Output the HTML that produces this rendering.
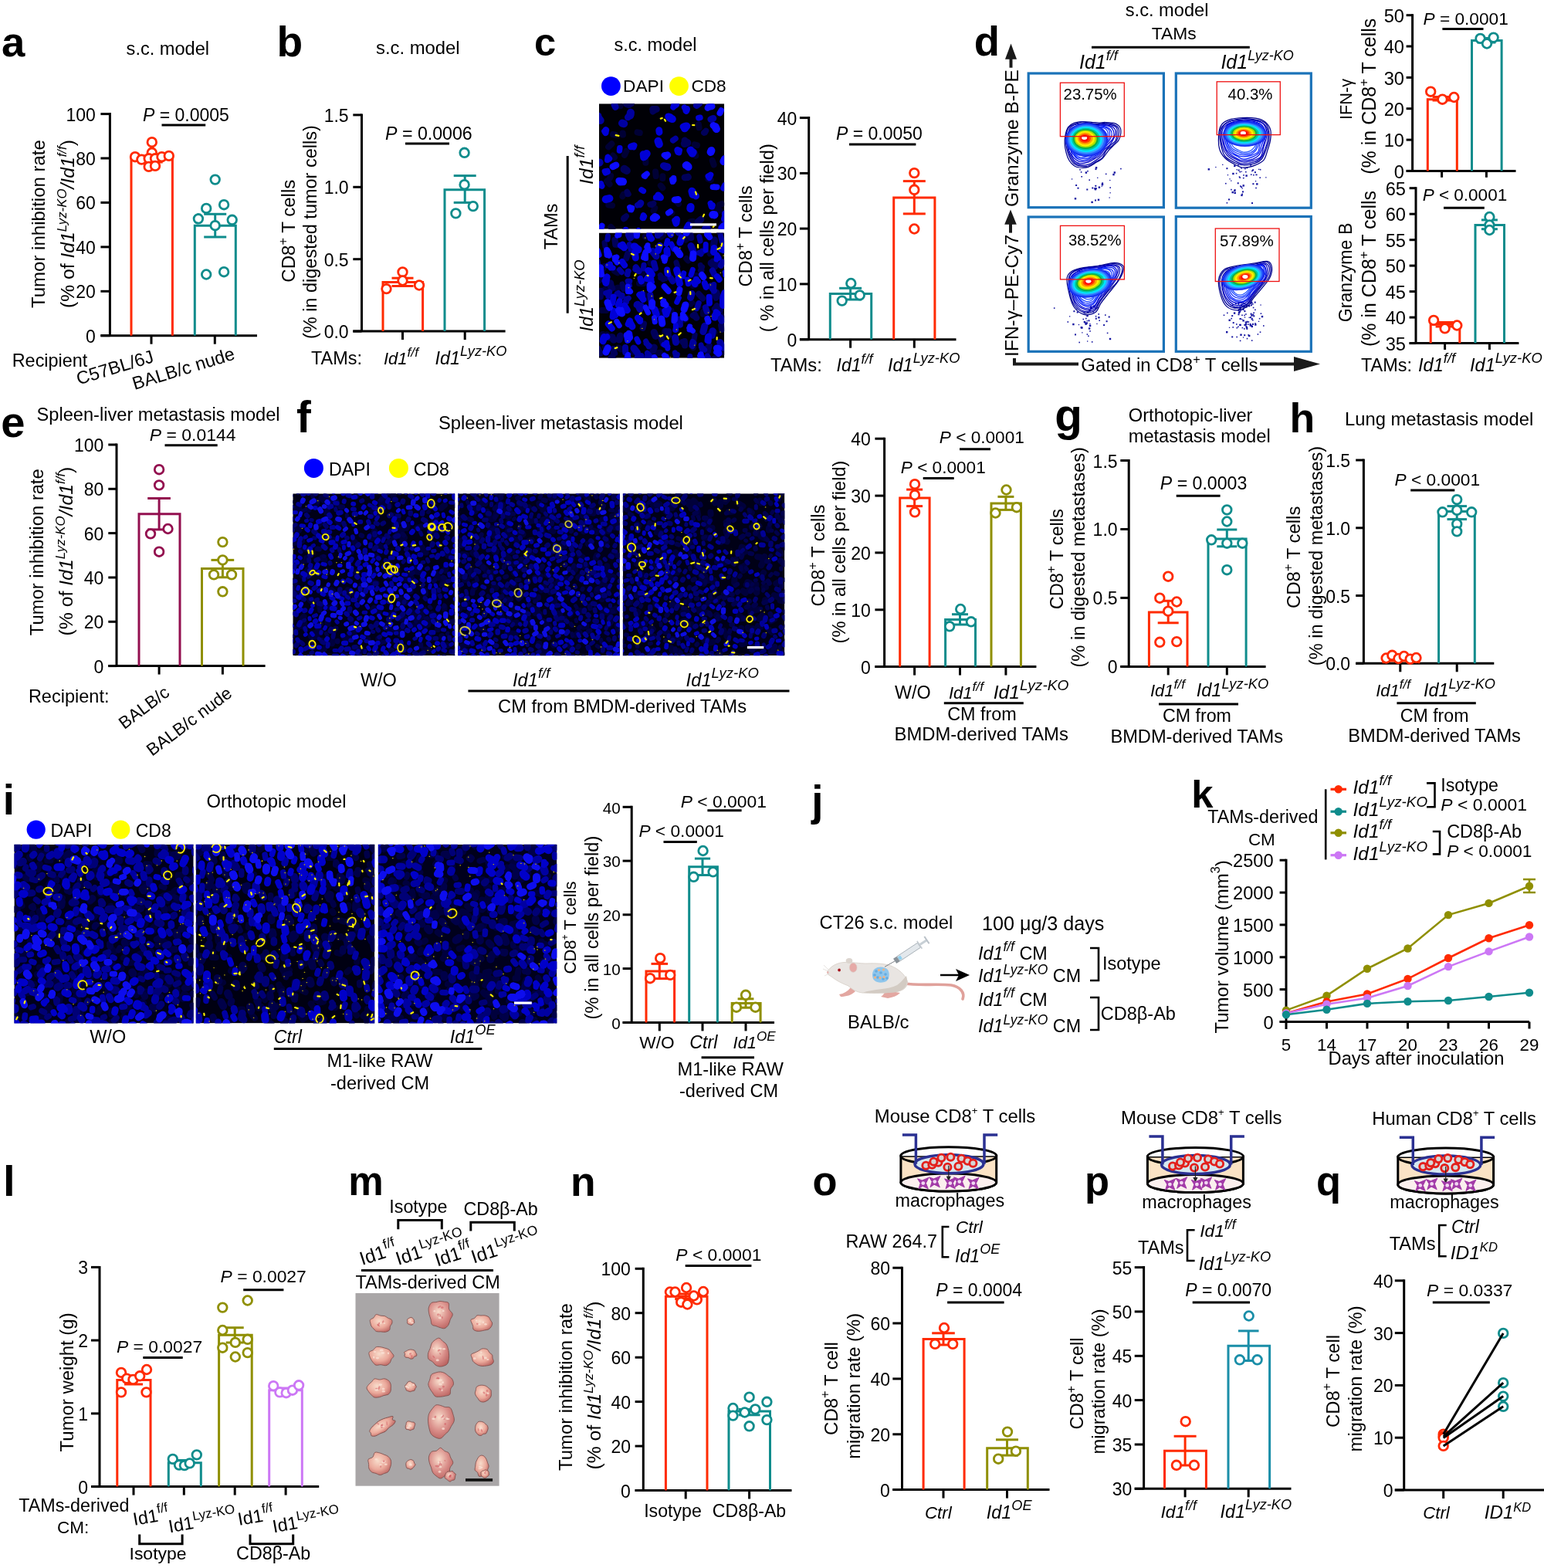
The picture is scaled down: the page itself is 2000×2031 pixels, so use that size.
<!DOCTYPE html>
<html><head><meta charset="utf-8"><title>Figure</title>
<style>
html,body{margin:0;padding:0;background:#fff;}
body{width:2000px;height:2031px;overflow:hidden;}
svg{display:block;font-family:"Liberation Sans",Arial,sans-serif;}
</style></head><body>
<svg width="2000" height="2031" viewBox="0 0 2000 2031">
<defs><filter id="mblur" x="0" y="0" width="1" height="1"><feGaussianBlur stdDeviation="0.55"/></filter></defs>
<rect width="2000" height="2031" fill="#fff"/>
<text x="2.0" y="72.5" font-size="54.55" font-weight="bold">a</text>
<text x="163.6" y="70.8" font-size="23.58">s.c. model</text>
<path d="M142.4 146.1 V434.7" stroke="#000" stroke-width="3" fill="none"/>
<line x1="130.4" y1="434.7" x2="333.0" y2="434.7" stroke="#000" stroke-width="3"/>
<line x1="130.4" y1="147.6" x2="142.4" y2="147.6" stroke="#000" stroke-width="3"/>
<text x="85.4" y="156.6" font-size="23.00">100</text>
<line x1="130.4" y1="205.0" x2="142.4" y2="205.0" stroke="#000" stroke-width="3"/>
<text x="98.3" y="214.0" font-size="23.00">80</text>
<line x1="130.4" y1="262.4" x2="142.4" y2="262.4" stroke="#000" stroke-width="3"/>
<text x="98.3" y="271.4" font-size="23.00">60</text>
<line x1="130.4" y1="319.9" x2="142.4" y2="319.9" stroke="#000" stroke-width="3"/>
<text x="98.3" y="328.8" font-size="23.00">40</text>
<line x1="130.4" y1="377.3" x2="142.4" y2="377.3" stroke="#000" stroke-width="3"/>
<text x="98.3" y="386.2" font-size="23.00">20</text>
<line x1="130.4" y1="434.7" x2="142.4" y2="434.7" stroke="#000" stroke-width="3"/>
<text x="111.0" y="443.7" font-size="23.00">0</text>
<line x1="196.0" y1="434.7" x2="196.0" y2="445.7" stroke="#000" stroke-width="3"/>
<line x1="278.3" y1="434.7" x2="278.3" y2="445.7" stroke="#000" stroke-width="3"/>
<path d="M170.0 434.7 V206.0 H223.4 V434.7" stroke="#ff2a00" stroke-width="3" fill="none"/>
<path d="M252.3 434.7 V292.2 H305.3 V434.7" stroke="#0f8c8c" stroke-width="3" fill="none"/>
<line x1="196.7" y1="206.0" x2="196.7" y2="202.0" stroke="#ff2a00" stroke-width="3"/>
<line x1="182.7" y1="202.0" x2="210.7" y2="202.0" stroke="#ff2a00" stroke-width="3"/>
<line x1="196.7" y1="206.0" x2="196.7" y2="210.0" stroke="#ff2a00" stroke-width="3"/>
<line x1="182.7" y1="210.0" x2="210.7" y2="210.0" stroke="#ff2a00" stroke-width="3"/>
<line x1="278.7" y1="292.2" x2="278.7" y2="277.3" stroke="#0f8c8c" stroke-width="3"/>
<line x1="264.2" y1="277.3" x2="293.2" y2="277.3" stroke="#0f8c8c" stroke-width="3"/>
<line x1="278.7" y1="292.2" x2="278.7" y2="307.0" stroke="#0f8c8c" stroke-width="3"/>
<line x1="264.2" y1="307.0" x2="293.2" y2="307.0" stroke="#0f8c8c" stroke-width="3"/>
<circle cx="196.8" cy="184.2" r="5.8" fill="#fff" stroke="#ff2a00" stroke-width="2.8"/>
<circle cx="196.8" cy="197.8" r="5.8" fill="#fff" stroke="#ff2a00" stroke-width="2.8"/>
<circle cx="175.0" cy="203.2" r="5.8" fill="#fff" stroke="#ff2a00" stroke-width="2.8"/>
<circle cx="183.4" cy="206.6" r="5.8" fill="#fff" stroke="#ff2a00" stroke-width="2.8"/>
<circle cx="192.7" cy="205.3" r="5.8" fill="#fff" stroke="#ff2a00" stroke-width="2.8"/>
<circle cx="201.0" cy="205.3" r="5.8" fill="#fff" stroke="#ff2a00" stroke-width="2.8"/>
<circle cx="209.5" cy="203.2" r="5.8" fill="#fff" stroke="#ff2a00" stroke-width="2.8"/>
<circle cx="218.8" cy="201.9" r="5.8" fill="#fff" stroke="#ff2a00" stroke-width="2.8"/>
<circle cx="192.7" cy="215.9" r="5.8" fill="#fff" stroke="#ff2a00" stroke-width="2.8"/>
<circle cx="201.0" cy="214.9" r="5.8" fill="#fff" stroke="#ff2a00" stroke-width="2.8"/>
<circle cx="278.7" cy="232.6" r="5.8" fill="#fff" stroke="#0f8c8c" stroke-width="2.8"/>
<circle cx="267.2" cy="269.9" r="5.8" fill="#fff" stroke="#0f8c8c" stroke-width="2.8"/>
<circle cx="290.1" cy="265.2" r="5.8" fill="#fff" stroke="#0f8c8c" stroke-width="2.8"/>
<circle cx="256.9" cy="283.3" r="5.8" fill="#fff" stroke="#0f8c8c" stroke-width="2.8"/>
<circle cx="300.7" cy="284.8" r="5.8" fill="#fff" stroke="#0f8c8c" stroke-width="2.8"/>
<circle cx="278.7" cy="292.2" r="5.8" fill="#fff" stroke="#0f8c8c" stroke-width="2.8"/>
<circle cx="267.2" cy="355.5" r="5.8" fill="#fff" stroke="#0f8c8c" stroke-width="2.8"/>
<circle cx="290.1" cy="352.2" r="5.8" fill="#fff" stroke="#0f8c8c" stroke-width="2.8"/>
<text x="185.0" y="157.2"><tspan font-size="23.01" font-style="italic">P</tspan><tspan font-size="23.01"> = 0.0005</tspan></text>
<line x1="209.5" y1="162.0" x2="266.2" y2="162.0" stroke="#000" stroke-width="3"/>
<text transform="translate(57.7,290.0) rotate(-90)" x="-109.0" y="0"><tspan font-size="24.01">Tumor inhibition rate</tspan></text>
<text transform="translate(95.5,290.0) rotate(-90)" x="-109.0" y="0"><tspan font-size="24.70">(% of </tspan><tspan font-size="24.70" font-style="italic">Id1</tspan><tspan font-size="16.79" font-style="italic" dy="-9.88">Lyz-KO</tspan><tspan font-size="24.70" font-style="italic" dy="9.88">/Id1</tspan><tspan font-size="16.79" font-style="italic" dy="-9.88">f/f</tspan><tspan font-size="24.70" dy="9.88">)</tspan></text>
<text x="15.7" y="474.5" font-size="23.43">Recipient</text>
<text x="-103.2" y="0.0" transform="translate(200.5,468.5) rotate(-17)"><tspan font-size="23.50">C57BL/6J</tspan></text>
<text x="-137.2" y="0.0" transform="translate(305.5,465) rotate(-17)"><tspan font-size="23.50">BALB/c nude</tspan></text>
<text x="358.5" y="72.9" font-size="55.10" font-weight="bold">b</text>
<text x="487.0" y="69.9" font-size="23.84">s.c. model</text>
<path d="M468.5 147.4 V429.1" stroke="#000" stroke-width="3" fill="none"/>
<line x1="457.3" y1="429.1" x2="654.6" y2="429.1" stroke="#000" stroke-width="3"/>
<line x1="457.3" y1="148.9" x2="468.5" y2="148.9" stroke="#000" stroke-width="3"/>
<text x="419.7" y="157.9" font-size="23.00">1.5</text>
<line x1="457.3" y1="242.3" x2="468.5" y2="242.3" stroke="#000" stroke-width="3"/>
<text x="419.7" y="251.3" font-size="23.00">1.0</text>
<line x1="457.3" y1="335.7" x2="468.5" y2="335.7" stroke="#000" stroke-width="3"/>
<text x="419.7" y="344.7" font-size="23.00">0.5</text>
<line x1="457.3" y1="429.1" x2="468.5" y2="429.1" stroke="#000" stroke-width="3"/>
<text x="419.7" y="438.1" font-size="23.00">0.0</text>
<line x1="521.5" y1="429.1" x2="521.5" y2="440.1" stroke="#000" stroke-width="3"/>
<line x1="602.2" y1="429.1" x2="602.2" y2="440.1" stroke="#000" stroke-width="3"/>
<path d="M496.0 429.1 V365.4 H547.6 V429.1" stroke="#ff2a00" stroke-width="3" fill="none"/>
<path d="M576.0 429.1 V245.7 H627.6 V429.1" stroke="#0f8c8c" stroke-width="3" fill="none"/>
<line x1="521.5" y1="365.4" x2="521.5" y2="360.2" stroke="#ff2a00" stroke-width="3"/>
<line x1="507.5" y1="360.2" x2="535.5" y2="360.2" stroke="#ff2a00" stroke-width="3"/>
<line x1="521.5" y1="365.4" x2="521.5" y2="370.5" stroke="#ff2a00" stroke-width="3"/>
<line x1="507.5" y1="370.5" x2="535.5" y2="370.5" stroke="#ff2a00" stroke-width="3"/>
<line x1="602.2" y1="245.7" x2="602.2" y2="227.6" stroke="#0f8c8c" stroke-width="3"/>
<line x1="587.7" y1="227.6" x2="616.7" y2="227.6" stroke="#0f8c8c" stroke-width="3"/>
<line x1="602.2" y1="245.7" x2="602.2" y2="262.4" stroke="#0f8c8c" stroke-width="3"/>
<line x1="587.7" y1="262.4" x2="616.7" y2="262.4" stroke="#0f8c8c" stroke-width="3"/>
<circle cx="521.5" cy="352.4" r="5.8" fill="#fff" stroke="#ff2a00" stroke-width="2.8"/>
<circle cx="500.5" cy="374.1" r="5.8" fill="#fff" stroke="#ff2a00" stroke-width="2.8"/>
<circle cx="543.0" cy="369.5" r="5.8" fill="#fff" stroke="#ff2a00" stroke-width="2.8"/>
<circle cx="521.5" cy="363.5" r="5.8" fill="#fff" stroke="#ff2a00" stroke-width="2.8"/>
<circle cx="601.6" cy="197.8" r="5.8" fill="#fff" stroke="#0f8c8c" stroke-width="2.8"/>
<circle cx="601.6" cy="239.2" r="5.8" fill="#fff" stroke="#0f8c8c" stroke-width="2.8"/>
<circle cx="590.4" cy="276.4" r="5.8" fill="#fff" stroke="#0f8c8c" stroke-width="2.8"/>
<circle cx="612.8" cy="267.1" r="5.8" fill="#fff" stroke="#0f8c8c" stroke-width="2.8"/>
<text x="499.0" y="180.5"><tspan font-size="23.18" font-style="italic">P</tspan><tspan font-size="23.18"> = 0.0006</tspan></text>
<line x1="525.0" y1="186.0" x2="582.0" y2="186.0" stroke="#000" stroke-width="3"/>
<text transform="translate(381.9,299.2) rotate(-90)" x="-66.5" y="0"><tspan font-size="24.06">CD8</tspan><tspan font-size="16.36" dy="-10.11">+</tspan><tspan font-size="24.06" dy="10.11"> T cells</tspan></text>
<text transform="translate(409.5,300.6) rotate(-90)" x="-138.5" y="0"><tspan font-size="23.50">(% in digested tumor cells)</tspan></text>
<text x="403.0" y="472.0" font-size="23.45">TAMs:</text>
<text x="497.0" y="472.0"><tspan font-size="22.00" font-style="italic">Id1</tspan><tspan font-size="17.16" font-style="italic" dy="-9.90">f/f</tspan></text>
<text x="563.4" y="472.0"><tspan font-size="23.42" font-style="italic">Id1</tspan><tspan font-size="18.26" font-style="italic" dy="-10.54">Lyz-KO</tspan></text>
<text x="692.0" y="72.4" font-size="50.73" font-weight="bold">c</text>
<text x="795.4" y="66.4" font-size="23.51">s.c. model</text>
<circle cx="791.4" cy="111.6" r="12.4" fill="#0000ff"/>
<text x="807.0" y="118.8" font-size="22.70">DAPI</text>
<circle cx="879.5" cy="111.6" r="12.4" fill="#ffff00"/>
<text x="895.4" y="118.8" font-size="22.65">CD8</text>
<clipPath id="c1"><rect x="776.0" y="134.3" width="162.2" height="162.4"/></clipPath>
<g clip-path="url(#c1)">
<rect x="776.0" y="134.3" width="162.2" height="162.4" fill="#000006"/>
<g filter="url(#mblur)">
<path fill="none" stroke="#000036" stroke-width="8" stroke-linecap="round" d="M849.1 222.4l.6 5.7M858.4 228.3l-.1 2.7M877.5 262.1l1.4 1.9M788.3 265.5l4.7 .6M936.1 288.8l-1.6 4.3M799.5 136.4l4 .8M806.7 172.5l.2 2.1M848.3 269.3l-1.7 3.7M855.8 240.4l2.5 2.9M939.4 293.9l-3.3 4.3M825.6 171.3l3.1 .7M899.4 196.8l1.9 5M930.6 271.3l1.6 1.2M922.7 207.8l1.9 5.6M786.2 234.6l3.4 3.8M792.3 186.3l-4.2 4M794 174.1l2.4 .4M904.9 161.1l.7 4.2M807.5 252l-1.1 2.3M794 201.6l1.9 2.1M935 264.2l-3 1.1M811.3 195.9l-2.3 4.9M791.3 293.9l2 2.1M899.8 187.4l3.1 .7M791.1 227.5l-.9 2.8M836.1 205l.3 5.8M868 274.4l2.4 1.3M922.1 266.3l2.5 1.7M897.3 286.8l-2.8 .4M917.3 231.7l3.5 1.2"/>
<path fill="none" stroke="rgb(0,0,90)" stroke-width="7.5" stroke-linecap="round" d="M812.2 248.5l1.8 2.9M812.7 249.4l.3 2M848 143.1l-2.4 1.7M891.3 228.4l-3 1.8M906.9 285.5l-3.3 1.7M844.4 264.1l-2.4 .7M846.6 263.5l-2.5 1.8M913.3 170.6l-1.5 1.4M914.5 169.3l-1.2 2.3M809.8 282.3l-1.9 1.2M811.2 280l-2.8 2"/>
<path fill="none" stroke="rgb(0,0,90)" stroke-width="8.8" stroke-linecap="round" d="M850.3 141.4l-4.7 .1M891.5 229.5l-4.5 .4M907.9 284.2l-3 2.4M811.6 134.7l3.1 1.1M808.1 219.8l2.8 .9M890.1 184.7l-3.1-2.7"/>
<path fill="none" stroke="rgb(0,0,90)" stroke-width="10.0" stroke-linecap="round" d="M814.8 133l2.4 .4M808.7 218.8l3.1 2.3M890.3 185l-3.5 1.1"/>
<path fill="none" stroke="rgb(0,0,160)" stroke-width="7.5" stroke-linecap="round" d="M875 179.5l-3.3 2.4M829.2 263.8l-3.5 2"/>
<path fill="none" stroke="rgb(0,0,160)" stroke-width="8.8" stroke-linecap="round" d="M796 135.9l1.2 2.6M774.9 149.9l.3 3.9M829.9 263l-1.1 1.9M859.4 214.6l2.8 .6M905.8 133.8l-3.5 2.8M923.9 153.3l-3.1 1.2M817 148.4l-3.6 3.5M916.5 296.2l-.5 3.2"/>
<path fill="none" stroke="rgb(0,0,160)" stroke-width="10.0" stroke-linecap="round" d="M806 159.6l2.2 .6M774.7 152.2l3 3.9M776.6 210.5l-3.6 .7M861.9 215.7l2.5 .7M816.9 145.8l-.5 3.6M913.8 296.9l1 2.3"/>
<path fill="none" stroke="rgb(0,0,215)" stroke-width="7.5" stroke-linecap="round" d="M782.9 170l1.6 2.4M802.8 191.8l-.3 3.2M834.4 280.4l-.9 1.8M833.4 278.9l-1 3.5M938.8 239.9l-1.9 4M939.4 242.8l-2.1 .5M893 292l-1.2 3.7M778.6 237.8l-4 1.3M779.7 241l-1.9-1.1M849.6 255.8l4.7 .2M787.1 222.6l-2.8 1.3M786.6 221.3l-3.2 .7M831 245.9l2.3 1.5M919.2 227.2l-1.9 1.1M920.6 226.4l-1.9 3.9M880.2 194.8l-.6 2.8M873.9 285.5l1.5 4.4M821.7 188.2l-.9 2.5M920.3 263.4l1.1 4.2M923 265.7l-.6 2.3M787.2 203.8l-.5 3.5M787.4 203.6l2 2.1M873.4 135l-1.4 3.9M886.5 139.1l1.8 2.7M906.9 152.3l-2 .4"/>
<path fill="none" stroke="rgb(0,0,215)" stroke-width="8.8" stroke-linecap="round" d="M784.8 168.5l-.6 2.5M865.6 150.8l2.6 .7M891.9 291.6l-2.1 3.7M852.6 252.8l3 3M898.5 251.1l3 2.9M877.7 194.5l.8 2.3M939.5 280.1l-1.1 3.6M894.6 194.2l3.7 2.9M853.7 168.7l.3 2.6M876.6 284.1l-.6 4.5M887.4 163.1l-2.4 .9M820.3 189.1l-2.9 .8M875.8 135.4l-1.9 1.2M889.6 141.3l-.7 2.2M833.1 199.7l.5 4.3M810.6 298.2l-1.7 2.4"/>
<path fill="none" stroke="rgb(0,0,215)" stroke-width="10.0" stroke-linecap="round" d="M867.8 152.9l3 1.2M896.4 247.7l1.1 4.2M939.8 277.2l.5 4.4M894.3 194.7l2.4 4M789.4 257l-4.7 1.2M889.3 163.4l-2.4 2.9M894.6 267.9l-.3 2.4M852.5 182.8l1.3 3.9M837.7 199l-2.9 3.8"/>
<path fill="none" stroke="rgb(10,10,255)" stroke-width="7.5" stroke-linecap="round" d="M779.8 292.3l-.6 2.3M815.8 268.5l.9 3M818.5 269.4l-.7 2.2M868.4 274l-2.7 1.8M827 298.5l-.8 2.2M870.7 232.3l.7 3M872.6 230.8l.2 2.2M923.4 242.3l3.9 .3M924.7 242l4.1 .2M851.2 281.3l-2.7 2.1M919.7 137.8l-3.3 2.3M837 225.9l-1.3 2.4M838 225.2l-3.5 2.6M933.1 144.9l-.9 1.8M934.3 142.9l-1.4 3.4M863.1 203l-2.7-2.1"/>
<path fill="none" stroke="rgb(10,10,255)" stroke-width="8.8" stroke-linecap="round" d="M923.9 162.3l3.2 3M922.9 278.5l2.3 .5M888.1 214.2l3.1 .4M848.5 280.4l-2.4 2.1M797.9 213.9l-4 2M922.1 137.7l-4.6 1.1M878.5 258.5l-4.4 .3M937.4 292.5l-2.7 3M864.8 200.7l-2.4 .6M805 234.3l-3.3-.2"/>
<path fill="none" stroke="rgb(10,10,255)" stroke-width="10.0" stroke-linecap="round" d="M926.6 164.1l1.3 3M923.4 277.9l2.2 .3M889.4 214l2.2 2.2M921.4 195l-.8 2M938.9 205.9l-1.5 3.2M938.2 294.1l-.5 3.5M807 235.3l-3.6 .2"/>
<path fill="none" stroke="#fff200" stroke-width="2.2" stroke-linecap="round" d="M924.8 293l-1 1M912 277.8l-1.2 2.6M897.1 162l2.2 .2M860.9 154.8l1.1 1.9M797.7 175.2l3.7 .6M901 248.6l1 3.2M857.7 153l-1.9 .6"/>
</g></g>
<clipPath id="c2"><rect x="776.0" y="301.5" width="162.2" height="162.3"/></clipPath>
<g clip-path="url(#c2)">
<rect x="776.0" y="301.5" width="162.2" height="162.3" fill="#000006"/>
<g filter="url(#mblur)">
<path fill="none" stroke="#00003a" stroke-width="8" stroke-linecap="round" d="M850.9 407.2l4.2 2M779 361.5l-2.6 1.7M889 397.3l-2.1 3.7M800.8 372.5l-2.5 .8M786.2 433.4l-1.3 1.9M828 367l5.4 .3M783.9 449.4l3.9 1.1M935.8 454l.6 2.4M796 351.1l3.9 2.2M890.2 309.1l-2.2 1.5M840.8 367.3l.3 4.4M840.8 306.2l-4.9 .5M933.6 407.6l1.4 3.1M887 410l1.8 1.7M834.9 381.9l-0 5.2M780.7 433.1l-.2 3.7M813.4 369.7l-2.7 2.3M793.4 389.7l-1.6 2.2M782.7 344.8l-1.4 3.1M783.5 374.9l1.8 2.2M855.2 456.8l-3.9 .5M801.7 450.5l2.9 1.9M896.7 448.8l1.3 1.5M899.5 356.9l3 .1M785.5 402l-5.9 0M859 304.4l-2.6 2M911.1 403.8l-.2 2.9M854.9 403l-3 .5M922.5 327.2l-2.9 1.2M822.3 453l-2.3 3.3M889.2 335.1l2.2 2.3M888 413.7l-2.4 .9M846 340.5l-3.7 .2M869.6 402.6l-5.6 .7M901.4 368.6l-4.1 1.3M903.3 394.1l1.4 3.1M896 392.1l-1.3 1.6M925.3 430.2l-5.4 1.6M861.1 429l3.4 1.1M834.9 349.8l-3.2 4.8"/>
<path fill="none" stroke="rgb(0,0,90)" stroke-width="7.0" stroke-linecap="round" d="M796.8 313.1l2.9 4.3M897 408.7l5.8 3.1M930 296.1l3.8 6M806 367.9l1.7 6.8M855.3 356.4l3.6 5.6M855.7 360l6.4 .7M907.3 343.3l1.7 6.6M909.6 345.7l-2.2 4.6M876 339.9l1.9 5.7M876.4 341.5l1.3 4.2M783.1 314.3l.8 4.9M914.3 451.2l3 3.7M862.6 428.7l4 5.8M883.5 442.6l3.8 4.8M900.1 433.7l-1.3 6.9M895.1 304.4l.6 4.1M892.8 304.1l1.6 4.3M794.6 451.5l2.1 6.3M793.8 451.6l.7 7.7M774.9 451.1l3.3 7.1M773.9 450.8l1.8 5.6M857.4 437.5l.8 8"/>
<path fill="none" stroke="rgb(0,0,90)" stroke-width="8.0" stroke-linecap="round" d="M796.5 310.7l.7 6M899.8 407.3l2 4.3M778.3 376.7l-.5 7.7M931 297.9l1.5 3.8M925.8 400l4.4 3.1M834 419.4l-1.3 5.5M905.2 380.8l5 5.6M925 380.1l2.5 5.7M934.1 421.5l1 5.4M813.2 328.4l-2 6.3M788.2 437.2l5.3-.6M918.7 447.9l-2 7.4M866.2 429.3l-.9 4.8M886.8 441.9l.3 5.7M927.9 463.9l1.4 6.3M789.8 369.4l3.4 3.9M923.3 338.8l5.3 3.7M856.1 438l1.5 3.8"/>
<path fill="none" stroke="rgb(0,0,90)" stroke-width="9.0" stroke-linecap="round" d="M928.7 396.6l3.6 5.3M927.9 379l1.3 4.5M792 436.7l3 3.6M803.5 435.1l-1.5 5M847.3 449.9l-1.5 4M926.1 464.5l1.2 4.1M790.6 366.8l1.2 6.1M847.2 430.4l2.1 5M921.1 340.7l4.6 4.7M925.5 310.9l-1.1 7.5M792.1 463l4 4.9"/>
<path fill="none" stroke="rgb(0,0,160)" stroke-width="7.0" stroke-linecap="round" d="M813.1 364.1l2.4 5.7M815.8 364l-1.7 4.9M813.2 351.4l-.2 4.3M814.2 351.1l-1.9 4M834 343.3l-.7 4.6M811.2 387l.2 4M814.3 386.1l-4.1 3.9M836.6 442l3.6 6.9M837.1 444.9l4.1 3M909.5 325.1l-1.4 4M911.3 325.5l-6.4 2M802.5 349.3l2.9 3.4M787.4 305.8l-.5 4.3M774 338.2l.8 4.6M877.3 459.1l-1.4 3.8M874.3 456.8l1.5 5M838.8 458l-.4 6.6M838.4 457.3l4.6 4.6M789.7 378.1l-1.8 5.8M789.7 378.2l-5 1.4M933.5 305.9l1.9 7.4M898.9 444.2l-2 4.3M897.1 442.3l-1.2 5.3M822.7 349l5.3 2.4M893.8 461.4l0 5.2M801.1 379.5l3.7 5.4M798.9 380.5l7.2 1.8M905.3 392.5l-2.9 7.3M881.2 415.5l-2.4 4M924.8 368.4l-.3 5.7M815.3 316.5l1.8 6.5M876.2 298.4l2.7 3.7M908.1 446.9l1.4 6.2M908.4 449.5l4.3 3.6M905.8 306.5l1.3 5.6"/>
<path fill="none" stroke="rgb(0,0,160)" stroke-width="8.0" stroke-linecap="round" d="M810 449.9l.2 6.5M815.3 302.6l4.3 3M922.8 350.5l2.1 4.1M913.8 398.2l1.9 5.4M842.3 381.7l.9 7.5M916.3 461.6l3.6 6.8M868.7 360.1l2.7 4.1M830.6 461l.5 5.4M824.6 394.8l5.9 1.2M852.3 298.3l-.3 6.7M823.7 346.2l3.7 4.9M880.2 413.6l.7 7.1M920.5 370.6l4.4 6M935.9 339.3l-2.1 4.6M847.1 340.7l1.7 6.9"/>
<path fill="none" stroke="rgb(0,0,160)" stroke-width="9.0" stroke-linecap="round" d="M845.3 325.5l4.7 6.4M874.5 437.4l1 5.9M814.4 304.2l1.8 4M932.9 411.4l2 3.9M821 451.1l4.4 5.7M912.8 422.3l-1.9 7.3M896 380.4l-1.5 5M923.1 428.7l-.8 5.6M932.7 443.5l3.2 6.6M826.2 462.5l4 4.5M826.1 394.2l2.9 6.2M895 318.6l3 7.2M851.4 296.2l3.7 6"/>
<path fill="none" stroke="rgb(0,0,215)" stroke-width="7.0" stroke-linecap="round" d="M890.4 362l1 5.7M825.9 411.6l3.7 2.4M885.7 353.9l-.8 4.1M918.5 435.1l-.3 6.9M904.6 364.3l-6.3 1.9M897.3 349.3l-2.3 6.9M794.8 403.1l2.8 5.5M837.2 361.5l6.7 .1M875.7 423.2l-.9 4.3M875.3 421.5l.3 5.6M914.2 316.5l-.1 7.4M864 351.5l2 3.8M879.3 385.9l-2.6 5.5M841 302.5l1 6.1M937.4 319.7l-.5 5M938.8 318.6l-5.1 4.8M930.2 406l-4.9 2.6M790.4 342l.8 5.1M787.2 344l6.9 2.9M928.7 330.9l-.6 5.1M928.8 330.3l2.4 4M864.6 311.5l-1.4 4.9M824.9 438.9l2 4.2M869.6 315.9l3 6.5M832 380.3l.8 7.9M863.6 443.8l1.2 7.4M859.9 446.3l4.9 2.6"/>
<path fill="none" stroke="rgb(0,0,215)" stroke-width="8.0" stroke-linecap="round" d="M861.3 402.5l1.9 4.9M794.7 384.6l-1.4 7.6M826 411.7l2.9 4.4M928.9 358.2l2.7 3.7M917.1 436.2l-.6 4.6M901.8 362l-1.5 6.1M937.4 387.6l2.6 5.1M820.9 318.7l6.5 3.7M794.8 402.4l-1.2 7.8M839 359.4l4.9 6M805.8 339.1l3.3 4.5M786.3 436.3l-5 2.6M864.2 349.4l.3 4.6M829.4 360.8l1.4 3.8M787.8 419.6l4.9 5.9M912.8 366.8l1.8 5.1M841.1 305.1l2.9 4.2M839.3 350.2l4.3 6.1M803.9 318l3.8 2.4M927.6 404.3l-1.8 7.2M938.4 379.2l-1.9 5.3M815.8 415.3l-2.1 4.6M802.5 390.2l-1.6 5.1M918.6 384.8l.4 7.9M828.3 381.8l5 6.1M865.3 297l3.6 6.9M786.4 358.5l-2.8 5.1"/>
<path fill="none" stroke="rgb(0,0,215)" stroke-width="9.0" stroke-linecap="round" d="M865.3 400.2l-2.4 6M936.4 388l.3 7.5M822.5 319l4.4 4.8M782.6 436.5l-1.5 5.3M822.4 327l.9 6.9M878.9 360.3l1.5 7.1M883 307.7l-2.1 6.4M925 321.6l-.5 4.8M841.2 351l3.2 4.5M806.4 317.1l2.1 3.7M863.9 324l.4 5.1M815.6 416.9l3.3 6M854.6 318.5l-2.3 6.2M808.8 396.1l3.6 5.7M848 400.9l2.2 6.2M876.5 349.8l1.4 4.7M785.9 359.2l-1.1 7.2"/>
<path fill="none" stroke="rgb(10,10,255)" stroke-width="7.0" stroke-linecap="round" d="M813.5 373.9l3.1 3.9M813.4 371l-0 6.8M884.5 407.6l3.5 5.1M884.4 406.9l.1 5M774.2 324.2l1.9 6.2M798.7 416.2l3.5 5.6M873.2 410.8l-.3 5.1M836.1 398l3.4 7.1M939.3 352.5l2.2 4.3M893.6 422.9l-.6 4.1M892.8 424.8l4.6 3.8M826.1 300.7l-1.1 3.9M796 333.6l3.2 6.6M798.9 333l-2.3 3.7M835.9 326.7l-2.4 7.1M836.3 327.3l.3 7.5M859.7 389.6l-.8 4.6M801.7 301.5l-2 3.6M860.5 460.3l4.6 5.3M847.5 411.6l.8 5.3M917.7 301.3l.5 4.5M906.7 460.6l3.1 2.9M862.1 333.8l-1.1 4.5M859.2 332.8l1.3 4.2M847.6 462.5l.9 6.2M848.5 463.9l-.9 6.6M813.6 459.3l-2.9 7M812.9 460.3l2.4 6.8M839 317.8l-.6 4"/>
<path fill="none" stroke="rgb(10,10,255)" stroke-width="8.0" stroke-linecap="round" d="M777.9 347.9l1.1 7.5M860.6 371.1l5.2 5.8M880.4 375.1l-1 4.1M916.3 412.7l1.2 3.9M874 408.1l-.1 6M875.5 323.3l4.4 6M941.3 352.1l-.9 4M811.9 434l1.1 6.8M824.4 299.9l.4 5.4M859.3 391.2l3.1 3.7M801.6 299.9l-.1 4.1M862.5 462l-.7 5.3M804.5 401.4l1.4 5M786.1 324l.4 5.9M916.1 303.7l3 3.3M845.8 371.8l-3.5 2.6M907.8 459.3l-.4 7.3M931.4 451.1l-3.2 5.1M838.3 320.1l1.7 3.9M909 355.7l2.3 3.4"/>
<path fill="none" stroke="rgb(10,10,255)" stroke-width="9.0" stroke-linecap="round" d="M856.8 412.9l1 6.1M777.6 346.7l-1 7.3M877.7 325.2l3.1 4.7M814.7 432.3l.8 5M787.3 450.6l-2.4 5.5M887.9 394.9l-1.8 5.8M801.4 401.7l2.3 3.7M786.9 325.9l1.7 4.3M842.1 369.6l.2 4.9M890.9 297.1l-1.9 4.6M898 328.8l-.5 5.8M786.9 391.7l2.6 6.7M844.7 391.8l-.3 5.1M928.4 450.9l2.5 6.8"/>
<path fill="none" stroke="#fff200" stroke-width="2.2" stroke-linecap="round" d="M817.9 328.7l2.9 1.3M879.2 357l2.7 2.5M928.7 437.2l-.1 2.5M935.3 315.4l-.9 3.4M830.5 405.5l-1.8 1.3M881.8 431.3l-2.6 2.3M886.8 307l-1.8 2M857.4 385.7l-2.2 .9M858.3 434.2l-2.8 1.7M875.5 378.3l-1.9 .6M791.8 417.2l-3.1 1.7M838.5 356.8l1 .3M863.9 435.7l1.8 2.8M899.9 399.9l-3 1.3M854.5 434.9l1.6 .1M904 317.2l.2 3.5M894.5 362.6l-2.6 1.1M853.2 317.1l3.3 .8M823.6 354.9l-1.4 2.2M932.9 321.3l-3.5 1.5M920 360.2l2.7 .2M799.4 450.1l-2.7 1M894.2 378l.2 3.1M864.9 350.8l.1 1.9"/>
<path fill="none" stroke="#c8b400" stroke-width="1.3" stroke-linecap="round" d="M814.2 372.7l.4 0M812.7 441.8l.4 0M920.8 409.7l.4 0M920.2 369l.4 0M932.9 430.1l.4 0M868.1 462.8l.4 0M821.2 360.3l.4 0M880.5 355.1l.4 0M933.1 353.3l.4 0M844 383.5l.4 0M786 343.1l.4 0M833.3 376.7l.4 0M917.3 404.9l.4 0M835.5 308.2l.4 0M849.2 318.7l.4 0M801.7 340.6l.4 0M876.2 427l.4 0M880.6 321.1l.4 0M849 328.9l.4 0M937 331.1l.4 0M870.4 304.5l.4 0M831.6 425.4l.4 0M847.3 413.8l.4 0M898.1 400.5l.4 0M899.5 447.2l.4 0"/>
</g></g>
<rect x="894.0" y="289.3" width="34.0" height="3.2" fill="#fff"/>
<line x1="735.2" y1="202.0" x2="735.2" y2="405.7" stroke="#000" stroke-width="3"/>
<text transform="translate(721.7,293.5) rotate(-90)" x="-29.8" y="0"><tspan font-size="23.50">TAMs</tspan></text>
<text transform="translate(768.0,212.9) rotate(-90)" x="-26.0" y="0"><tspan font-size="24.67" font-style="italic">Id1</tspan><tspan font-size="19.24" font-style="italic" dy="-11.10">f/f</tspan></text>
<text transform="translate(768.0,383.0) rotate(-90)" x="-46.5" y="0"><tspan font-size="23.39" font-style="italic">Id1</tspan><tspan font-size="18.25" font-style="italic" dy="-10.53">Lyz-KO</tspan></text>
<path d="M1047.7 151.1 V439.7" stroke="#000" stroke-width="3" fill="none"/>
<line x1="1035.9" y1="439.7" x2="1238.5" y2="439.7" stroke="#000" stroke-width="3"/>
<line x1="1035.9" y1="152.6" x2="1047.7" y2="152.6" stroke="#000" stroke-width="3"/>
<text x="1006.8" y="161.6" font-size="23.00">40</text>
<line x1="1035.9" y1="224.4" x2="1047.7" y2="224.4" stroke="#000" stroke-width="3"/>
<text x="1006.8" y="233.3" font-size="23.00">30</text>
<line x1="1035.9" y1="296.1" x2="1047.7" y2="296.1" stroke="#000" stroke-width="3"/>
<text x="1006.8" y="305.1" font-size="23.00">20</text>
<line x1="1035.9" y1="367.9" x2="1047.7" y2="367.9" stroke="#000" stroke-width="3"/>
<text x="1006.8" y="376.9" font-size="23.00">10</text>
<line x1="1035.9" y1="439.7" x2="1047.7" y2="439.7" stroke="#000" stroke-width="3"/>
<text x="1019.5" y="448.7" font-size="23.00">0</text>
<line x1="1101.6" y1="439.7" x2="1101.6" y2="450.7" stroke="#000" stroke-width="3"/>
<line x1="1184.3" y1="439.7" x2="1184.3" y2="450.7" stroke="#000" stroke-width="3"/>
<path d="M1075.3 439.7 V380.6 H1128.7 V439.7" stroke="#0f8c8c" stroke-width="3" fill="none"/>
<path d="M1157.7 439.7 V256.1 H1210.9 V439.7" stroke="#ff2a00" stroke-width="3" fill="none"/>
<line x1="1101.6" y1="380.6" x2="1101.6" y2="373.3" stroke="#0f8c8c" stroke-width="3"/>
<line x1="1087.1" y1="373.3" x2="1116.1" y2="373.3" stroke="#0f8c8c" stroke-width="3"/>
<line x1="1101.6" y1="380.6" x2="1101.6" y2="388.0" stroke="#0f8c8c" stroke-width="3"/>
<line x1="1087.1" y1="388.0" x2="1116.1" y2="388.0" stroke="#0f8c8c" stroke-width="3"/>
<line x1="1184.3" y1="256.1" x2="1184.3" y2="234.6" stroke="#ff2a00" stroke-width="3"/>
<line x1="1169.8" y1="234.6" x2="1198.8" y2="234.6" stroke="#ff2a00" stroke-width="3"/>
<line x1="1184.3" y1="256.1" x2="1184.3" y2="276.9" stroke="#ff2a00" stroke-width="3"/>
<line x1="1169.8" y1="276.9" x2="1198.8" y2="276.9" stroke="#ff2a00" stroke-width="3"/>
<circle cx="1102.3" cy="367.0" r="5.8" fill="#fff" stroke="#0f8c8c" stroke-width="2.8"/>
<circle cx="1090.7" cy="389.6" r="5.8" fill="#fff" stroke="#0f8c8c" stroke-width="2.8"/>
<circle cx="1113.7" cy="382.4" r="5.8" fill="#fff" stroke="#0f8c8c" stroke-width="2.8"/>
<circle cx="1184.3" cy="224.1" r="5.8" fill="#fff" stroke="#ff2a00" stroke-width="2.8"/>
<circle cx="1184.3" cy="245.8" r="5.8" fill="#fff" stroke="#ff2a00" stroke-width="2.8"/>
<circle cx="1184.3" cy="296.5" r="5.8" fill="#fff" stroke="#ff2a00" stroke-width="2.8"/>
<text x="1083.0" y="181.2"><tspan font-size="23.01" font-style="italic">P</tspan><tspan font-size="23.01"> = 0.0050</tspan></text>
<line x1="1100.0" y1="187.0" x2="1186.4" y2="187.0" stroke="#000" stroke-width="3"/>
<text transform="translate(974.4,306.0) rotate(-90)" x="-65.5" y="0"><tspan font-size="23.70">CD8</tspan><tspan font-size="16.12" dy="-9.95">+</tspan><tspan font-size="23.70" dy="9.95"> T cells</tspan></text>
<text transform="translate(1002.4,308.2) rotate(-90)" x="-122.0" y="0"><tspan font-size="23.74">( % in all cells per field)</tspan></text>
<text x="997.9" y="481.0" font-size="23.77">TAMs:</text>
<text x="1083.5" y="481.0"><tspan font-size="23.00" font-style="italic">Id1</tspan><tspan font-size="17.94" font-style="italic" dy="-10.35">f/f</tspan></text>
<text x="1150.0" y="481.0"><tspan font-size="23.49" font-style="italic">Id1</tspan><tspan font-size="18.32" font-style="italic" dy="-10.57">Lyz-KO</tspan></text>
<text x="1261.8" y="71.5" font-size="54.42" font-weight="bold">d</text>
<text x="1457.8" y="20.6" font-size="23.64">s.c. model</text>
<text x="1491.8" y="50.9" font-size="22.80">TAMs</text>
<line x1="1414.0" y1="61.3" x2="1618.8" y2="61.3" stroke="#000" stroke-width="3"/>
<text x="1398.0" y="88.8"><tspan font-size="25.00" font-style="italic">Id1</tspan><tspan font-size="18.00" font-style="italic" dy="-11.25">f/f</tspan></text>
<text x="1581.4" y="89.3"><tspan font-size="25.00" font-style="italic">Id1</tspan><tspan font-size="18.00" font-style="italic" dy="-11.25">Lyz-KO</tspan></text>
<rect x="1332.2" y="95.0" width="175.2" height="173.7" fill="#fff" stroke="#1a72b8" stroke-width="3.2"/>
<rect x="1437.5" y="249.1" width="1.3" height="1.3" fill="#1414a0"/><rect x="1414.3" y="242.5" width="2.0" height="2.0" fill="#1414a0"/><rect x="1398.2" y="219.0" width="1.6" height="1.6" fill="#1414a0"/><rect x="1418.5" y="218.1" width="2.0" height="2.0" fill="#1414a0"/><rect x="1387.9" y="231.3" width="1.3" height="1.3" fill="#1414a0"/><rect x="1410.4" y="232.4" width="1.6" height="1.6" fill="#1414a0"/><rect x="1408.2" y="220.9" width="1.6" height="1.6" fill="#1414a0"/><rect x="1418.9" y="216.0" width="2.4" height="2.4" fill="#1414a0"/><rect x="1451.1" y="217.8" width="1.6" height="1.6" fill="#1414a0"/><rect x="1442.6" y="222.3" width="2.4" height="2.4" fill="#1414a0"/><rect x="1418.3" y="239.8" width="2.0" height="2.0" fill="#1414a0"/><rect x="1399.8" y="222.1" width="1.6" height="1.6" fill="#1414a0"/><rect x="1418.0" y="258.5" width="2.0" height="2.0" fill="#1414a0"/><rect x="1426.7" y="240.5" width="1.3" height="1.3" fill="#1414a0"/><rect x="1436.5" y="255.4" width="1.3" height="1.3" fill="#1414a0"/><rect x="1413.4" y="260.7" width="2.4" height="2.4" fill="#1414a0"/><rect x="1431.9" y="224.6" width="1.6" height="1.6" fill="#1414a0"/><rect x="1407.3" y="244.5" width="2.0" height="2.0" fill="#1414a0"/><rect x="1426.8" y="237.9" width="2.4" height="2.4" fill="#1414a0"/><rect x="1427.1" y="236.4" width="2.0" height="2.0" fill="#1414a0"/><rect x="1405.7" y="222.4" width="2.4" height="2.4" fill="#1414a0"/><rect x="1437.4" y="242.3" width="1.6" height="1.6" fill="#1414a0"/><rect x="1437.1" y="232.9" width="1.3" height="1.3" fill="#1414a0"/><rect x="1418.8" y="243.1" width="2.0" height="2.0" fill="#1414a0"/><rect x="1395.5" y="242.7" width="2.0" height="2.0" fill="#1414a0"/><rect x="1441.3" y="224.9" width="2.4" height="2.4" fill="#1414a0"/><rect x="1400.4" y="228.0" width="1.6" height="1.6" fill="#1414a0"/><rect x="1421.1" y="229.7" width="1.3" height="1.3" fill="#1414a0"/><rect x="1417.8" y="244.0" width="2.4" height="2.4" fill="#1414a0"/><rect x="1417.3" y="243.0" width="2.4" height="2.4" fill="#1414a0"/><rect x="1391.8" y="256.1" width="2.4" height="2.4" fill="#1414a0"/><rect x="1393.1" y="239.0" width="2.0" height="2.0" fill="#1414a0"/><rect x="1421.8" y="257.6" width="2.4" height="2.4" fill="#1414a0"/><rect x="1422.7" y="241.5" width="2.4" height="2.4" fill="#1414a0"/><rect x="1426.8" y="237.6" width="1.6" height="1.6" fill="#1414a0"/><path d="M1379.9 175.5C1380.6 171.9 1381.7 167.5 1383.5 164.8C1385.3 162.2 1387.6 160.8 1390.7 159.6C1393.7 158.4 1397.9 157.9 1401.9 157.6C1405.9 157.4 1411.3 158.1 1414.9 158.4C1418.4 158.6 1420.5 159.0 1423.3 159.0C1426.2 159.0 1428.4 158.4 1431.8 158.5C1435.2 158.6 1440.5 158.6 1443.6 159.7C1446.8 160.8 1449.6 162.9 1450.9 165.2C1452.3 167.5 1452.0 170.8 1451.7 173.5C1451.3 176.3 1450.6 179.2 1448.9 181.8C1447.3 184.4 1444.0 186.8 1441.7 189.1C1439.4 191.4 1437.5 193.1 1435.2 195.8C1433.0 198.5 1430.6 203.0 1428.0 205.4C1425.5 207.9 1423.1 208.5 1420.0 210.3C1417.0 212.1 1413.4 215.2 1409.7 216.4C1406.0 217.5 1400.9 217.3 1397.8 217.0C1394.7 216.6 1393.2 215.9 1391.1 214.4C1389.0 212.9 1386.8 210.8 1385.1 208.0C1383.4 205.2 1382.0 201.4 1381.1 197.8C1380.1 194.2 1379.4 190.3 1379.2 186.5C1379.0 182.8 1379.2 179.1 1379.9 175.5Z" fill="none" stroke="#00008a" stroke-width="1.25"/><path d="M1380.6 176.5C1381.2 173.0 1382.7 167.8 1384.5 165.2C1386.4 162.6 1388.8 162.3 1391.6 161.1C1394.5 159.9 1397.7 158.2 1401.4 158.0C1405.1 157.7 1410.3 159.3 1413.8 159.7C1417.3 160.1 1419.7 160.6 1422.5 160.5C1425.4 160.5 1428.0 159.4 1431.0 159.5C1434.1 159.5 1438.0 159.9 1440.9 160.9C1443.9 161.9 1447.2 163.4 1448.6 165.6C1450.0 167.7 1449.6 170.8 1449.2 173.6C1448.9 176.4 1447.9 179.6 1446.4 182.2C1444.9 184.8 1442.4 187.1 1440.2 189.3C1437.9 191.4 1434.9 192.5 1432.9 195.0C1430.8 197.5 1430.2 202.0 1427.9 204.4C1425.6 206.9 1422.3 207.9 1419.2 209.6C1416.2 211.4 1413.0 214.0 1409.6 215.0C1406.2 215.9 1401.9 215.7 1398.8 215.2C1395.7 214.7 1393.2 213.6 1391.2 212.1C1389.2 210.6 1388.1 208.5 1386.7 206.0C1385.4 203.6 1384.2 200.8 1383.2 197.5C1382.2 194.2 1381.1 189.6 1380.7 186.1C1380.2 182.6 1379.9 180.0 1380.6 176.5Z" fill="none" stroke="#00009c" stroke-width="1.25"/><path d="M1382.7 176.7C1383.3 173.4 1384.3 168.8 1385.8 166.2C1387.4 163.7 1389.4 162.6 1392.1 161.5C1394.7 160.4 1398.2 160.1 1401.8 159.8C1405.4 159.6 1410.3 159.8 1413.6 160.1C1416.9 160.3 1418.9 161.4 1421.5 161.5C1424.1 161.5 1426.2 160.4 1429.2 160.4C1432.1 160.5 1436.3 160.8 1439.1 161.7C1442.0 162.6 1445.2 163.7 1446.4 165.6C1447.7 167.6 1447.1 170.7 1446.9 173.5C1446.6 176.2 1446.3 179.8 1444.9 182.3C1443.5 184.7 1440.5 186.1 1438.3 188.2C1436.2 190.3 1434.1 192.4 1432.1 194.8C1430.2 197.1 1428.8 200.3 1426.6 202.4C1424.5 204.6 1422.0 206.0 1419.1 207.8C1416.3 209.6 1413.0 212.2 1409.6 213.1C1406.1 214.1 1401.5 214.1 1398.5 213.6C1395.5 213.2 1393.5 212.0 1391.7 210.5C1389.9 209.0 1389.0 207.2 1387.7 204.8C1386.5 202.4 1385.2 199.3 1384.2 196.1C1383.3 193.0 1382.5 189.2 1382.3 185.9C1382.0 182.7 1382.1 180.0 1382.7 176.7Z" fill="none" stroke="#0000b0" stroke-width="1.25"/><path d="M1383.3 176.0C1384.0 172.9 1385.4 169.2 1387.1 167.0C1388.8 164.9 1391.0 164.1 1393.4 163.1C1395.9 162.0 1398.6 161.1 1401.8 160.7C1405.0 160.4 1409.6 160.6 1412.7 160.9C1415.8 161.2 1417.9 162.5 1420.5 162.7C1423.1 162.8 1425.6 161.9 1428.4 161.8C1431.2 161.8 1434.6 161.5 1437.2 162.4C1439.8 163.2 1442.7 164.9 1444.0 166.8C1445.3 168.6 1445.3 171.2 1444.9 173.6C1444.5 176.1 1442.9 179.1 1441.6 181.5C1440.3 183.9 1438.9 186.1 1437.1 188.1C1435.3 190.1 1433.0 191.2 1430.9 193.4C1428.8 195.7 1426.8 199.6 1424.7 201.6C1422.6 203.6 1420.8 204.0 1418.3 205.4C1415.8 206.8 1412.8 209.1 1409.5 210.2C1406.2 211.3 1401.5 212.1 1398.7 211.9C1395.8 211.7 1394.0 210.2 1392.3 208.8C1390.7 207.4 1390.1 205.9 1388.8 203.5C1387.5 201.2 1385.6 197.6 1384.6 194.6C1383.6 191.7 1383.0 189.1 1382.8 186.0C1382.6 182.9 1382.6 179.2 1383.3 176.0Z" fill="none" stroke="#0000c4" stroke-width="1.25"/><path d="M1384.3 176.9C1384.8 174.1 1385.9 170.4 1387.6 168.2C1389.2 165.9 1391.6 164.4 1394.1 163.3C1396.5 162.2 1399.1 161.8 1402.1 161.7C1405.1 161.6 1409.3 162.5 1412.2 162.6C1415.1 162.8 1417.0 162.7 1419.5 162.6C1422.0 162.5 1424.6 162.1 1427.2 162.2C1429.9 162.3 1433.3 162.3 1435.6 163.1C1437.9 163.9 1439.9 165.1 1441.1 167.1C1442.4 169.0 1443.1 172.4 1443.0 174.8C1442.9 177.1 1441.9 179.0 1440.5 181.1C1439.0 183.2 1436.2 185.7 1434.4 187.6C1432.6 189.5 1431.2 190.6 1429.4 192.7C1427.7 194.7 1426.1 198.2 1424.0 200.1C1421.8 202.1 1419.3 203.0 1416.8 204.4C1414.3 205.8 1411.8 207.7 1408.8 208.5C1405.8 209.3 1401.4 209.5 1399.0 209.3C1396.5 209.0 1395.8 208.4 1394.2 207.2C1392.6 206.1 1390.6 204.6 1389.3 202.3C1388.1 200.1 1387.6 196.8 1386.8 193.9C1385.9 191.1 1384.6 187.9 1384.2 185.0C1383.7 182.2 1383.7 179.7 1384.3 176.9Z" fill="none" stroke="#0008d8" stroke-width="1.25"/><path d="M1385.8 177.0C1386.3 174.1 1387.8 170.1 1389.2 168.1C1390.6 166.0 1391.8 165.4 1394.1 164.6C1396.3 163.7 1399.7 163.2 1402.6 162.9C1405.6 162.6 1409.2 162.8 1411.9 162.9C1414.6 163.0 1416.5 163.6 1418.8 163.6C1421.0 163.7 1423.0 162.8 1425.3 162.9C1427.7 163.1 1430.8 163.4 1433.1 164.3C1435.3 165.3 1437.6 166.9 1438.8 168.6C1440.0 170.4 1440.4 172.8 1440.1 174.9C1439.8 177.1 1438.4 179.5 1437.3 181.4C1436.1 183.3 1434.8 184.7 1433.2 186.4C1431.7 188.1 1429.6 189.2 1427.9 191.3C1426.2 193.5 1424.7 197.3 1422.9 199.2C1421.0 201.1 1419.1 201.3 1416.7 202.5C1414.3 203.8 1411.0 206.1 1408.3 206.9C1405.5 207.7 1402.5 207.6 1400.3 207.3C1398.0 207.0 1396.4 206.3 1394.7 205.1C1393.1 203.9 1391.9 202.0 1390.6 200.1C1389.4 198.2 1387.9 196.1 1387.2 193.6C1386.4 191.1 1386.2 188.1 1386.0 185.3C1385.8 182.6 1385.2 179.9 1385.8 177.0Z" fill="none" stroke="#0018f4" stroke-width="1.25"/><path d="M1387.6 177.0C1388.2 174.4 1388.8 170.6 1390.0 168.6C1391.2 166.6 1392.7 165.8 1394.9 165.0C1397.0 164.3 1400.2 164.2 1402.9 164.0C1405.7 163.9 1408.8 163.7 1411.4 164.0C1414.0 164.2 1416.6 165.4 1418.7 165.5C1420.8 165.6 1421.7 164.6 1424.0 164.5C1426.2 164.5 1429.9 164.4 1432.1 165.1C1434.2 165.8 1435.8 167.3 1436.7 168.8C1437.6 170.3 1437.6 172.1 1437.5 174.2C1437.3 176.2 1436.7 179.2 1435.7 181.1C1434.6 183.0 1432.7 184.3 1431.1 185.8C1429.4 187.4 1427.4 188.6 1425.7 190.4C1424.0 192.3 1422.5 195.2 1420.9 197.0C1419.3 198.8 1418.0 199.7 1415.9 201.0C1413.9 202.4 1411.0 204.5 1408.3 205.1C1405.7 205.8 1402.0 205.3 1399.8 205.1C1397.6 204.8 1396.4 204.7 1395.0 203.7C1393.6 202.7 1392.3 201.0 1391.3 199.1C1390.2 197.3 1389.5 194.9 1388.7 192.4C1388.0 190.0 1386.8 187.0 1386.6 184.4C1386.4 181.8 1387.1 179.6 1387.6 177.0Z" fill="none" stroke="#1028ff" stroke-width="1.25"/><path d="M1388.5 176.5C1388.8 174.1 1389.5 171.3 1390.8 169.7C1392.0 168.1 1394.2 167.7 1396.1 166.9C1398.1 166.1 1400.1 165.4 1402.5 165.1C1405.0 164.7 1408.2 164.7 1410.6 165.0C1413.1 165.2 1415.3 166.4 1417.2 166.5C1419.1 166.7 1420.0 165.9 1422.1 165.8C1424.3 165.7 1428.1 165.1 1430.2 165.9C1432.3 166.6 1433.9 168.5 1434.7 170.1C1435.6 171.7 1435.4 173.4 1435.2 175.3C1435.0 177.1 1434.5 179.3 1433.6 181.1C1432.6 183.0 1431.0 184.8 1429.5 186.3C1428.1 187.8 1426.5 188.5 1424.9 190.1C1423.2 191.6 1421.5 194.1 1419.8 195.7C1418.0 197.2 1416.3 198.5 1414.4 199.6C1412.5 200.8 1410.8 201.9 1408.5 202.6C1406.2 203.3 1402.8 204.1 1400.6 204.0C1398.5 203.9 1397.0 202.9 1395.5 201.9C1394.0 201.0 1392.7 199.7 1391.7 198.0C1390.6 196.3 1389.6 194.1 1389.1 191.7C1388.6 189.4 1388.7 186.7 1388.5 184.2C1388.4 181.6 1388.1 178.9 1388.5 176.5Z" fill="none" stroke="#1838ff" stroke-width="1.25"/><path d="M1389.4 177.5C1389.9 175.1 1391.3 171.5 1392.5 169.9C1393.7 168.3 1394.9 168.4 1396.7 167.7C1398.4 167.1 1400.8 166.3 1403.1 166.2C1405.5 166.1 1408.3 166.9 1410.6 167.0C1412.9 167.1 1414.9 167.0 1416.8 166.9C1418.6 166.8 1419.7 166.4 1421.5 166.4C1423.3 166.4 1425.7 166.1 1427.4 166.8C1429.1 167.6 1430.7 169.5 1431.7 170.8C1432.8 172.2 1433.6 173.2 1433.6 174.9C1433.5 176.5 1432.3 179.0 1431.2 180.7C1430.1 182.4 1428.2 183.5 1426.8 185.0C1425.3 186.4 1423.9 187.9 1422.5 189.4C1421.1 190.9 1419.8 192.9 1418.3 194.2C1416.9 195.6 1415.6 196.2 1413.9 197.4C1412.2 198.5 1410.2 200.7 1408.1 201.4C1405.9 202.0 1403.1 201.6 1401.1 201.4C1399.1 201.2 1397.5 201.0 1396.1 200.2C1394.7 199.3 1393.7 198.0 1392.8 196.4C1391.8 194.7 1391.0 192.5 1390.5 190.4C1390.0 188.4 1390.0 186.1 1389.8 184.0C1389.6 181.8 1389.0 179.8 1389.4 177.5Z" fill="none" stroke="#2048ff" stroke-width="1.25"/><path d="M1391.5 177.2C1391.8 175.2 1392.0 172.9 1393.0 171.5C1393.9 170.0 1395.7 169.1 1397.3 168.3C1399.0 167.6 1400.9 166.8 1402.9 166.7C1405.0 166.7 1407.7 167.6 1409.7 167.9C1411.7 168.1 1413.1 168.3 1414.8 168.3C1416.5 168.3 1417.9 168.0 1419.8 168.1C1421.7 168.1 1424.5 168.1 1426.2 168.6C1427.8 169.1 1428.7 169.9 1429.4 171.0C1430.2 172.2 1430.8 173.8 1430.7 175.4C1430.6 176.9 1429.8 179.0 1428.9 180.5C1428.0 181.9 1426.6 182.8 1425.4 184.1C1424.1 185.4 1422.5 186.7 1421.2 188.2C1419.9 189.7 1418.8 191.8 1417.5 193.2C1416.2 194.6 1415.2 195.5 1413.5 196.5C1411.9 197.6 1409.7 199.0 1407.6 199.5C1405.5 200.0 1402.8 199.7 1400.9 199.5C1399.1 199.3 1397.6 198.8 1396.4 198.1C1395.3 197.4 1394.8 196.7 1394.1 195.3C1393.4 193.8 1392.8 191.3 1392.4 189.3C1391.9 187.2 1391.4 185.1 1391.3 183.1C1391.1 181.1 1391.2 179.1 1391.5 177.2Z" fill="none" stroke="#2858ff" stroke-width="1.25"/><ellipse cx="1407.6" cy="181.1" rx="27.7" ry="21.8" fill="#1830f0" transform="rotate(0 1407.6 181.1)"/><ellipse cx="1407.4" cy="180.9" rx="25.2" ry="19.8" fill="#2860ff" transform="rotate(0 1407.4 180.9)"/><ellipse cx="1407.1" cy="180.7" rx="23.1" ry="18.2" fill="#3a9cff" transform="rotate(0 1407.1 180.7)"/><ellipse cx="1406.9" cy="180.5" rx="21.0" ry="16.5" fill="#00e4ff" transform="rotate(0 1406.9 180.5)"/><ellipse cx="1406.6" cy="180.3" rx="18.5" ry="14.5" fill="#00c8a0" transform="rotate(0 1406.6 180.3)"/><ellipse cx="1406.4" cy="180.1" rx="16.4" ry="12.9" fill="#10b040" transform="rotate(0 1406.4 180.1)"/><ellipse cx="1406.2" cy="179.9" rx="14.3" ry="11.2" fill="#b0e000" transform="rotate(0 1406.2 179.9)"/><ellipse cx="1405.9" cy="179.7" rx="12.2" ry="9.6" fill="#ffee00" transform="rotate(0 1405.9 179.7)"/><ellipse cx="1405.7" cy="179.5" rx="9.9" ry="7.8" fill="#ffa000" transform="rotate(0 1405.7 179.5)"/><ellipse cx="1405.4" cy="179.3" rx="7.6" ry="5.9" fill="#ff4000" transform="rotate(0 1405.4 179.3)"/><ellipse cx="1405.2" cy="179.1" rx="5.2" ry="4.1" fill="#ff0000" transform="rotate(0 1405.2 179.1)"/><ellipse cx="1404.6" cy="178.6" rx="3.6" ry="2.4" fill="#ffffff"/>
<rect x="1523.3" y="95.0" width="175.0" height="174.2" fill="#fff" stroke="#1a72b8" stroke-width="3.2"/>
<rect x="1639.2" y="229.2" width="1.3" height="1.3" fill="#1414a0"/><rect x="1619.9" y="225.4" width="1.6" height="1.6" fill="#1414a0"/><rect x="1608.4" y="250.6" width="1.6" height="1.6" fill="#1414a0"/><rect x="1609.9" y="230.0" width="1.3" height="1.3" fill="#1414a0"/><rect x="1603.6" y="219.5" width="2.0" height="2.0" fill="#1414a0"/><rect x="1595.5" y="247.9" width="2.4" height="2.4" fill="#1414a0"/><rect x="1624.9" y="222.2" width="2.0" height="2.0" fill="#1414a0"/><rect x="1583.1" y="212.7" width="1.3" height="1.3" fill="#1414a0"/><rect x="1591.0" y="257.4" width="2.0" height="2.0" fill="#1414a0"/><rect x="1587.0" y="236.9" width="1.6" height="1.6" fill="#1414a0"/><rect x="1601.5" y="219.1" width="1.3" height="1.3" fill="#1414a0"/><rect x="1613.4" y="226.4" width="2.4" height="2.4" fill="#1414a0"/><rect x="1564.6" y="218.1" width="2.4" height="2.4" fill="#1414a0"/><rect x="1621.0" y="262.1" width="2.0" height="2.0" fill="#1414a0"/><rect x="1607.3" y="251.7" width="2.4" height="2.4" fill="#1414a0"/><rect x="1588.6" y="262.0" width="1.6" height="1.6" fill="#1414a0"/><rect x="1622.1" y="219.3" width="2.0" height="2.0" fill="#1414a0"/><rect x="1604.7" y="228.3" width="1.6" height="1.6" fill="#1414a0"/><rect x="1623.1" y="225.9" width="1.6" height="1.6" fill="#1414a0"/><rect x="1602.7" y="236.3" width="2.0" height="2.0" fill="#1414a0"/><rect x="1598.1" y="245.7" width="2.4" height="2.4" fill="#1414a0"/><rect x="1607.6" y="241.6" width="1.6" height="1.6" fill="#1414a0"/><rect x="1631.4" y="229.4" width="1.6" height="1.6" fill="#1414a0"/><rect x="1622.4" y="237.2" width="2.0" height="2.0" fill="#1414a0"/><rect x="1598.5" y="248.7" width="2.4" height="2.4" fill="#1414a0"/><rect x="1596.2" y="223.8" width="2.4" height="2.4" fill="#1414a0"/><rect x="1600.8" y="223.8" width="1.6" height="1.6" fill="#1414a0"/><rect x="1598.1" y="213.7" width="2.4" height="2.4" fill="#1414a0"/><rect x="1626.2" y="242.7" width="1.6" height="1.6" fill="#1414a0"/><rect x="1605.9" y="222.0" width="1.3" height="1.3" fill="#1414a0"/><rect x="1627.0" y="225.6" width="1.6" height="1.6" fill="#1414a0"/><rect x="1594.1" y="233.5" width="1.3" height="1.3" fill="#1414a0"/><rect x="1610.2" y="226.1" width="1.6" height="1.6" fill="#1414a0"/><rect x="1610.3" y="229.9" width="1.3" height="1.3" fill="#1414a0"/><rect x="1592.4" y="231.2" width="1.3" height="1.3" fill="#1414a0"/><rect x="1621.1" y="220.6" width="1.6" height="1.6" fill="#1414a0"/><rect x="1607.6" y="221.6" width="1.3" height="1.3" fill="#1414a0"/><rect x="1630.0" y="218.7" width="1.3" height="1.3" fill="#1414a0"/><rect x="1605.4" y="221.7" width="1.6" height="1.6" fill="#1414a0"/><rect x="1608.5" y="243.5" width="1.3" height="1.3" fill="#1414a0"/><rect x="1607.2" y="217.1" width="1.6" height="1.6" fill="#1414a0"/><rect x="1612.0" y="217.8" width="1.6" height="1.6" fill="#1414a0"/><rect x="1626.3" y="225.8" width="1.3" height="1.3" fill="#1414a0"/><rect x="1606.8" y="241.3" width="1.6" height="1.6" fill="#1414a0"/><rect x="1589.8" y="226.0" width="1.3" height="1.3" fill="#1414a0"/><rect x="1627.1" y="237.2" width="2.4" height="2.4" fill="#1414a0"/><rect x="1606.1" y="240.3" width="1.6" height="1.6" fill="#1414a0"/><rect x="1625.9" y="234.0" width="1.3" height="1.3" fill="#1414a0"/><rect x="1631.8" y="218.9" width="1.6" height="1.6" fill="#1414a0"/><rect x="1588.4" y="217.2" width="2.0" height="2.0" fill="#1414a0"/><rect x="1603.1" y="213.3" width="1.6" height="1.6" fill="#1414a0"/><rect x="1609.0" y="247.4" width="2.0" height="2.0" fill="#1414a0"/><rect x="1598.9" y="245.1" width="1.6" height="1.6" fill="#1414a0"/><rect x="1605.4" y="229.4" width="1.6" height="1.6" fill="#1414a0"/><rect x="1613.0" y="221.9" width="1.6" height="1.6" fill="#1414a0"/><rect x="1574.2" y="215.9" width="1.3" height="1.3" fill="#1414a0"/><rect x="1619.1" y="212.7" width="2.0" height="2.0" fill="#1414a0"/><rect x="1614.6" y="216.7" width="1.6" height="1.6" fill="#1414a0"/><rect x="1594.1" y="244.8" width="1.6" height="1.6" fill="#1414a0"/><rect x="1609.5" y="239.2" width="2.4" height="2.4" fill="#1414a0"/><path d="M1579.1 170.3C1579.8 164.9 1581.3 162.4 1583.9 159.8C1586.5 157.1 1590.2 155.7 1594.6 154.4C1598.9 153.2 1604.5 152.7 1609.8 152.5C1615.1 152.3 1621.6 152.3 1626.4 153.2C1631.2 154.0 1635.4 155.3 1638.6 157.8C1641.8 160.3 1644.5 164.2 1645.7 168.1C1646.9 172.1 1646.2 177.1 1645.6 181.4C1645.0 185.7 1643.6 189.7 1642.1 194.0C1640.7 198.3 1639.7 204.0 1636.9 207.4C1634.1 210.7 1629.8 212.5 1625.5 214.1C1621.1 215.8 1615.0 217.3 1610.8 217.2C1606.5 217.0 1603.9 215.3 1599.9 213.2C1595.9 211.2 1590.3 208.3 1586.9 204.8C1583.5 201.3 1580.8 198.0 1579.5 192.3C1578.2 186.5 1578.4 175.7 1579.1 170.3Z" fill="none" stroke="#00008a" stroke-width="1.25"/><path d="M1579.9 170.6C1580.5 165.8 1583.0 163.7 1585.6 161.3C1588.1 158.9 1591.0 157.6 1595.1 156.3C1599.2 155.0 1605.2 153.8 1610.2 153.6C1615.2 153.4 1620.2 154.0 1624.9 154.9C1629.6 155.7 1635.0 156.4 1638.1 158.7C1641.2 160.9 1642.5 164.7 1643.4 168.5C1644.4 172.2 1644.4 177.2 1643.9 181.2C1643.4 185.3 1641.9 188.6 1640.4 192.6C1638.8 196.7 1637.1 202.3 1634.7 205.5C1632.2 208.6 1629.6 210.2 1625.5 211.6C1621.5 213.0 1614.5 214.1 1610.3 214.0C1606.1 213.9 1604.0 212.8 1600.2 211.0C1596.4 209.1 1590.4 206.4 1587.4 203.0C1584.4 199.6 1583.3 195.8 1582.1 190.4C1580.8 185.0 1579.3 175.5 1579.9 170.6Z" fill="none" stroke="#00009c" stroke-width="1.25"/><path d="M1581.5 171.0C1582.0 166.2 1584.1 163.8 1586.5 161.3C1588.8 158.8 1591.8 157.3 1595.8 156.2C1599.8 155.2 1605.7 155.1 1610.4 155.0C1615.1 154.9 1619.7 155.0 1623.9 155.8C1628.2 156.5 1633.1 157.5 1636.0 159.6C1639.0 161.7 1640.7 164.8 1641.8 168.4C1642.8 171.9 1642.7 176.8 1642.2 180.8C1641.7 184.8 1640.3 188.6 1638.9 192.4C1637.5 196.3 1636.2 201.1 1633.8 204.0C1631.5 206.8 1628.7 208.3 1624.7 209.7C1620.7 211.1 1613.8 212.5 1609.9 212.4C1605.9 212.2 1604.3 210.8 1600.9 208.9C1597.5 207.0 1592.2 204.3 1589.3 201.1C1586.3 197.9 1584.7 194.9 1583.4 189.9C1582.1 184.9 1581.0 175.8 1581.5 171.0Z" fill="none" stroke="#0000b0" stroke-width="1.25"/><path d="M1583.0 170.6C1583.5 166.2 1585.6 164.5 1588.0 162.4C1590.4 160.3 1593.6 159.0 1597.4 157.9C1601.2 156.9 1606.3 156.6 1610.8 156.2C1615.2 155.9 1620.0 155.3 1624.1 155.9C1628.2 156.5 1632.6 157.5 1635.4 159.7C1638.2 161.9 1639.9 165.9 1640.7 169.2C1641.5 172.5 1640.9 175.9 1640.2 179.5C1639.6 183.1 1638.0 186.8 1636.8 190.6C1635.7 194.5 1635.4 200.0 1633.2 202.8C1631.0 205.6 1627.5 206.4 1623.6 207.6C1619.7 208.8 1613.8 210.3 1610.0 210.0C1606.2 209.8 1604.2 208.0 1601.0 206.3C1597.8 204.5 1593.4 202.6 1590.7 199.7C1588.1 196.7 1586.4 193.5 1585.1 188.7C1583.8 183.8 1582.5 175.0 1583.0 170.6Z" fill="none" stroke="#0000c4" stroke-width="1.25"/><path d="M1585.4 171.3C1585.9 167.1 1587.1 165.1 1589.2 162.9C1591.4 160.7 1594.5 159.3 1598.1 158.3C1601.6 157.3 1606.5 157.0 1610.6 156.9C1614.6 156.7 1618.6 156.5 1622.4 157.1C1626.1 157.8 1630.4 158.8 1633.1 160.8C1635.8 162.8 1637.7 166.0 1638.6 169.1C1639.4 172.2 1639.0 176.0 1638.5 179.5C1638.0 183.1 1637.0 186.9 1635.8 190.5C1634.5 194.0 1632.9 198.3 1630.8 200.9C1628.7 203.4 1626.7 204.5 1623.2 205.8C1619.7 207.0 1613.5 208.3 1609.9 208.2C1606.4 208.1 1604.8 206.8 1601.8 205.1C1598.7 203.4 1594.5 200.9 1591.9 198.1C1589.3 195.3 1587.2 192.8 1586.2 188.3C1585.1 183.9 1584.9 175.6 1585.4 171.3Z" fill="none" stroke="#0008d8" stroke-width="1.25"/><path d="M1586.6 170.8C1587.0 166.9 1588.2 165.0 1590.1 163.2C1592.0 161.3 1594.8 160.3 1598.1 159.4C1601.5 158.5 1606.1 157.8 1610.2 157.6C1614.2 157.4 1619.0 157.5 1622.7 158.2C1626.3 158.9 1629.7 159.7 1632.0 161.7C1634.4 163.6 1635.8 166.8 1636.6 169.7C1637.4 172.6 1637.4 175.9 1637.0 179.0C1636.6 182.1 1635.2 185.0 1634.1 188.3C1632.9 191.6 1632.2 196.2 1630.2 198.7C1628.2 201.2 1625.4 202.0 1622.1 203.3C1618.9 204.5 1613.8 206.3 1610.6 206.2C1607.3 206.0 1605.6 204.0 1602.7 202.5C1599.8 200.9 1595.5 199.5 1593.1 196.8C1590.6 194.1 1588.9 190.7 1587.8 186.4C1586.8 182.0 1586.2 174.6 1586.6 170.8Z" fill="none" stroke="#0018f4" stroke-width="1.25"/><path d="M1588.3 171.7C1588.9 168.1 1590.5 165.8 1592.4 163.8C1594.3 161.9 1596.6 161.0 1599.7 160.2C1602.8 159.4 1607.3 159.1 1610.9 159.1C1614.5 159.0 1617.8 159.0 1621.1 159.6C1624.5 160.2 1628.8 161.0 1631.0 162.6C1633.3 164.3 1634.1 166.8 1634.8 169.5C1635.6 172.2 1636.0 175.8 1635.5 178.9C1635.0 181.9 1632.9 184.7 1631.8 187.8C1630.8 190.8 1631.1 194.9 1629.3 197.2C1627.5 199.4 1624.1 200.4 1620.9 201.3C1617.7 202.2 1613.3 202.8 1610.3 202.8C1607.2 202.8 1605.1 202.4 1602.4 201.1C1599.6 199.7 1596.0 197.3 1593.8 194.8C1591.7 192.3 1590.3 189.8 1589.4 185.9C1588.5 182.1 1587.8 175.4 1588.3 171.7Z" fill="none" stroke="#1028ff" stroke-width="1.25"/><path d="M1589.4 171.6C1589.9 168.1 1591.7 166.0 1593.5 164.3C1595.2 162.5 1597.0 161.5 1599.8 160.9C1602.5 160.2 1606.7 160.5 1610.1 160.4C1613.5 160.4 1617.1 159.9 1620.3 160.4C1623.5 160.9 1626.9 161.8 1629.1 163.3C1631.3 164.8 1632.6 166.7 1633.3 169.3C1634.1 171.8 1634.0 175.7 1633.5 178.6C1633.0 181.5 1631.5 184.0 1630.4 186.7C1629.3 189.4 1628.4 192.5 1626.9 194.7C1625.3 196.8 1623.8 198.6 1621.1 199.6C1618.3 200.6 1613.3 200.8 1610.3 200.7C1607.3 200.6 1605.5 200.0 1603.0 198.8C1600.5 197.7 1597.4 196.3 1595.3 193.9C1593.2 191.6 1591.3 188.5 1590.3 184.8C1589.3 181.1 1588.8 175.0 1589.4 171.6Z" fill="none" stroke="#1838ff" stroke-width="1.25"/><path d="M1591.2 171.3C1591.6 168.2 1592.9 167.2 1594.5 165.6C1596.1 163.9 1598.1 162.2 1600.8 161.5C1603.5 160.8 1607.5 161.6 1610.6 161.4C1613.7 161.3 1616.6 160.5 1619.4 160.9C1622.2 161.3 1625.2 162.5 1627.2 164.0C1629.2 165.5 1630.7 167.9 1631.5 170.1C1632.3 172.4 1632.4 174.8 1632.0 177.3C1631.5 179.8 1629.8 182.5 1628.8 185.2C1627.7 187.9 1627.3 191.4 1625.8 193.5C1624.2 195.6 1622.1 196.9 1619.6 197.8C1617.1 198.6 1613.2 198.9 1610.6 198.7C1608.0 198.6 1606.7 197.8 1604.3 196.7C1601.9 195.6 1598.3 194.3 1596.2 192.2C1594.2 190.0 1592.8 187.4 1592.0 183.9C1591.1 180.4 1590.8 174.3 1591.2 171.3Z" fill="none" stroke="#2048ff" stroke-width="1.25"/><path d="M1593.2 171.8C1593.6 169.0 1594.6 167.8 1596.0 166.3C1597.5 164.8 1599.5 163.7 1601.9 162.9C1604.3 162.0 1607.7 161.4 1610.5 161.3C1613.3 161.2 1616.2 161.5 1618.7 162.1C1621.3 162.7 1624.1 163.5 1625.9 164.8C1627.7 166.0 1629.0 167.5 1629.7 169.6C1630.5 171.6 1630.7 174.5 1630.3 177.1C1629.9 179.6 1628.5 182.7 1627.5 185.1C1626.5 187.4 1625.8 189.5 1624.3 191.3C1622.8 193.1 1620.7 194.9 1618.5 195.8C1616.2 196.7 1613.0 197.2 1610.6 197.0C1608.2 196.7 1606.1 195.5 1603.9 194.4C1601.8 193.3 1599.4 192.3 1597.7 190.4C1596.0 188.5 1594.5 186.1 1593.7 183.0C1593.0 179.9 1592.8 174.5 1593.2 171.8Z" fill="none" stroke="#2858ff" stroke-width="1.25"/><ellipse cx="1612.5" cy="173.6" rx="28.4" ry="16.5" fill="#1830f0" transform="rotate(0 1612.5 173.6)"/><ellipse cx="1612.3" cy="173.5" rx="25.8" ry="15.0" fill="#2860ff" transform="rotate(0 1612.3 173.5)"/><ellipse cx="1612.2" cy="173.4" rx="23.7" ry="13.8" fill="#3a9cff" transform="rotate(0 1612.2 173.4)"/><ellipse cx="1612.0" cy="173.3" rx="21.5" ry="12.5" fill="#00e4ff" transform="rotate(0 1612.0 173.3)"/><ellipse cx="1611.8" cy="173.2" rx="18.9" ry="11.0" fill="#00c8a0" transform="rotate(0 1611.8 173.2)"/><ellipse cx="1611.6" cy="173.1" rx="16.8" ry="9.8" fill="#10b040" transform="rotate(0 1611.6 173.1)"/><ellipse cx="1611.5" cy="173.0" rx="14.6" ry="8.5" fill="#b0e000" transform="rotate(0 1611.5 173.0)"/><ellipse cx="1611.3" cy="173.0" rx="12.5" ry="7.2" fill="#ffee00" transform="rotate(0 1611.3 173.0)"/><ellipse cx="1611.1" cy="172.9" rx="10.1" ry="5.9" fill="#ffa000" transform="rotate(0 1611.1 172.9)"/><ellipse cx="1610.9" cy="172.8" rx="7.7" ry="4.5" fill="#ff4000" transform="rotate(0 1610.9 172.8)"/><ellipse cx="1610.7" cy="172.7" rx="5.4" ry="3.1" fill="#ff0000" transform="rotate(0 1610.7 172.7)"/><ellipse cx="1610.3" cy="172.5" rx="3.6" ry="2.4" fill="#ffffff"/>
<rect x="1332.2" y="281.0" width="175.2" height="174.3" fill="#fff" stroke="#1a72b8" stroke-width="3.2"/>
<rect x="1411.2" y="428.1" width="1.6" height="1.6" fill="#1414a0"/><rect x="1422.2" y="410.1" width="2.4" height="2.4" fill="#1414a0"/><rect x="1411.9" y="396.7" width="2.0" height="2.0" fill="#1414a0"/><rect x="1409.5" y="414.3" width="2.0" height="2.0" fill="#1414a0"/><rect x="1394.7" y="403.5" width="2.0" height="2.0" fill="#1414a0"/><rect x="1405.4" y="406.6" width="1.6" height="1.6" fill="#1414a0"/><rect x="1420.3" y="418.8" width="1.3" height="1.3" fill="#1414a0"/><rect x="1407.8" y="403.5" width="2.4" height="2.4" fill="#1414a0"/><rect x="1431.0" y="407.3" width="1.6" height="1.6" fill="#1414a0"/><rect x="1390.4" y="402.2" width="2.0" height="2.0" fill="#1414a0"/><rect x="1403.7" y="415.9" width="2.4" height="2.4" fill="#1414a0"/><rect x="1382.5" y="416.2" width="1.6" height="1.6" fill="#1414a0"/><rect x="1415.5" y="403.2" width="1.6" height="1.6" fill="#1414a0"/><rect x="1409.1" y="434.5" width="1.6" height="1.6" fill="#1414a0"/><rect x="1389.2" y="418.9" width="2.4" height="2.4" fill="#1414a0"/><rect x="1400.2" y="423.3" width="2.4" height="2.4" fill="#1414a0"/><rect x="1411.3" y="418.9" width="1.3" height="1.3" fill="#1414a0"/><rect x="1433.8" y="430.6" width="1.6" height="1.6" fill="#1414a0"/><rect x="1406.5" y="417.3" width="2.4" height="2.4" fill="#1414a0"/><rect x="1423.4" y="414.4" width="1.6" height="1.6" fill="#1414a0"/><rect x="1385.0" y="409.2" width="1.3" height="1.3" fill="#1414a0"/><rect x="1432.6" y="415.2" width="2.0" height="2.0" fill="#1414a0"/><rect x="1429.1" y="420.1" width="2.0" height="2.0" fill="#1414a0"/><rect x="1412.0" y="398.2" width="2.0" height="2.0" fill="#1414a0"/><rect x="1413.0" y="397.3" width="2.4" height="2.4" fill="#1414a0"/><rect x="1410.9" y="420.7" width="2.4" height="2.4" fill="#1414a0"/><rect x="1397.4" y="442.7" width="1.6" height="1.6" fill="#1414a0"/><rect x="1364.9" y="398.3" width="1.6" height="1.6" fill="#1414a0"/><rect x="1416.0" y="395.6" width="2.4" height="2.4" fill="#1414a0"/><rect x="1418.1" y="398.4" width="2.0" height="2.0" fill="#1414a0"/><rect x="1407.5" y="415.0" width="1.3" height="1.3" fill="#1414a0"/><rect x="1421.3" y="398.0" width="1.6" height="1.6" fill="#1414a0"/><rect x="1435.7" y="409.5" width="2.0" height="2.0" fill="#1414a0"/><rect x="1392.0" y="432.4" width="2.0" height="2.0" fill="#1414a0"/><rect x="1399.6" y="423.0" width="2.4" height="2.4" fill="#1414a0"/><rect x="1436.8" y="437.8" width="2.4" height="2.4" fill="#1414a0"/><rect x="1407.6" y="432.3" width="1.6" height="1.6" fill="#1414a0"/><rect x="1422.4" y="406.1" width="1.6" height="1.6" fill="#1414a0"/><rect x="1394.4" y="399.4" width="1.3" height="1.3" fill="#1414a0"/><rect x="1418.8" y="411.7" width="2.0" height="2.0" fill="#1414a0"/><rect x="1396.8" y="419.9" width="1.3" height="1.3" fill="#1414a0"/><rect x="1402.5" y="412.7" width="1.6" height="1.6" fill="#1414a0"/><rect x="1405.0" y="417.3" width="1.6" height="1.6" fill="#1414a0"/><rect x="1409.8" y="400.6" width="1.3" height="1.3" fill="#1414a0"/><rect x="1412.5" y="396.5" width="1.6" height="1.6" fill="#1414a0"/><rect x="1409.9" y="424.3" width="2.4" height="2.4" fill="#1414a0"/><rect x="1403.7" y="404.9" width="1.6" height="1.6" fill="#1414a0"/><rect x="1405.4" y="418.5" width="2.4" height="2.4" fill="#1414a0"/><rect x="1408.0" y="441.4" width="1.3" height="1.3" fill="#1414a0"/><rect x="1410.4" y="401.1" width="2.4" height="2.4" fill="#1414a0"/><rect x="1407.3" y="407.9" width="2.4" height="2.4" fill="#1414a0"/><rect x="1413.9" y="442.1" width="1.6" height="1.6" fill="#1414a0"/><rect x="1401.2" y="430.2" width="1.3" height="1.3" fill="#1414a0"/><rect x="1418.8" y="408.9" width="1.6" height="1.6" fill="#1414a0"/><rect x="1406.0" y="411.8" width="1.6" height="1.6" fill="#1414a0"/><path d="M1382.1 360.2C1382.8 355.4 1385.0 353.6 1388.5 351.3C1392.1 349.0 1397.7 347.7 1403.5 346.6C1409.2 345.4 1416.4 345.3 1423.0 344.3C1429.7 343.3 1438.0 340.5 1443.2 340.4C1448.5 340.4 1452.8 342.1 1454.7 344.2C1456.6 346.3 1455.6 349.4 1454.4 352.8C1453.3 356.3 1451.0 360.5 1447.9 365.0C1444.9 369.5 1439.8 375.1 1436.1 379.7C1432.5 384.2 1429.0 388.4 1426.1 392.6C1423.2 396.8 1422.4 402.3 1418.6 404.7C1414.8 407.2 1408.1 408.4 1403.5 407.1C1398.9 405.8 1393.9 401.6 1390.8 397.0C1387.7 392.4 1386.2 385.9 1384.8 379.7C1383.3 373.6 1381.5 364.9 1382.1 360.2Z" fill="none" stroke="#00008a" stroke-width="1.25"/><path d="M1384.4 360.3C1385.1 355.8 1386.5 354.1 1389.9 351.9C1393.3 349.8 1399.2 348.6 1404.6 347.4C1410.0 346.2 1416.1 345.7 1422.4 344.7C1428.6 343.8 1437.0 341.5 1442.1 341.5C1447.2 341.6 1451.1 342.8 1452.9 344.8C1454.7 346.8 1453.9 350.0 1452.9 353.5C1451.8 356.9 1450.0 361.2 1446.9 365.4C1443.8 369.6 1437.9 374.4 1434.2 378.7C1430.5 383.0 1427.4 387.2 1424.7 391.1C1422.0 395.0 1421.6 399.9 1418.2 402.2C1414.8 404.5 1408.9 405.9 1404.5 404.8C1400.1 403.7 1394.8 399.8 1391.7 395.5C1388.6 391.1 1387.1 384.8 1385.9 379.0C1384.7 373.1 1383.7 364.8 1384.4 360.3Z" fill="none" stroke="#00009c" stroke-width="1.25"/><path d="M1385.1 359.8C1385.6 355.5 1387.7 354.0 1391.0 352.0C1394.3 349.9 1399.7 348.5 1404.9 347.6C1410.0 346.6 1415.9 347.2 1421.8 346.4C1427.7 345.6 1435.5 343.0 1440.1 342.8C1444.8 342.7 1448.0 343.6 1449.6 345.5C1451.2 347.4 1450.6 350.9 1449.7 354.1C1448.8 357.3 1446.9 360.4 1444.1 364.5C1441.3 368.6 1436.5 374.4 1433.1 378.7C1429.8 382.9 1426.6 386.2 1424.0 389.9C1421.5 393.5 1421.0 398.4 1417.7 400.6C1414.4 402.8 1408.4 404.2 1404.2 403.1C1400.1 402.0 1395.7 398.2 1392.9 394.0C1390.1 389.7 1388.9 383.4 1387.6 377.7C1386.3 372.0 1384.5 364.0 1385.1 359.8Z" fill="none" stroke="#0000b0" stroke-width="1.25"/><path d="M1386.5 360.9C1387.1 356.9 1389.5 355.6 1392.4 353.5C1395.4 351.4 1399.3 349.6 1404.1 348.4C1409.0 347.2 1415.8 347.1 1421.5 346.3C1427.3 345.5 1434.3 343.7 1438.7 343.7C1443.1 343.7 1446.4 344.7 1447.9 346.4C1449.4 348.2 1448.3 351.1 1447.4 354.1C1446.5 357.1 1445.1 360.5 1442.5 364.5C1439.9 368.5 1435.0 374.2 1431.8 378.0C1428.7 381.8 1426.1 384.1 1423.6 387.5C1421.1 391.0 1419.8 396.6 1416.7 398.8C1413.6 401.0 1408.9 401.8 1405.0 400.7C1401.2 399.6 1396.2 396.0 1393.6 392.2C1390.9 388.3 1390.2 382.7 1389.0 377.5C1387.8 372.3 1386.0 364.9 1386.5 360.9Z" fill="none" stroke="#0000c4" stroke-width="1.25"/><path d="M1388.3 360.2C1388.8 356.4 1390.7 355.0 1393.5 353.3C1396.3 351.6 1400.6 351.0 1405.1 350.2C1409.6 349.4 1415.4 349.4 1420.6 348.4C1425.9 347.4 1432.5 344.4 1436.6 344.3C1440.8 344.2 1443.8 345.8 1445.3 347.6C1446.9 349.4 1446.6 352.4 1445.8 355.2C1445.0 358.0 1443.0 360.8 1440.4 364.3C1437.8 367.8 1433.0 372.7 1430.2 376.4C1427.4 380.2 1425.6 383.4 1423.4 386.7C1421.3 389.9 1420.4 394.0 1417.3 396.1C1414.3 398.1 1408.9 399.9 1405.2 399.0C1401.5 398.2 1397.8 394.7 1395.3 391.0C1392.8 387.2 1391.3 381.6 1390.1 376.5C1388.9 371.4 1387.7 364.1 1388.3 360.2Z" fill="none" stroke="#0008d8" stroke-width="1.25"/><path d="M1389.0 360.8C1389.4 357.3 1391.4 356.5 1394.1 354.9C1396.9 353.2 1401.3 351.7 1405.5 350.7C1409.8 349.7 1414.9 349.5 1419.9 348.8C1424.8 348.0 1431.1 346.2 1435.1 346.2C1439.1 346.2 1442.2 347.2 1443.6 348.7C1445.1 350.3 1444.6 352.7 1443.8 355.2C1443.1 357.8 1441.7 360.7 1439.2 364.1C1436.7 367.6 1431.8 372.4 1429.0 375.9C1426.2 379.3 1424.4 381.9 1422.3 384.9C1420.1 388.0 1418.9 392.1 1416.2 394.0C1413.5 395.9 1409.2 397.3 1405.9 396.4C1402.5 395.5 1398.4 392.1 1396.0 388.6C1393.6 385.1 1392.6 380.0 1391.4 375.4C1390.2 370.8 1388.5 364.2 1389.0 360.8Z" fill="none" stroke="#0018f4" stroke-width="1.25"/><path d="M1390.9 361.3C1391.4 357.8 1393.2 356.3 1395.6 354.7C1398.0 353.2 1401.1 353.1 1405.1 352.3C1409.1 351.4 1414.9 350.6 1419.7 349.9C1424.4 349.1 1430.1 347.8 1433.6 347.8C1437.2 347.9 1439.6 348.7 1440.9 350.0C1442.3 351.4 1442.3 353.7 1441.7 356.1C1441.2 358.5 1439.7 361.3 1437.4 364.5C1435.1 367.8 1430.5 372.3 1427.9 375.6C1425.2 378.9 1423.6 381.5 1421.6 384.4C1419.6 387.2 1418.6 390.8 1415.9 392.6C1413.3 394.3 1408.8 395.7 1405.7 394.7C1402.6 393.8 1399.3 390.1 1397.1 386.9C1394.9 383.7 1393.5 379.8 1392.4 375.6C1391.4 371.3 1390.4 364.7 1390.9 361.3Z" fill="none" stroke="#1028ff" stroke-width="1.25"/><path d="M1391.8 361.4C1392.2 358.4 1393.8 357.5 1396.2 356.0C1398.6 354.6 1402.6 353.6 1406.4 352.7C1410.3 351.7 1415.0 351.3 1419.2 350.5C1423.5 349.8 1428.7 347.9 1432.0 348.1C1435.3 348.3 1437.8 350.0 1439.0 351.5C1440.2 352.9 1440.0 354.4 1439.4 356.6C1438.8 358.9 1437.3 361.9 1435.3 364.9C1433.3 367.8 1429.8 371.4 1427.3 374.5C1424.8 377.5 1422.4 380.4 1420.5 383.0C1418.6 385.6 1418.5 388.7 1416.0 390.2C1413.6 391.8 1408.7 393.2 1405.6 392.5C1402.5 391.7 1399.5 388.7 1397.5 385.7C1395.4 382.7 1394.4 378.4 1393.5 374.3C1392.5 370.3 1391.3 364.5 1391.8 361.4Z" fill="none" stroke="#1838ff" stroke-width="1.25"/><path d="M1394.0 361.6C1394.4 358.8 1395.5 358.0 1397.5 356.7C1399.5 355.4 1402.3 354.3 1405.9 353.6C1409.4 352.8 1414.7 352.7 1418.6 352.2C1422.5 351.6 1426.5 350.3 1429.5 350.3C1432.4 350.4 1435.0 351.3 1436.2 352.5C1437.5 353.7 1437.7 355.5 1437.1 357.6C1436.4 359.7 1434.3 362.4 1432.5 365.1C1430.6 367.8 1428.1 371.2 1426.0 373.7C1423.9 376.3 1421.8 378.1 1419.9 380.5C1418.1 382.9 1417.0 386.5 1414.8 388.2C1412.6 389.8 1409.4 391.0 1406.7 390.3C1403.9 389.6 1400.2 387.0 1398.3 384.1C1396.4 381.3 1396.0 376.8 1395.2 373.0C1394.5 369.2 1393.6 364.3 1394.0 361.6Z" fill="none" stroke="#2048ff" stroke-width="1.25"/><path d="M1395.4 361.5C1395.7 358.8 1396.0 357.8 1397.8 356.7C1399.5 355.6 1402.8 355.4 1406.0 354.7C1409.2 354.1 1413.2 353.4 1417.0 352.7C1420.8 352.0 1425.9 350.3 1428.9 350.4C1431.8 350.5 1433.5 352.1 1434.4 353.3C1435.3 354.4 1434.9 355.4 1434.3 357.2C1433.7 359.1 1432.6 361.8 1430.9 364.5C1429.1 367.1 1425.7 370.4 1423.8 373.0C1421.8 375.5 1420.7 377.4 1419.1 379.6C1417.5 381.8 1416.3 384.9 1414.3 386.2C1412.2 387.5 1409.4 388.0 1407.0 387.3C1404.5 386.6 1401.4 384.7 1399.6 382.3C1397.8 379.8 1397.0 376.0 1396.3 372.5C1395.6 369.0 1395.2 364.1 1395.4 361.5Z" fill="none" stroke="#2858ff" stroke-width="1.25"/><ellipse cx="1411.9" cy="366.7" rx="29.0" ry="18.5" fill="#1830f0" transform="rotate(-12 1411.9 366.7)"/><ellipse cx="1411.7" cy="366.5" rx="26.4" ry="16.8" fill="#2860ff" transform="rotate(-12 1411.7 366.5)"/><ellipse cx="1411.6" cy="366.3" rx="24.2" ry="15.4" fill="#3a9cff" transform="rotate(-12 1411.6 366.3)"/><ellipse cx="1411.4" cy="366.1" rx="22.0" ry="14.0" fill="#00e4ff" transform="rotate(-12 1411.4 366.1)"/><ellipse cx="1411.2" cy="365.9" rx="19.4" ry="12.3" fill="#00c8a0" transform="rotate(-12 1411.2 365.9)"/><ellipse cx="1411.1" cy="365.7" rx="17.2" ry="10.9" fill="#10b040" transform="rotate(-12 1411.1 365.7)"/><ellipse cx="1410.9" cy="365.5" rx="15.0" ry="9.5" fill="#b0e000" transform="rotate(-12 1410.9 365.5)"/><ellipse cx="1410.8" cy="365.3" rx="12.8" ry="8.1" fill="#ffee00" transform="rotate(-12 1410.8 365.3)"/><ellipse cx="1410.6" cy="365.1" rx="10.3" ry="6.6" fill="#ffa000" transform="rotate(-12 1410.6 365.1)"/><ellipse cx="1410.4" cy="364.9" rx="7.9" ry="5.0" fill="#ff4000" transform="rotate(-12 1410.4 364.9)"/><ellipse cx="1410.3" cy="364.8" rx="5.5" ry="3.5" fill="#ff0000" transform="rotate(-12 1410.3 364.8)"/><ellipse cx="1409.9" cy="364.3" rx="3.6" ry="2.4" fill="#ffffff"/>
<rect x="1523.3" y="280.5" width="175.0" height="174.8" fill="#fff" stroke="#1a72b8" stroke-width="3.2"/>
<rect x="1611.4" y="402.1" width="2.0" height="2.0" fill="#1414a0"/><rect x="1606.5" y="391.5" width="1.3" height="1.3" fill="#1414a0"/><rect x="1591.9" y="423.7" width="1.3" height="1.3" fill="#1414a0"/><rect x="1613.3" y="421.8" width="1.6" height="1.6" fill="#1414a0"/><rect x="1614.7" y="437.8" width="1.6" height="1.6" fill="#1414a0"/><rect x="1616.3" y="433.1" width="1.6" height="1.6" fill="#1414a0"/><rect x="1613.1" y="406.2" width="1.6" height="1.6" fill="#1414a0"/><rect x="1605.8" y="440.6" width="1.6" height="1.6" fill="#1414a0"/><rect x="1623.3" y="408.4" width="2.0" height="2.0" fill="#1414a0"/><rect x="1604.4" y="390.6" width="2.0" height="2.0" fill="#1414a0"/><rect x="1606.3" y="432.5" width="2.4" height="2.4" fill="#1414a0"/><rect x="1611.7" y="392.6" width="1.6" height="1.6" fill="#1414a0"/><rect x="1591.5" y="413.6" width="2.4" height="2.4" fill="#1414a0"/><rect x="1614.7" y="415.7" width="1.6" height="1.6" fill="#1414a0"/><rect x="1605.3" y="396.5" width="1.6" height="1.6" fill="#1414a0"/><rect x="1609.9" y="436.4" width="1.3" height="1.3" fill="#1414a0"/><rect x="1625.1" y="400.5" width="1.6" height="1.6" fill="#1414a0"/><rect x="1595.9" y="394.4" width="1.6" height="1.6" fill="#1414a0"/><rect x="1620.6" y="420.8" width="1.3" height="1.3" fill="#1414a0"/><rect x="1605.0" y="399.1" width="2.0" height="2.0" fill="#1414a0"/><rect x="1609.4" y="414.1" width="2.4" height="2.4" fill="#1414a0"/><rect x="1605.2" y="420.0" width="1.6" height="1.6" fill="#1414a0"/><rect x="1614.0" y="395.5" width="1.6" height="1.6" fill="#1414a0"/><rect x="1608.6" y="423.8" width="1.6" height="1.6" fill="#1414a0"/><rect x="1628.6" y="432.2" width="1.6" height="1.6" fill="#1414a0"/><rect x="1608.0" y="392.0" width="1.3" height="1.3" fill="#1414a0"/><rect x="1631.7" y="429.4" width="1.6" height="1.6" fill="#1414a0"/><rect x="1619.6" y="392.4" width="1.6" height="1.6" fill="#1414a0"/><rect x="1612.7" y="416.4" width="2.4" height="2.4" fill="#1414a0"/><rect x="1609.2" y="399.5" width="2.4" height="2.4" fill="#1414a0"/><rect x="1615.1" y="416.3" width="1.6" height="1.6" fill="#1414a0"/><rect x="1611.0" y="425.1" width="1.6" height="1.6" fill="#1414a0"/><rect x="1610.3" y="393.1" width="1.3" height="1.3" fill="#1414a0"/><rect x="1601.4" y="396.9" width="1.6" height="1.6" fill="#1414a0"/><rect x="1624.7" y="390.6" width="2.0" height="2.0" fill="#1414a0"/><rect x="1622.0" y="393.1" width="1.6" height="1.6" fill="#1414a0"/><rect x="1613.8" y="396.1" width="1.6" height="1.6" fill="#1414a0"/><rect x="1588.0" y="429.0" width="2.4" height="2.4" fill="#1414a0"/><rect x="1622.8" y="397.7" width="1.6" height="1.6" fill="#1414a0"/><rect x="1609.8" y="396.3" width="2.4" height="2.4" fill="#1414a0"/><rect x="1601.5" y="423.9" width="1.6" height="1.6" fill="#1414a0"/><rect x="1603.3" y="392.7" width="2.0" height="2.0" fill="#1414a0"/><rect x="1603.6" y="390.9" width="2.0" height="2.0" fill="#1414a0"/><rect x="1611.2" y="433.2" width="2.0" height="2.0" fill="#1414a0"/><rect x="1612.1" y="396.6" width="1.6" height="1.6" fill="#1414a0"/><rect x="1611.3" y="407.7" width="1.6" height="1.6" fill="#1414a0"/><rect x="1603.9" y="400.1" width="1.6" height="1.6" fill="#1414a0"/><rect x="1633.8" y="408.9" width="2.4" height="2.4" fill="#1414a0"/><rect x="1621.1" y="412.6" width="1.3" height="1.3" fill="#1414a0"/><rect x="1606.4" y="390.4" width="1.6" height="1.6" fill="#1414a0"/><rect x="1623.4" y="404.4" width="1.6" height="1.6" fill="#1414a0"/><rect x="1603.1" y="422.5" width="1.6" height="1.6" fill="#1414a0"/><rect x="1616.1" y="419.3" width="1.6" height="1.6" fill="#1414a0"/><rect x="1605.5" y="412.0" width="2.0" height="2.0" fill="#1414a0"/><rect x="1636.0" y="421.2" width="1.6" height="1.6" fill="#1414a0"/><rect x="1632.6" y="405.4" width="1.6" height="1.6" fill="#1414a0"/><rect x="1611.9" y="410.5" width="1.3" height="1.3" fill="#1414a0"/><rect x="1622.0" y="418.9" width="2.0" height="2.0" fill="#1414a0"/><rect x="1595.2" y="408.1" width="2.0" height="2.0" fill="#1414a0"/><rect x="1611.2" y="392.1" width="1.6" height="1.6" fill="#1414a0"/><rect x="1632.4" y="394.4" width="1.3" height="1.3" fill="#1414a0"/><rect x="1596.7" y="417.1" width="2.0" height="2.0" fill="#1414a0"/><rect x="1620.6" y="412.8" width="1.6" height="1.6" fill="#1414a0"/><rect x="1618.6" y="420.3" width="2.4" height="2.4" fill="#1414a0"/><rect x="1612.8" y="419.0" width="2.4" height="2.4" fill="#1414a0"/><rect x="1607.0" y="393.9" width="2.4" height="2.4" fill="#1414a0"/><rect x="1621.2" y="411.7" width="1.6" height="1.6" fill="#1414a0"/><rect x="1606.5" y="398.9" width="1.6" height="1.6" fill="#1414a0"/><rect x="1629.9" y="415.7" width="1.3" height="1.3" fill="#1414a0"/><rect x="1608.2" y="413.0" width="1.3" height="1.3" fill="#1414a0"/><rect x="1622.3" y="406.6" width="2.0" height="2.0" fill="#1414a0"/><rect x="1619.0" y="410.2" width="2.0" height="2.0" fill="#1414a0"/><rect x="1617.5" y="410.7" width="1.3" height="1.3" fill="#1414a0"/><rect x="1622.0" y="413.9" width="1.6" height="1.6" fill="#1414a0"/><rect x="1599.8" y="392.2" width="2.0" height="2.0" fill="#1414a0"/><rect x="1630.8" y="411.9" width="1.6" height="1.6" fill="#1414a0"/><rect x="1595.2" y="435.4" width="2.0" height="2.0" fill="#1414a0"/><rect x="1594.4" y="411.8" width="1.6" height="1.6" fill="#1414a0"/><rect x="1606.7" y="401.2" width="1.6" height="1.6" fill="#1414a0"/><rect x="1601.4" y="435.7" width="1.6" height="1.6" fill="#1414a0"/><rect x="1589.0" y="404.6" width="1.6" height="1.6" fill="#1414a0"/><rect x="1620.1" y="390.8" width="2.4" height="2.4" fill="#1414a0"/><rect x="1625.1" y="419.3" width="2.4" height="2.4" fill="#1414a0"/><rect x="1606.9" y="391.0" width="1.6" height="1.6" fill="#1414a0"/><rect x="1603.6" y="401.5" width="1.6" height="1.6" fill="#1414a0"/><rect x="1614.2" y="422.6" width="1.3" height="1.3" fill="#1414a0"/><rect x="1604.0" y="404.3" width="2.0" height="2.0" fill="#1414a0"/><rect x="1613.8" y="423.0" width="2.4" height="2.4" fill="#1414a0"/><rect x="1614.3" y="424.9" width="2.0" height="2.0" fill="#1414a0"/><rect x="1604.8" y="402.4" width="2.4" height="2.4" fill="#1414a0"/><rect x="1601.0" y="419.2" width="1.6" height="1.6" fill="#1414a0"/><rect x="1597.9" y="404.4" width="2.4" height="2.4" fill="#1414a0"/><rect x="1620.9" y="440.3" width="1.6" height="1.6" fill="#1414a0"/><rect x="1617.0" y="433.7" width="2.4" height="2.4" fill="#1414a0"/><rect x="1614.1" y="397.0" width="1.6" height="1.6" fill="#1414a0"/><rect x="1606.1" y="412.0" width="1.6" height="1.6" fill="#1414a0"/><rect x="1610.3" y="395.3" width="1.3" height="1.3" fill="#1414a0"/><rect x="1593.6" y="396.5" width="1.3" height="1.3" fill="#1414a0"/><rect x="1617.0" y="434.8" width="1.3" height="1.3" fill="#1414a0"/><rect x="1618.6" y="418.9" width="2.0" height="2.0" fill="#1414a0"/><rect x="1593.6" y="394.0" width="1.3" height="1.3" fill="#1414a0"/><rect x="1616.6" y="416.2" width="1.6" height="1.6" fill="#1414a0"/><rect x="1596.4" y="423.1" width="1.6" height="1.6" fill="#1414a0"/><rect x="1620.6" y="421.7" width="2.4" height="2.4" fill="#1414a0"/><rect x="1612.0" y="420.1" width="1.6" height="1.6" fill="#1414a0"/><rect x="1608.2" y="407.5" width="1.6" height="1.6" fill="#1414a0"/><rect x="1598.5" y="397.4" width="2.0" height="2.0" fill="#1414a0"/><rect x="1619.6" y="405.6" width="2.0" height="2.0" fill="#1414a0"/><rect x="1619.9" y="394.3" width="2.0" height="2.0" fill="#1414a0"/><rect x="1609.5" y="392.2" width="1.6" height="1.6" fill="#1414a0"/><rect x="1620.3" y="407.3" width="2.4" height="2.4" fill="#1414a0"/><rect x="1603.5" y="406.3" width="2.0" height="2.0" fill="#1414a0"/><rect x="1606.6" y="400.6" width="1.3" height="1.3" fill="#1414a0"/><rect x="1584.7" y="407.5" width="1.6" height="1.6" fill="#1414a0"/><rect x="1603.8" y="403.7" width="1.3" height="1.3" fill="#1414a0"/><rect x="1611.4" y="419.9" width="2.0" height="2.0" fill="#1414a0"/><rect x="1625.2" y="418.2" width="1.6" height="1.6" fill="#1414a0"/><rect x="1614.5" y="394.5" width="1.6" height="1.6" fill="#1414a0"/><rect x="1616.9" y="395.0" width="2.4" height="2.4" fill="#1414a0"/><rect x="1605.4" y="419.7" width="2.4" height="2.4" fill="#1414a0"/><path d="M1578.5 362.4C1579.3 356.7 1581.9 351.9 1586.2 348.8C1590.6 345.7 1597.9 345.1 1604.5 343.8C1611.0 342.5 1619.3 341.7 1625.6 340.9C1631.9 340.0 1638.7 337.5 1642.4 338.5C1646.1 339.5 1647.1 343.3 1647.5 346.9C1647.9 350.5 1646.9 355.5 1644.7 360.0C1642.5 364.4 1638.0 369.0 1634.5 373.4C1631.0 377.7 1626.8 382.2 1623.7 386.1C1620.6 390.0 1619.3 394.2 1615.8 396.8C1612.2 399.4 1607.0 401.8 1602.5 401.8C1598.0 401.8 1592.4 400.1 1588.9 396.9C1585.4 393.8 1583.1 388.6 1581.4 382.9C1579.7 377.1 1577.7 368.1 1578.5 362.4Z" fill="none" stroke="#00008a" stroke-width="1.25"/><path d="M1580.1 362.6C1580.8 357.1 1583.4 352.5 1587.7 349.6C1591.9 346.7 1599.4 346.4 1605.7 345.2C1611.9 343.9 1619.4 343.1 1625.2 342.1C1631.0 341.1 1636.8 338.4 1640.3 339.2C1643.7 339.9 1645.3 343.3 1645.8 346.7C1646.3 350.0 1645.6 355.0 1643.4 359.3C1641.2 363.6 1635.8 368.4 1632.5 372.6C1629.1 376.8 1626.1 380.7 1623.3 384.3C1620.5 388.0 1618.8 392.1 1615.5 394.6C1612.1 397.1 1607.3 399.1 1603.2 399.2C1599.1 399.3 1594.2 398.0 1590.9 395.2C1587.5 392.5 1585.0 388.1 1583.2 382.7C1581.4 377.2 1579.3 368.2 1580.1 362.6Z" fill="none" stroke="#00009c" stroke-width="1.25"/><path d="M1582.7 361.9C1583.5 356.8 1585.8 353.4 1589.7 350.6C1593.6 347.8 1600.1 346.2 1605.9 345.0C1611.8 343.8 1619.4 344.3 1624.9 343.6C1630.3 342.9 1635.5 340.2 1638.7 340.9C1641.9 341.6 1643.8 344.8 1644.1 347.9C1644.5 351.1 1642.8 355.8 1640.7 359.8C1638.6 363.8 1634.6 368.0 1631.5 371.9C1628.5 375.8 1625.2 379.5 1622.6 383.0C1619.9 386.5 1619.0 390.4 1615.8 392.9C1612.5 395.3 1607.2 397.8 1603.3 397.9C1599.3 397.9 1595.2 396.0 1592.1 393.2C1589.1 390.4 1586.6 386.3 1585.0 381.1C1583.5 375.9 1581.9 366.9 1582.7 361.9Z" fill="none" stroke="#0000b0" stroke-width="1.25"/><path d="M1584.1 361.9C1585.0 357.2 1587.0 353.9 1590.6 351.2C1594.3 348.5 1600.4 346.9 1606.0 345.7C1611.7 344.5 1619.1 344.6 1624.3 344.0C1629.6 343.3 1634.6 341.2 1637.5 341.8C1640.4 342.5 1641.4 345.0 1641.6 348.1C1641.9 351.1 1640.9 356.1 1639.2 359.9C1637.5 363.7 1634.2 367.2 1631.3 371.0C1628.3 374.7 1624.0 379.2 1621.4 382.5C1618.8 385.8 1618.5 388.6 1615.5 390.8C1612.5 393.0 1607.2 395.7 1603.4 395.7C1599.6 395.7 1595.9 393.6 1593.0 391.0C1590.0 388.3 1587.0 384.8 1585.6 379.9C1584.1 375.1 1583.3 366.7 1584.1 361.9Z" fill="none" stroke="#0000c4" stroke-width="1.25"/><path d="M1585.0 361.6C1585.7 357.0 1587.8 353.3 1591.5 350.9C1595.2 348.5 1601.7 348.3 1607.1 347.2C1612.5 346.1 1619.0 345.3 1623.8 344.6C1628.6 343.8 1633.2 342.1 1635.9 342.8C1638.5 343.6 1639.2 346.1 1639.7 348.9C1640.1 351.7 1640.3 356.3 1638.7 359.8C1637.1 363.3 1633.0 366.3 1630.2 369.8C1627.3 373.3 1624.0 377.7 1621.5 380.9C1619.1 384.0 1618.2 386.9 1615.3 388.9C1612.4 390.8 1607.6 392.5 1604.1 392.6C1600.7 392.6 1597.3 391.7 1594.5 389.4C1591.7 387.1 1589.0 383.4 1587.4 378.7C1585.9 374.1 1584.4 366.2 1585.0 361.6Z" fill="none" stroke="#0008d8" stroke-width="1.25"/><path d="M1587.2 361.6C1587.9 357.2 1590.3 353.7 1593.6 351.4C1597.0 349.0 1602.3 348.4 1607.2 347.3C1612.0 346.3 1618.3 345.8 1622.8 345.1C1627.3 344.5 1631.6 342.8 1634.3 343.4C1637.0 344.1 1638.6 346.6 1639.0 349.2C1639.4 351.7 1638.5 355.7 1636.9 359.0C1635.2 362.2 1632.0 365.6 1629.3 368.9C1626.5 372.2 1622.6 375.7 1620.3 378.8C1618.0 381.9 1617.9 385.2 1615.4 387.2C1612.9 389.3 1609.0 391.0 1605.5 391.0C1602.1 390.9 1597.4 389.0 1594.7 386.8C1592.0 384.6 1590.5 382.0 1589.2 377.8C1588.0 373.6 1586.5 366.0 1587.2 361.6Z" fill="none" stroke="#0018f4" stroke-width="1.25"/><path d="M1588.6 360.9C1589.4 356.9 1591.7 353.7 1594.9 351.6C1598.2 349.4 1603.4 348.9 1608.0 348.1C1612.5 347.3 1617.9 347.4 1622.2 346.7C1626.5 346.1 1631.1 343.7 1633.6 344.2C1636.1 344.7 1637.0 347.4 1637.2 349.8C1637.5 352.3 1636.8 355.8 1635.2 358.8C1633.7 361.9 1630.5 365.1 1627.9 368.2C1625.4 371.3 1622.1 374.4 1619.9 377.2C1617.7 380.0 1616.8 383.0 1614.5 384.9C1612.2 386.9 1609.2 388.8 1606.1 388.9C1603.1 389.1 1598.8 387.9 1596.2 385.7C1593.6 383.5 1591.7 379.7 1590.5 375.6C1589.2 371.5 1587.9 364.9 1588.6 360.9Z" fill="none" stroke="#1028ff" stroke-width="1.25"/><path d="M1591.3 361.6C1591.9 357.9 1593.4 355.1 1596.1 353.1C1598.7 351.1 1603.0 350.5 1607.3 349.6C1611.5 348.7 1617.6 348.3 1621.7 347.6C1625.8 346.8 1629.9 344.7 1632.1 345.2C1634.3 345.7 1634.5 348.0 1634.7 350.4C1635.0 352.7 1634.7 356.5 1633.4 359.4C1632.0 362.3 1628.8 364.8 1626.6 367.7C1624.4 370.6 1622.0 374.3 1620.0 376.8C1618.1 379.3 1617.3 381.1 1614.9 382.7C1612.5 384.3 1608.6 386.2 1605.7 386.3C1602.7 386.4 1599.5 385.2 1597.2 383.3C1595.0 381.4 1593.1 378.5 1592.1 374.8C1591.1 371.2 1590.6 365.2 1591.3 361.6Z" fill="none" stroke="#1838ff" stroke-width="1.25"/><path d="M1592.2 360.7C1592.9 357.3 1594.8 355.3 1597.4 353.5C1600.0 351.7 1603.8 350.6 1607.8 349.6C1611.8 348.7 1617.7 348.4 1621.4 347.9C1625.0 347.3 1627.6 345.7 1629.7 346.3C1631.7 346.9 1633.3 349.5 1633.8 351.7C1634.2 353.8 1633.8 356.7 1632.3 359.3C1630.9 361.8 1627.1 364.3 1625.0 366.9C1622.8 369.5 1621.3 372.5 1619.5 374.9C1617.7 377.3 1616.2 379.6 1614.1 381.2C1611.9 382.7 1609.1 384.3 1606.6 384.3C1604.0 384.3 1600.9 382.6 1598.7 380.9C1596.5 379.1 1594.5 377.2 1593.4 373.8C1592.4 370.4 1591.6 364.1 1592.2 360.7Z" fill="none" stroke="#2048ff" stroke-width="1.25"/><path d="M1594.4 360.5C1594.9 357.4 1595.6 354.8 1598.0 353.2C1600.4 351.6 1605.0 351.6 1608.6 351.0C1612.3 350.4 1616.7 350.3 1620.1 349.7C1623.5 349.0 1626.9 346.9 1628.8 347.3C1630.8 347.7 1631.6 350.1 1631.8 352.1C1632.1 354.1 1631.7 357.1 1630.4 359.5C1629.0 361.8 1625.8 364.1 1623.9 366.3C1622.0 368.6 1620.7 371.1 1619.0 373.2C1617.4 375.3 1615.8 377.5 1613.8 379.0C1611.8 380.5 1609.2 382.1 1606.9 382.2C1604.5 382.3 1601.6 381.3 1599.7 379.6C1597.7 377.9 1596.1 375.2 1595.2 372.0C1594.3 368.8 1593.9 363.7 1594.4 360.5Z" fill="none" stroke="#2858ff" stroke-width="1.25"/><ellipse cx="1610.4" cy="359.2" rx="28.4" ry="15.8" fill="#1830f0" transform="rotate(-15 1610.4 359.2)"/><ellipse cx="1610.6" cy="359.1" rx="25.8" ry="14.4" fill="#2860ff" transform="rotate(-15 1610.6 359.1)"/><ellipse cx="1610.8" cy="359.1" rx="23.7" ry="13.2" fill="#3a9cff" transform="rotate(-15 1610.8 359.1)"/><ellipse cx="1611.0" cy="359.0" rx="21.5" ry="12.0" fill="#00e4ff" transform="rotate(-15 1611.0 359.0)"/><ellipse cx="1611.2" cy="358.9" rx="18.9" ry="10.6" fill="#00c8a0" transform="rotate(-15 1611.2 358.9)"/><ellipse cx="1611.4" cy="358.9" rx="16.8" ry="9.4" fill="#10b040" transform="rotate(-15 1611.4 358.9)"/><ellipse cx="1611.6" cy="358.8" rx="14.6" ry="8.2" fill="#b0e000" transform="rotate(-15 1611.6 358.8)"/><ellipse cx="1611.8" cy="358.8" rx="12.5" ry="7.0" fill="#ffee00" transform="rotate(-15 1611.8 358.8)"/><ellipse cx="1612.0" cy="358.7" rx="10.1" ry="5.6" fill="#ffa000" transform="rotate(-15 1612.0 358.7)"/><ellipse cx="1612.2" cy="358.7" rx="7.7" ry="4.3" fill="#ff4000" transform="rotate(-15 1612.2 358.7)"/><ellipse cx="1612.4" cy="358.6" rx="5.4" ry="3.0" fill="#ff0000" transform="rotate(-15 1612.4 358.6)"/><ellipse cx="1612.9" cy="358.5" rx="3.6" ry="2.4" fill="#ffffff"/>
<rect x="1373.4" y="107.2" width="82.9" height="69.5" fill="none" stroke="#ee1111" stroke-width="1.3"/>
<rect x="1576.2" y="105.8" width="82.1" height="68.8" fill="none" stroke="#ee1111" stroke-width="1.3"/>
<rect x="1373.5" y="292.4" width="82.9" height="69.5" fill="none" stroke="#ee1111" stroke-width="1.3"/>
<rect x="1574.3" y="296.0" width="82.7" height="68.5" fill="none" stroke="#ee1111" stroke-width="1.3"/>
<text x="1377.6" y="129.0" font-size="20.35">23.75%</text>
<text x="1590.6" y="128.7" font-size="20.39">40.3%</text>
<text x="1383.9" y="317.7" font-size="20.27">38.52%</text>
<text x="1580.0" y="318.5" font-size="20.56">57.89%</text>
<path d="M1314 464 V471.4 H1397" stroke="#1a1a1a" stroke-width="4" fill="none"/>
<path d="M1632 471.4 H1680" stroke="#1a1a1a" stroke-width="4" fill="none"/>
<path d="M1676 462 L1710 471.4 L1676 481 Z" fill="#1a1a1a"/>
<text x="1400.3" y="481.4"><tspan font-size="23.91">Gated in </tspan><tspan font-size="23.91">CD8</tspan><tspan font-size="16.26" dy="-10.04">+</tspan><tspan font-size="23.91" dy="10.04"> T cells</tspan></text>
<text transform="translate(1318.6,382.9) rotate(-90)" x="-79.0" y="0"><tspan font-size="24.52">IFN-γ–PE-Cy7</tspan></text>
<text transform="translate(1318.6,179.0) rotate(-90)" x="-89.0" y="0"><tspan font-size="24.64">Granzyme B-PE</tspan></text>
<path d="M1309 301.6 V288" stroke="#1a1a1a" stroke-width="4"/>
<path d="M1301.2 290.7 L1309 271.4 L1316.8 290.7 Z" fill="#1a1a1a"/>
<path d="M1309.5 87.7 V74" stroke="#1a1a1a" stroke-width="4"/>
<path d="M1302 76.7 L1309.5 56.4 L1317 76.7 Z" fill="#1a1a1a"/>
<path d="M1829.6 18.2 V221.4" stroke="#000" stroke-width="3" fill="none"/>
<line x1="1821.6" y1="221.4" x2="1963.5" y2="221.4" stroke="#000" stroke-width="3"/>
<line x1="1821.6" y1="19.7" x2="1829.6" y2="19.7" stroke="#000" stroke-width="3"/>
<text x="1792.7" y="28.9" font-size="23.64">50</text>
<line x1="1821.6" y1="60.0" x2="1829.6" y2="60.0" stroke="#000" stroke-width="3"/>
<text x="1792.7" y="69.2" font-size="23.64">40</text>
<line x1="1821.6" y1="100.4" x2="1829.6" y2="100.4" stroke="#000" stroke-width="3"/>
<text x="1792.7" y="109.6" font-size="23.64">30</text>
<line x1="1821.6" y1="140.7" x2="1829.6" y2="140.7" stroke="#000" stroke-width="3"/>
<text x="1792.7" y="149.9" font-size="23.64">20</text>
<line x1="1821.6" y1="181.1" x2="1829.6" y2="181.1" stroke="#000" stroke-width="3"/>
<text x="1792.7" y="190.2" font-size="23.64">10</text>
<line x1="1821.6" y1="221.4" x2="1829.6" y2="221.4" stroke="#000" stroke-width="3"/>
<text x="1805.8" y="230.6" font-size="23.64">0</text>
<line x1="1867.6" y1="221.4" x2="1867.6" y2="229.8" stroke="#000" stroke-width="3"/>
<line x1="1925.4" y1="221.4" x2="1925.4" y2="229.8" stroke="#000" stroke-width="3"/>
<path d="M1849.3 221.4 V128.7 H1887.3 V221.4" stroke="#ff2a00" stroke-width="3" fill="none"/>
<path d="M1906.5 221.4 V52.5 H1945.1 V221.4" stroke="#0f8c8c" stroke-width="3" fill="none"/>
<line x1="1867.6" y1="128.7" x2="1867.6" y2="125.5" stroke="#ff2a00" stroke-width="3"/>
<line x1="1855.6" y1="125.5" x2="1879.6" y2="125.5" stroke="#ff2a00" stroke-width="3"/>
<line x1="1867.6" y1="128.7" x2="1867.6" y2="130.0" stroke="#ff2a00" stroke-width="3"/>
<line x1="1855.6" y1="130.0" x2="1879.6" y2="130.0" stroke="#ff2a00" stroke-width="3"/>
<line x1="1925.4" y1="52.5" x2="1925.4" y2="49.5" stroke="#0f8c8c" stroke-width="3"/>
<line x1="1913.4" y1="49.5" x2="1937.4" y2="49.5" stroke="#0f8c8c" stroke-width="3"/>
<line x1="1925.4" y1="52.5" x2="1925.4" y2="55.0" stroke="#0f8c8c" stroke-width="3"/>
<line x1="1913.4" y1="55.0" x2="1937.4" y2="55.0" stroke="#0f8c8c" stroke-width="3"/>
<circle cx="1853.2" cy="118.7" r="5.8" fill="#fff" stroke="#ff2a00" stroke-width="2.8"/>
<circle cx="1868.4" cy="128.7" r="5.8" fill="#fff" stroke="#ff2a00" stroke-width="2.8"/>
<circle cx="1883.4" cy="126.0" r="5.8" fill="#fff" stroke="#ff2a00" stroke-width="2.8"/>
<circle cx="1917.5" cy="49.9" r="5.8" fill="#fff" stroke="#0f8c8c" stroke-width="2.8"/>
<circle cx="1926.0" cy="56.5" r="5.8" fill="#fff" stroke="#0f8c8c" stroke-width="2.8"/>
<circle cx="1934.6" cy="48.6" r="5.8" fill="#fff" stroke="#0f8c8c" stroke-width="2.8"/>
<text x="1843.5" y="31.5"><tspan font-size="22.66" font-style="italic">P</tspan><tspan font-size="22.66"> = 0.0001</tspan></text>
<line x1="1868.4" y1="37.6" x2="1921.5" y2="37.6" stroke="#000" stroke-width="3"/>
<text transform="translate(1750.8,128.5) rotate(-90)" x="-26.5" y="0"><tspan font-size="21.68">IFN-γ</tspan></text>
<text transform="translate(1782.3,124.7) rotate(-90)" x="-101.0" y="0"><tspan font-size="24.99">(% in </tspan><tspan font-size="24.99">CD8</tspan><tspan font-size="16.99" dy="-10.50">+</tspan><tspan font-size="24.99" dy="10.50"> T cells</tspan></text>
<path d="M1834.0 242.2 V444.6" stroke="#000" stroke-width="3" fill="none"/>
<line x1="1825.6" y1="444.6" x2="1967.4" y2="444.6" stroke="#000" stroke-width="3"/>
<line x1="1825.6" y1="243.7" x2="1834.0" y2="243.7" stroke="#000" stroke-width="3"/>
<text x="1794.7" y="252.9" font-size="23.64">65</text>
<line x1="1825.6" y1="277.2" x2="1834.0" y2="277.2" stroke="#000" stroke-width="3"/>
<text x="1794.7" y="286.4" font-size="23.64">60</text>
<line x1="1825.6" y1="310.7" x2="1834.0" y2="310.7" stroke="#000" stroke-width="3"/>
<text x="1794.7" y="319.8" font-size="23.64">55</text>
<line x1="1825.6" y1="344.1" x2="1834.0" y2="344.1" stroke="#000" stroke-width="3"/>
<text x="1794.7" y="353.3" font-size="23.64">50</text>
<line x1="1825.6" y1="377.6" x2="1834.0" y2="377.6" stroke="#000" stroke-width="3"/>
<text x="1794.7" y="386.8" font-size="23.64">45</text>
<line x1="1825.6" y1="411.1" x2="1834.0" y2="411.1" stroke="#000" stroke-width="3"/>
<text x="1794.7" y="420.3" font-size="23.64">40</text>
<line x1="1825.6" y1="444.6" x2="1834.0" y2="444.6" stroke="#000" stroke-width="3"/>
<text x="1794.7" y="453.8" font-size="23.64">35</text>
<line x1="1871.6" y1="444.6" x2="1871.6" y2="453.0" stroke="#000" stroke-width="3"/>
<line x1="1929.4" y1="444.6" x2="1929.4" y2="453.0" stroke="#000" stroke-width="3"/>
<path d="M1853.2 444.6 V420.2 H1890.8 V444.6" stroke="#ff2a00" stroke-width="3" fill="none"/>
<path d="M1911.0 444.6 V291.5 H1948.5 V444.6" stroke="#0f8c8c" stroke-width="3" fill="none"/>
<line x1="1871.6" y1="420.2" x2="1871.6" y2="417.5" stroke="#ff2a00" stroke-width="3"/>
<line x1="1859.6" y1="417.5" x2="1883.6" y2="417.5" stroke="#ff2a00" stroke-width="3"/>
<line x1="1871.6" y1="420.2" x2="1871.6" y2="423.0" stroke="#ff2a00" stroke-width="3"/>
<line x1="1859.6" y1="423.0" x2="1883.6" y2="423.0" stroke="#ff2a00" stroke-width="3"/>
<line x1="1929.4" y1="291.5" x2="1929.4" y2="284.9" stroke="#0f8c8c" stroke-width="3"/>
<line x1="1918.9" y1="284.9" x2="1939.9" y2="284.9" stroke="#0f8c8c" stroke-width="3"/>
<line x1="1929.4" y1="291.5" x2="1929.4" y2="296.7" stroke="#0f8c8c" stroke-width="3"/>
<line x1="1918.9" y1="296.7" x2="1939.9" y2="296.7" stroke="#0f8c8c" stroke-width="3"/>
<circle cx="1857.1" cy="414.9" r="5.8" fill="#fff" stroke="#ff2a00" stroke-width="2.8"/>
<circle cx="1871.6" cy="425.4" r="5.8" fill="#fff" stroke="#ff2a00" stroke-width="2.8"/>
<circle cx="1887.3" cy="421.5" r="5.8" fill="#fff" stroke="#ff2a00" stroke-width="2.8"/>
<circle cx="1929.4" cy="281.0" r="5.8" fill="#fff" stroke="#0f8c8c" stroke-width="2.8"/>
<circle cx="1929.4" cy="291.5" r="5.8" fill="#fff" stroke="#0f8c8c" stroke-width="2.8"/>
<circle cx="1929.4" cy="298.0" r="5.8" fill="#fff" stroke="#0f8c8c" stroke-width="2.8"/>
<text x="1842.7" y="260.0"><tspan font-size="22.50" font-style="italic">P</tspan><tspan font-size="22.50"> &lt; 0.0001</tspan></text>
<line x1="1870.0" y1="269.2" x2="1922.8" y2="269.2" stroke="#000" stroke-width="3"/>
<text transform="translate(1751.0,353.0) rotate(-90)" x="-64.2" y="0"><tspan font-size="23.13">Granzyme B</tspan></text>
<text transform="translate(1782.3,348.0) rotate(-90)" x="-101.0" y="0"><tspan font-size="24.99">(% in </tspan><tspan font-size="24.99">CD8</tspan><tspan font-size="16.99" dy="-10.50">+</tspan><tspan font-size="24.99" dy="10.50"> T cells</tspan></text>
<text x="1763.0" y="480.8" font-size="23.45">TAMs:</text>
<text x="1837.0" y="480.8"><tspan font-size="23.58" font-style="italic">Id1</tspan><tspan font-size="18.39" font-style="italic" dy="-10.61">f/f</tspan></text>
<text x="1904.0" y="480.8"><tspan font-size="23.59" font-style="italic">Id1</tspan><tspan font-size="18.40" font-style="italic" dy="-10.62">Lyz-KO</tspan></text>
<text x="1.2" y="566.0" font-size="56.18" font-weight="bold">e</text>
<text x="47.6" y="545.2" font-size="23.61">Spleen-liver metastasis model</text>
<path d="M151.0 574.5 V862.6" stroke="#000" stroke-width="3" fill="none"/>
<line x1="140.3" y1="862.6" x2="343.6" y2="862.6" stroke="#000" stroke-width="3"/>
<line x1="140.3" y1="576.0" x2="151.0" y2="576.0" stroke="#000" stroke-width="3"/>
<text x="95.9" y="585.0" font-size="23.00">100</text>
<line x1="140.3" y1="633.3" x2="151.0" y2="633.3" stroke="#000" stroke-width="3"/>
<text x="108.8" y="642.3" font-size="23.00">80</text>
<line x1="140.3" y1="690.6" x2="151.0" y2="690.6" stroke="#000" stroke-width="3"/>
<text x="108.8" y="699.6" font-size="23.00">60</text>
<line x1="140.3" y1="748.0" x2="151.0" y2="748.0" stroke="#000" stroke-width="3"/>
<text x="108.8" y="756.9" font-size="23.00">40</text>
<line x1="140.3" y1="805.3" x2="151.0" y2="805.3" stroke="#000" stroke-width="3"/>
<text x="108.8" y="814.2" font-size="23.00">20</text>
<line x1="140.3" y1="862.6" x2="151.0" y2="862.6" stroke="#000" stroke-width="3"/>
<text x="121.5" y="871.6" font-size="23.00">0</text>
<line x1="206.1" y1="862.6" x2="206.1" y2="873.6" stroke="#000" stroke-width="3"/>
<line x1="288.4" y1="862.6" x2="288.4" y2="873.6" stroke="#000" stroke-width="3"/>
<path d="M180.0 862.6 V665.7 H233.0 V862.6" stroke="#930f4f" stroke-width="3" fill="none"/>
<path d="M261.5 862.6 V736.6 H315.0 V862.6" stroke="#8f8f00" stroke-width="3" fill="none"/>
<line x1="206.1" y1="665.7" x2="206.1" y2="645.5" stroke="#930f4f" stroke-width="3"/>
<line x1="191.2" y1="645.5" x2="220.9" y2="645.5" stroke="#930f4f" stroke-width="3"/>
<line x1="206.1" y1="665.7" x2="206.1" y2="685.9" stroke="#930f4f" stroke-width="3"/>
<line x1="191.2" y1="685.9" x2="220.9" y2="685.9" stroke="#930f4f" stroke-width="3"/>
<line x1="288.4" y1="736.6" x2="288.4" y2="725.4" stroke="#8f8f00" stroke-width="3"/>
<line x1="273.5" y1="725.4" x2="303.2" y2="725.4" stroke="#8f8f00" stroke-width="3"/>
<line x1="288.4" y1="736.6" x2="288.4" y2="747.8" stroke="#8f8f00" stroke-width="3"/>
<line x1="273.5" y1="747.8" x2="303.2" y2="747.8" stroke="#8f8f00" stroke-width="3"/>
<circle cx="206.1" cy="608.2" r="5.8" fill="#fff" stroke="#930f4f" stroke-width="2.8"/>
<circle cx="206.1" cy="628.4" r="5.8" fill="#fff" stroke="#930f4f" stroke-width="2.8"/>
<circle cx="195.0" cy="691.4" r="5.8" fill="#fff" stroke="#930f4f" stroke-width="2.8"/>
<circle cx="217.5" cy="685.0" r="5.8" fill="#fff" stroke="#930f4f" stroke-width="2.8"/>
<circle cx="206.1" cy="714.7" r="5.8" fill="#fff" stroke="#930f4f" stroke-width="2.8"/>
<circle cx="288.4" cy="702.1" r="5.8" fill="#fff" stroke="#8f8f00" stroke-width="2.8"/>
<circle cx="288.4" cy="725.4" r="5.8" fill="#fff" stroke="#8f8f00" stroke-width="2.8"/>
<circle cx="277.0" cy="744.4" r="5.8" fill="#fff" stroke="#8f8f00" stroke-width="2.8"/>
<circle cx="300.0" cy="744.4" r="5.8" fill="#fff" stroke="#8f8f00" stroke-width="2.8"/>
<circle cx="288.4" cy="766.3" r="5.8" fill="#fff" stroke="#8f8f00" stroke-width="2.8"/>
<text x="193.8" y="571.3"><tspan font-size="22.95" font-style="italic">P</tspan><tspan font-size="22.95"> = 0.0144</tspan></text>
<line x1="213.5" y1="576.8" x2="281.7" y2="576.8" stroke="#000" stroke-width="3"/>
<text transform="translate(55.6,715.2) rotate(-90)" x="-108.0" y="0"><tspan font-size="23.79">Tumor inhibition rate</tspan></text>
<text transform="translate(93.5,714.0) rotate(-90)" x="-109.4" y="0"><tspan font-size="24.79">(% of </tspan><tspan font-size="24.79" font-style="italic">Id1</tspan><tspan font-size="16.86" font-style="italic" dy="-9.92">Lyz-KO</tspan><tspan font-size="24.79" font-style="italic" dy="9.92">/Id1</tspan><tspan font-size="16.86" font-style="italic" dy="-9.92">f/f</tspan><tspan font-size="24.79" dy="9.92">)</tspan></text>
<text x="36.9" y="910.0" font-size="23.53">Recipient:</text>
<text x="-75.0" y="0.0" transform="translate(221,900) rotate(-37)"><tspan font-size="22.50">BALB/c</tspan></text>
<text x="-131.4" y="0.0" transform="translate(302,901) rotate(-37)"><tspan font-size="22.50">BALB/c nude</tspan></text>
<text x="384.0" y="560.0" font-size="56.55" font-weight="bold">f</text>
<text x="567.9" y="556.4" font-size="23.77">Spleen-liver metastasis model</text>
<circle cx="406.4" cy="606.4" r="12.5" fill="#0000ff"/>
<text x="426.0" y="616.4" font-size="23.13">DAPI</text>
<circle cx="516.4" cy="606.4" r="12.5" fill="#ffff00"/>
<text x="535.7" y="616.4" font-size="23.15">CD8</text>
<clipPath id="c3"><rect x="379.3" y="639.3" width="210.0" height="210.0"/></clipPath>
<g clip-path="url(#c3)">
<rect x="379.3" y="639.3" width="210.0" height="210.0" fill="#000018"/>
<g filter="url(#mblur)">
<path fill="none" stroke="#00003c" stroke-width="8" stroke-linecap="round" d="M413.8 781.9l.3 4.5M424.8 803.1l-.2 5.2M485 687.9l.8 1.8M500.3 652.1l3.9 3.4M430.2 646l-4.1 4.4M562.5 767.7l1.1 1.8M482.6 661l2.3 5.3M413 810.7l-2.4 .6M474.4 753.5l.2 3.4M416.5 645.3l4 3.7M545.9 682.1l-5.6 1.9M539.2 797.9l-2.9 3.2M402.9 737.8l4.3 3.1M572.4 824l1.5 3.3M473 717.5l2.1 5.6M387.4 658.8l-4.9 .1M484.9 741l-3 3M426.7 765.2l-1.6 3.9M418.9 674.6l-3.3 .8M450.6 764.2l3.1 1M392.1 807.8l2 4.7M525.6 780.9l-5.5 .7M465.6 844.2l-1.6 5.6M563.5 741.2l2.5 2.5M564.2 672.7l-1.9 1.3M539.2 740.3l5.3 .9M431.9 699.2l3.2 1.9M396.7 710.2l-5.6 .3M537.4 739.7l-3 .4M488.9 791.7l1.7 1.3M556.2 803.7l-1.7 5.2M467.2 759.1l3.1 4.4M489 697.2l5.1 .2M523.5 838.6l-.6 2M513 816.6l3 3.1M461.9 839.5l5.1 2.3M399 658l.3 2.1M406.7 820.5l4.3 1.8M490.9 706.1l3.1 2.5M415.3 676.5l-2.2 2.8M497 648.1l-4.5 1.9M541.8 804.3l.2 2M393.5 798.7l-1.7 2.1M430.8 785.4l3.2 .4M459.3 702l3.4 4.5M482.2 753.8l5.5 1.8M508 745.8l-4.9 .5M444.8 784.2l-.8 4M391.4 807.7l2.6 5.3M444.9 847.6l2.4 .6M394.3 807.8l.8 5M509.4 641.2l.8 4.5M486.6 719.9l2.7 2.3M390.4 729.2l-1.8 2.4M549.5 790l2.8 2.6M462.5 741.3l-4.5 .5M398.5 738.5l-2.5 3.1M567.9 801.4l-3.3 3.1M520.9 817.7l-2.6 4M431.4 830.1l-1.2 3.3M549.5 841.6l6 .1M443.3 704l3.2 1.6M497.1 655.7l-3.2 .6M536.4 736.2l-2.4 .3M527.8 681l-1.4 3M520.9 691.6l3.1 4.9M433.4 815.7l-1.4 2.2M420.7 763.4l1.2 2.9M577.5 735.6l-1.3 3.5M437.1 674.6l2.3 2.7M419.8 840.5l-1.8 1.2M575.6 786.2l-0 2.1M385.8 765.3l3.5 3.3M380.2 752.6l1.3 2M473.1 826.4l3.2 1.4M543.5 811.7l4.1 .6M417.1 722.6l3.2 2.7M550.5 815.4l-5.3 2M384.1 761.2l-2.2 .7M534.8 798.5l2.7 .5M550.3 764.4l.4 4.5M546.6 708.9l1.4 2.8M439.2 770.4l5.4 1.2M391.6 745.4l3.9 2.6M436 650.6l0 2.1M521 776l2.5 .8M575.8 750.9l-2.1 3M533.1 748.9l-2 1.2M424.4 646.1l-.3 3.4M511.2 673.4l.1 4.8M415.8 817.2l-5 1.5M524.4 684.2l-4.9 1.5M490.3 827.3l2 5.5M574.5 835.9l5.2 .2M454.8 766.6l-3.2 3.1M515.5 670.4l-.6 5.7M565 679.8l-1 5.9M541 792.2l2.3 5M396.9 723.1l-.3 2.7M549.2 715.3l2.5 .2M468.6 760.3l-1 1.8M423.8 658.9l-.4 5.7M566.4 746.4l1.8 1.7M470.2 772.1l-3.6 3.6M515.3 690.7l1.4 3.5M481.8 693l.5 4.1M388.5 810.8l-3.5 2.5M532.8 790l2.3 5.5M462.5 637.8l-1.2 4.5M499.3 847.9l2.1 1.8M531.5 809.6l3.9 .7M456.8 810.9l.5 4M462.3 769.5l-2.5 3.6M559.8 795.8l2.5 2.5M541.2 804.1l4.6 3.3M556.7 825.4l1.3 1.9M510.6 668l3.6 3.9M521.5 700.5l2.3 1.7M484.6 787.8l-1.6 2.4M448.2 774.7l2.9 2M408.3 649.1l1.3 4.6M402.9 824.1l4.6 .3M531.5 762.3l-0 3.8M582.3 715.7l-1.9 4.1M457.1 709.8l-2.1 4.6M476.4 746.3l-2.3 1.8M382 773.1l2.9 2.4M502.5 760.6l.1 2.3M413.1 805.7l1.7 2.8M423.3 648.8l2.4 1.3M509 816.7l2.7 1M492.9 662.3l-2.6 2.5M420 785.7l4 1.1M429.3 764.5l1.9 1.4M501.4 809.3l-2 3.6M382.8 702.4l-3.2 .9M454.4 803l0 2.1M564.7 800.1l3.6 2.3M576 654.2l-4.5 3.8M529.8 749.6l1.3 2.3M520.2 776l-2.9 2.1M389.9 698.6l1.2 2M545.1 796.5l1.5 2.1M401.4 777l2.8 2.5M458.9 819.5l-2.1 3.1M510.2 736.8l1.8 3.8M420.1 741.7l1.6 2.8M417 830l3 2.2M384.6 681.9l2.7 4.8M519 685.4l.7 4.5M532.8 748.9l2.2 2.7M503.9 811.6l.3 4.8M445.9 825.3l4.8 2.4M524.3 801.2l-4.7 .5M562.3 688.4l3.1 5.1M458.6 843.1l.9 2.5M512 695.7l-2.4 1.8M510.3 794.5l-4.7 2M566.9 809.3l0 5.9M528 744.6l-2.8 5.2"/>
<path fill="none" stroke="rgb(0,0,75)" stroke-width="5.0" stroke-linecap="round" d="M553.6 800.5l-2.2 .7M575.5 783.7l-.2 2.2M580 820.1l-.5 1.1M404.1 829.1l.3 2.6M404.3 640.7l1 3.4M539 804.2l-.3 1.1M422.4 820.4l1.1 1.8M411.9 649.3l0 1.4M419.2 720.4l1 .3M555.4 662.7l-.8 .9M556.4 785.7l1.5 1.7M449.4 667.1l-0 2M376.5 648.3l1.4 1.7M395.5 660.3l-2.9 1.3"/>
<path fill="none" stroke="rgb(0,0,75)" stroke-width="5.8" stroke-linecap="round" d="M521.2 691.9l1.8 1.5M414.4 788.7l-.2 2.4M434.2 813.6l1.3 .1M563.2 751.4l-1.5 1.4M494.1 646.2l-.9 1.4M575.1 850l.8 1.8M498.2 831.3l-2.6 .8M534.8 742.2l-1.7 1.2"/>
<path fill="none" stroke="rgb(0,0,75)" stroke-width="6.5" stroke-linecap="round" d="M410.9 710.8l2.8 .5M591.8 653.4l-.7 2M587.3 804.5l-2.9 1.2M545 835.1l.1 1.6M467.8 693.4l1.1 .5M504.2 701.2l-2 1.8M437.3 829.9l-.1 1.1M574 747.7l2 1.5M574.4 756.1l-2.6 1.7M505.9 841.7l2.1 .9M440.7 656.6l3.2 .1"/>
<path fill="none" stroke="rgb(0,0,112)" stroke-width="5.0" stroke-linecap="round" d="M401.5 745.7l-2.3 1.6M420.7 641.3l3.2 1M585.6 679.1l-.4 2.1M388.5 714l1.4 1.2M524.1 842.7l-2.2 .5M549 728.3l-2 .2M473.1 843.1l-.7 1.8M377.7 823.4l.9 .9M504 654.3l-0 3.2M553.5 724.4l1.3 2.9M548.5 757.3l-1.5 1.9M383 679.7l-1.6 1M402.8 673.4l1.4 .2M572.3 739.2l-1.1 2.2M434.7 658.9l.5 1.9M515.9 788.7l-2.9 .7M482.4 818.2l1.4 .3M413.1 827.3l1.1 .7M411.6 776.3l-2 .8M394.7 803.1l-1.6 .9M406.5 696.8l1.7 .2M544.6 689.5l1.3 2.9M504.6 637.5l-2.1 1M408.7 850.9l-2.7 1M523.5 726.5l-1.3 1.7M439.2 711l.8 3"/>
<path fill="none" stroke="rgb(0,0,112)" stroke-width="5.8" stroke-linecap="round" d="M390 832.1l2.4 2.1M432.1 821.7l-.6 3.2M427.3 728.8l.4 .9M469.4 648.3l-1.4 .7M554.1 736.3l-1.1 .4M404.4 845.1l-1 .8M489.2 815.2l1 1.4M514.7 668.2l2.1 0M478 847.7l1 .9M563.4 826.8l2.1 .1M568.4 763.9l.3 1.2M582.1 752.2l-1.9 .5M400.1 724.5l.3 2.2M396.8 666.7l1.8 2M420.8 679.7l2.1 2.5M445.2 677.5l1.2 3.1M582.1 825.4l.5 2.4M550.5 774.8l1.2 1.2M497.2 677.2l-1.9 1.3M492.1 824.8l-.9 .6M516.5 637.6l1.3 .6M499.4 725.8l2.7 1.1M486.7 677.4l2.4 1.2M384.5 635.6l1.8 2.2M448.9 696.4l1.1 .5M569.9 771.2l.5 1.8M378.5 671.9l-.5 1.3M461 837.9l-2.7 .3M417.4 831.6l2.1 1M527.1 710.5l-1.1 1.5M523.7 779.2l-.2 1.1"/>
<path fill="none" stroke="rgb(0,0,112)" stroke-width="6.5" stroke-linecap="round" d="M548.3 673l3 1.6M411.8 724.6l-2.1 1M487.3 756l-1.4 .1M537.2 846.1l2.8 1.8M548.5 845.6l-3 1.4M584.6 844.1l1.9 .5M500.8 693.9l1.8 1.4M511.4 647.1l1.3 .1M531.7 664.1l0 1.3M565 692.9l1.2 2M410.8 636.9l-2 2.6M480.4 811.1l.9 1.4M487.9 846l-1.9 1.8M392.4 775.7l1.4 .7M504.6 802.1l-1.4 .1M406.4 688.1l2.3 2.3M547.3 663.4l-.3 2.2M412.8 781.6l3 .9M529.2 672.4l-.5 1M380.3 767.6l1.7 2.5M515.7 693.9l-3.3 1.1M377.9 761.5l-0 1.9M578.7 696.1l1.2 .8M560.6 704.2l-.9 2M485.4 691.1l.1 1.6M487.1 708.6l-2.2 2.5M522 809.4l-.5 2.1M522.1 648.9l-.5 1.4M440.4 763.4l-.5 3.5M401.1 719l1.6 .3M384.6 834.8l-1.1 1.3M377.7 684.4l1 2M453.4 801l1.4 1.1M464.5 705.5l-1.1 .9M506.5 666.7l-2.2 1.3M522.1 795l-2 2.5M453.2 788.4l-.4 2.8M488.3 807.1l-1.7 2.9M465.8 849.8l-1.6 2.4M429 814.9l-1.3 2.5"/>
<path fill="none" stroke="rgb(0,0,150)" stroke-width="5.0" stroke-linecap="round" d="M378.4 656.2l-2.4 .2M435.9 804.8l1.3 1.4M585.4 834.1l-1.5 1M478.4 654l2 1M396.4 695.2l-1.2 .7M383.1 752.5l-2.6 .7M560.7 720l-2.2 .4M514 820.1l-1.7 .1M416 818.5l-.2 1.8M533 710.5l.9 .4M495.9 850.5l-1.3 1.3M500.7 812.7l-2.1 .7M379.6 778.1l2.3 .3M397.6 674.4l-1.1 .2M559.5 650.8l2.5 1.9M573.9 841.9l2.8 1.2M556.1 710.5l-2.1 .1M473.8 793.2l-2.8 .1M563 713.4l-2.3 .4M489.4 669.8l-1.9 2.8M537.6 751.8l1.7 1.4M499.3 707.2l.8 1.8M583.5 650.9l3.4 .3M394.9 813.7l1.1 3.1M569.4 647.7l-.5 .9M573.4 815.7l2.4 .3M403.9 775.8l-1.2 .3M505.4 687.6l-.9 2.1M433 842.4l2.9 .2M523.9 636.8l1.8 1.5M538.6 826.5l-1.7 .9M406.4 706.3l-1.4 .8M502.9 779.7l3.3 .1M581.6 742.9l.6 2.9M543.5 798.4l-1.3 2.1M409.5 796.7l-3 1.3M467 800l-2.5 1.3M449.2 772.6l2.2 1.8M497.3 697.8l-1.3 3.1M557.7 695.3l1.6 .6M382.9 851.9l-.8 .8M473.9 830.5l1.7 .2M393.7 749l-0 2.3M592.2 792.7l-1.1 2.3"/>
<path fill="none" stroke="rgb(0,0,150)" stroke-width="5.8" stroke-linecap="round" d="M432.1 683l-2.5 .2M531.1 642.3l2.6 1.5M500.7 713.9l-.8 1.9M508.8 722.3l-3.1 .2M386.2 652.9l2.2 .9M513.4 836l-.9 1.4M414.7 764.2l-2.1 1.3M464.1 843.3l-1.3 1.9M457.1 777.2l3 .2M478.5 694.1l-.5 1.8M519.7 831.7l.2 1.2M426.9 695.4l-3.1 1M556 688.7l.8 .7M424.8 833.8l-.3 3.3M456.8 695.2l.2 1.6M480 705.1l-.2 2.5M376.9 642l-1.1 .5M429.7 712l.8 1.3M516.7 799.9l-1.8 1.6M477 675.3l.8 2M554.7 833.2l1.8 2M496.9 640.8l2.4 2.1M445.9 648.7l-.3 1.3M385.3 828.2l1 1.6M434 651.5l2.9 .4M466.1 675.8l1.2 .1M506.8 755.3l.8 2.5M381.8 732.6l-.5 2.8M455.5 829.3l-1.2 .1M583.8 722.2l2.2 .1M448.3 794.5l1.8 1.6M560.9 804.3l1.1 1.7M546.5 639.8l.9 1.2M466.5 761.8l.2 2M409.1 760.4l-2.6 1.9M383.2 817.8l.3 2.6M456.8 659.4l2.2 .3M488.8 761.9l-1.1 1.5M490 722.8l.9 .7M452.2 819.7l.6 .8M398 838.9l-3 1.7M575.3 763.2l2.7 .7M540.4 791.6l1 .7M425.8 688.8l1.6 .3M503.1 647l-1.3 2.9M590.3 850.6l.7 .8M481.8 682.2l1.3 .1M446.1 767.3l-0 1.5M538.2 779.1l2 2.8M389.7 697.2l-1.3 2.5M455.9 723.9l-1.4 2.4M478.7 668.9l2.2 .2M568.5 839.9l-1.2 1"/>
<path fill="none" stroke="rgb(0,0,150)" stroke-width="6.5" stroke-linecap="round" d="M441.5 663.8l-3.1 .9M460.6 665.8l-1.8 .1M527.2 816.4l1.3 .4M577.7 711l1.7 2.9M561.2 819.2l-2.8 0M562.3 797.1l-2.8 .7M395.2 790.5l-1.1 .4M444.8 692.1l-1.6 1.3M451 751.4l2.9 1.9M420.7 688.1l-1.6 .2M561.8 764.8l.2 2.7M388.7 806.3l-1.4 3M543.5 718.4l1.5 .1M451.6 840.5l-2.7 .3M534.5 758.4l1.3 1M432.8 849.7l3.3 .1M513.1 678.7l.7 2.3M393.6 639.8l-1.3 .3M515.3 710.4l.7 .9M402.3 732.2l-.4 1M482 641.8l.1 1.7M472.9 712.7l-.2 2.3M588.5 698.1l-.7 1.4M464.5 728.2l-1.6 2.5M419 707.7l2.4 2M573.7 833.9l1.7 3M378.2 844.1l1.6 .1M382.2 794.7l1.5 1.4M529.9 850.6l2.8 1.6M388 703.6l-.2 3.3M530.4 809.2l1.1 1.5M567.6 719.4l-1.6 2.4M462.4 783.2l.5 .9M426.4 666.9l1 1.8M450.8 641.4l1.8 .6M515.6 653.3l-1 .5M462.4 746.9l.9 .7M573 716.6l.5 1.2M530.8 791.2l-2 2.5M401.7 754.9l1.9 .8M538.4 772.3l2.1 1.5M591.6 726.8l.5 1.2M546.9 750.5l1.5 1M568.2 786.9l-.9 2.3M527.3 717.4l1.2 2.1M560.3 638.5l1.8 .8M442.5 839.7l-2 2.6M572.9 685.7l.3 1.1M484.4 657.6l1.9 .4M429.1 655.9l-2.7 .7M531.4 842.1l-.9 .8M512.6 829.7l1.4 .1M398.7 636.1l.9 2.6M401.3 739l1.2 1.8M474.6 763l-.9 3.2"/>
<path fill="none" stroke="rgb(5,5,188)" stroke-width="5.0" stroke-linecap="round" d="M377.8 709.5l-1.5 .7M475.1 784.7l1.6 2.5M415.2 700.3l2.8 1M540.8 684.1l.9 1.5M492.4 689.8l-1 .4M402.9 699l-3.2 1.2M457.8 677.9l-.1 1.8M577 771.7l1 1.2M418.9 746.9l3.2 .8M483.7 724.9l-1.8 2.5M529.8 832.3l-.2 1.1M574.2 666l.6 2.7M421.6 812.4l-1 1.9M401 800.4l.2 1.6M390.2 680.8l3.4 .4M405.6 784.4l-1 .1M544.9 702.6l.2 1.5M497.5 733.1l-1 1.7M440.7 774.5l3 1.1M530.1 750.5l.2 1.2M396.3 821.6l-1 .7M454.5 764.7l1.1 1.4M527.1 737.1l-1.4 .3M381 663.7l2.6 0M579.1 687.9l1.3 2.3M562.2 843.3l-1.2 1M569.7 779.3l-.3 1.9M394.9 707.9l-.3 1.6M522 661.3l1 2.7M417.9 730.5l3.4 .7M557.3 758l-.7 3.2M381.2 720.2l-.1 2M585.2 785l1.7 1.4M386.7 760.4l-.8 2.2M403.5 820.1l1.8 2.2M445.4 708l.1 2.3M437.2 695.7l-.5 3.2M485 744.3l-1.9 2.6M498 794.6l3 .6M377.2 795.4l-1.5 .6M567.1 703.9l1.3 2.5M534.2 735.7l-2.3 1.3M486 664.1l.2 1.4M564.1 757.8l.9 1.9M577.3 648.2l-1.1 .4M522.6 744.1l3.4 .5M421.9 786.6l-.6 1M558.3 681.6l-.3 1.9M503.4 820.2l3.1 .7M513.3 742.4l2.1 1M534 676.7l0 1.4M387.9 721.9l1.5 1M583.9 662.6l2.4 1.5M545.2 827.1l-.7 2.5M486.9 778.7l.2 1M490.7 713.2l2.9 1.4M588.3 828l.8 1.2M476.9 838.6l1.6 2.5"/>
<path fill="none" stroke="rgb(5,5,188)" stroke-width="5.8" stroke-linecap="round" d="M386.2 773.4l1.2 .9M446.9 701.7l-2.5 .6M468.9 824.8l2 .8M565.9 833.1l1.2 .3M456.8 709.2l.6 1.5M424.3 802.5l1.9 .6M451.4 781.5l-2.1 0M538 667.5l1.6 .2M395.9 761.8l.9 .6M496.8 763l-2.7 1.1M444.6 823l-1 .2M551.2 791.5l1.5 1.4M457.1 652.7l1.2 .2M462.6 769.1l-1 3.1M587.5 713.4l-.6 1.6M417.5 769.1l1.8 .9M402.2 679.4l-.4 1.9M497.1 821.2l2.4 1M408.9 657.8l-1 .1M496.7 839.2l-.9 2.2M436.9 682.9l2.4 1.5M551.1 816.7l-1.8 1.6M427.8 719.4l1.4 2.8M514.3 844.7l2.2 1M467.1 735.2l-1.5 .9M397.4 685.6l1.5 1.4M589.9 740.1l-1.5 .7M546 785.2l-3 1.5M403.7 789.5l-1.5 3M484.8 636.9l3.5 .1M455.6 735.8l-.6 3.4M485.7 791.1l-2.8 1.5M592.3 706.8l-3 .1M444 752.5l1.4 1.1M591.5 775.2l-1.9 .8M412.9 838.5l1.1 .1M399.2 850.8l1.2 2.7M480.6 800l2.2 .8M499.7 845.1l1.2 1.5M471.6 656.4l-.9 1.3M384.6 727.4l.6 1.3M537.1 815.3l-1.2 .8M578 636l-.9 2.1M543 811l1.2 2M429.4 774.3l2.2 1.3M484.8 650.7l1.5 .9M562.3 657.2l1.8 2.2M460.5 643.9l-3 .3M489.8 832.8l-1.1 .3M535.5 703.3l-.7 1.8M474.6 730.7l-2.1 .9"/>
<path fill="none" stroke="rgb(5,5,188)" stroke-width="6.5" stroke-linecap="round" d="M401.8 711l-1 1.3M511.1 671.6l-1.1 2.3M576.5 702.4l.8 1M534.5 688.3l-1.3 1.5M510.5 847.4l-2.4 1.8M389.6 840.5l.4 2.4M557.2 777.7l-.3 1.4M509.8 796.1l-1 2.5M587.3 749.7l0 1.4M538.2 726.9l.4 1.8M490.9 786.3l3.2 .8M380.9 698.8l-2.6 1M502.7 828.9l.6 .9M426.3 675.8l1.2 1.1M453.1 744l1 0M511.4 750.6l1.4 .4M384.5 692.5l-.7 1.5M392.5 767.7l-1.6 2.6M466 813.8l-2 2.1M434.9 707l-.7 1.7M588.3 642.4l.4 2.2M535.7 720.7l1.4 .5M392.4 742.8l2.7 1.7M489.7 699.7l-1.6 2M517.9 749.6l1.6 1M553.7 639.9l.3 2.5M494.7 657.5l1.2 .7M414.4 675.2l-2.1 .5M577.6 730.9l0 1.1M549 742.9l-1.6 3M444.5 637l.1 2.2M412.4 693.8l2.1 1.9M497.3 779.8l-1.9 .4M566.5 666.4l-1.2 .6M470.3 749.7l1.2 2.3M525.2 758.8l.9 .9M562.1 772.2l.1 2M588.8 819.6l.2 1.2M411.5 731.6l-1.6 3.1M549 806.3l2.1 1.3M377.2 830.1l-.8 2.6M482 761.3l-2.4 .1M430 788l3.3 .5M423.9 827.4l-.6 .8M413.1 810.8l-2.9 .2M431.3 702.5l-2.6 .2M472.8 744.2l-1.5 0M550 656l.5 1.9M448 832.9l-2.8 .1M510.2 716.4l3.2 1.3M584.8 791.8l-.1 2.4M412.9 741.5l-.7 .8M564.7 676.6l-1.1 1.4M581.3 671.5l1.5 .7M388.9 789.3l-2.1 1.9M378.8 727.2l-3.5 .1M408.9 804.3l-.8 .7M554.3 825.9l1.6 .9M486.6 838.3l-1.4 3.2"/>
<path fill="none" stroke="rgb(16,16,225)" stroke-width="5.0" stroke-linecap="round" d="M441.1 732.6l-1.8 0M499.3 754.6l1.6 2.8M461.2 806.7l1.4 1.1M514.6 772.2l-2 .3M490.8 797.4l1.7 2.9M514.9 732.1l.8 1.9M448.4 660.5l1.2 1.3M572.9 676.4l-2.4 1.7M448.5 684.7l-2.1 1.5M526.5 803.8l-.7 2.7M441.1 718.4l-.5 2.4M487.9 730l.9 .8M444.6 739.7l-1.9 .6M506.1 732.2l-.3 1M488.9 736.5l.3 1.9M512.8 686l-3.2 1.2M376.8 808.4l1.6 2.2M389.6 664.6l-.9 3M474.6 663.5l-1.5 1.5M498.5 771.1l2.3 .7M516.6 660.6l-1.2 1.3M568.3 850.5l-1.9 1.9M467.2 830.5l-1.3 2.4M492.3 743.3l-1.4 1.3M516 781.4l-.3 1.8M468.7 769.2l1.8 1.5M425.5 756.8l-.5 1.2M507 784.9l-.5 3M575 826.3l-.5 1.1M460.7 686.5l.9 3.2M540 637.8l-1.6 .4M582.3 810.4l.5 1.6M452.1 703.5l-.2 3.1M447.3 722.5l-.8 .9M541 645l-1.6 1.2M467.5 664.2l-1.3 .2M440.1 800.2l1.1 .4M506.8 807.8l-1.1 1.9M518.1 756.4l-1.9 .9M552.5 679.5l-2.1 1.4"/>
<path fill="none" stroke="rgb(16,16,225)" stroke-width="5.8" stroke-linecap="round" d="M470.1 778.8l-1.7 1.9M530.1 724.1l-0 3.1M510.7 702.3l1.3 3M513.9 813l-2 .3M412.4 753.4l-.1 2.9M584.3 731.4l1.1 .2M522.4 850.6l-2.4 .1M562 741.2l-1 2.6M449.2 808.1l-1.1 .4M532.9 781l-1.7 1.7M385.8 671.5l-.9 1.3M493.9 807.6l1.9 1.2M479.5 718.7l3 .5M452.1 716.5l-2.6 1.1M480.2 776.5l-1.5 2.2M445.1 788.1l-1.5 1.4M385.7 739.1l-.5 2.3M481.8 766.7l.8 2.5M558.9 669l.7 .7M420.3 793.5l-1.7 1.5M520.5 786.7l1.9 2.6M400.6 766.2l1.4 .6M503.9 835.3l-.6 1.4M569.5 798.6l-1 1.3M531.7 657.1l-3.1 .2M391 733.4l-1.1 1.8M461.9 825l-3 .8M474.6 819.9l2.4 .4M540.1 839.5l-1.3 .4M531.1 764l-1.5 .3M555.7 749.7l-0 2.4M460.1 757.5l-.3 1.1M382.1 785.5l-1.9 1.5M589.1 672.5l-1 1.6M420.7 779l.9 2.4M419.6 656l1 .1M519.8 722.4l-3 .3M511.9 761.9l-.6 1.1M400.8 655.6l2.2 1.7M464.4 713.8l.5 1.1M422 763.1l.1 1.9M476.3 682.6l-2 1.4M592.1 838.4l-.7 2.9M584.3 766.9l-.4 1.2M443.7 849.5l2.8 1.9M402.8 838.3l2.8 0M419.9 847.4l1.6 1.7M442.6 780.4l1.2 2.4M389.2 848.7l2.1 2.1M390.2 782.4l-.8 1.5M565.5 683.7l.9 .8M473.1 701.5l.2 2M431.6 636.2l.5 1.2M519.2 765.4l.7 2.5M410.8 846.7l3.4 .5M576.7 805.9l1.1 2.1M565.9 734.8l-2.2 .6M541.4 711.3l-2.2 .8"/>
<path fill="none" stroke="rgb(16,16,225)" stroke-width="6.5" stroke-linecap="round" d="M474.8 799.9l-.8 2.6M460.2 792.9l1.4 1.6M539.7 656.5l1.9 1.6M482.7 832.6l-2.7 .2M403 809.4l-1.4 1.2M524.1 703.9l.7 1.1M434 780.8l-1.3 1M414.4 659.5l1.4 2.6M566.2 809l2.2 .7M422.2 672.1l-2.8 1.1M504.8 764l1.7 2.8M430.7 740.4l-.4 1.5M433.6 644.6l-2.1 .8M491.9 773.6l-2.9 .1M542.9 821.5l-1.9 .8M548.1 765.2l.5 1.5M591.7 758.4l-2.1 .2M451.4 730.7l0 3M436.5 754.1l-1 2.1M423.7 650.1l.9 .9M585 636.4l-1.5 .3M452.5 672.9l1.6 1.9M392.6 647.7l-.7 1.6M589.7 812.3l3 1.7M406.6 648.6l-2.8 1.6M473.3 757.4l-2.6 .3M526.1 772l2.1 1.7M544.7 733.2l-1.2 2.1M506.7 743l-2.2 1.8M437.4 672.2l2.3 .5M522.7 678.1l1 2.8M577.3 795.2l-.1 3.1M472.6 808.4l-1.7 .6M438.5 793.3l2.6 .5M499.6 745.6l-.9 .6M533.6 800.2l-2 .6M464.5 636.2l2.5 2.3M478.2 734.8l.4 1.3M456.9 813l-3.3 1M455.2 845.7l1.8 .4M478.1 750.7l.5 1M550.3 647.2l.1 1.7M475 637.7l1.4 1.8M428.7 767.4l0 2.5M474.2 721.6l.1 2.3M416.6 798.9l-1 3.2M535.4 649.7l-.3 2.2M479 740.5l-.7 3M379.1 740.2l-.9 .6M466.6 719.9l.8 2.6M409.3 681.8l.2 1.7M422.1 740.5l-1.5 .4M430.9 797.1l2.2 .2M521.2 820.2l.1 2.7M435.9 769.8l1.4 2.4"/>
<path fill="none" stroke="#f2e400" stroke-width="1.9" stroke-dasharray="30 4" d="M518.8 844.3a4.9 3.6 90 1 0 -0.0 -9.9a4.9 3.6 90 1 0 0.0 9.9M510.8 741.7a5.4 4.9 40 1 0 -8.2 -6.9a5.4 4.9 40 1 0 8.2 6.9M577.2 683.9a4.5 4.2 8 1 0 -8.9 -1.3a4.5 4.2 8 1 0 8.9 1.3M558.3 657.6a5.3 4.4 90 1 0 0.1 -10.6a5.3 4.4 90 1 0 -0.1 10.6M497.5 734.3a4.3 3.7 159 1 0 8.0 -3.0a4.3 3.7 159 1 0 -8.0 3.0M405.8 838.6a4.5 3.8 74 1 0 -2.6 -8.6a4.5 3.8 74 1 0 2.6 8.6M391.5 768.5a4.8 4.0 145 1 0 7.8 -5.4a4.8 4.0 145 1 0 -7.8 5.4M506.3 780.2a5.3 4.1 101 1 0 2.1 -10.4a5.3 4.1 101 1 0 -2.1 10.4M494.3 665.4a4.1 3.1 74 1 0 -2.2 -7.9a4.1 3.1 74 1 0 2.2 7.9M557.7 685.2a3.5 3.3 119 1 0 3.4 -6.2a3.5 3.3 119 1 0 -3.4 6.2M513.4 741.4a4.5 3.6 56 1 0 -5.0 -7.4a4.5 3.6 56 1 0 5.0 7.4M584.9 685.5a5.4 5.0 35 1 0 -9.0 -6.2a5.4 5.0 35 1 0 9.0 6.2M425.4 697.1a4.0 3.6 23 1 0 -7.4 -3.1a4.0 3.6 23 1 0 7.4 3.1M401.7 743.8a3.5 2.5 142 1 0 5.6 -4.3a3.5 2.5 142 1 0 -5.6 4.3M555.5 685.1a4.5 4.5 145 1 0 7.4 -5.1a4.5 4.5 145 1 0 -7.4 5.1M557.5 699.5a3.7 3.0 72 1 0 -2.3 -7.1a3.7 3.0 72 1 0 2.3 7.1"/>
<path fill="none" stroke="#fff200" stroke-width="2.2" stroke-linecap="round" d="M408.9 742.1l3.6 1.3M434.3 815.6l-1.9 .7M532.5 725.7l-.7 .8M579 802.4l2 2.4M576.6 757.2l3.1 1.3M438.7 743.2l-1 1.8M467.9 836.7l.8 3M509.8 797.6l2.5 .8M444.7 753.3l-1 .1M561.7 836.8l1.1 1M405.9 780.4l.5 1M534 753l2.8 2.4M456 766.8l-2.5 .9M521.4 705.4l-2.1 1M399.3 712.8l.7 3.5M538.1 706.2l-3.3 .4M404.5 713.7l.5 3.8M507.6 714.3l-.7 3M416.6 763.1l-.7 2M462.3 741.4l1.9 .1M508.5 683.7l3 .2M569.8 706.4l1.9 .1M504.2 807.3l1.4 .4M459.4 677.3l2.3 1.5M459 811.9l2.1 .7"/>
<path fill="none" stroke="#c8b400" stroke-width="1.3" stroke-linecap="round" d="M426.4 643.3l.4 0M422.8 737.3l.4 0M504.1 666.9l.4 0M430.2 769.4l.4 0M435.7 728.7l.4 0M504.6 800.7l.4 0M584.9 726.5l.4 0M380.2 711.2l.4 0M442.1 728.6l.4 0M554 842.4l.4 0M544.3 758.5l.4 0M393 731.1l.4 0M466.3 811.5l.4 0M571.6 641.6l.4 0M423.1 744.2l.4 0M438.2 721.3l.4 0M485.9 843.8l.4 0M529.5 740.5l.4 0M391.2 684.3l.4 0M500.3 813.8l.4 0M415.2 807.1l.4 0M580.9 758.2l.4 0M396.3 655.8l.4 0M411.5 648.7l.4 0M539.8 786l.4 0M566.6 805.6l.4 0M459.3 668.8l.4 0M506.7 649.6l.4 0M558.6 838.4l.4 0M572.7 678.5l.4 0"/>
</g></g>
<clipPath id="c4"><rect x="593.2" y="639.3" width="209.7" height="210.0"/></clipPath>
<g clip-path="url(#c4)">
<rect x="593.2" y="639.3" width="209.7" height="210.0" fill="#00001a"/>
<g filter="url(#mblur)">
<path fill="none" stroke="#00003e" stroke-width="8" stroke-linecap="round" d="M795.2 668.8l-2.1 0M630.8 662.6l2.1 4.1M778.2 685.5l3.1 4.9M721.6 834.5l-4.6 1.1M742.5 646.8l-1.5 5.3M659 676.6l-1.4 5.2M790.5 799l-1.2 5.7M741.2 767.7l-3 .4M660.1 800.7l-2.7 5.2M621.1 811.3l3.9 2.6M604.5 750.7l-2.1 .5M700.2 746.3l-1.8 3.2M785.8 702.1l-.9 3.4M655.1 762.3l.9 4.1M735.6 750.2l-2.4 0M669.6 729.6l-3.5 .8M791.1 746.3l3.4 1.1M780 673.4l1.9 3.7M660.7 714.2l2.7 .3M703.6 805.1l3.7 2.7M740.2 649.3l-3.1 1.9M786.3 733.3l0 5.4M705.1 759.9l-4.1 4.3M691.4 790l2 4.1M759.8 811.1l-4.4 .8M595.9 742.3l2.2 4M627.9 783.2l2.5 2.8M600.4 841.8l3.2 1.2M636.3 691.4l4.6 2.9M649.6 658.6l3.1 2.4M667.8 792.2l-4.9 2.8M598.5 718.3l5.4 .6M637.1 741l-2.5 2.5M742.7 735.8l2.2 2M647 651.9l4.1 2.2M779.7 773.8l0 2.2M717.8 648l3.9 .4M756.1 640.1l-4.5 .2M768.8 687.4l3.7 1.8M662.3 820.6l5.3 .2M674 773l-2.2 1.6M782 754.3l-3.1 1.6M699.4 678.1l2.7 1.5M771.1 745.1l-4 2.6M799.1 678.6l-3.3 1.4M751 719.2l3.8 2.7M625.8 648.7l2.6 2.4M702 841.6l-.5 2.6M776.1 763.6l-3.1 2.7M599.7 837.1l-3.9 2.7M765.3 659.4l1.9 1.2M698.3 833.6l1.5 5.4M725.4 794.5l-3.3 .3M793 790.3l-4.5 3.3M728.8 705.7l2.3 2.1M603.6 833.6l3.2 .2M658.5 659.3l1.9 3.3M629.2 737.8l1.6 3.3M765.7 702.9l-3.9 1.6M795.4 717.8l-2.1 .3M700.1 684.1l1.8 1.7M659.4 668.4l-2.2 0M766.8 662l-3.2 2.3M698.4 652.3l1.2 3.1M785.7 759.9l-1.5 3.5M604.7 781.2l-2.7 4.5M667.9 699.1l2 .5M623.6 732.9l4 3.2M690 772.7l4.5 .3M785.1 761.1l2.3 2.2M737.1 833.6l1.1 3.2M711.8 675.6l-3.5 .9M711.3 811.5l-2.8 1.2M758.4 684.9l-2.2 3.5M713.6 764.2l-.5 2.9M669.3 806.8l-3.5 .2M713.2 686.4l3.4 1.4M746.4 647.1l2.5 3.6M757.6 664.1l-2.9 3.7M642.9 665.1l-1.6 3.1M649.5 640.1l-3.1 2.1M624.5 835.9l3.5 1.9M612.5 716.1l3.3 2M610.6 743.1l.5 3M686.1 784.3l3.2 2.8M629.9 819.2l2 .8M609.9 812.3l-4 1M725.8 708.3l-2.5 2.8M639.9 807.7l3.6 .5M666.5 756.6l-2.5 .8M789 744.4l-3.2 4.6M708.8 671.8l-5.6 1.5M688.4 719.1l-.8 2.1M773 719.5l-1.1 3M760.2 673.5l-1.4 2.8M603.3 810l-2.8 1.6M687.6 673.7l1.9 .7M648.8 796l-2.1 4.7M656.6 776.5l2 4.5M609.1 737l2.4 1.6M673.3 652.8l3.6 4.3M782.6 793.8l-1.9 .6M762.7 746.9l.4 5.5M599.9 670.1l-2.9 1.4M765.5 663.5l3.2 1.2M639.5 712.4l3.3 1.7M730.9 687.4l.3 5.6M682.1 798.9l2.3 2.4M619.9 700.1l-2 2.2M666.1 787.4l3 .7M654.8 720.1l4.6 3.3M639.1 671.9l-3 .4M788.6 686l.1 2.2M717.2 661.5l-2.7 2.4M595.3 788.7l-3.7 2.9M693.4 735.9l3.7 1.7M699.3 689.4l3.3 .5M624.9 649.5l3.1 2.8M708.4 744.5l2.7 1.1M718.2 779l-.1 4.8M716.1 643.5l-2.6 1.9M673.9 660.2l-3.2 1.8M615.6 662l-3.7 1.6M672.6 690.6l4.9 1.5M657.6 763.8l-4.9 2.3M659.9 694.6l3.2 1.3M648.4 798.1l3.9 4.4M610.7 792.8l-4.7 3.5M681.5 793.7l-3.5 3.6M694.6 847.4l3.8 3.4M685 657.1l-2.9 1.9M692.7 748.7l4.9 1.4M668.5 739.2l-2.2 3.3M790.8 805.9l-2.3 3.5M706.8 844.3l-1.3 4.2M675.2 725l2 4.7M784.5 789.8l-3.5 4.6M713.2 715.4l-1 1.8M748.3 790.9l5 .6M738.3 697.3l-3.3 1.4M677.2 736.8l1.9 1.2M635.3 684.2l4 .6M614.3 657.2l-4.9 .5M751.5 746.6l-2 1.6M622.2 654.6l-3.7 1.7M660 820.4l-3.3 .4M750.6 819.3l-5 3.2M635.7 746.1l-2.7 3.2M640 759.6l2.6 1.7M686.6 806.2l1.9 3.8M639.4 713.3l2.4 2.7M659.2 685.7l-1.6 2.7M725.7 768.4l-2.8 4.9M621.9 722.6l-2.9 2.9M705.3 657.1l-1.8 3.4M756.4 732.8l2.8 .3M698.8 795.6l-.2 2.4M717 756.5l2.8 .8M597 700.7l1.4 5.4M799.7 810.3l.8 4.3M709.6 814.9l2.9 1.6M781.1 770.1l1.1 3.3M614.4 755.8l0 5.1M740.1 792.9l-1.4 3M797.7 788.4l-1.3 2.4M730.7 801.5l-4.6 1.3M796 683l3.9 .6M800.7 660l-1.3 3.5M681.7 674l3.1 2.6M695.7 787.9l.5 3.2M728.2 750.1l-4.9 1.7M794.1 673.3l3.7 1.4M739.5 719.8l.3 5.4M760 643.6l1.2 4.3M768.5 660l-1.3 2M663.4 730.5l-3.6 .2M726.4 813l-4.8 2.3M688.9 699.6l-3.8 1.3M780.5 737.8l-4.1 3.8M599.1 772l5.1 .7"/>
<path fill="none" stroke="rgb(0,0,75)" stroke-width="5.0" stroke-linecap="round" d="M773.2 836.7l2.1 1.3M743.6 731.9l-1.4 2.9M746.1 802.9l.4 1.9M632.1 771.7l1.5 2.1M790.4 660.8l3.4 .5M715.6 676.6l-.4 2.8M605.6 650.1l1.4 2.8M778.6 828.5l.4 2.9M639.4 684.9l-3 1.5M700.7 642l-1.5 2.8M594.1 712l-1.3 1.8M765.8 682l-1.2 1.4M745.6 784.7l1.4 2.1M608.2 739.8l-.4 2M755.5 850.1l2.6 2.2M675.7 723.3l-.8 1.2M602.3 637.6l-.2 1.1M740.8 820.7l.9 3.3M666.6 671.6l-1.2 1"/>
<path fill="none" stroke="rgb(0,0,75)" stroke-width="5.8" stroke-linecap="round" d="M671 775.1l1.3 1.2M593.8 706l2.5 .5M617.1 748.5l.9 2.9M793.2 791.5l.9 .8M697.8 772.7l.1 2.1M672.4 644.4l-2.3 1M739.5 808.3l1.6 2M653.3 733.3l-.5 1.8M771.7 642.9l.7 1.2M663.9 665.7l1.3 0M672.6 751.1l-3.3 .1M642.1 668.5l-.9 1.8M750.8 812.4l-1 1.3M656.2 746.6l-2 .9M754.7 762.5l-.4 .9M788.2 827.7l1 .9M782.1 655.1l-1.3 3.2M694.5 779l-1.6 .1M623.8 692.3l-.8 2M778.6 648.6l-.9 2.4M740 672.1l0 3.1"/>
<path fill="none" stroke="rgb(0,0,75)" stroke-width="6.5" stroke-linecap="round" d="M763.8 785l.6 2.9M661.8 776.1l-1.9 .9M648.8 642.9l.4 2M764.1 816.9l-1.9 .9M626.2 734.7l-.4 1.4M704 647.7l2.6 .7M795 643.1l.1 1.9M642.5 656.8l-1.6 2.2M749.4 837.1l-.8 1.2M702.7 733.3l-1.6 2.6M612.3 765.5l-.3 3M739.3 686.8l.5 1.2M774.5 762.4l-1.4 .9M608 672.3l2.8 1.2M800.2 718.6l-.2 1.6M650.2 772.6l-2.1 .7"/>
<path fill="none" stroke="rgb(0,0,112)" stroke-width="5.0" stroke-linecap="round" d="M762.8 803.1l-2.4 .9M698.2 667.4l-.4 1.9M617.4 820.1l1.9 1.3M607.1 755.5l.6 2M628.6 745.6l-1.5 .2M654.4 777.2l-1 1.2M801 743.6l1.5 1.1M650.8 698.8l-.2 1.2M715.4 714.3l1.7 .7M768.4 831.9l-2.8 2.1M706.3 664.9l1.3 1.7M682.2 832.4l1.1 3.2M705.8 791.3l.1 2.8M790.5 783.7l-0 1.2M647 703.3l.7 3.4M662.2 686.1l-3.2 .9M786.6 706.7l.9 .7M746.4 691.5l-1 .3M783 723.8l1.4 1.4M638.6 755.4l1.7 .2M794.6 713.5l3.1 .8M732.5 671.5l1.8 .9M710.9 641.6l1.6 .4M785.7 812.6l-.7 1.6M685.9 783l-1.7 1M729.1 702.4l2 1.8M713.9 818.1l-.2 1.6M619.3 685.9l.4 1M664.8 808.1l-1.7 2M775.2 719.2l-.9 .7M699.2 843.9l-2.3 .8M758.5 729.7l.2 2.3M740.4 747.6l-2.2 2.7M633 740.3l-.1 1M741.2 740.3l1.8 2.4M706.1 754.3l2.9 1.6M747.1 844.8l1.4 .3M766.4 769.6l.5 1.5M744.3 758.3l1.2 2.2M603.7 765.5l.9 3.1M673 682.1l-.6 1.4M617 645.3l2.6 2.2M634.7 712.6l-3 .3M641.4 828.1l1.7 1M597.8 653.7l.3 2M752.4 705.8l-1.2 3.2M784.9 819.6l2.4 1.2M636.7 652.2l-.2 2.3M694.2 673.5l.2 2.7M803.8 815.8l1.2 1.3M591.3 665.1l1 .9M714.6 757.8l-1.8 2.6M725.3 697.6l-1.8 .3M688.6 666l-.9 3.2M678.9 841.9l.7 1.7M655.4 702l1.7 2.4"/>
<path fill="none" stroke="rgb(0,0,112)" stroke-width="5.8" stroke-linecap="round" d="M673.6 696.1l.6 1.3M791.3 798.7l-2.1 2.5M737.2 736.3l-.5 2.1M654.3 636.2l-2.3 .5M799 650.2l.1 1.2M591 750.2l2.3 2.1M651.3 667.2l.1 2.1M598.1 756.9l-2.5 1.1M733.2 804l1.4 1.4M710.4 825.4l.4 1.3M682.1 794.9l2.8 .3M674.6 757.6l.7 2M805.5 672.3l-1.2 1.2M692.7 713.4l1.3 .6M781.3 839.5l-.6 3.4M627.1 673.3l2.8 .2M732.6 731.3l-1.1 .7M774.9 661.7l.1 2.5M769 654l-2.6 1.4M658.5 657.6l1.3 2.1M796 826l-.2 2M637.3 764.3l0 1.1M726.9 680.2l1.5 .2M719.3 640.5l-.8 2.2M728.8 800.4l-2.1 .2M770.4 789.3l.5 2.3M723.5 784.2l-2.7 .3M686.9 840.9l1.8 .7M796.9 706.1l-.7 1.4M666.4 636.5l.9 1.9M783.4 697.3l2 1.4M736.7 679.9l.5 1M680.5 738.3l-2 .2M788.6 768l.6 1.2M601.6 726.8l-1.5 .7M674.2 688.4l2.6 1M649 673.8l.5 2.1M761.8 745.1l1 2.7M657.8 756.3l-1.4 2.2M650 710.1l1.1 1.2M669 720.9l-2.3 .4M625.4 698.8l-1.6 2.8M720.3 673.8l2 1.5M646.6 749.5l-1.2 .4"/>
<path fill="none" stroke="rgb(0,0,112)" stroke-width="6.5" stroke-linecap="round" d="M777.9 711.2l-.7 1M783.7 750.2l-.2 1.5M779.7 797.4l.3 2.3M600.2 669.2l2.2 2.2M761.7 838.1l.7 2.2M714.4 751.1l-1.4 1.3M764.5 635.1l2.4 2.4M749.2 715.4l1.2 1.8M791 683.5l-1.6 2.9M780.5 641.5l-1.5 2.6M684.3 712.6l1.7 .6M616.6 717.1l1.3 2.8M696.6 836.6l.9 .5M683 725.8l-2.3 1.8M612.1 639.1l2.3 1.6M776.7 728.5l.7 1.7M723 719l-.8 1.8M739.8 709.5l1.3 3M632.2 665l1.6 .4M718.2 765.7l-2.3 .8M721.3 847.8l2.6 1.7M620.3 656.7l-.3 1.9M621.2 728.6l-2.6 2.3M632.1 679.6l-.3 1.1M752.5 676.7l2.2 2.6M625.4 767.9l-1.8 1.7M679.6 653.4l1 1.7M770.5 804.2l2.3 .5M708.4 764.8l-1.6 .1M691.6 659l1.1 1M592.4 677.1l1.7 .4M765.3 700.4l1.1 1M803.9 752.4l-1.1 .4M688.3 733.4l-.3 1.1M761.6 796.3l.9 1.1M802 683.8l-1.5 .1M617.7 708.6l-1.4 1.8M769.2 740.5l-1.8 1.2M602.7 745.1l-.8 2.6M741.7 645.2l-1.2 2.2M592.3 744.3l-1.3 .1M642 836.2l1.1 .3M641.4 635.5l.6 2.5M763.1 662l1.6 .6M754.1 741.5l.9 .5M616.9 739.1l3.2 1.4M709.8 705.9l-1.4 1.1M783.6 771.3l-1.4 .1M790.6 720.2l2 1M720.1 799.2l1.5 2.8M644 686.7l.9 3.1M806.4 771.7l-2.4 1.4M742.1 851.1l-2.6 .3M628.2 794.7l-.9 2M767.7 781.7l2.8 .7M672.3 651l2.6 1.6M757 790.2l-.4 1.8M641.6 701.9l-1 2M732.2 722.1l-2.8 1.2"/>
<path fill="none" stroke="rgb(0,0,150)" stroke-width="5.0" stroke-linecap="round" d="M694.2 763.7l-1.3 .2M650.4 724.7l1.5 2.2M624.7 759.6l3.1 1.4M670.1 714.7l1.2 .1M718.5 806.6l.4 1.8M598.4 770.9l-1.5 .6M701.3 684.5l.6 2.8M649.4 842.7l-2.3 .3M718.5 660.5l.3 1.4M668 825.4l2.1 1.9M748.9 821.3l1.6 3.1M643 740.9l-1.5 .4M732.9 836.1l-2.1 1.5M607.3 724.2l1.3 0M790.7 758.1l-1.4 2.4M746.9 636.5l1.1 2M736 642.7l-2.1 1.7M789 777.1l-2.2 .3M667 840.4l.4 3.3M653.8 766l2.4 2.2M800.4 726.2l2.6 .8M734.3 761.1l2.8 1.5M611.8 794.6l-.5 1M725.7 725.8l-2.8 1M657.8 803.9l1.5 .9M688.3 700.8l.3 1.5M635.7 746.6l.7 2.9M793.8 750.6l-1.2 2.4M592.5 767.5l-2.6 1.3M656.8 728.9l3 0M673.4 808.1l.7 .9M642.4 679.1l1.5 0M707.6 782.8l1.7 1.1M717 723.3l-2.6 1.3M628.7 638.6l1.2 2.6M724.2 823l-2.6 1.2M738.9 658.2l-2.2 1.6M679.4 744.9l-.4 1M690.4 847.5l-1.1 2.4M656.5 664.9l2.3 .5M762.7 775.8l-1.3 .2M719.8 683.4l2.8 .1M614.6 743.4l-2.2 2M669.7 728.5l-2 .4"/>
<path fill="none" stroke="rgb(0,0,150)" stroke-width="5.8" stroke-linecap="round" d="M699.9 749.7l-.7 2.1M772.5 674.3l-1.1 .4M698.2 797.4l1.2 2.7M611.4 831.9l.7 2.2M724.5 689l2.5 .3M610.9 803.1l1.4 .1M629.3 831.9l-1.2 2.2M759 669.5l1.2 1.1M797 731l.8 1.9M747.3 670.1l-3.1 .8M719.3 706.2l-0 2.2M724.1 667.9l-1 .6M755.3 700.2l-.8 .8M608.3 709.9l-3.3 .2M658.2 648.2l-.5 2.3M776.1 810.9l1.5 .7M756.9 780.5l1.2 1.7M779.1 688.3l1.9 1.8M683.7 824.3l-2.2 .5M691 645.7l-2.2 .8M594.3 718.8l-.5 1.9M647.5 756.3l2.6 2.2M645.9 695.1l-2.2 .8M751.7 725.6l1.7 .9M681.2 806l-.9 3.2M633.5 705.1l2.4 .3M787.8 846.3l2.3 .5M652.1 692.1l2.4 2.5M601.5 719.9l.7 .7M742.4 717.9l-1.1 .4M710.5 802.8l1.9 0M775.9 636.2l-2 .9M662.7 753.6l2.7 2.2M681.5 718.7l-.4 1.3M804.1 843.4l1.6 1.3M649.4 681l1.8 1.1M773.4 752.9l1.1 1.4M692.7 749.6l.6 3.3M607.2 732.3l-2.3 2.5M717.8 834.1l1.7 .8M764.5 762l-1.3 2.1M806 822l-2.3 2.4M642.3 646.2l.4 1.1M660.8 735.8l.6 1.1M718.8 814.2l1.3 1.5M749.4 732.8l2.2 .4M774.7 824.5l-1.2 1.9M662.4 653l1.8 1M752.4 799.4l-.5 2.2M743.5 704.7l2.7 2.2M793 693.7l1 .9M616.2 694.1l1.7 2.2M625 720.4l-2.5 2.4M714.2 669.1l3 1.7M649.5 740.2l.9 1.2M757.6 820.9l2 2.4M806.5 660.7l-2.8 1.2M775 744.8l-3 1.2M767.2 822.3l1.1 3.1M682.3 769.2l-1.6 1.4M760.2 738.4l.9 .9M780.7 678.6l3.1 .2"/>
<path fill="none" stroke="rgb(0,0,150)" stroke-width="6.5" stroke-linecap="round" d="M698.5 823.7l1.5 .6M605.5 774.7l-1.1 .1M654.3 824.1l-2.4 .2M798.9 800.4l-1.6 2.3M692.9 689l.1 1M595.2 805.2l-3 .6M735.2 818.3l-1.7 2.1M627.1 706.7l-.1 1.6M744.6 776l-2.4 1.8M681.6 816.5l-1.9 .8M596.1 827.1l-0 2.3M632.1 696.9l-.1 3.1M649.1 812l2.6 .7M741.8 840.6l-.9 1.3M733.7 636.1l.7 1.6M682.9 849.4l-.1 1.5M608 656.6l1.1 2.1M708 693.2l3.2 1.1M734.3 845.7l2.2 1.7M802.8 779.4l-.1 1.1M652 716.7l.3 2.3M644.7 817.6l-0 1.8M635.9 821.3l-1.5 1.9M752.1 653.1l1 1.3M601.8 842.8l.9 .6M610.6 682.8l-.9 1.7M755.3 772.6l-1.1 3.2M638.6 808.6l-3 .3M692.1 637.3l1.2 .7M661.9 825.6l-.4 1.8M717 791.4l1.4 2.9M640.4 710.1l-.7 2.1M791.2 839l-2.6 .1M622.3 636.2l-1.4 1.6M674.5 847.2l-.2 1.3M648.5 653.5l-.3 3.4M591.4 687.8l1.7 .8M601.6 696.7l.6 .9M592.7 657.1l-1.3 2.8M668.6 705.7l1.6 .9M600.6 782.8l1.8 0M626.2 839.5l.5 1.5M682.1 753.5l2 .3M806 798.1l-1.4 1.6M698.2 691.5l2 2.1"/>
<path fill="none" stroke="rgb(5,5,188)" stroke-width="5.0" stroke-linecap="round" d="M733.5 828.9l1.4 .8M696.8 680.5l1.5 .3M771.3 797.5l1.4 .2M658.6 848.6l-2.2 .4M631.9 720.8l-1.5 1.9M600.5 679.3l3 .9M760.6 640.7l-1.3 .4M711.3 682.7l-1 1.2M742.1 652.2l1.7 2.3M721.1 760.9l1.1 1M627 647.1l2.3 1.9M790 739.6l1.8 .6M710.9 729.5l1 1.6M751.9 829.7l-1.1 .2M799.8 697.5l-.9 2.4M636.6 643.1l-.4 2.5M615.4 677.3l-1.6 .3M804.9 735.8l-1 1.3M700.8 653.8l1.6 .8M636.6 794.5l2.1 1.3M733.6 767l-3 .9M639.3 842.6l.6 3M801.6 666.6l-1.6 .7M647.1 782.6l3.1 1.3M671.1 816.7l1.1 .5M683.5 660.3l-.3 2M776 682l1.2 .6M773.9 696.8l1.2 .2M780.7 804.9l.6 2M637 814.8l-3.4 1M750.6 645.5l-3.2 .6M666.7 741.8l1.9 2.7M749.2 851.7l-1.7 .6M678.7 646.8l2.1 .7M788.5 806.7l.3 2.4M703.4 724.1l2.1 2M699.9 759.5l2.3 2.3M800.3 809.4l1.9 .8M747.8 793.7l.9 1.2M788.3 637.5l1.3 2M686 682.7l-3.4 .2M709.6 743.9l1.4 1.8M760.3 650l2.5 1.5M801.2 759.5l.5 1.4M742.1 697.3l-.1 2.5M592.8 638l-.9 2.5M761.4 723.6l-1.9 .4M793.8 777.6l1.3 1.1M797.6 847.2l-2.2 2.5M677.9 783.7l.9 1.4"/>
<path fill="none" stroke="rgb(5,5,188)" stroke-width="5.8" stroke-linecap="round" d="M608.3 692.3l2.7 1M806 692.5l-2 1.4M689.7 789.2l.3 1.8M696.1 706.2l-2.2 .5M784.3 671.1l.3 1.7M617.1 757.2l-2.4 1M735.5 787.8l2 1.1M695.8 741l1.4 1.5M780.2 735.3l.1 2M670.1 832.6l-2.6 .8M730.5 685.6l2.8 1.7M759.9 686.2l-.3 1.7M591.4 736.3l1.9 1.2M688.6 721.9l2.8 1.6M659.3 677.7l2.8 1.1M776 785.1l1.8 2.6M737.3 650.8l-2.5 .3M684 775.8l.5 1.7M799.4 769.5l-1.4 1M729.4 782.6l2.6 2.3M739.2 831.1l1.8 2.4M661 834.7l1.6 .2M621.9 667.8l1 1.1M599.4 813.9l3 .4M615.8 810.6l-1.9 2.1M724.1 840l1.5 1.8M715.9 698.5l1.1 1M662.9 698.5l-.9 .4M601.8 686.9l-1.9 1M660.6 712.7l-1.1 1M719.3 745.4l2 1.4M625.9 659.9l.2 1.4M743.5 680.4l2 2M732 715.7l-1.9 .4M730.9 655.4l-2.3 .6M702.6 711.6l2.8 .2M765.9 689.4l1.3 .1M739.1 794.3l-1.4 .9M785.1 790.2l1.4 1.1M732.8 663.1l1.6 2.2M621.4 837.2l-2.2 .7M613.8 784l1.3 1.1M710.3 736.8l-1.3 1.5M764.9 844.5l.1 3.2M794 817.4l.5 1.5M709 675l-1.9 2.8M724.2 640.4l2.8 2M725 756.5l2.2 .1M666.5 689.6l.9 .7M677.9 668.4l3.1 1.3M706.8 635.8l-.3 1.5M782.6 834.1l1.7 1.8M733.6 754.3l1.7 1.3M672.5 638l3 1.4M748.8 768.7l-0 1.6M601.9 702.1l-.8 3.3M631 847.8l-0 1.1"/>
<path fill="none" stroke="rgb(5,5,188)" stroke-width="6.5" stroke-linecap="round" d="M615.5 790.7l3.1 .7M669.4 660.5l2 2.4M642.3 721.7l.7 2.9M774.7 817.4l1.1 1.7M617.7 827.1l2.5 .7M642 731.8l1.2 2.4M773.8 848.5l2.1 2M657.7 814.7l-.2 1.4M726.3 748.2l.9 1.1M678.5 702.4l3.2 0M768.9 728.6l-2.4 1.1M727 831.9l-1.3 .3M802.9 643l-1.3 .7M592 646.7l-.7 .9M660.2 641.1l-1 .6M710.6 717.2l-1.3 .2M652.5 803.8l-2.3 0M780.8 743.2l.7 1.9M643.3 770.1l-2.7 1.4M711.6 658.9l.4 2.9M681.6 760l0 1M673.5 671.2l-.9 1.8M677.6 708.3l-1.3 1.2M611.2 663.9l-.3 1M754.1 749.3l-.7 2M715.3 785l-.4 2.4M713.6 775.8l-2.6 1.5M760.7 675.9l2.5 .3M756.3 660l-.5 3.3M609.1 701.8l-2.5 .5M739.2 724.8l-.4 1.8M601.4 644.3l-.6 1.1M666.4 848.1l-2.3 .3M795.6 674.8l-2.1 .9M610.7 842.9l2.6 .7M653.4 787.9l2.2 1.6M732.1 694.7l-1.5 1M751.1 683.2l.2 2M721.6 737l-1.8 2.1M599.4 796.6l3.1 1.3M729.1 809.7l-2.8 .2M673.7 768l-.8 .8M689 770.1l2.7 .4M634 690l-.3 1.5M612.9 850.1l2.3 1.2M662 768.5l.6 .9M592.2 726l1 .5M690.2 827.3l-.9 3.3M724.5 712.6l.7 1.6M768.4 811.1l3.3 .7M641.3 803.5l2.3 1.3M694.4 732.4l.8 3M642.7 776.5l-.7 2.3M679.5 798.9l-1.1 2.5M771.5 735.5l3.4 .4M792.7 651.9l.4 3.3M715.1 653.1l.8 2.2"/>
<path fill="none" stroke="rgb(16,16,225)" stroke-width="5.0" stroke-linecap="round" d="M593.3 782.1l-2.4 1.7M785.8 646.4l-1.2 1.9M599.1 803l2.4 2M632.5 728.4l1.5 1.3M645.5 794.1l2.8 .8M625.7 808.6l-2.7 1M674.9 732.3l-2.4 2.2M612.2 778l1.2 .4M607.2 788.3l1.4 .6M728.9 790.3l.3 1.1M623 846.4l2.6 2.1M702.4 805.9l-.9 .8M682.8 637.1l-1.8 1.7M680.6 675l1.5 3.1M592.9 789.4l-2.8 1.2M723 769.2l1.5 .9M755.7 807.4l1.9 1.4M733.1 741.6l-2.2 .4M800.9 833.4l-.9 2.5M603.2 824l1.1 .4M641.2 787l.4 1.1M722.3 649.9l-1.2 .1M676.1 790.8l2.6 1.2M603.7 831.7l2.9 1.1M595.6 821.1l-2.2 .8M757.9 754.7l2.2 0M659.6 841.8l1.3 .7M592.3 796.4l-2.9 .8"/>
<path fill="none" stroke="rgb(16,16,225)" stroke-width="5.8" stroke-linecap="round" d="M709.6 813.9l-2.5 1.6M693.9 811.9l-0 2.2M620.7 799.2l1.1 .8M803.9 636.9l1 .5M782.3 763.5l-2.3 1M631.3 789.5l2.1 1.9M671.1 796.2l-2.5 1.2M669.5 787.5l2.1 .3M696.2 724.9l2.1 1.8M624 775.8l-2.8 2.1M698.5 699.9l1.2 1.3M635 830.6l2.6 1.9M635.1 839.7l-1.5 .4M782.7 663.5l-2.6 .6M775.5 772.8l-2.4 1.2M803.8 701.4l2.4 1.2M591.8 839.2l1.5 0M765.1 706.8l1.9 2.5M694.8 819.6l-2.7 2.1M654.2 831.8l1.7 2.3M626.8 821.8l1.7 .1M607 808.6l-0 3.2M630.1 753.3l1 .1M747.1 660.8l.7 1.3M696.8 849.5l1.7 3M640.8 851.8l-1.9 .7M662 782.6l-.4 1.6M705 819.3l1.3 3.2M595.6 844.9l0 1M739.3 664.2l1.3 2.9"/>
<path fill="none" stroke="rgb(16,16,225)" stroke-width="6.5" stroke-linecap="round" d="M725.5 775.1l1.9 1.2M801.8 849.7l1.9 1.5M765.8 751.5l1.2 .6M686.2 740.3l-1 .6M712.7 846.1l-2.3 2M699.5 783.1l-1.4 .1M591 695.7l-1.4 .1M741.6 766.9l-1.4 1.1M802.5 788.4l2.4 2.2M726.9 818.3l1.6 .1M632.1 779.2l-1.9 2.9M797.1 840.8l2.2 1M736.4 703l.5 1.7M676.1 832.4l.2 1.3M778.6 703.5l.2 1.7M632.2 804.5l-2.6 1.6M593.8 850.1l-1.4 3.1M658.6 794.7l1.8 .4M689.7 805.2l.7 1.9M707 834.5l-.5 3.2M757.3 830.4l1.4 1.1M610 820.3l.8 .7M614.1 651.7l-1.7 .1M646.5 662l1.3 .7M597.5 739.3l1.5 1.4M622.2 679.6l2.6 2.2M601.1 850.4l-0 1.4"/>
<path fill="none" stroke="#c8c040" stroke-width="1.9" stroke-dasharray="30 4" d="M608.7 819.2a6.4 5.2 16 1 0 -12.3 -3.5a6.4 5.2 16 1 0 12.3 3.5M649.1 782.1a5.6 4.4 6 1 0 -11.2 -1.1a5.6 4.4 6 1 0 11.2 1.1M719.7 714.5a4.4 4.0 115 1 0 3.6 -7.9a4.4 4.0 115 1 0 -3.6 7.9M740.0 681.9a4.5 3.9 40 1 0 -6.9 -5.8a4.5 3.9 40 1 0 6.9 5.8M672.7 773.0a5.3 4.5 73 1 0 -3.1 -10.2a5.3 4.5 73 1 0 3.1 10.2"/>
<path fill="none" stroke="#fff200" stroke-width="2.2" stroke-linecap="round" d="M682.6 714.2l-2.2 2.5M679.5 717.3l2.2 2.3M603.4 776.4l-1.4 .2M777.4 658l-.8 1.7M610.9 695l-.6 1.8M749.6 652.8l1.6 2.3"/>
<path fill="none" stroke="#c8b400" stroke-width="1.3" stroke-linecap="round" d="M796.6 668.6l.4 0M621.4 640.9l.4 0M778.3 838l.4 0M684.7 750.7l.4 0M681.8 732.9l.4 0M743.3 759.7l.4 0M750.1 770.1l.4 0M749.7 683.2l.4 0M680.8 833.3l.4 0M762.5 741l.4 0M671.8 681.8l.4 0M800.3 667.1l.4 0M633 805l.4 0M684.8 752.4l.4 0M647.4 846.1l.4 0M614.9 705l.4 0M730.6 730.8l.4 0M660.3 838.5l.4 0M739.4 663.9l.4 0M716.2 738.2l.4 0M760.3 685.6l.4 0M779.2 654l.4 0M623.9 842.2l.4 0M644.8 679.5l.4 0M648.5 792.1l.4 0M605.1 645.1l.4 0M780.7 648.4l.4 0M765.4 738.6l.4 0M610 734.2l.4 0M639.5 734.2l.4 0M756.3 681.1l.4 0M624.8 788.9l.4 0M726.5 719.7l.4 0M767.2 828.6l.4 0M627 794.7l.4 0M761.6 745.1l.4 0M766.8 641.9l.4 0M753.4 779.7l.4 0M758.8 673l.4 0M744.3 811.4l.4 0M684.7 847l.4 0M619.2 679.2l.4 0M726.5 733.6l.4 0M657.7 730.7l.4 0M626 815.2l.4 0M620.7 785.4l.4 0M724.8 719.2l.4 0M642.8 845.6l.4 0M673.6 823.3l.4 0M653 726.4l.4 0M675 831.2l.4 0M728.9 647.1l.4 0M622.8 780.4l.4 0M716.6 832.9l.4 0M685.7 700l.4 0M598.2 843.6l.4 0M711.3 676.6l.4 0M636.3 640.8l.4 0M732.2 846.8l.4 0M780.3 648.3l.4 0"/>
</g></g>
<clipPath id="c5"><rect x="806.8" y="639.3" width="209.6" height="210.0"/></clipPath>
<g clip-path="url(#c5)">
<rect x="806.8" y="639.3" width="209.6" height="210.0" fill="#000016"/>
<g filter="url(#mblur)">
<path fill="none" stroke="#00003a" stroke-width="8" stroke-linecap="round" d="M998 837.8l5.4 1.4M929 727.5l3.8 1.6M846.8 731.2l.4 2.9M811.4 655l1.2 4.7M912.6 793.2l3.4 .6M971.8 760.9l-1.7 4.3M1009.3 713.2l2 4.6M925.1 777.6l3.1 .9M905.8 787.9l.7 4.3M940.7 676.4l1.4 2.3M976.6 680l2.3 .7M816.8 696l-3.6 2.3M875.2 715.6l1.8 2.6M968.3 754.1l2.9 1M969.1 786l3.9 3.6M923.3 831.9l-4.3 .7M841.6 843l.6 2.1M814.1 809.1l-4.7 .4M977.6 838.5l-4.2 .2M962.7 709.3l2.2 5.5M845.7 654.1l3.1 2.2M1001.1 838.4l2.7 .9M919.4 673.8l-3.5 2.3M859.4 725.1l1 5.5M881.1 825.8l-5 1.7M953 724.7l-4.1 2.4M940.4 687.8l.9 3.1M970.3 755.2l-3.6 2.2M829.8 770.2l-.6 3.3M979.1 690.7l5.6 1.4M924.9 751.6l-.6 2.9M903 733.7l4.9 .1M887 803.8l-2.3 1M849.3 781l.4 2.7M895.2 654.1l.3 4.8M951.4 750.4l-.3 4.2M870.3 827.6l-2.2 .9M989.1 741.7l-2.6 4.4M932.9 699.1l1.5 2.9M869.6 839.3l1.2 3.2M895.1 808.8l-.7 3.9M859.4 697l1.8 1.5M860.2 817.6l3.8 1.4M903.4 662.6l.8 4.2M984.8 691.9l3.8 3.8M1013.6 771.9l-1.8 1.2M865.7 714.7l-2.3 1.3M826.7 792.8l-1.9 3M869.5 653.2l-2.6 5M840 842.8l4.7 3.1M811.7 766.7l-1.7 1.9M906.7 786.8l-3.2 2.8M977.9 764l2.3 3.7M832.7 657.1l4.3 3.3M896.4 703.6l-.5 4.5M987.6 729.3l-1.6 3.1M964.4 833.1l-3 1.1M1012 844.4l.9 2.3M968.7 812.8l.7 2M956.9 797.3l3.3 2.5M891.7 650l.7 3.2M978 761.8l2.6 2.6M871.3 779.2l3.2 2M979.4 757.3l-.7 5.8M939.5 728.5l-4.3 1.1M1010.7 777.7l3.6 .7M981.2 721.2l3.5 .6M816 719.2l-4 4.3M954 778.9l2.7 1.6M933.2 650.5l-.2 4.3M920.4 663.6l.2 2.3M837.9 772.5l-1.2 3M962.4 765.5l3.4 2.4M878.6 843.5l1.9 2.4M908.6 751.9l3.1 4.1M1009.2 641.4l-1.1 5M998 671.1l-4.7 .8M949.4 662.6l-5.7 .5M828.9 812.7l2.2 .6M974.7 787.8l-2.3 5.3M916.2 696.4l-4.3 .1M943.3 822.1l-1.9 2.1M957.9 652.8l4.5 2.8M850.3 651.1l4.2 2M1013.2 637.5l-3.8 3.6M927.2 757.1l-2.2 4.7M836.5 805l-.9 3.3M915.8 828.3l-3.3 1.6M824.8 705.6l-1.6 4.4M983.3 681.4l-4.2 3.1M838.9 668.5l-4.3 .3M937.1 728l-3.3 2.3M918.4 751.6l-4.3 .9M975 814.1l-.9 2.9M982.1 789.3l-5.6 1.5M832.2 745l2.7 2.1M909.4 845.1l4.8 1.6M858.4 714.2l.7 5.5M838.8 754.7l3 .4M932.7 845.5l-3.4 3.8M840.4 755.7l-3.3 3.1M898.5 648.4l3.8 4.2M960.3 734.6l2.5 4.5M827.7 728l-3.1 2.4M892.6 777.9l-2.3 2.6M840.4 823.9l5.8 .4M984.5 801.9l4.5 1.6M962.6 801.1l-4.5 .5M1002.7 771.1l5.1 2.5M871.3 750.3l-4 .6M942.3 769.4l-4.4 .8M890.1 792.5l1.3 4.2M877.4 670.7l1 1.8M868.8 654.6l1.8 3.5M1003 802.1l-4.1 2.2M862.7 662.3l3.4 2.9M1011.3 726.6l4 3.9M824.8 769.3l3.3 3.4M1003.4 843.5l-4.7 .3M1014.6 668.6l-3.4 3.5M960.8 708.6l-1.1 4M984 648.6l1.9 2.9M971.7 663.4l2.1 .8M829.9 728.2l2.4 4.9M828.4 778.4l-.7 3.2M964.4 732.7l-1.8 4.6M987.3 797.4l-3.9 4M867.9 743.7l-4 3.2M960.2 813.7l-.7 5.3M942.3 647l-2.6 3M996.9 816.2l2.8 2.5M991 777.2l2.7 .3M992.1 760.4l-2.4 .1M928.1 796.7l3.6 3.8M915.8 673.3l.9 4.4M971.9 662.3l1 2.6M809.8 723.5l-5.3 2.4M843.5 813l2.1 2M939.1 700.7l2.7 .7M841.1 679.3l5.6 .7M917.6 683.8l4.9 0M884.4 793.2l.6 2M872.9 740.4l4.4 1.1M986 695l4.7 2.1M825.6 679.2l1.7 1.6M836.3 654.8l-.5 5.4M908.3 745.7l5.2 .8M816.3 778.2l-0 2M937.5 816.7l.6 1.9M873.2 760.4l-1.5 1.5M1009.4 753.4l-4.1 2.3M981.8 810.8l3.8 1.1M972 814.5l2.6 4M1012.4 769.1l-2.5 2M851 689.4l5.5 1M990.3 720.9l-2.4 3.5M996 684.3l-.1 2.4M852.6 728l2.3 .7M925.2 648.7l1.1 2.9M823.9 808.2l5.6 .6"/>
<path fill="none" stroke="rgb(0,0,75)" stroke-width="5.0" stroke-linecap="round" d="M830.8 784.4l-.8 1.7M884.4 787.4l3.4 .4M944.1 747.2l-.8 1.2M949.2 730.3l2 1.2M853 847.8l.7 1.9M842.1 649.6l-2.2 1.8M960 734.8l.2 2.7M809 836l-2.1 .8M1015.8 791.8l1 1.1M999.6 743.3l-2 2.2M979.4 751.6l-1.2 .2M1000.9 662.6l-1.1 1.7M998.6 719.3l-.8 1M1010.2 837.6l.2 1.2M893.7 715.7l.3 2.5M979.9 638.4l-1.3 1.3M974.8 756.4l-1.1 1.1M979.9 762l1.8 .4M824.9 771.4l-1.6 .7M999 687.1l.9 .3M969.9 660.2l2 2.6M913.7 695.1l-2.8 1.5M958.6 850.2l.8 2.6M989.7 754.3l-1.3 .9M1011.6 735.8l.2 1.6M985.7 788.4l-.7 1M904.5 669.6l1.2 2.7M972.5 682.1l.6 1.7M1001.2 843.8l-3 1.1M840 820.9l-2.3 1.8M893.6 735.1l.5 2M843.5 833.4l-2.1 .6M897.5 669.2l1 3.3M978.6 647.5l1.8 2.6M948.6 724l.9 .8M965.7 700l.9 .5M1005.3 689.2l2.2 2.2M966.1 735.5l1.5 1.9M933.2 773.4l-2.7 1.4M856 807.3l.2 2.7M887.5 778.9l-.5 1.9M804.2 803l.7 1.4M989 763.7l-.5 1.6M1019.8 826.4l-1.3 2.6M1018.4 765.1l-.8 .9M962.4 800.1l.7 2.3M862.2 829.3l-.8 1M953.4 646.4l-3.3 .1"/>
<path fill="none" stroke="rgb(0,0,75)" stroke-width="5.8" stroke-linecap="round" d="M903.3 834.1l-.9 1M971.2 716.7l2.9 .6M876.5 704.7l2.8 1.1M969.2 785.3l-2.8 1.3M964.6 686.8l1.1 .1M881.3 844.9l.8 .7M945.5 816.8l-.6 2M990.7 664.8l2.1 2.1M913.8 753.2l-.5 1.7M942.8 692.1l-1.6 2.7M878.2 697.3l3.1 .9M939.8 774l-1.9 1M893.3 760.6l-.9 1.6M955.2 756.6l-2.7 1.8M907 652.6l.7 1.8M967.9 692.2l2.4 .3M891.4 702.1l1.4 1.6M951.4 673.2l-1.6 1.3M1012.5 757.5l-.4 2.5M978.3 690.3l.7 .9M810.8 822.2l1.4 .4M919.7 770.5l.6 3.4M997.9 677.5l-1 2.1M992 697.5l2 1.9M941.9 664.4l-1.2 .3M993.8 786.3l.4 1.1M960.2 659.1l-.8 1M1004.7 742.5l2.5 1M841.4 676.6l-.2 2.5M902.5 664l-3.1 1.2M874.6 840.1l.6 3.2M1020 749.5l-2.5 1.5M804.9 829.8l1.2 1M1011.4 725.6l-1.5 .6M803.7 795l2 1.4M825 834.2l.6 3.1M815.6 665.4l3 1.8M952.3 781.4l-2.2 1.3M958.9 745.6l-1 1.2M884.8 650.3l1.6 1.7"/>
<path fill="none" stroke="rgb(0,0,75)" stroke-width="6.5" stroke-linecap="round" d="M997.7 795.1l1 1.7M903.4 775.2l-1.4 .3M1006.6 667.7l.5 2M973.8 764.1l-1.8 1.9M893.3 849l-3.1 1M961.2 719.1l-.9 2.6M978.5 710l.2 1.1M992.3 779.7l-2.8 1M1018.5 708.9l.9 2.6M914.5 671l-2.3 .1M997.7 651.2l.5 .9M899.6 750.3l-1.8 .9M871.5 783l-1.5 1.4M806.8 849.4l2.3 2M970.7 778.6l-.9 .8M902.9 726.6l-2 2.8M1011.9 674.1l-.9 .8M1016.6 664.6l-2.6 .3M962.6 694.3l-2.9 1.9M814.4 780.2l-1.1 1.7M864.6 795.8l-.9 1.1M806.3 658.2l-1.1 2.7M889.4 805.1l-2.8 1.8M918.9 794.2l1.4 2.3M993.2 727.1l2.3 .4M1017.1 728.7l-2.3 1.9M973.5 841.8l1.4 .6M994.7 752.6l1.9 2.9M918.1 779.7l-1.4 2.5M930.8 828.2l-1.4 1.6M932.1 849.2l1.5 1.7M943.6 673.4l.3 3M929.8 798.9l-1.1 2.9M947.6 809l1.2 .3M879.2 639.6l-1.2 .7M956.1 766.5l-1.1 .9M940.3 679.8l1.9 2.2M849.9 653.9l2.5 .8M943.3 637.3l2.4 1.3M978.6 783l-1.9 1.4M1003.9 837.1l-2.1 2.7M947 769.1l1.5 .8"/>
<path fill="none" stroke="rgb(0,0,112)" stroke-width="5.0" stroke-linecap="round" d="M976.2 800.3l1.6 1.5M991.4 639.1l1.4 1.5M993.1 769.4l2 2.2M846.6 671.9l1 .2M812.1 798.6l-1 .4M972.4 821.9l-.2 2.6M813.7 745.2l2.2 0M906.4 766.1l3.1 1.5M979.3 655.6l0 2.7M879.2 831.9l-.2 2.1M866.2 636.3l1.8 .7M909.5 808.8l-1.2 .9M908 745.5l2.4 1.9M804.5 719.5l.2 1.2M922.6 845.4l-1.7 .5M911.1 702.8l.3 1.9M875.1 665.9l.4 1.7M866.5 822.9l-.6 1.9M911.2 801.2l2.4 0M948.4 661.9l3 .8M880.5 728.1l-2 2.6M900.1 692.3l.1 1M974.2 793.6l-.8 1.5M909.4 688.1l0 2.7M832.5 732.4l-.6 3.2M806.4 645.6l-1.2 2.4M933.5 809.8l-1.2 2.7M887.7 635.7l1.8 1.9M964.3 665.8l1.4 2.1M824.5 718.4l1.8 1.8M1003.7 824.1l1 1.1M1013.8 637.1l1.2 .1M888 739.1l-1.3 2.3M1006.9 717l3 1.8M890.2 839.8l-1.3 3.2M888.9 678.9l-.2 1M836.2 800.5l1.8 1.9M944.9 825.4l-.8 2.8M989.3 834.9l.4 1.1M896 708.4l1.8 0M879.8 737.8l.6 1.3M1020.1 808.7l-2.3 2.3M875.4 848.6l-.6 1.1M824.6 850.7l-.6 2.5M975 697l-1.7 .9M850.4 737.1l-.9 1.8M962.5 712.2l-2.1 2.1"/>
<path fill="none" stroke="rgb(0,0,112)" stroke-width="5.8" stroke-linecap="round" d="M807.9 677.2l2.4 1M918.8 686.3l1.4 .7M849.6 712.8l2.6 1.5M989.7 843.2l-2.7 1.4M869.3 694.8l1.1 .7M823.3 794.1l.6 2.2M807.8 787.6l.1 1.8M855.4 819.2l-1.8 1.7M897.7 789.3l1.6 1.5M830.4 707.6l-3 1.3M979 775.6l-1.1 2.2M941.4 726.6l2.5 1.4M856.2 690.5l-1.1 3M826.3 647.4l-2.2 2.7M1011.5 812l.9 1.1M913.1 816.6l-1.6 .3M904 733.5l2.6 2.2M837.5 744.8l-.7 1.3M827.5 755.3l1.7 2.4M851.6 660.8l-1.1 .1M835.5 644.2l-.4 2.7M875.4 749.2l-.9 1.1M1006.4 680.2l.8 1.1M910.8 679l1.1 .4M844.5 817.2l-.9 1.3M1015.5 654.4l1 1M1015.5 799l1.5 2.4M862.7 774l-.2 1M825.5 680l-1.5 .3M896.6 841.4l-.7 1.8M852.2 825.4l1.1 2.3M863.5 701.7l-1.5 2.4M900.2 656.8l2.5 1.9M919.7 674.7l-.9 2M1017.2 776.9l2.2 1.3M846.2 742.3l-2.4 1.8M920.5 695.4l-1.3 3.1M936.6 781.4l.7 1.2M967.4 727.8l1.3 1.3M817.9 750.6l1 2.9M967.8 756.9l-0 1.2M1007.7 707.7l-1.1 .2M886.6 795.4l-2.2 .3M915.7 807.6l.4 1.1M839.9 667.8l-2.7 1.5M987.3 746.6l.7 3"/>
<path fill="none" stroke="rgb(0,0,112)" stroke-width="6.5" stroke-linecap="round" d="M843.1 638.5l-1.4 1.5M955.8 640.3l-.5 1.5M816.4 638.5l1 1.4M806.5 736.5l2.4 0M997.3 732.8l-1.5 2.4M999.7 776.4l-1.8 1.4M911.5 738.4l2.1 .8M1014.6 705.1l-1.9 .8M912.3 785.9l-.5 .9M951.2 814.3l1.5 .4M866.2 677.7l2.2 .5M989.9 822.3l-.6 1.7M908.1 640.2l-1.9 .2M877.6 784.9l-1.6 3M861.1 803.2l.7 .8M934.8 816.7l-1.1 2.8M815.6 761.1l-1.1 .9M945.3 776.6l3.2 .1M887.3 642.7l-2 2.7M829.3 817.2l.9 1.7M946.1 801.2l-.7 2.5M872.4 653l2.2 1.8M875.8 645.6l.1 1.3M842.3 786l-0 2.3M842.8 848.1l-2.3 2.3M882.6 770.6l-2 1.7M825.3 844.7l2.1 1.8M884.8 750.3l-.7 1.1M901.5 810.9l-1 .6M868.4 667.2l-2.4 2.4M910.3 728.5l1.7 .9M820.7 713.4l.5 2.4M1006 762.9l2.7 1.3M889.4 826.1l1.1 1.7M1011.2 750.7l-.1 2.9M921.1 719.8l-1 .8M825.3 780.9l-2 2.1M1002.8 697.4l1.1 .5M998.5 703.4l-.2 2.4M871.5 829.1l-.8 1.6M899.6 685.1l-2.5 2.2M945.7 739.3l-.6 1.9M1016.1 694.6l-1.8 1.4M818.4 789.2l3.1 .4M901.2 761.5l-2.7 1.5M814.3 701.8l1.4 2.4M1017.5 676.6l1.4 .8M868.7 702.4l2 .4M955.5 714.9l.1 3M994 646.1l-1.1 .5M936.2 697.6l.2 3.2M902.4 768.7l-1.4 .1"/>
<path fill="none" stroke="rgb(0,0,150)" stroke-width="5.0" stroke-linecap="round" d="M978.9 674.1l-2.3 .3M858.8 671.6l1.7 .8M877.1 798.7l-.3 1.9M846.9 749.7l-1.9 .8M863 687l-.6 .8M890 727.2l.8 2.7M818.8 683.3l-0 1.3M938.9 714l2.2 2.2M844.5 804.9l-2 1.5M866.6 645.5l2.5 .7M1010.2 821.2l1.1 1.4M852.9 677.8l3.4 0M869.7 849l-2.3 1.9M929.3 702.1l1.9 1M891.7 746.6l.4 1.2M877.9 805.3l-.5 2.7M812.9 751.3l-3.1 .9M998.6 711.9l1.8 .4M926.5 767.2l-1.6 .8M860.8 727l.8 1.9M1001.4 802.6l-2.2 1M912.1 713.5l-1.6 2.5M1000.5 783.7l-0 3.3M927.6 778.1l-1.5 .8M846.3 826.4l-3.3 1.1M959.2 829.2l3.1 .5M940.2 841.3l-2.4 1M920 737.9l.7 3.2M916.2 828.8l-.6 2.9M921.5 747.3l0 2.6M823.3 739.7l-1.5 1.2M824.9 661.6l2.4 1.5M830.3 696.9l-1 .2M945.9 850l-.9 2.9M859.2 643.2l3 1.6M955.7 774.7l-.4 1.6M981.2 680.2l.8 3"/>
<path fill="none" stroke="rgb(0,0,150)" stroke-width="5.8" stroke-linecap="round" d="M929.1 755.4l.1 2M880.2 814.5l-.4 1M974.1 816.2l-0 1.4M919.2 707.3l2.5 1.7M815.6 836.9l-.1 1M971.2 706.9l-2.7 1.9M855 639.7l-2 1.9M973.4 740.2l-1.5 .8M1016.8 817.4l1.3 2.8M864 733.1l.4 2M805.9 809.9l1.8 2.9M936.3 798.1l2.8 2M836.2 770.3l2.6 .3M861.6 708.5l-2.6 1.5M836.3 814.6l-1.1 .1M905.5 782.5l-1.3 .4M894.5 771.2l.5 1.6M966.7 849.7l1.8 .2M997.2 836.3l-2.6 1.8M923.4 760.2l-1.3 1.1M870.2 790.2l-.2 1.4M934.3 745.5l1.4 2.5M804.5 748.1l-1 2.4M810.8 669.8l-3.1 1.2M1006.4 661.7l1.3 0M987.7 650.9l1.9 1.3M843.9 716.8l-3.1 .1M862.2 679l-2.2 2.3M847.9 796.6l1.1 .7M838.1 776.8l2.2 .7M828.8 742.2l.6 3M952.6 743l-1 2M1011.9 770.7l1.7 0M958.6 782.1l-1.2 1.6M805.9 638.1l1.6 1.4M925 640l1.8 .3M817.3 812.4l-.2 3M832 848.6l1.7 2.7M809.9 652.9l1.5 2M864.9 652.4l-2.9 1.8M884.1 703l1.9 1.8M888.1 769.4l-.3 1.6M992.3 849.6l-1 .5M900 700.6l1.2 2.5M884.2 835.6l1.1 2M952.3 828.5l2.9 1.9"/>
<path fill="none" stroke="rgb(0,0,150)" stroke-width="6.5" stroke-linecap="round" d="M971.2 669.5l1.7 1.4M925 735l2.4 .4M952.6 688.8l.4 2.4M809.4 773.2l-1.8 2M864.3 659.6l.1 3.2M814.8 646.7l1 .5M982.2 817.3l-1 1.9M834.9 700.5l.8 1.3M986.1 705.8l2.5 .2M868.8 728.8l.1 1.1M853.9 800.5l-.1 1.1M815.2 827.3l2.5 .4M964.5 674.9l3 .1M831.2 776.1l.8 1.8M909.3 721.4l2.8 .4M987.2 807l.4 1.7M825.4 686.9l1.1 .2M831.6 667.3l.6 .9M988.2 690.1l.6 2.4M890.8 687.3l-1.6 1.3M875.5 767.4l-1.5 .7M895.1 783.6l1.7 .4M1000.4 829.1l-1.5 2.7M980.9 833.8l.2 2M893.8 693.7l-1 .6M899.9 740.7l2.3 .8M1016.6 833.5l-.9 1.6M895.7 676.8l.2 1M1004.3 816.8l-1.7 .2M923.8 850.9l2.1 1.4M833.8 657.2l.2 2.9M997.5 670.5l-1.2 1.4M898.1 720.5l.7 2.5M864.8 740.7l-1.3 .7M959.5 789.5l.8 1.1M839.2 683.6l-.5 1.4M991.7 800l-.7 3.4M847.2 842.4l-2.2 2.3M831.8 768.1l-2.9 .2M895.5 828.9l1.3 .4"/>
<path fill="none" stroke="rgb(5,5,188)" stroke-width="5.0" stroke-linecap="round" d="M838.7 793l-1.6 .8M1009.9 829.8l-2.7 .2M872.2 741.1l-.9 1.2M872.4 685.1l-.1 2.3M931.8 714.4l-1.1 .2M820.5 725.3l1.1 .5M1012.7 687.1l1.2 .7M980.9 827.1l-1.4 .2M939.3 737.6l-1 .5M921.2 784.6l2.7 2.1M903.4 819.9l-2.1 .9M949.6 845l-.8 1.1M868.1 714l-2 .6M1002.7 673.2l.1 2.8M944.5 687.8l2.8 .9M867.4 753.8l.6 .9M891.4 832.7l-.1 2.1M1004.1 639.1l1 .5M843.1 734.8l1 .8M853 832.6l-.7 1M882.3 659.6l.5 1.1M832.9 675.6l1.5 1.1M803.2 757.8l2.6 .1M973.2 832.2l-1.7 .6M816 718.3l-1 1.8M834.3 689.4l-.2 2M851.3 840.8l1.9 0M916 763.5l-2 2.2M1005.1 645.4l.9 2.3M1005.4 652.4l1.2 1.9M851.9 724.9l-1.2 3.1M806.3 712.2l2.1 1.5M842.8 727l.8 1.2M870.9 772.3l-1.6 1.8M802.9 782.3l3.3 .2M981.5 743.7l-2 .9M925.6 691.3l1.8 2.5M855 768.7l-.5 1.9M896.5 636.8l-1.2 .9M934.5 732l-3.1 .7M832.9 806.8l.4 1.5M873.3 733.4l.4 1.4M850.3 784l2.6 2.1"/>
<path fill="none" stroke="rgb(5,5,188)" stroke-width="5.8" stroke-linecap="round" d="M910.2 794.9l-1.5 1.1M861.6 782.5l-.8 1.5M892.9 814.9l-.8 1.3M905.1 709.6l-.2 3.2M830.5 651.2l2.7 2M863.4 835.3l-.4 3.1M828.4 636.7l.5 1M951.7 837.1l1.1 .4M932 785.4l-1.8 2.9M1004.3 723.5l-2 .9M992.7 810.9l.5 1.8M816.9 708.6l-.8 2.5M817.1 847.6l-.5 1.6M964.8 776.8l-2.7 .9M848.1 775.5l2.8 1.9M963.8 822.7l1 .9M927.1 837.9l-.5 3.3M843.2 755.5l1.2 2M862.9 747.4l-.8 1.1M984.4 668.8l-1 .3M829 828.7l-2.2 1M869.3 805.5l1.3 1.6M903.6 755l3.2 1.3M817.6 806.9l-1.1 .3M855.2 701.5l1.9 1.3M825.1 801.4l-2 1.4M857.8 762.5l1.2 2.1M862.9 788.6l1.1 2.2"/>
<path fill="none" stroke="rgb(5,5,188)" stroke-width="6.5" stroke-linecap="round" d="M1008.7 846.3l3 .2M851.4 756.4l1.3 .6M914.5 836l-.2 2.2M900.8 679.4l2.9 .6M944.5 762l2.8 1.3M857.8 751l-.9 3.2M862.2 695.3l-2.3 .9M888 709.9l1.6 1.6M836.6 753.4l1.4 .4M806.9 687.8l2.6 1.8M920.9 812.3l1.1 2.2M902.4 801.1l-.2 1.2M841.9 660.4l1.1 2M845.7 683.4l1 .2M824.7 809.5l-1.4 .7M953.1 791.7l-1.1 .1M861 847.8l.7 1.3M871.4 721.4l-1.4 2.7M843.9 766.8l-.9 .7M981.5 847.3l-2.3 .7M808.1 702l.1 1.4M891.5 797.2l.8 1M879 684.4l2.1 .9M908.2 849.6l1.8 .9M1007.9 790.1l1.5 1M831.7 760.8l3 1.1M817.9 694.3l-.4 2.9M1006.6 797.4l-1.5 .4M908.3 840.2l.5 1M860.4 719l-0 2.5M885.8 665.9l-2.7 1.4M914.6 843.3l.4 .9M821.1 671.3l-.6 1.2M861.6 813.1l-.6 1.2"/>
<path fill="none" stroke="rgb(16,16,225)" stroke-width="5.0" stroke-linecap="round" d="M876.8 820.8l.7 2.5M937.1 722.2l-.9 2M836.5 726.8l-.6 .9M916.1 731.8l1.8 1.4M881.7 717.2l-.8 1.4M887.1 820.8l-3.1 1.2M841.6 690.7l1.6 3.1M848.1 701.8l3.1 1.7M941.8 833.5l-1.8 1.1M1016.2 852l-1.5 .5M872.5 814.9l-.9 1.2M923.4 821.4l2.4 2.3M899.9 851.3l1.2 .8M816.4 771.7l1.7 2.9M928.8 723.1l1.3 1.3M807.5 694.8l-1.4 3.2M825 749.2l0 1.9M912.8 775.4l-2.9 1.1M857.2 658.2l.1 1.1"/>
<path fill="none" stroke="rgb(16,16,225)" stroke-width="5.8" stroke-linecap="round" d="M822.7 700l.2 1.1M884 763l.7 1M848.9 762.1l-.9 .5M876.7 776.8l1.3 1.5M876.7 675l1.2 1.2M822.6 761.6l-.6 2.5M841.8 705.1l-1 3.1M819.6 657.5l-.5 1.5M838 839.9l1.1 1.6M924.6 804.4l-2.1 1.5M848.5 646l-2.1 1.6M867.2 764.2l-2.9 .7"/>
<path fill="none" stroke="rgb(16,16,225)" stroke-width="6.5" stroke-linecap="round" d="M875.9 757.3l-1.3 1.7M833.9 711.8l.8 1.9M853.7 732.2l.7 1.4M835.3 827.7l-1.2 1.2M937.1 789.7l-.2 2.8M888.4 672l1.2 .1M856 788.9l-.1 2M954.8 802.9l-.6 2M805.1 843.1l-1.4 1.7M813.7 731.3l.1 3.4M940.1 766.7l1.2 1M907.6 824.4l.9 1M806.9 764.8l-.6 3.3M957.4 817.8l2.3 .6M856.9 742.2l-1.4 .9M885 850.8l-2.4 1.2M806.1 725.7l2.3 1M888.4 720.8l-2.8 .6"/>
<path fill="none" stroke="#f2e400" stroke-width="1.9" stroke-dasharray="30 4" d="M949.4 686.6a3.9 3.3 28 1 0 -6.9 -3.7a3.9 3.3 28 1 0 6.9 3.7M890.8 809.2a4.6 4.1 11 1 0 -9.1 -1.8a4.6 4.1 11 1 0 9.1 1.8M981.7 684.9a3.6 3.2 61 1 0 -3.4 -6.3a3.6 3.2 61 1 0 3.4 6.3M836.0 731.3a4.1 3.4 4 1 0 -8.2 -0.6a4.1 3.4 4 1 0 8.2 0.6M974.0 804.1a3.7 3.6 38 1 0 -5.8 -4.5a3.7 3.6 38 1 0 5.8 4.5M820.2 714.0a5.4 4.9 66 1 0 -4.3 -9.9a5.4 4.9 66 1 0 4.3 9.9M827.9 832.8a5.2 3.8 49 1 0 -6.8 -7.8a5.2 3.8 49 1 0 6.8 7.8M887.4 703.6a4.5 3.8 113 1 0 3.5 -8.3a4.5 3.8 113 1 0 -3.5 8.3M831.8 661.5a4.9 4.1 64 1 0 -4.4 -8.8a4.9 4.1 64 1 0 4.4 8.8M880.6 648.7a5.2 3.7 7 1 0 -10.4 -1.2a5.2 3.7 7 1 0 10.4 1.2"/>
<path fill="none" stroke="#fff200" stroke-width="2.2" stroke-linecap="round" d="M927 767.6l-2.3 1.6M939 748.1l-3.3 .1M947.3 714l-.2 2.7M917.2 734l-1.9 2.6M920.1 817.8l-1.6 1M839.8 818.2l.6 3.6M955.4 728.4l-3.8 .5M881.7 781.8l3.2 .8M835.8 826.7l.9 1.6M840.7 710.1l-1.8 1.1M937.7 645.6l3.2 .3M948.2 845.1l3.1 .3M840.3 793.7l1.1 .1M825.5 682.7l.3 2.9M838.3 768.6l-2.3 1.3M849.6 745.5l3.3 .4M903.3 729.7l2.7 .8M1010.3 642.4l-.9 2.3M942.6 830.5l-1.9 2.4M927.3 691.6l-1.8 1.1M828.1 718l.7 2.2M944.7 836.6l-1.2 0M912.8 804.2l-2.3 2.1M989.2 669.4l2.7 2.2M980.6 703.2l-1.1 1M910 716l1 3.7M954.7 649.5l.5 3M866.1 830.2l2.9 1.4M923.1 647.2l-1.8 2.1M930 658.9l2.8 2.7M848.8 678.4l-.3 2.6M899.1 728.7l-3.8 1.2M883.4 658l1.2 1M858 722.5l-2.5 1.7M830.2 735.7l2.2 1.7"/>
<path fill="none" stroke="#c8b400" stroke-width="1.3" stroke-linecap="round" d="M932.2 846.1l.4 0M891.7 786.1l.4 0M824.3 720.8l.4 0M929.2 842.4l.4 0M866.5 804.7l.4 0M944.6 660.4l.4 0M825.5 738.4l.4 0M867.8 779.4l.4 0M962.2 819.4l.4 0M902 824.7l.4 0M985.1 790.8l.4 0M859.7 825l.4 0M841.8 751.8l.4 0M1007.6 842.2l.4 0M989.9 793l.4 0M992.2 819.7l.4 0M863.6 741.5l.4 0M995.6 723.5l.4 0M910.8 774.4l.4 0M885.5 711l.4 0M912.4 807.4l.4 0M882.7 689.6l.4 0M910.5 796.8l.4 0M844.7 809.6l.4 0M968.1 779l.4 0M866.6 730.3l.4 0M911.5 741l.4 0M889.3 705.6l.4 0M861.9 671.6l.4 0M991.4 656.9l.4 0"/>
</g></g>
<rect x="967.9" y="837.0" width="21.4" height="3.2" fill="#fff"/>
<text x="466.9" y="889.3" font-size="23.50">W/O</text>
<text x="664.0" y="889.0"><tspan font-size="23.72" font-style="italic">Id1</tspan><tspan font-size="18.50" font-style="italic" dy="-10.67">f/f</tspan></text>
<text x="888.6" y="889.0"><tspan font-size="23.74" font-style="italic">Id1</tspan><tspan font-size="18.52" font-style="italic" dy="-10.68">Lyz-KO</tspan></text>
<line x1="606.4" y1="895.0" x2="1022.5" y2="895.0" stroke="#000" stroke-width="3"/>
<text x="645.0" y="922.5" font-size="23.72">CM from BMDM-derived TAMs</text>
<path d="M1145.6 566.7 V863.6" stroke="#000" stroke-width="3" fill="none"/>
<line x1="1133.4" y1="863.6" x2="1342.4" y2="863.6" stroke="#000" stroke-width="3"/>
<line x1="1133.4" y1="568.2" x2="1145.6" y2="568.2" stroke="#000" stroke-width="3"/>
<text x="1102.3" y="577.2" font-size="23.00">40</text>
<line x1="1133.4" y1="642.1" x2="1145.6" y2="642.1" stroke="#000" stroke-width="3"/>
<text x="1102.3" y="651.0" font-size="23.00">30</text>
<line x1="1133.4" y1="715.9" x2="1145.6" y2="715.9" stroke="#000" stroke-width="3"/>
<text x="1102.3" y="724.9" font-size="23.00">20</text>
<line x1="1133.4" y1="789.8" x2="1145.6" y2="789.8" stroke="#000" stroke-width="3"/>
<text x="1102.3" y="798.7" font-size="23.00">10</text>
<line x1="1133.4" y1="863.6" x2="1145.6" y2="863.6" stroke="#000" stroke-width="3"/>
<text x="1115.0" y="872.6" font-size="23.00">0</text>
<line x1="1184.6" y1="863.6" x2="1184.6" y2="874.6" stroke="#000" stroke-width="3"/>
<line x1="1243.5" y1="863.6" x2="1243.5" y2="874.6" stroke="#000" stroke-width="3"/>
<line x1="1302.9" y1="863.6" x2="1302.9" y2="874.6" stroke="#000" stroke-width="3"/>
<path d="M1165.7 863.6 V645.0 H1204.1 V863.6" stroke="#ff2a00" stroke-width="3" fill="none"/>
<path d="M1224.6 863.6 V802.4 H1263.5 V863.6" stroke="#0f8c8c" stroke-width="3" fill="none"/>
<path d="M1284.0 863.6 V651.9 H1322.4 V863.6" stroke="#8f8f00" stroke-width="3" fill="none"/>
<line x1="1184.6" y1="645.0" x2="1184.6" y2="634.1" stroke="#ff2a00" stroke-width="3"/>
<line x1="1174.1" y1="634.1" x2="1195.1" y2="634.1" stroke="#ff2a00" stroke-width="3"/>
<line x1="1184.6" y1="645.0" x2="1184.6" y2="655.6" stroke="#ff2a00" stroke-width="3"/>
<line x1="1174.1" y1="655.6" x2="1195.1" y2="655.6" stroke="#ff2a00" stroke-width="3"/>
<line x1="1243.5" y1="802.4" x2="1243.5" y2="795.7" stroke="#0f8c8c" stroke-width="3"/>
<line x1="1233.0" y1="795.7" x2="1254.0" y2="795.7" stroke="#0f8c8c" stroke-width="3"/>
<line x1="1243.5" y1="802.4" x2="1243.5" y2="809.0" stroke="#0f8c8c" stroke-width="3"/>
<line x1="1233.0" y1="809.0" x2="1254.0" y2="809.0" stroke="#0f8c8c" stroke-width="3"/>
<line x1="1302.9" y1="651.9" x2="1302.9" y2="643.4" stroke="#8f8f00" stroke-width="3"/>
<line x1="1292.4" y1="643.4" x2="1313.4" y2="643.4" stroke="#8f8f00" stroke-width="3"/>
<line x1="1302.9" y1="651.9" x2="1302.9" y2="660.4" stroke="#8f8f00" stroke-width="3"/>
<line x1="1292.4" y1="660.4" x2="1313.4" y2="660.4" stroke="#8f8f00" stroke-width="3"/>
<circle cx="1185.0" cy="627.2" r="5.8" fill="#fff" stroke="#ff2a00" stroke-width="2.8"/>
<circle cx="1185.0" cy="641.2" r="5.8" fill="#fff" stroke="#ff2a00" stroke-width="2.8"/>
<circle cx="1185.0" cy="663.4" r="5.8" fill="#fff" stroke="#ff2a00" stroke-width="2.8"/>
<circle cx="1244.2" cy="789.0" r="5.8" fill="#fff" stroke="#0f8c8c" stroke-width="2.8"/>
<circle cx="1230.1" cy="811.3" r="5.8" fill="#fff" stroke="#0f8c8c" stroke-width="2.8"/>
<circle cx="1257.9" cy="805.3" r="5.8" fill="#fff" stroke="#0f8c8c" stroke-width="2.8"/>
<circle cx="1303.5" cy="634.5" r="5.8" fill="#fff" stroke="#8f8f00" stroke-width="2.8"/>
<circle cx="1289.5" cy="664.5" r="5.8" fill="#fff" stroke="#8f8f00" stroke-width="2.8"/>
<circle cx="1316.9" cy="657.2" r="5.8" fill="#fff" stroke="#8f8f00" stroke-width="2.8"/>
<text x="1166.8" y="613.4"><tspan font-size="22.60" font-style="italic">P</tspan><tspan font-size="22.60"> &lt; 0.0001</tspan></text>
<line x1="1195.7" y1="619.4" x2="1235.7" y2="619.4" stroke="#000" stroke-width="3"/>
<text x="1216.8" y="573.8"><tspan font-size="22.62" font-style="italic">P</tspan><tspan font-size="22.62"> &lt; 0.0001</tspan></text>
<line x1="1243.0" y1="581.8" x2="1283.0" y2="581.8" stroke="#000" stroke-width="3"/>
<text x="1159.0" y="904.7" font-size="23.35">W/O</text>
<text x="1229.0" y="904.7"><tspan font-size="22.00" font-style="italic">Id1</tspan><tspan font-size="17.16" font-style="italic" dy="-9.90">f/f</tspan></text>
<text x="1286.8" y="904.7"><tspan font-size="24.57" font-style="italic">Id1</tspan><tspan font-size="19.17" font-style="italic" dy="-11.06">Lyz-KO</tspan></text>
<line x1="1222.8" y1="910.7" x2="1325.8" y2="910.7" stroke="#000" stroke-width="3"/>
<text x="1227.2" y="932.5" font-size="23.39">CM from</text>
<text x="1158.6" y="958.5" font-size="23.81">BMDM-derived TAMs</text>
<text transform="translate(1067.8,719.5) rotate(-90)" x="-66.0" y="0"><tspan font-size="23.88">CD8</tspan><tspan font-size="16.24" dy="-10.03">+</tspan><tspan font-size="23.88" dy="10.03"> T cells</tspan></text>
<text transform="translate(1094.5,715.0) rotate(-90)" x="-118.5" y="0"><tspan font-size="23.69">(% in all cells per field)</tspan></text>
<text x="1366.2" y="558.2" font-size="58.40" font-weight="bold">g</text>
<text x="1461.7" y="546.2" font-size="23.73">Orthotopic-liver</text>
<text x="1461.7" y="572.9" font-size="23.65">metastasis model</text>
<path d="M1462.2 595.0 V863.4" stroke="#000" stroke-width="3" fill="none"/>
<line x1="1451.3" y1="863.4" x2="1639.6" y2="863.4" stroke="#000" stroke-width="3"/>
<line x1="1451.3" y1="596.5" x2="1462.2" y2="596.5" stroke="#000" stroke-width="3"/>
<text x="1415.6" y="605.5" font-size="23.00">1.5</text>
<line x1="1451.3" y1="685.5" x2="1462.2" y2="685.5" stroke="#000" stroke-width="3"/>
<text x="1415.6" y="694.4" font-size="23.00">1.0</text>
<line x1="1451.3" y1="774.4" x2="1462.2" y2="774.4" stroke="#000" stroke-width="3"/>
<text x="1415.6" y="783.4" font-size="23.00">0.5</text>
<line x1="1451.3" y1="863.4" x2="1462.2" y2="863.4" stroke="#000" stroke-width="3"/>
<text x="1434.8" y="872.4" font-size="23.00">0</text>
<line x1="1513.2" y1="863.4" x2="1513.2" y2="874.4" stroke="#000" stroke-width="3"/>
<line x1="1589.3" y1="863.4" x2="1589.3" y2="874.4" stroke="#000" stroke-width="3"/>
<path d="M1488.4 863.4 V792.9 H1538.0 V863.4" stroke="#ff2a00" stroke-width="3" fill="none"/>
<path d="M1565.0 863.4 V698.1 H1614.1 V863.4" stroke="#0f8c8c" stroke-width="3" fill="none"/>
<line x1="1513.2" y1="792.9" x2="1513.2" y2="778.3" stroke="#ff2a00" stroke-width="3"/>
<line x1="1499.7" y1="778.3" x2="1526.7" y2="778.3" stroke="#ff2a00" stroke-width="3"/>
<line x1="1513.2" y1="792.9" x2="1513.2" y2="806.8" stroke="#ff2a00" stroke-width="3"/>
<line x1="1499.7" y1="806.8" x2="1526.7" y2="806.8" stroke="#ff2a00" stroke-width="3"/>
<line x1="1589.3" y1="698.1" x2="1589.3" y2="686.0" stroke="#0f8c8c" stroke-width="3"/>
<line x1="1576.3" y1="686.0" x2="1602.3" y2="686.0" stroke="#0f8c8c" stroke-width="3"/>
<line x1="1589.3" y1="698.1" x2="1589.3" y2="707.8" stroke="#0f8c8c" stroke-width="3"/>
<line x1="1576.3" y1="707.8" x2="1602.3" y2="707.8" stroke="#0f8c8c" stroke-width="3"/>
<circle cx="1513.2" cy="746.7" r="5.8" fill="#fff" stroke="#ff2a00" stroke-width="2.8"/>
<circle cx="1502.3" cy="774.7" r="5.8" fill="#fff" stroke="#ff2a00" stroke-width="2.8"/>
<circle cx="1524.2" cy="779.5" r="5.8" fill="#fff" stroke="#ff2a00" stroke-width="2.8"/>
<circle cx="1513.2" cy="791.7" r="5.8" fill="#fff" stroke="#ff2a00" stroke-width="2.8"/>
<circle cx="1502.3" cy="831.8" r="5.8" fill="#fff" stroke="#ff2a00" stroke-width="2.8"/>
<circle cx="1524.2" cy="831.1" r="5.8" fill="#fff" stroke="#ff2a00" stroke-width="2.8"/>
<circle cx="1589.3" cy="660.4" r="5.8" fill="#fff" stroke="#0f8c8c" stroke-width="2.8"/>
<circle cx="1589.3" cy="675.5" r="5.8" fill="#fff" stroke="#0f8c8c" stroke-width="2.8"/>
<circle cx="1569.2" cy="699.3" r="5.8" fill="#fff" stroke="#0f8c8c" stroke-width="2.8"/>
<circle cx="1609.3" cy="703.7" r="5.8" fill="#fff" stroke="#0f8c8c" stroke-width="2.8"/>
<circle cx="1589.3" cy="703.7" r="5.8" fill="#fff" stroke="#0f8c8c" stroke-width="2.8"/>
<circle cx="1589.3" cy="738.2" r="5.8" fill="#fff" stroke="#0f8c8c" stroke-width="2.8"/>
<text x="1502.8" y="634.4"><tspan font-size="23.11" font-style="italic">P</tspan><tspan font-size="23.11"> = 0.0003</tspan></text>
<line x1="1523.7" y1="642.2" x2="1580.6" y2="642.2" stroke="#000" stroke-width="3"/>
<text x="1490.0" y="902.3"><tspan font-size="22.00" font-style="italic">Id1</tspan><tspan font-size="17.16" font-style="italic" dy="-9.90">f/f</tspan></text>
<text x="1549.7" y="902.3"><tspan font-size="23.54" font-style="italic">Id1</tspan><tspan font-size="18.36" font-style="italic" dy="-10.59">Lyz-KO</tspan></text>
<line x1="1501.0" y1="912.0" x2="1604.0" y2="912.0" stroke="#000" stroke-width="3"/>
<text x="1506.0" y="935.0" font-size="23.21">CM from</text>
<text x="1438.4" y="961.8" font-size="23.65">BMDM-derived TAMs</text>
<text transform="translate(1377.1,724.3) rotate(-90)" x="-65.0" y="0"><tspan font-size="23.52">CD8</tspan><tspan font-size="15.99" dy="-9.88">+</tspan><tspan font-size="23.52" dy="9.88"> T cells</tspan></text>
<text transform="translate(1405.0,721.8) rotate(-90)" x="-142.8" y="0"><tspan font-size="23.68">(% in digested metastases)</tspan></text>
<text x="1670.4" y="559.5" font-size="53.52" font-weight="bold">h</text>
<text x="1742.0" y="551.0" font-size="23.76">Lung metastasis model</text>
<path d="M1766.4 594.5 V859.3" stroke="#000" stroke-width="3" fill="none"/>
<line x1="1756.2" y1="859.3" x2="1935.3" y2="859.3" stroke="#000" stroke-width="3"/>
<line x1="1756.2" y1="596.0" x2="1766.4" y2="596.0" stroke="#000" stroke-width="3"/>
<text x="1717.2" y="605.0" font-size="23.00">1.5</text>
<line x1="1756.2" y1="683.8" x2="1766.4" y2="683.8" stroke="#000" stroke-width="3"/>
<text x="1717.2" y="692.7" font-size="23.00">1.0</text>
<line x1="1756.2" y1="771.5" x2="1766.4" y2="771.5" stroke="#000" stroke-width="3"/>
<text x="1717.2" y="780.5" font-size="23.00">0.5</text>
<line x1="1756.2" y1="859.3" x2="1766.4" y2="859.3" stroke="#000" stroke-width="3"/>
<text x="1717.2" y="868.3" font-size="23.00">0.0</text>
<line x1="1813.8" y1="859.3" x2="1813.8" y2="870.3" stroke="#000" stroke-width="3"/>
<line x1="1887.2" y1="859.3" x2="1887.2" y2="870.3" stroke="#000" stroke-width="3"/>
<path d="M1792.0 859.3 V856.0 H1838.0 V859.3" stroke="#ff2a00" stroke-width="3" fill="none"/>
<path d="M1863.6 859.3 V662.4 H1910.3 V859.3" stroke="#0f8c8c" stroke-width="3" fill="none"/>
<line x1="1887.2" y1="662.4" x2="1887.2" y2="655.6" stroke="#0f8c8c" stroke-width="3"/>
<line x1="1874.5" y1="655.6" x2="1900.0" y2="655.6" stroke="#0f8c8c" stroke-width="3"/>
<line x1="1887.2" y1="662.4" x2="1887.2" y2="672.6" stroke="#0f8c8c" stroke-width="3"/>
<line x1="1874.5" y1="672.6" x2="1900.0" y2="672.6" stroke="#0f8c8c" stroke-width="3"/>
<circle cx="1795.6" cy="852.5" r="5.8" fill="#fff" stroke="#ff2a00" stroke-width="2.8"/>
<circle cx="1803.3" cy="848.8" r="5.8" fill="#fff" stroke="#ff2a00" stroke-width="2.8"/>
<circle cx="1811.4" cy="853.0" r="5.8" fill="#fff" stroke="#ff2a00" stroke-width="2.8"/>
<circle cx="1818.7" cy="850.0" r="5.8" fill="#fff" stroke="#ff2a00" stroke-width="2.8"/>
<circle cx="1826.7" cy="853.7" r="5.8" fill="#fff" stroke="#ff2a00" stroke-width="2.8"/>
<circle cx="1834.5" cy="852.0" r="5.8" fill="#fff" stroke="#ff2a00" stroke-width="2.8"/>
<circle cx="1887.2" cy="647.1" r="5.8" fill="#fff" stroke="#0f8c8c" stroke-width="2.8"/>
<circle cx="1868.5" cy="663.3" r="5.8" fill="#fff" stroke="#0f8c8c" stroke-width="2.8"/>
<circle cx="1887.2" cy="660.9" r="5.8" fill="#fff" stroke="#0f8c8c" stroke-width="2.8"/>
<circle cx="1906.2" cy="663.3" r="5.8" fill="#fff" stroke="#0f8c8c" stroke-width="2.8"/>
<circle cx="1887.2" cy="678.7" r="5.8" fill="#fff" stroke="#0f8c8c" stroke-width="2.8"/>
<circle cx="1887.2" cy="688.4" r="5.8" fill="#fff" stroke="#0f8c8c" stroke-width="2.8"/>
<text x="1806.5" y="628.8"><tspan font-size="22.72" font-style="italic">P</tspan><tspan font-size="22.72"> &lt; 0.0001</tspan></text>
<line x1="1827.2" y1="634.9" x2="1884.3" y2="634.9" stroke="#000" stroke-width="3"/>
<text x="1782.2" y="902.3"><tspan font-size="22.00" font-style="italic">Id1</tspan><tspan font-size="17.16" font-style="italic" dy="-9.90">f/f</tspan></text>
<text x="1844.0" y="902.3"><tspan font-size="23.39" font-style="italic">Id1</tspan><tspan font-size="18.25" font-style="italic" dy="-10.53">Lyz-KO</tspan></text>
<line x1="1809.4" y1="910.8" x2="1911.8" y2="910.8" stroke="#000" stroke-width="3"/>
<text x="1813.8" y="935.0" font-size="23.13">CM from</text>
<text x="1746.2" y="960.6" font-size="23.65">BMDM-derived TAMs</text>
<text transform="translate(1683.8,721.8) rotate(-90)" x="-66.2" y="0"><tspan font-size="23.95">CD8</tspan><tspan font-size="16.29" dy="-10.06">+</tspan><tspan font-size="23.95" dy="10.06"> T cells</tspan></text>
<text transform="translate(1712.9,720.0) rotate(-90)" x="-142.2" y="0"><tspan font-size="23.58">(% in digested metastases)</tspan></text>
<text x="3.7" y="1055.0" font-size="54.62" font-weight="bold">i</text>
<text x="267.6" y="1046.0" font-size="23.76">Orthotopic model</text>
<circle cx="46.7" cy="1074.6" r="12.1" fill="#0000ff"/>
<text x="65.4" y="1083.8" font-size="23.17">DAPI</text>
<circle cx="156.3" cy="1074.6" r="12.1" fill="#ffff00"/>
<text x="175.7" y="1083.8" font-size="23.00">CD8</text>
<clipPath id="c6"><rect x="18.4" y="1093.8" width="232.3" height="231.6"/></clipPath>
<g clip-path="url(#c6)">
<rect x="18.4" y="1093.8" width="232.3" height="231.6" fill="#00001a"/>
<g filter="url(#mblur)">
<path fill="none" stroke="#00003a" stroke-width="8" stroke-linecap="round" d="M22.2 1118.3l-2 3M51.7 1118.8l-2.1 2M50.5 1264.4l4.2 1.9M144.7 1197.5l-3.7 0M39.2 1095.8l1.7 5.5M66.2 1170.1l-3.4 .5M67.6 1141.9l-.6 4.3M238.6 1287l2.7 2M213.4 1322.1l-1.4 1.6M221.3 1243.7l-2.3 1.7M186.2 1137.2l3.5 2.9M27.5 1170l1.1 3.2M171.6 1287.2l-5.8 .4M247.8 1275.9l2.7 1.7M161 1219.5l4.5 1.4M64.5 1305.3l-2.5 3.6M41.9 1183.7l-2.6 5M250.3 1138.3l-3.1 2.2M119.7 1275.7l4 1.5M40.4 1320.8l2 1.4M96.1 1256.3l.4 5.4M133.5 1275l1.2 2.9M159.7 1240.8l2 .7M52.8 1261.5l-4.8 .4M199.2 1152.7l-5.1 .2M98.3 1095l2.2 2.7M60.5 1103.7l-2.3 1M28.9 1235.2l2.3 1.6M208.9 1161.6l.4 2.7M179 1212.7l1.7 5.2M141.3 1258.4l-2.4 3M127.8 1124l-1.9 1.6M192 1309.8l-1.2 4.6M56.7 1290.2l.6 2.4M50.7 1180.4l.7 3.1M184.7 1218.3l-2.3 1.9M189.5 1284.4l-.8 2M227.6 1153l-2.3 1.6M102 1184.3l1.9 4.9M65.5 1142.1l-2 2.7M103.1 1271.6l1.6 1.6M165.5 1204.5l-3.9 .8M82.8 1134.8l.1 2.1M86.4 1203.5l2 0M108.1 1268.8l-3.1 .9M151.1 1185.5l3.8 3.4M157.9 1288.1l2.2 3.5M40.2 1225.5l1.1 2.5M144.6 1309.4l-.3 4.7M218.7 1163.8l-1.9 3M148.7 1144.2l-3.1 1.9M75.8 1257.1l-2.2 .3M179.7 1167l-4.8 3.5M34.7 1151.3l-4 0M49.5 1104.6l3.2 .5M111.7 1217.7l3.4 1.6M23.7 1277.9l.2 3.8M131.8 1251.1l-4.8 2.9M186 1171.9l2.6 .7M220 1106.4l-4.1 1.2M95.1 1183.6l-3.6 .6M178 1287.3l-1.4 1.6M124.9 1184.8l-3.5 3.9M229.3 1262.1l1.3 5.5M145.9 1274.8l3.5 1.6M151.9 1294.5l5.1 2.1M108.6 1146.5l-3.3 .4M115.9 1164.8l.6 3M172.9 1172.2l2.1 1.8M79.7 1302.7l-1.9 1.9M44.7 1274.8l-2.4 2M119.7 1111.2l-1.9 1.4M145.3 1205l-1.9 2.8M129.2 1106.3l2.4 3.7M212.7 1220l4.7 1.9M185.2 1234.2l-5 1.9M144.8 1229.1l3.4 3.7M145.3 1273.9l-.6 4.3M215.7 1319.3l3 .7M160.7 1125.3l.5 5.9M140 1281.9l4.9 2.4M122 1134.8l3.5 1.6M223.8 1175.6l-3.4 1.1M210.7 1169.9l-2 3.5M59.7 1124l4.7 2.6M181.8 1262.8l2 3.9M218.7 1275.6l-2.2 .7M165 1160.4l2.5 .8M205.4 1289.3l2.9 1.8M33.8 1189.4l3.1 .5M87.2 1282.9l.7 2.2M136.8 1131l2.1 .5M53.4 1317.3l-3.3 4.4M228.7 1168.6l-2.8 1.2M158.8 1306l.9 3.3M184.3 1297.2l1.8 2M22.2 1220.6l-1.2 5.6M50.8 1253.1l4.4 1.5M229.8 1244.9l1.9 3.5M54.4 1201l2.6 2.3M171.5 1246.8l-5.8 .6M126.3 1258l.7 3.4M150 1320l.3 2.2M96.3 1277.3l.5 5.8M38.1 1229.6l-2.3 3.7M200.4 1199.7l-3.1 2.8M27.1 1149.2l-4.7 .3M235.6 1156.8l3.8 4.5M122.8 1128.5l1.5 4.2M178.1 1314.4l-1.2 2.2M159.2 1157.1l-2.1 .4M181 1238.2l-2.3 .7M110.7 1199.5l.7 4.2M241.7 1200.5l-3.6 3.1M236.8 1133l-3.3 .5M156.6 1179.1l5.1 2M77.1 1107.5l.2 4.7M90 1194.4l-1.8 2.4M192.2 1181.8l5.4 .8M150 1128.1l-.4 2.4M38.1 1109.8l1 2.3M212.2 1159.9l-1.9 1.7M207.3 1324l1.9 1.1M121.1 1322.7l-3.9 1.5M68.7 1201.3l3.6 3.1M141.3 1282.7l-3 4.3M209.4 1322.9l3.1 3.1M70.6 1104.1l-1.3 5.5M157.6 1293.7l1.6 4.5M153.7 1111.5l1.4 2.7M202.3 1244.9l1.4 4.2M99.6 1181.9l.9 2M229.6 1281.1l0 3M191.8 1138.5l-.9 3.3M63 1304.1l-1.9 .8M175.3 1185.2l-2.9 1.3M182.1 1142.1l3.1 .9M165.4 1190.6l-2 2.6M79.9 1125.7l-4.9 1.8M208.1 1222.2l-4.4 2M28.6 1161.9l-2.3 2.5M98 1270.5l-3 .5M121.4 1229.4l-3.8 2.4M149.7 1141l-.7 3.7M36.8 1285.4l-3.1 .8M104 1311.8l1.6 4.6M181.6 1092.7l-.6 2.3M89.7 1185.6l.4 4.8M158.1 1264.8l5 1.7M209.5 1265.5l2.8 .8M65.4 1114.5l-4.3 .1M132.6 1157.6l-2.7 .2M144.6 1146.3l1.4 5.5M245.9 1211.3l2.5 1.7M23.3 1281.1l-2.2 2.5M215.2 1185.4l-2.6 3.1M166.8 1176.8l1.7 2.2M25 1239.5l-3.5 3M122.4 1262.3l-3.8 1.9M144.5 1248.3l3.5 2.6M36.4 1281.3l-.2 4.8M230.7 1133.5l-.1 4.9M42 1123.1l1.7 1.2M198.9 1203.5l0 2.2M244.4 1274.5l.2 3.2M101.3 1147.2l4.6 .3M129.5 1306.4l-2.4 4.4M213.1 1314l-3 .5M226.1 1207l-.3 2.5M134.7 1323.4l-1.9 2.3M196.2 1232.6l-3 .9M77.9 1289.8l-.5 5.5M29.6 1156.3l1.9 1.2M98.5 1226.3l5.2 .8M188.9 1119.2l4.8 .2M98.5 1308.1l5.4 .9M108.4 1304.2l.4 2.7M77.3 1161.5l3.6 1.7M55 1317.2l-1.5 4.8M50.8 1122.4l-1.6 4.2M19.6 1315.7l2.3 2.6M166.1 1303.8l-.1 3.4M32.5 1201.4l-5.5 1M98 1290.7l3.5 4.9M219.9 1157.9l-5.6 1.8M245.4 1186.4l-2.8 3.8M155.6 1104.4l-3.8 2.7M168.9 1300.3l-2.5 5.3M100.2 1210.4l2.1 1.8M247.6 1195.4l-3.6 1.3M203.8 1102.3l-.4 3.6M75.5 1269.9l-4 2M49.8 1135.6l-.2 3.2M75.9 1212.5l3.3 .7M210.5 1216.5l-.3 5.6M220.1 1234.6l-3.9 .8M104.4 1319.8l-4.3 .7M41.5 1217.9l-2.7 1.8M228.3 1292.5l3.5 .8M245.5 1139.1l-1.5 5.1M187.8 1256.1l1 2.8M110.1 1256.6l-4.7 .1M143.1 1173.6l.4 2.4M155.9 1252.5l1.7 1.2M163.6 1274.5l5.2 2.4M188.7 1195.9l-2.4 3.7M110 1234.1l5.9 .4M144.4 1323.4l3.9 3.9M200.5 1303.6l-.6 3.6M87.7 1323.7l-1.6 2.2M247.8 1317l1.1 5.3M235.7 1290.7l1.4 3.4M94.2 1166.8l1.1 4.1M240.6 1091.9l1 4.3M251.8 1322.6l-3.2 3.6M107.8 1254.7l-2.5 1.6M151.4 1146l1 2.7M96.8 1247.5l3.8 .4M97 1198.1l-5.8 1.4M160.4 1316.4l2.1 1.6"/>
<path fill="none" stroke="rgb(0,0,72)" stroke-width="7.5" stroke-linecap="round" d="M42.7 1096.1l1.6 3.4M238.4 1280.1l2.5-1.9M247.8 1217.4l3.2 3.6M248.7 1216.3l-.3 2.4M209.2 1148.2l3.7 1.2M247.5 1243.7l-.4 3.9M187.9 1148.9l-1.5 2.7M42.6 1173.2l-2 1.4M43.4 1176.4l-2.2-1M55 1187l-.4 3.3M100.6 1208.1l2.6 1.6M87.4 1153.1l2.8 2.1M183.2 1176.3l-1.8 1.9M183 1177.1l-5-.1M124.8 1198l-2.2 1.6M123.5 1198l-1 2.8M252.3 1175.7l-.2 3.5M249.1 1302.4l1 1.8M250.4 1303.2l-.5 3.5M73.2 1137.7l.5 3M206 1214.4l-3.5 2.3M155.1 1227.9l-1.6 2.8M225.5 1161.5l3.9 2.1"/>
<path fill="none" stroke="rgb(0,0,72)" stroke-width="8.8" stroke-linecap="round" d="M186.2 1288.5l1.5 2.3M19.2 1177.8l3.3 .3M239.9 1279.2l3.2 .1M142.3 1222.3l.2 3.2M184.2 1151.1l1.9 3.1M74.9 1149l-2.6 4.1M212.7 1176.7l.6 2.3M249.8 1287.3l2.8 .1M226.6 1229.6l-4.2 .3M230.5 1108.7l-2.3 .8M87.2 1153.4l3.2 .8M32.4 1136l3.1 2.2M182.5 1097l1.5 3.7M238.2 1200.7l-3.6 2.8M252.9 1135.7l-.1 3M87.7 1106.7l-2.1 3M197.4 1304l2.2 1.9M150.9 1151.6l-2.1 4M161.1 1220.8l1.3 2.7M103.9 1141l2.4 1.5"/>
<path fill="none" stroke="rgb(0,0,72)" stroke-width="10.0" stroke-linecap="round" d="M229.3 1208.7l.4 3.8M119.5 1164l-2.4 1.7M80 1168.1l-.7 4.5M229 1107.3l-4.3 .5M89.7 1105.6l-3.2 2.8M171.1 1259.2l1.3 2.1M149.7 1151l-4 .4M154.3 1114.9l-4.3 .9"/>
<path fill="none" stroke="rgb(0,0,118)" stroke-width="7.5" stroke-linecap="round" d="M41.6 1139.2l4.4 1.1M40 1273.5l1.3 2.6M38.2 1272.7l1.1 1.9M181.3 1280.3l2.2 1.6M181.4 1280.3l.3 4.4M113.8 1296.2l-1.3 2.2M98.9 1169l-2.6-3.3M28.1 1254.8l-3.7 3M75 1245.6l-4.6 .7M87.2 1275.1l2.9 1M85.6 1276.7l2.9 .3M63.3 1316.1l-2.4 1.5M22.3 1246.2l-3.5 .8M54 1309.3l3.6 1.8M192.2 1125.7l.3 3.1M214.7 1325.2l.5 2.3M216.5 1327.3l.3 2.3M89.7 1240.7l2.1 4M81.5 1130l-2.6 3.5M225.9 1260.1l4.6 1.7M181.9 1267.3l2.7 1.4M190.6 1170.8l1 1.9M190.4 1170l2.8 .4M73.6 1227.8l2.1 4.3M73 1228.1l2.5 4.1M96.1 1318.6l-4.6 1.4M156.4 1210.7l-2.2 1.7M158.7 1211.2l-3.8-.2M43.2 1303.8l-3 1M122.7 1149.7l-2.2 2M231.5 1273.1l-4.2 2M46.5 1165.2l2.8 2.3M240.8 1138.7l1.9 1.5M231.6 1140.5l2.3 3.7M211.9 1097l2.5 3.3M209.7 1096.5l4 1.2M206.3 1252.3l4.3 1.3M72.3 1294.1l.9 4.9M74.3 1295.5l-.6 4M140.4 1233.1l-3.9 1.6M140.5 1233.3l-2.3 4.4M45.5 1190.9l-3.8 3.2M217.3 1224.7l-2.3-.1M92.8 1261.6l2.3 3.6M151.1 1318.3l-3.5 3.4M53.6 1108.1l-1.9 3.7M31.4 1242.9l-4.4 0M131 1171.1l2.1 .1M135.4 1317.1l-1.9 .8M218.9 1256.7l-3.6 .4M60.6 1097.9l.1 2.1M33.8 1123l-1.2 2M205 1322.6l-2.3 1.5M81.9 1204.6l2.1 .2M81.9 1207l1.5-1.8M239.6 1237.2l1.5 2.6M249.5 1312.6l-2.9-.4M184.1 1226.1l2.2 3.6M202.9 1262.9l.1 2.1M93.9 1125.6l-3 1"/>
<path fill="none" stroke="rgb(0,0,118)" stroke-width="8.8" stroke-linecap="round" d="M52.3 1151.3l-1.9 .7M81.7 1217l1.1 4.3M54.6 1133.8l-2.9 2.5M97.8 1169.2l-4.8 .1M112.4 1145.2l2.3 1.9M20.5 1248.2l-2.9 .3M192.6 1123.9l1.8 2.6M18.4 1098.6l3.2-.1M59.9 1275.2l1.8-1M226.5 1295.9l1.8 1.6M211.8 1280.5l2.3 1.3M240.2 1126l-.1 3.2M209 1300.7l-2.4 3M120.9 1119.4l-3.2 1.3M232 1317.3l3.3 3.2M165.5 1143.2l3.1 1.5M100.4 1147.2l-2.3 3.4M42.1 1156.7l-4.6 .3M109.1 1193.7l1.2 2.5M46.1 1189.1l-1.6 1.8M218.3 1223.3l-3.9 1.5M201.9 1115l3 1.5M40.9 1132.9l-3.9-3M68.2 1210l-2.9 3.4M113.5 1089.5l-3 3.7M212.8 1127.4l-.2 2.4M131.1 1167.6l1.8 2.6M156.2 1190.5l-.6 5M225.9 1185.2l-2 1.6M239.1 1182.5l.5 2M247.1 1227.4l-1.4 2.6M65.3 1132.1l3.2 1.1M193.2 1139.8l.2 4.8M102.9 1192.1l-4.6 1.7M81.3 1236.4l.9 3.6M238.6 1238.3l1.9 3M248.5 1312.1l-2.4 2.5M202.7 1284.5l-.4 3.4M93 1126.9l-3.6 .2M66.8 1264.2l-2.7 2"/>
<path fill="none" stroke="rgb(0,0,118)" stroke-width="10.0" stroke-linecap="round" d="M20.2 1157l-2.3 1.7M204.5 1194.6l3.8 1.8M19.8 1096l2.9 .9M145.2 1177.6l-4.9 .4M225.8 1321.5l-4.2 1.7M62.7 1273.8l1.9 .8M218.2 1267.3l2 3.2M98.9 1307.9l-.3 4.2M122.5 1116.1l-.8 3.3M234.1 1317.4l2.1 4.5M90 1093.9l-2.8 .6M42.1 1130.3l-2.1 .6M75 1181.4l-1.1 2.6M77.4 1277.2l-3 1.6M29.9 1115.8l-3.9 1.4M158 1202.9l4.6 .3M148 1282.2l2.5 .6M241.3 1178.8l-.6 4M180.1 1167l3.3 .8M99.6 1238.9l3.8 2.9M205.4 1283l-2.5 2.4"/>
<path fill="none" stroke="rgb(0,0,162)" stroke-width="7.5" stroke-linecap="round" d="M227.7 1174.1l3.1 .4M248.6 1162.5l1.6 2.9M145.8 1239.9l2.3 1M132.7 1206.2l.9 3.7M247.5 1091.8l-1.5 4.7M16.6 1296.2l-.9 2.4M180.3 1210.7l-2.1-.5M58.3 1123.6l4.7 1.2M40.5 1236.1l-2.3 .6M96 1135.7l-1.8 3.5M41.6 1120.2l1.6 2.9M42.5 1119.9l1.8 3.4M189.5 1235.2l4.3 2.5M129 1131.3l-.9 3.3M34.3 1252.6l-2.4-.5M255.5 1274.2l-2.5-.6M176.8 1185.5l.5 4.9M195.1 1280.5l-.4 4.2M252.2 1260.9l2.3 3.3M254.3 1262.3l2.2-0M40.8 1245.4l3.1 1.2M118 1132l-2.8 2.3M62.5 1242.7l-2.7 3.5M60.6 1244.9l-2.1-.2M130.4 1221.4l.3 3.9M127.8 1219.6l2.6 3.9M75 1161l2.1 0M92.6 1295l3 1.1M106.3 1118.7l-2.7 4.2M23.1 1230.1l4.1 1.1M175 1222.5l-2.9 .3M177 1222l-3.6 2.8M184.5 1301.4l.5 3.9M161.5 1303.7l-3.5 .6M193.1 1222.5l2.8 1.7M178.6 1110.3l-2.7 3.5M135.8 1262.9l-.2 2.5M164.3 1243.5l-1.2 3.8M162.4 1176.1l1.9 1.1M163.6 1176.7l3.6 .5M18.3 1261.5l-2.6 .3M19.5 1260.9l-2 4.1M24.1 1193.8l2.4 3.5M124.6 1321.1l-3.7-.7M32.4 1315l-.5 3.6M18.1 1116.6l-.5 3.5M18.4 1118.5l-1.7 3.2M18.2 1319.7l-4.9 .4M19.9 1322.8l-4-1.7M215.6 1142.5l-2.1-.1M230.6 1219.3l-3 .7M231.7 1220l-3.7 .9M132.7 1291.5l1 4.4M201.7 1091.7l1.3 3.4M218.3 1206.2l1.8 3.1M251.5 1102.5l.4 2.7M172.8 1131.6l2.2 4.2M172 1131l1.7 1.8M174 1092.5l-4.4 2.2M169.4 1155.2l1.4 2.8M94.3 1327.3l-3 2.1M94.5 1330.1l-2.7 .8M27.1 1288.2l2.4 3M184.1 1216.2l.5 2.8M185.2 1216.2l-1.2 2.1M102.1 1127.8l1.9 4.2M161.9 1092.1l1.1 4.8M162.6 1091.9l1.8 3.8M133.4 1125.4l-2.3 1M21.6 1237.8l-3.3 2M67 1189.2l-2.7 2.3M66 1189.1l-3.5 2.8"/>
<path fill="none" stroke="rgb(0,0,162)" stroke-width="8.8" stroke-linecap="round" d="M225.4 1173.5l2.8 2.3M183.2 1207.6l-3.2 2.1M192.6 1312.1l-3.8 3M169.7 1191.8l-4 2.2M74.2 1102.6l-.1 5M95.8 1134.3l-3 3.6M229.3 1240.8l1 3.1M192.3 1235.3l1.4 4.4M177.9 1249.3l2.9 3.3M131.1 1133.5l-.8 4.2M182.2 1124.6l-2.2 .8M36.6 1252.6l-3 .9M254 1274.7l-2 .5M44.7 1284.3l1.8 2.5M215.9 1160.4l2.9 2.4M178.4 1186l1.6 1.6M44.1 1106.4l-1.8 1.7M243.3 1188.6l4.8 1.2M118.3 1134.3l-2.3 2.1M164 1230.1l-1 2.4M72.6 1161.9l3.2 1.1M109.8 1208.9l3.5 .2M195.9 1263.3l-4.7 1.5M221.7 1196.5l.3 2.6M185.7 1132.3l1.1 4.4M252.2 1148.4l-3 1.8M205 1183.2l-.2 4.2M227.5 1285.5l.4 2.4M237.1 1160.7l-.7 4.3M184.2 1303.8l4.2 2.4M179.6 1112l-2.1 2.3M100.4 1250.2l-3.5 2.2M141.3 1290.7l2.2 4.2M83.1 1227.7l4.2 .5M30.2 1326.2l3.5 1.5M126.2 1321.6l-2.4 1.1M129.8 1180.8l2.1 1M207.3 1272.1l-1.3 3.2M213.8 1139.8l-2 .2M103.8 1318.1l2.2 3.4M76.2 1193.4l2.7 .5M22.4 1133.5l2.9 .3M205 1093.6l-1.5 2.1M209.4 1167.9l.1 2.1M139.3 1255l-3.9 .5M98.9 1178.3l-1.2 4.2M115.1 1185.8l3 2.2M61.5 1166.7l-3.7 2M119.3 1210l3.7 2.1M15.1 1221.8l3.3 1M67.4 1106.5l-3.7 2.5M155.3 1177.6l-2.9 3.3M113.6 1258l.8 4.7M129.8 1151.3l1 3.9M132.8 1124.5l-2 2.8M147.8 1215.8l-2.1 2.3M201.3 1174.4l-2 3.5M212.2 1104.3l2.4 2.1M25.8 1184.5l-.3 4M36 1281.2l-4.1 2.7M18 1286.3l-3.2 .3"/>
<path fill="none" stroke="rgb(0,0,162)" stroke-width="10.0" stroke-linecap="round" d="M77.6 1103.9l-3 3.9M147.5 1270.1l4 .5M179.9 1252l3.6 .8M180.5 1120.9l-2.7 3.3M42 1284.7l2.7 .6M85.6 1266.8l-4.5 1.4M24.8 1106.8l-3.6 3.1M245.8 1185.5l4.5 2M103.3 1286.8l4 .1M19.5 1305.4l-.1 2.2M105 1302.8l3.3 2.6M175.4 1239.6l3.5 2.3M166.9 1114.5l4.4 .9M201.2 1293.1l-.5 2.7M46.9 1201l-4.5 1.8M131.5 1325.8l4.7 1.4M88.7 1116l-.2 2.3M252.7 1321l1.6 1.4M125.9 1178.8l4.3 1.1M135 1187.2l-1.9 3M127.1 1260.4l-1.7 2.4M206.1 1272l-3.9 2.8M33.2 1095.9l-.5 3.5M207.1 1165.9l2 4.5M55.6 1258.3l-3 3.9M114 1184.4l1.4 2M137.3 1143.1l-3.4 1M74.5 1261l2.3 2.8M154.6 1180.2l-2.2 1.2M112.5 1113.6l1.7 2.8M111.9 1255.8l-.2 3.7M32.5 1199.4l3.8 .7M148.8 1215.6l-3.3 .6M30.3 1146.1l3.9 3M209.3 1107.9l4.3 .5M88.9 1304.9l.3 4.5"/>
<path fill="none" stroke="rgb(5,5,202)" stroke-width="7.5" stroke-linecap="round" d="M90.2 1202l4.3 1.8M239.9 1210.4l3.1 1.5M219.1 1246.3l-3.2 .5M95.1 1100l1.7 1.2M232.9 1251.2l-2 .3M119.7 1306.6l-.2 2.5M117 1272l-2.4 .1M241.4 1172.6l-3.6 2.1M33.3 1188.6l2.9 1.8M33 1190.4l3.5-.7M153.8 1124.3l-2.3 .5M153 1124l-1.8-.8M152.8 1251.6l-2.6 1.7M239.5 1292.8l4 .2M71.7 1089.9l3.1 1.9M57.2 1178.6l.5 2.2M55.7 1176.6l1.7 3.2M58.7 1297.2l-1.5 2.8M60.3 1296.3l-3.8 2.4M147.4 1161.4l2.1-.3M79.4 1326.3l2.4 .1M78.8 1326.8l2.1 1.6M223.9 1306.2l-2.4 4.2M84.1 1248.4l.1 4.2M46.6 1319l-4.8 .5M43.1 1320.5l-1.5 2M214.5 1232.9l3.7 3.3M164.3 1295.1l4.3 2.2M164.8 1295.2l2.1 3M66.2 1143.8l-.9 3M67.7 1144.9l-2.7 3.3M16.2 1271.6l-1.6 2M184.8 1327.1l2.4 1.3M184.9 1326l2.3 1.2M192.4 1251l3.2 2.6M195.2 1249.1l.4 3.1M190.8 1189l3.3 2M105.5 1264.1l-2.4 2.8M148.8 1128.3l-4.7-1.2M53 1092l-2.1 2.7M121.3 1242.5l2.1 .7M69.2 1310.8l.9 1.8M14.9 1188.8l3.5 3.2M56.6 1200.9l-2.9-2.2M225 1094.9l1.6 1.8M202.3 1135.8l2.5 .6"/>
<path fill="none" stroke="rgb(5,5,202)" stroke-width="8.8" stroke-linecap="round" d="M24 1280l-.2 2M95.8 1098.6l2.4 1M53.1 1270.2l2.1 1.1M243.7 1171.2l-3.7 .1M135.5 1105.5l.5 3.3M194 1159.3l2.9 1.8M110.7 1158.5l1.1 3.7M192.2 1206l3.3 .1M171.5 1311.4l-1.6 4.4M78.6 1314.4l2 1.6M99.6 1271.1l-.5 4.6M25 1166.1l.5 4.2M198.5 1148l1 3.1M140.1 1275.9l2.3 3.1M64.4 1157.6l-1.6 2M133.4 1240.2l-3.1 1.2M146.6 1160.8l2.9 2.2M163 1319.4l-1 3.9M149.9 1090.7l2 1.1M222.4 1304.6l.9 3.5M179.7 1300.7l-1 2.9M85.2 1250.7l.6 4.4M169.4 1166.9l1.2 2.5M216.6 1187.2l-4.3 .4M17.3 1271l-1.7 1.5M83.6 1307.6l-3.9-.3M56.4 1234.4l-4.1 1.6M84.5 1145.4l1.8 2.5M149.3 1307.7l-.8 3.7M146.3 1127.8l-3.4 2.5M239.2 1114.8l-2.4 4.2M38.4 1225l-3.7 3.3M242.7 1195.1l2.4 1.4M55.4 1198.7l-3.6 .3M246.2 1268.6l-2.4 3.9M80.2 1095.2l-.5 3.3M99.6 1155.1l.7 2.2M253.6 1125.5l-.1 3.6M199.2 1243.5l2.7 1.6"/>
<path fill="none" stroke="rgb(5,5,202)" stroke-width="10.0" stroke-linecap="round" d="M97.8 1226.8l.4 4.7M208.9 1206l1.8 4.5M130 1091.9l3.5 2.3M240.1 1259.9l3.9 3M91.2 1184.4l-2.4 1.6M115 1231.8l-1.8 2.5M131.8 1106.8l2.7 2.5M110.2 1156.9l-1.6 3.8M66.4 1200.5l3.3 .9M206.1 1234.3l1.8 4M149.7 1099.9l-3 2.3M225.9 1122l-2.1 .9M84.3 1285.5l3.6 1.6M99.6 1273.1l-.3 3.1M155.7 1104.1l2.9 1M79.2 1123.1l-4.9 .1M28.9 1157.8l2.7 .1M182.8 1193.9l-.9 3.2M177.9 1300.2l-.9 2.2M174.7 1270.5l-1.9 1.4M169 1165.2l3.8 1M218.4 1113.5l2.2 .8M53.7 1325.5l-4.3 .2M26.9 1272.3l4.4 .4M169 1105.3l-2.3 1.2M140.9 1154.7l-2.9 .8M219.7 1292.6l-1.7 1.9M81 1304.8l-2.7 .5M85.5 1142.2l.3 4M240 1112l-1.9 4.3M20.9 1325.5l-0 4.6M22.9 1146.4l-2.3 2.2M98.6 1156.3l.6 4M237.6 1152.1l-3.4 1M124 1229.1l-1.7 1.7"/>
<path fill="none" stroke="rgb(14,14,238)" stroke-width="7.5" stroke-linecap="round" d="M229.8 1310l1.5 4.5M16.2 1198.2l2.6 4M53.8 1210.4l1.9-.9M110.5 1246.3l-3.4 2.5M109 1246.8l-3.4-.6M235.5 1189.9l-.5 2.5M182.7 1316.6l-3.6 1.5M157.3 1170.4l-4 1.1M68.2 1287.4l-2.2 2.4M148.4 1261.5l-3 0M236.2 1094.5l1.3 2.3M160 1283.4l-2.6 2.5M164.2 1209.4l1.7 2.9M110 1100l2.6 1.8M114.9 1316.8l2.8 .1M114.2 1315.8l2.6 1.1M145.3 1114.8l-2.2 2.3M108.1 1176.5l1.2 3.3M115.6 1327.1l-.7 4.4M149.6 1141.4l3.5 .7M190 1089.8l.1 4.2M44.9 1226.3l4.4 2M48 1224.4l1.1 2M66.1 1171.9l3.3 .4M68.4 1172.3l1.7 2.4M241.8 1323.4l-2.8 .6M160.6 1135.5l-2.8 .8"/>
<path fill="none" stroke="rgb(14,14,238)" stroke-width="8.8" stroke-linecap="round" d="M246 1204.3l4 1M115.9 1283.4l3.4 .5M232.2 1309.5l-.1 2.3M17.3 1201.4l2 .8M53.1 1208.4l3.1 1.7M52.9 1288.9l-3.2 3.6M182.7 1315.2l-3.2 2.9M178.7 1142.4l-1 1.8M63 1221.4l3.5 1M95.4 1113.4l2-1.1M67.7 1286.3l-.6 2.9M165.3 1127.1l-2.1 1.6M157.1 1289.6l-1.8 3.5M143 1198.1l2.3 .3M233.1 1092.5l3.7 1.5M160.3 1283.7l-.7 1.9M162.4 1155.3l-4.2 .1M163.8 1210.7l3.5 1.9M48.1 1218.1l2.2 1.9M109.3 1102l.2 2.2M170.6 1284.7l-2.2 3.4M115.3 1221.9l2.1 3.5M53.5 1279l-1.2 2.3M142.4 1117.2l-.6 2.6M29.9 1297.3l1.8 4.5M134.8 1301.9l1.5 3.4M122.5 1294.6l3.3 1.7M26 1214.2l-.4 2.5M108.9 1174.1l-1.6 4.2M115.2 1325.6l0 3.4M62.3 1252.6l-.7 3.2M162.9 1275.3l2.6 2.3M173 1327.6l-2.9 .2M87.9 1211.4l-1.1 2.6M170 1202.4l3.1 2.3M208.1 1317.1l-1.7 2.9M244.3 1324.8l-4.6 1.6M141.2 1246.3l-2.5 .1"/>
<path fill="none" stroke="rgb(14,14,238)" stroke-width="10.0" stroke-linecap="round" d="M249.6 1205.2l2.4 1.2M236.1 1227.9l.4 2.2M33.8 1208.3l-.8 3.5M61.3 1219.6l2.4 1.3M95.6 1113.2l4.5 1.7M16.4 1137.4l-.5 3M127.5 1277l-3 3.1M123.2 1099.9l-1.2 4M156.5 1292.7l-3.8 1.3M144.1 1198.2l1.7 3.5M46.3 1215.6l1 4.5M146.7 1188.4l-1.9 1.6M158.4 1263.4l-.5 2.4M121.9 1249.9l2.7 4.1M34.7 1261l2.1 2.8M169 1182.2l3.7 .3M90.4 1212.4l-.8 2.6M210.7 1314.7l-2.9 2.1M70.9 1325.9l-.9 3.4M104.8 1215.5l3.6 3.5"/>
<path fill="none" stroke="#f2e400" stroke-width="1.9" stroke-dasharray="30 4" d="M221.0 1137.0a5.1 4.5 42 1 0 -7.6 -6.7a5.1 4.5 42 1 0 7.6 6.7M68.2 1155.1a5.9 4.4 6 1 0 -11.7 -1.3a5.9 4.4 6 1 0 11.7 1.3M111.7 1130.6a4.5 3.4 66 1 0 -3.7 -8.3a4.5 3.4 66 1 0 3.7 8.3M232.7 1104.5a6.2 4.7 100 1 0 2.1 -12.1a6.2 4.7 100 1 0 -2.1 12.1M112.3 1277.4a5.6 5.6 16 1 0 -10.8 -3.1a5.6 5.6 16 1 0 10.8 3.1"/>
<path fill="none" stroke="#fff200" stroke-width="2.2" stroke-linecap="round" d="M111.5 1104.8l1.2 1M32.4 1296.8l-.8 2.6M144.3 1200.7l-1.1 1.5M151.6 1214l-1.9 .2M234.6 1315.9l0 1.5M76.9 1210l-.1 3.8M204.3 1234.2l3.6 1.5M104.8 1137.6l-0 2.4M22.6 1317.4l-1.4 2.9M113.5 1191.1l1.8 1.9M127.6 1275.9l2.2 .1M235.9 1147.6l-3.1 1.9M36.4 1189.9l.9 .7M111.2 1202.5l2.6 .3M130.3 1196l1.8 .4M192.7 1223l-1.3 .1M95.1 1110.3l-1.6 3.1M191.9 1160.7l2.8 .1M205.5 1257.6l-2.4 .7M215.3 1246l1 .7M194.4 1185.8l.7 2.3M194.8 1176.5l-2.1 1.7"/>
<path fill="none" stroke="#c8b400" stroke-width="1.3" stroke-linecap="round" d="M134.6 1204.4l.4 0M59.2 1224.4l.4 0M108.5 1208.5l.4 0M217.9 1297.9l.4 0M43.4 1283.3l.4 0M60.7 1131.6l.4 0M229.1 1115.2l.4 0M121.6 1256.8l.4 0M40.7 1211.7l.4 0M190.9 1151.2l.4 0M34.5 1232.6l.4 0M30.4 1150.3l.4 0M77.1 1115l.4 0M229.3 1207.8l.4 0M120 1271.7l.4 0M160.9 1187.8l.4 0M76.4 1161.8l.4 0M189.9 1121.4l.4 0M86.6 1188.3l.4 0M186.1 1206.5l.4 0M153.3 1157.8l.4 0M86.6 1281.8l.4 0M66 1217.7l.4 0M94.8 1300.7l.4 0M219.3 1285.4l.4 0M48.7 1288.6l.4 0M230 1243.2l.4 0M119.9 1295.8l.4 0M162.3 1209.1l.4 0M187.4 1109.5l.4 0M202.2 1309.2l.4 0M217.5 1290l.4 0M182.8 1168.6l.4 0M236.8 1196.4l.4 0M177.8 1133.4l.4 0M130.9 1268.1l.4 0M109.1 1149.5l.4 0M167.2 1100.2l.4 0M71.5 1260l.4 0M104.1 1250l.4 0M206.6 1222.6l.4 0M171 1204.3l.4 0M113.4 1298.2l.4 0M50.2 1138.8l.4 0M158.6 1230.4l.4 0M97.2 1162.7l.4 0M105.5 1200.9l.4 0M232.5 1179.9l.4 0M203.2 1120.8l.4 0M22.5 1272.9l.4 0M209.1 1115l.4 0M233.6 1197.1l.4 0M134 1285.2l.4 0M185.2 1207.9l.4 0M243.3 1239.9l.4 0M230.2 1301.7l.4 0M125.6 1100.9l.4 0M81.6 1243.9l.4 0M104.4 1315.4l.4 0M155.9 1209.7l.4 0"/>
</g></g>
<clipPath id="c7"><rect x="253.7" y="1093.8" width="231.6" height="231.6"/></clipPath>
<g clip-path="url(#c7)">
<rect x="253.7" y="1093.8" width="231.6" height="231.6" fill="#000012"/>
<g filter="url(#mblur)">
<path fill="none" stroke="#000036" stroke-width="8" stroke-linecap="round" d="M273.2 1142.8l-3.1 1M368.7 1259.4l-.1 2.4M451.6 1213.8l-5.4 2.1M337.3 1093l4.6 1.9M258.2 1261.7l-4.7 2.6M473.4 1140.1l2.2 .9M478.8 1119.6l2.6 .2M263.6 1101.8l3 1.7M326.5 1308.2l-2.2 1.5M426.3 1224l-3.2 2.8M388.5 1145.8l2.4 2.3M344.7 1322l3.6 .8M365.2 1280.5l-2.2 3M272.5 1107.9l4.6 .7M322.3 1182.7l2.8 .3M257.6 1313.8l-4.7 .7M368.6 1312.3l-2 5.1M374.8 1210.3l1.1 2.7M421.2 1136.3l-.2 5.4M391.5 1283.2l4.2 1.9M312.1 1093.9l-2.1 .3M389.6 1316l2.8 4.3M475.8 1307l3.7 1M325.8 1131.9l3.3 .9M420 1319.8l-2.2 1.8M388 1203l2.1 5.2M441.4 1100.3l4.9 3.2M255.8 1295.8l-2.6 4.2M430.4 1180.2l1.3 2.1M474.3 1319.7l.5 2.9M358.9 1302.7l-1.7 1M311.2 1220.7l2.4 .7M460.9 1209.1l-5.4 2.4M430.1 1111l-4.4 .1M371.6 1109l-2.7 .1M481 1149.7l-2 2.6M372.4 1134l-2.2 5.5M339.7 1097.5l-2.9 2.8M297.3 1113.4l-4.7 1.2M341.1 1201.1l-.3 4.5M282.3 1156.7l2.3 1.6M275.4 1183.7l-2.6 1.3M326.5 1314.9l3.5 3.9M289.6 1224.4l-.4 3.9M281.8 1214.3l.9 5M314.4 1307.4l-3.2 0M411.5 1093.5l3.4 1.7M437 1191.1l-2.3 .4M436.7 1234.1l4.2 1M481.2 1161.6l.1 4.1M363 1095.2l.1 5.6M346.5 1291l-3.5 4.2M463.3 1173.7l1.1 2.1M394 1273.8l-2 4.5M390.7 1248l4.3 .2M380.7 1156.5l-.8 2.1M449.4 1157.1l-1.8 4.3M409.2 1295.2l4.6 1.2M397.6 1172.9l-1.9 3.1M291.1 1238.3l5.6 1.4M452.2 1256.6l-2.7 2.4M273.2 1128.3l-2.2 5.6M292.8 1121.9l-.5 3.7M482.5 1134.7l.8 4.5M383.8 1311.3l-2.1 1.2M424 1154.9l-1.7 1.8M451.5 1172.6l-.4 2.5M407.3 1176.3l3.5 1.2M284.1 1144.4l4.7 1.9M298.5 1200.4l2.1 1.9M422.3 1147.4l4.1 1.1M372 1254.4l3.1 2.1M259 1156.9l3.5 1.1M353 1210.6l-1.1 2M476.7 1255.6l-3.3 1.9M474.7 1311.8l-4.3 3.9M470.6 1269.5l3 1.4M365.8 1255.2l1.3 2.8M274.1 1102.6l-2.7 1.4M269.5 1128.3l-3.6 .4M303.6 1102.9l1 1.9M254.1 1248.5l1.9 1.3M270.4 1155.8l2 1.2M297.7 1145.8l1.8 4.2M304.2 1095.4l-4.9 2.4M472.3 1256.5l1.9 3.2M300.6 1195.4l-3.6 .7M301.3 1253.5l-2.3 4.3M395.8 1102.3l-.1 2.6M391.5 1315.1l4 3.2M289 1272.7l-2 .6M271.2 1231.8l5.2 1.4M274.9 1240l4.9 .2M361.4 1275.3l1.7 4.8M255.1 1234.9l1 4M392.1 1227.2l-.6 3.9M381.2 1272.3l5.2 .4M433.9 1148.9l2.9 2.3M323.3 1185.4l3.6 1.2M322 1197.8l-.3 3.5M271.6 1221.1l-3.8 4.1M381.3 1279.5l3 1.9M396.7 1149.4l-2.3 2.1M372.6 1133.2l-1.9 2.1M402.7 1300l3.1 3.9M419.1 1297.3l-5.3 1.5M288.4 1150.9l-2.3 1.5M413.9 1221.7l.8 2.7M415.3 1099l-3.3 4.5M459.6 1311.9l2.4 3.3M340.2 1205.1l2.9 3.4M318.1 1212.4l5 .2M462.8 1242.3l-.7 3.9M442.6 1192.7l3.2 .9M331.8 1106.5l-1.3 2.7M338.3 1303.8l-3.4 1.9M304.4 1319.5l-5.2 1.6M441.4 1213.3l-2.3 1.2M476.2 1197.3l-1.9 4.7M430 1303.2l4.1 2"/>
<path fill="none" stroke="rgb(0,0,72)" stroke-width="7.5" stroke-linecap="round" d="M344 1236.5l-5.1 2.7M378.9 1230.8l.5 4.2M435 1116.7l-.3 3.2M435.5 1117l2.5 5M330.9 1273.1l1.5 4.8M487 1311.3l.6 3.3M485 1312.6l1.4 5.2M465.7 1272.7l.1 3.2M309.4 1201.7l1.7 3.7M462 1198.6l.5 3.6M294.4 1141.8l2.8 2.8M476.9 1127.3l2.3 3M285.6 1279.9l-1 4.7M430.9 1169.2l1.2 3M351.4 1278.6l1.1 3.9M275.6 1287.2l2.6 5M414.9 1246l1.5 2.7M256.1 1296l-.9 5.4M271.3 1221.1l.8 3.4M271.9 1134.3l2.4 5M350.6 1159.8l0 4.2M335.1 1296.3l-.4 4.1M332.1 1296.3l2.7 5.2M482.9 1223.9l1.2 5.5M371.8 1262.1l-1.3 3.7M375.4 1261.2l-5.7 1.6M463.4 1126.8l-.3 5.9M465 1127.7l-3.7 3.3M354.8 1312l-.2 4.3M463.3 1151.8l.7 2.9M253.4 1226.1l.5 4.6M270.8 1211.7l.5 3.4M382.8 1290l-.6 5M380.2 1291.4l.7 3M288.7 1106.5l-1.2 4.8M257.5 1102.2l1.6 2.9M256.1 1102.8l3 1.2M475.1 1105.1l.5 3.3"/>
<path fill="none" stroke="rgb(0,0,72)" stroke-width="8.8" stroke-linecap="round" d="M344.3 1233.8l-1.4 5.7M440.2 1134.3l-.4 4.4M285.2 1223.8l-1.5 4.6M459.2 1107.6l1.7 3.2M316 1254.1l-3.1 1.6M320.5 1146.8l-.6 3.8M475.8 1145.6l-.4 3.1M262.8 1241.9l-2 3.5M351.8 1301.7l4.6 3.3M299.9 1296.4l-1 3.2M444.3 1228.8l-.3 3.7M374.7 1190.9l2.1 2.6M403.7 1100.5l2.4 4.8M296.3 1140.3l-1.2 4.9M480 1127.7l-.4 3.3M406.5 1200.7l.5 5M270.6 1222.4l1.1 3.2M483.9 1243.5l.9 3.6M382.7 1212.1l-3.9 4.4M349.9 1287.7l.7 4.5M424.3 1160.4l2.1 2.9M351.1 1326.2l-1 3.3M275.6 1109.9l1.8 5.6M365.5 1284.3l-.4 4.1M275.9 1317.2l1.3 3M431.8 1269.6l1 3.6"/>
<path fill="none" stroke="rgb(0,0,72)" stroke-width="10.0" stroke-linecap="round" d="M259.6 1190.5l-.3 3.5M479.8 1215l2.1 4.2M305.6 1274l.6 4.5M442.9 1137.6l-1 3.2M368.8 1323.1l-.7 3.1M314.5 1250.7l-1.1 5.6M317.2 1148.5l2 4.7M259.4 1239.2l-.5 3.7M281.7 1267l1.6 3.9M352.4 1300.7l-0 5.3M323.9 1303.9l1.2 5.6M374 1189.6l-1 5.1M480.5 1252.4l-.7 4.9M279.4 1149.4l.9 3.8M338.2 1251l1.6 3.6M461.3 1170.9l-.4 5.7M293.7 1128.4l-1.1 3.5M286.5 1298l2.7 5.1M351.5 1188.6l0 3.7M421 1213.5l1.4 4.1M380.5 1210.3l-1.4 5M482.7 1096.5l2.3 4M295 1286.4l1.6 3.5M407.6 1225.5l2.3 5.3M427.7 1158.8l-1 5.4M401.5 1269.9l1.1 4.6M352.9 1207.2l.7 3.4M449.8 1218.8l1 5.8M487.7 1274.5l-1 2.9M271.1 1144.7l-.8 3.3M368.6 1237l-.5 3.4M403.2 1246l1.7 5.6"/>
<path fill="none" stroke="rgb(0,0,118)" stroke-width="7.5" stroke-linecap="round" d="M354.2 1235.5l.7 3.7M354.9 1234.8l2.8 3.8M389.2 1307.5l-.8 4.5M338.9 1286.4l1.9 3.4M312.2 1215.5l2.1 5M311.8 1217.3l0 3.2M374.3 1303.7l.9 5M371.5 1140.9l-1 3.6M389.4 1247.3l.6 4.5M338.2 1156.3l1.5 4.4M381.2 1146l1.2 5.8M382.5 1146.8l-1.3 3.8M252.1 1107.1l3.6 4.3M377.3 1155l.6 5.3M486.4 1107.4l-0 3.5M485.3 1108.8l.3 3.3M358.6 1245.6l-1.4 5.5M454.1 1210.3l-2.1 3.9M430 1298.4l1.9 4.9M431.3 1300.5l-2.2 4.9M455.8 1325.5l-.7 3M292 1150.3l-2.6 3.2M304.8 1161.3l-.8 3.2M305.3 1161.7l1.6 2.6M312.7 1128.2l0 5M400.7 1175.5l-3.1 2M409.8 1235.4l-1.4 4.6M409.5 1325.4l-.7 5.3M454 1227.9l-.4 5.2M453.4 1227l3.6 3.8M303.2 1179.4l1 3.8M330.1 1286.1l.7 4.7M329.2 1284.7l2.6 4.3"/>
<path fill="none" stroke="rgb(0,0,118)" stroke-width="8.8" stroke-linecap="round" d="M354.8 1218l0 3.2M333.6 1266.1l4.3 3M390.7 1308.6l.9 5.4M446.1 1271.5l.6 5M427.9 1248.8l.9 3.5M415.5 1268.9l-1.3 4.2M379.9 1318.5l-1.6 5.2M475.3 1293.6l.8 3.1M339.6 1157.9l2.1 4.4M304.5 1201l-1.8 2.9M251.1 1108.3l1.5 4.2M305.6 1172.2l-1 3.3M460.9 1301.3l2.3 3.6M410.9 1288.2l-1.1 3.5M339.5 1213.1l.7 3.4M313.2 1316l2.8 5M257.5 1157l-3.7 4.6M456.3 1210.8l-1.7 4.7M251.6 1176.5l-.2 5.9M290.6 1150.4l-.7 3.1M398.4 1175.3l-1 3.5M483.8 1153.3l3.1 4.4M302.6 1120.8l4.1 2.9M409.1 1157.5l-1.5 5.6M268.8 1094.8l-3.8 4.4M422.6 1258.7l-1.3 4.4M304.9 1181.4l.1 3.6M431 1212.3l-2 3.4M249.5 1197.3l1.8 3.3M314.5 1088.7l-1 5"/>
<path fill="none" stroke="rgb(0,0,118)" stroke-width="10.0" stroke-linecap="round" d="M336.1 1263.2l-.3 4.4M443.4 1270.3l.3 5.1M288.4 1174.1l1.5 5.1M300.4 1201.8l.8 3M398.9 1209.2l-.3 5.8M454.1 1192.5l-.8 3.2M358.9 1165.3l0 4.1M460.3 1302.7l-.1 3.7M423.7 1233.2l-1.2 4.2M313.7 1312.7l-.6 5.9M420.3 1288l1 3.6M250.7 1119.1l1.2 3.2M255.5 1158.2l1.5 4.6M487.6 1152.8l.8 3.9M259.1 1252.7l-.4 5.8M484.3 1201.9l-1.2 5.7M303.2 1118.5l2.3 4.5M267.8 1093.5l.5 5.3M276.8 1200.2l1 4M326.8 1097.2l-.1 3.3M417.9 1323.9l.8 3.1M466 1180.9l1.6 3.1M381.1 1135.8l1 3.6M344.1 1269.1l-.3 4.4M430.7 1209.9l-.7 3M251.3 1198.9l-.7 5.4M486.9 1139.7l-.6 3.1"/>
<path fill="none" stroke="rgb(0,0,162)" stroke-width="7.5" stroke-linecap="round" d="M374.8 1174.1l.1 3.4M412 1257.4l-1.1 4.1M475 1278.2l.7 3.5M461.7 1162l1.4 3.6M447 1300.8l-1.2 3.6M291 1312.2l1.4 4.7M461.1 1235.1l-1.5 4.7M323.4 1237.9l-.9 3.2M267.2 1291.8l-.3 4.6M367.9 1113.1l1.3 4.9M372.9 1245.6l.4 3.1M472.9 1093.3l1.5 3.5M262.9 1129l-1.3 5.4M334.4 1090l1.4 3.1M352 1263.1l2.1 3.6M480 1182.1l1.8 5.6M481.1 1183.7l3.7 1M433.4 1103.3l-1.2 5.1M265.6 1178.5l1.2 3M302.2 1219l-.3 4M300.6 1218.3l2 3.9M486 1283.3l-1.2 4.6M286.6 1093.1l1.9 4M325.5 1191.6l.5 4.3M326.3 1193.4l3.1 2.8M261.9 1147.2l-.3 5.9M343.1 1107.1l.8 4.3M408.4 1141l-1.1 5.4M406.9 1141l-2 4.2M258.9 1170.4l-3.7 3.8M288.9 1234.4l2.7 1.9M453.5 1128.6l.4 5.1M452.2 1130.8l-.6 3.5M332.3 1238.9l.5 4.9M278.2 1176.7l1.9 3.5M279.4 1176.5l2.4 2.9M289.8 1213l-.1 5.5M342.9 1306.9l.4 3.6M348.1 1172l.5 5M350.9 1171.9l-1.1 3.9M443.3 1091.7l.4 3.1M366.7 1129.9l.8 4.9"/>
<path fill="none" stroke="rgb(0,0,162)" stroke-width="8.8" stroke-linecap="round" d="M257.2 1315.5l.8 5.5M375.2 1282.9l.3 4.2M303.1 1306.2l.7 3.4M267.4 1274.1l1.9 4.2M324.8 1209.3l1.3 4.3M267.6 1233.8l-1.3 3.5M453.7 1092.5l1.9 5.1M366.1 1294.9l.3 4.8M332.3 1148.9l.1 5.3M398.3 1089.3l-.9 4.4M272.7 1120.1l-1.3 5.4M282.7 1323.8l.4 3.9M354.3 1177.8l2.4 5.4M369.7 1114.9l-1 3.2M314.4 1227.4l3.4 1.6M440.3 1261.1l-1.1 4.1M324.1 1180.7l0 3.6M474.6 1246.7l.4 5.4M482.3 1320.6l.9 5.6M252.9 1277.8l1.3 4.7M283.8 1140.8l-.4 5.2M460.1 1254.7l2.6 2.6M279.8 1092.3l1.8 3.6M259.3 1171.5l-.2 4.3M289.3 1235.5l1.2 4.2M458.3 1290.1l.8 3.6M409.9 1176l-.5 4.6M332.9 1239.6l.6 3.2M410.3 1091.4l3 1.8M419.6 1091.1l-.5 4.4M291.6 1213.1l.8 3.5M421.8 1222.6l2.1 4.3M463 1099.4l-2.2 4M443.7 1090l.6 3.9M283.6 1203.5l1.3 5.8"/>
<path fill="none" stroke="rgb(0,0,162)" stroke-width="10.0" stroke-linecap="round" d="M298 1186.4l-1 5.4M270.7 1272.1l.2 5.6M468.8 1206.7l-1.1 5.9M413.9 1133l-.4 3.3M331.5 1146.8l-.2 5.3M257.2 1090.5l-.6 5M397.2 1088.8l2.2 5M474.3 1260.2l-.6 5.1M314 1225.3l1.2 4.2M472.4 1245.8l1.5 2.8M404.2 1185.5l-.6 3.2M338.5 1174.9l.5 4.6M383.8 1272.7l-1.2 5.7M407.2 1214.8l.5 3.6M451.1 1312.3l.4 5.9M392.5 1146.5l1.1 3M279.1 1161.5l-.4 4.3M285.1 1141.6l1.9 3.5M486.2 1164.4l-.5 3.4M452.9 1281.5l.3 4.6M462 1255.5l.4 3.2M364.3 1175.2l.7 2.9M278.3 1090.2l-.5 3.4M408.9 1091.4l1.3 3.7M463.4 1097.4l-.6 3.4M382.9 1179.6l.9 3.3M285.1 1204.5l2.1 4.5"/>
<path fill="none" stroke="rgb(5,5,202)" stroke-width="7.5" stroke-linecap="round" d="M304.6 1256.8l-.6 3.5M363.5 1155.3l.9 4.3M418.4 1141.8l.4 3.5M353.6 1102.6l-1.2 4M297.5 1243.3l1.8 5.1M420.2 1173.7l1.1 5.9M419.7 1173.3l-1.7 5.5M349.4 1114.3l3.1 1.2M411.3 1121.3l1.8 4.5M377 1127.9l-.9 3.3M333.2 1196.8l2.1 3.9M256.2 1136.6l-.4 5.6M396.3 1237.1l.1 3.8M362.4 1194.6l-.5 4.5M420.5 1192.8l-.9 4.2M328.8 1230.4l-.1 3.5M328.9 1227.9l-.2 5.1M268.2 1321.7l-.5 4.1M381.7 1112.2l-1 3.6M390.8 1185.7l-1.7 5.4M327.9 1167.6l1.9 4M250 1260.6l1.4 5M264.8 1280.5l-0 3.8M266.6 1279.4l-3.8 3.6M367.3 1213.1l1.3 5.3M267.3 1106.1l1.3 4M267.2 1108.8l2.1 2.8M360 1142.7l2.2 5.2M285.1 1194.6l1.2 3.8M263.7 1203.2l1 5.8M389.5 1095.5l.9 5.3M402.9 1133.4l-.8 4M404.7 1136.1l-3.7 2.4M302 1316.6l1.8 3.4M268.1 1157.3l-.3 3M389 1228.6l-1.1 3.3"/>
<path fill="none" stroke="rgb(5,5,202)" stroke-width="8.8" stroke-linecap="round" d="M396.6 1194.4l1.9 3.7M431.5 1323.7l-.7 3M347 1140l-.6 3.8M296.2 1119.5l-1.7 5.1M351 1114.5l2 4.5M402.7 1312.8l2.5 4.6M398.1 1235l-1.1 3.3M344.3 1201.4l0 3.2M485.7 1116.6l1.6 4.3M395.2 1131.7l-3.3 4.2M251.8 1308.3l-1.3 3.8M418.5 1151.3l-1 3.2M392.9 1199.5l-4 3.7M303.1 1089.5l-1.1 5.7M324.8 1133.5l-.7 4M367.9 1227.8l.9 4.2M315.2 1113.5l1 3.1M261.2 1119l-.1 4M474.6 1193.2l1.5 4.3M393.4 1123.3l-4.8 3.2M262.9 1204.1l2.4 5.1M410.9 1306.5l-0 5M481.6 1299.1l-.3 4.5"/>
<path fill="none" stroke="rgb(5,5,202)" stroke-width="10.0" stroke-linecap="round" d="M415.8 1111.7l1.2 5.1M292 1118l2.5 4.9M269.6 1166.9l.7 4.9M404.3 1314.5l.7 3M403.8 1150l-1.5 4.3M296.8 1100.8l2.7 5.1M362.4 1093.1l.1 4.7M344.8 1199.7l-.3 4.7M392.7 1133.3l-.6 3.9M388 1200.6l.3 4.1M471.3 1159l1 3.4M365 1313.8l-1.6 4.3M268.1 1262.1l-.4 5.9M369.9 1226.5l1.6 3.3M343.1 1315.5l.5 5.3M293.3 1158.1l.5 5.8M444.4 1286.6l.6 5.8M445.5 1151.7l-.4 3.5M417.6 1100.7l2.7 5.1M369.1 1202.4l.6 5M392.4 1121.2l-.6 4.6M473.9 1167.7l1.3 4.8M250.8 1147.7l1.2 4.1M254.2 1325.4l.1 3.2M364.4 1106.5l-.5 3.7M484.3 1300.8l-1.2 4.2M252.1 1244.8l-0 4.7"/>
<path fill="none" stroke="rgb(14,14,238)" stroke-width="7.5" stroke-linecap="round" d="M392.1 1107l.2 4.5M307 1107.8l.2 4.8M282.8 1124.4l1.4 4.8M454.8 1138.7l-.4 5.3M368.4 1165.1l1.4 3M334.4 1186.2l-.1 5.5M336.4 1185.7l-4.3 3.3M334 1116.4l.9 5.1M431.1 1091.3l1.7 5.4M444.1 1172.5l1.1 5.8M295.5 1168l1.4 4.1M293.9 1166.4l1.7 5.4M311.7 1188.2l.7 3.8M442.7 1100.5l1.6 3.6M446.9 1097.8l-2.4 5.3M432.8 1141.2l-.6 3.3M429.6 1140.3l1.8 3.2M365.2 1185.3l-.5 3.1M325 1155.2l.9 4.5M327.8 1154.9l-3.4 3.6"/>
<path fill="none" stroke="rgb(14,14,238)" stroke-width="8.8" stroke-linecap="round" d="M377.6 1095l-3.3 1M391.6 1157.8l.4 3.5M385.7 1167.6l1.7 5.4M439.4 1160l1.3 3.6M369.4 1164.2l-.8 4.9M356.6 1125.8l-1.4 4.9M442 1123.2l.4 3.5M430.8 1093.3l2.4 4.4M444.5 1173l1.6 5.5M427 1131.9l.3 4.2M335.2 1138.3l-1 2.9"/>
<path fill="none" stroke="rgb(14,14,238)" stroke-width="10.0" stroke-linecap="round" d="M329 1110.1l-.9 3M452.3 1114.9l.8 3M301.9 1132.3l1.3 2.8M321.8 1122.5l1.5 3.9M374.6 1091.6l-1.1 4.2M347.6 1094.3l.3 4.1M398.9 1116.5l1.9 3.5M305.4 1146.4l1.7 3.3M279.8 1099.7l.3 4.3M320.5 1171.2l-1.3 5.6M313.3 1100.6l1.4 3M345 1123.6l-.2 4.2M275.8 1189.7l-.1 4.1M374.2 1104.9l1.9 3.3M293.1 1325.1l.3 5"/>
<path fill="none" stroke="#f2e400" stroke-width="1.9" stroke-dasharray="30 4" d="M413.3 1324.7a5.5 4.2 98 1 0 1.6 -10.8a5.5 4.2 98 1 0 -1.6 10.8M332.6 1224.4a5.8 4.2 143 1 0 9.4 -7.0a5.8 4.2 143 1 0 -9.4 7.0M276.2 1102.6a5.7 5.6 134 1 0 7.9 -8.3a5.7 5.6 134 1 0 -7.9 8.3M387.7 1181.0a5.9 4.2 53 1 0 -7.1 -9.4a5.9 4.2 53 1 0 7.1 9.4M356.5 1243.1a6.0 5.0 7 1 0 -12.0 -1.5a6.0 5.0 7 1 0 12.0 1.5M452.1 1199.5a6.2 5.0 123 1 0 6.7 -10.5a6.2 5.0 123 1 0 -6.7 10.5"/>
<path fill="none" stroke="#fff200" stroke-width="2.2" stroke-linecap="round" d="M317 1232.2l.4 2.6M296.7 1139.4l-2.7 2.4M264.3 1312.9l.3 2M411.9 1219.5l-1.2 2.8M428 1231.1l-3.2 .7M391 1249.3l-1.7 .5M470.8 1114.9l.7 1.2M269 1161.7l2.2 .6M443.5 1275.5l3.7 1.3M482.3 1314l-1.2 3.4M373.7 1096.8l3.6 .9M325.2 1156l.7 2.6M398.1 1199.6l-1 1.2M275.3 1159.2l-1.2 .5M401.8 1122.2l1.1 .2M473 1188.6l-1.2 3.5M310.5 1260.4l.3 2M390.4 1228.4l-2.5 .1M279.1 1272.2l.9 .8M272.8 1282.5l-1.7 .4M291.3 1096.6l.4 2.1M276 1233.7l-.1 1.1M420 1101.5l2.6 2.2M329.3 1273.6l-0 3.6M448.6 1209.7l.9 1.6M409.3 1214.1l2.4 2.8M259.1 1170.4l1.8 .5M345.1 1305.4l2.9 .8M434.9 1209.1l-1.4 .4M354.9 1280.6l-1.3 .6M316.4 1278.9l.9 1.1M441.6 1302.2l-.4 3.7M457 1197.3l.3 3.7M306.5 1260.8l-3 .3M433.3 1316l-2.6 2.2M326.4 1274.8l1.7 1.3M483.7 1319.4l-3 1.8M448.9 1156.3l.6 2.1M335.2 1304.5l-.3 1.3M362.7 1292.9l-1.3 .9M339.4 1216.5l.8 1.4M310.5 1259.3l-.9 2.2M303.6 1184.7l0 2M406.6 1204.7l-3.5 1.1M476.5 1313.9l-.7 1.1M368.1 1250.4l.6 1.9M381.2 1226.7l2.2 .3M400.6 1212.1l.2 2.5M481.9 1162.1l.4 2M411.4 1290.3l3.1 .3M452.4 1141.2l.1 3.7M341.6 1161.9l-1.9 1.1M469.2 1127.7l.4 1.3M269.6 1291.5l1.2 .9M258.1 1210.7l1.5 .8M260.7 1225.1l3 .4M446.5 1112.8l-1 .2M368.5 1197.6l-2.4 .5M382.2 1305l3.5 1.1M290.8 1219.9l-1 3.2M293.5 1172l-3 2.4M471.3 1271.3l1 3.3M282.7 1201.4l1 1.8M390.8 1222.7l-2.6 1.1M475.9 1160.8l-2.6 .5M394.9 1158.5l-3.3 2.1M407.9 1137.7l.7 1.2M451.2 1143.7l-.9 2.9M289.5 1110l.1 3.8M478.4 1127.4l1.2 .9M379.4 1286.6l-.2 1.9M436.7 1288l1.7 .9M300.1 1275.4l3.2 1.8M439.2 1144.2l.2 2.9M271.1 1112.1l.5 1.2"/>
<path fill="none" stroke="#c8b400" stroke-width="1.3" stroke-linecap="round" d="M412.1 1227.8l.4 0M370.6 1191.1l.4 0M390 1276.7l.4 0M437.8 1190l.4 0M271.4 1183.4l.4 0M469.8 1255.4l.4 0M298.7 1221.3l.4 0M390.3 1133.6l.4 0M403.9 1133.1l.4 0M366.9 1284.7l.4 0M269.7 1131.4l.4 0M326.7 1104.5l.4 0M368.2 1123l.4 0M269.8 1131.8l.4 0M367.9 1264.9l.4 0M438 1216.6l.4 0M437.3 1096l.4 0M450.9 1205l.4 0M328.2 1230.8l.4 0M360.9 1095.6l.4 0M318.3 1218.2l.4 0M287.4 1097.2l.4 0M314.7 1107.3l.4 0M406.1 1217.7l.4 0M483.5 1134.9l.4 0M282 1211.3l.4 0M397.1 1272.6l.4 0M264.7 1167.8l.4 0M355.8 1170.8l.4 0M269.5 1267.4l.4 0M408.6 1241.3l.4 0M329.1 1273.2l.4 0M388 1169.2l.4 0M376 1319.9l.4 0M369.7 1145.1l.4 0M412.3 1116.3l.4 0M381.8 1168.3l.4 0M259.5 1242.3l.4 0M258.5 1269.5l.4 0M448.9 1313.8l.4 0M391.9 1267.4l.4 0M430.5 1269.8l.4 0M361.7 1229.9l.4 0M416.1 1253.4l.4 0M333.6 1286.1l.4 0M396.6 1313.4l.4 0M414.3 1172.2l.4 0M423.3 1259.9l.4 0M373.7 1289.8l.4 0M427.9 1102.8l.4 0M356.3 1267.1l.4 0M335.8 1156.1l.4 0M376.9 1310.1l.4 0M394.3 1259.4l.4 0M322.8 1300.8l.4 0M267.5 1143.5l.4 0M322 1307.9l.4 0M424.2 1253.4l.4 0M467.4 1115.5l.4 0M394.2 1120l.4 0M374.6 1193.8l.4 0M401.1 1310.4l.4 0M344.3 1282.1l.4 0M324.2 1177.2l.4 0M455.9 1226.1l.4 0M455.8 1183.5l.4 0M439.7 1274.4l.4 0M365.1 1163.4l.4 0M280.7 1152.2l.4 0M326.4 1275l.4 0M260.7 1218l.4 0M436.6 1267.5l.4 0M401 1096.9l.4 0M410.7 1244.8l.4 0M339.4 1114.9l.4 0M293.2 1162.4l.4 0M299 1126.2l.4 0M340.9 1156.8l.4 0M290.7 1133.1l.4 0M270.9 1322.9l.4 0M461 1162.8l.4 0M391.8 1283.3l.4 0M417.2 1164.3l.4 0M416.1 1139.6l.4 0M376.1 1248.4l.4 0M474.9 1283.3l.4 0M317.8 1251.6l.4 0M349.1 1313.1l.4 0M263.2 1196.4l.4 0M313.9 1283.5l.4 0M280.6 1203.8l.4 0M435.2 1270.3l.4 0M264.2 1214.3l.4 0M290.5 1124.8l.4 0M472.2 1144.9l.4 0M284 1266.9l.4 0M455.2 1165.1l.4 0M362.4 1301.4l.4 0M404.9 1320.2l.4 0M290.7 1262.9l.4 0M483.2 1282.5l.4 0M472.7 1216.5l.4 0M374.2 1159.1l.4 0M446.2 1096l.4 0M301 1210.6l.4 0M268.8 1185.2l.4 0M259.3 1286.8l.4 0M316.4 1277.3l.4 0M414.3 1108.5l.4 0M472.5 1183.8l.4 0M328.4 1318.4l.4 0M296.3 1163l.4 0M302.1 1148.9l.4 0M468.4 1295l.4 0M275.1 1130.1l.4 0M454.7 1108.2l.4 0M321.9 1100.9l.4 0M306.3 1252.2l.4 0M302.2 1189.2l.4 0M395.4 1106.2l.4 0M451.6 1219.3l.4 0M352.3 1299.3l.4 0M339.2 1115.7l.4 0M312.8 1192.1l.4 0M354.8 1171.8l.4 0M330.6 1157.7l.4 0M384.9 1245.4l.4 0M402.7 1180.7l.4 0M387.5 1131.7l.4 0M369.2 1310.3l.4 0M427.3 1199.5l.4 0M483.7 1319.9l.4 0M257.4 1312.5l.4 0M374.5 1139.7l.4 0M308.3 1193.1l.4 0M439 1189.9l.4 0M412.6 1317.3l.4 0M408.6 1190.6l.4 0M312.4 1146.3l.4 0M429 1209.6l.4 0M439.7 1137.1l.4 0M311.6 1224.3l.4 0M369 1130.5l.4 0M428 1210.6l.4 0M379.8 1198.2l.4 0M276.9 1253.6l.4 0M464.1 1293.8l.4 0M302 1185.7l.4 0M262.3 1193.2l.4 0M282.1 1273.8l.4 0M444.5 1313.3l.4 0M438.7 1181.5l.4 0M478.4 1250.3l.4 0M400.1 1140.8l.4 0M389.2 1125.4l.4 0M388.9 1095.1l.4 0M262.8 1278.6l.4 0M468.2 1190.5l.4 0M425.6 1219.2l.4 0M318.3 1172l.4 0"/>
</g></g>
<clipPath id="c8"><rect x="489.8" y="1093.8" width="231.6" height="231.6"/></clipPath>
<g clip-path="url(#c8)">
<rect x="489.8" y="1093.8" width="231.6" height="231.6" fill="#00001c"/>
<g filter="url(#mblur)">
<path fill="none" stroke="#00003e" stroke-width="8" stroke-linecap="round" d="M620.2 1238.2l3.4 4M638.4 1298.6l4.7 3.1M642.7 1236.5l-4 .4M613.3 1194.3l-2.4 5.3M557.6 1165.1l3.9 .7M632.2 1263.4l-3.3 1.7M702.5 1221.6l4.4 1.7M501.5 1319.8l2.5 1.9M696.8 1266.4l1.3 2.1M546.1 1155.9l-.2 2M559 1184.6l2.6 .9M497.9 1293.5l-.9 4.9M517.8 1127.3l1.4 2.1M502 1156.8l2.3 1.6M640.4 1198.1l1.7 3.5M613.1 1275.3l3.2 .7M598.8 1180.7l4.8 1.8M691.6 1095.2l.7 4.1M560.7 1298.5l4.2 2.4M603.4 1235.3l2.1 .6M628.7 1260.9l.9 3.7M609.9 1153.8l-5.5 .7M602.9 1097.5l-2.9 2.1M565.9 1117.2l-1.7 2.2M635.5 1158.5l-3.3 3.1M715.1 1285.3l-3.1 2.1M704.8 1292.6l-1.3 4.8M609.7 1289l-2.9 3.5M543 1113.7l-.8 3M623.9 1139.6l-2.7 .4M506.9 1305.9l-1.2 5M721.4 1251l-2 .4M583.2 1305l4.8 2.2M501 1097.1l-4.1 3.1M544 1118.9l-2.8 2M663.5 1292.6l-4.2 4.1M684.2 1097.2l-1.8 .8M632.5 1168.4l1.3 2.2M566.8 1207.5l3.1 2.3M507.6 1140.4l2.4 .8M586.2 1121.4l-.7 5.1M594.9 1241.7l2.9 .2M506.8 1170.7l2.4 2.5M560.6 1285.9l.3 2M576.6 1157.5l3.7 3.2M498.2 1128.1l2.8 5.2M519.2 1318.3l-4.5 .6M565.8 1280.7l1.6 1.5M672.9 1210.9l1.8 4.8M690.9 1110.5l3.7 2.5M537.5 1297.3l-3.1 2.1M556.7 1260.3l-2.2 5.2M546.5 1246.9l-4.7 3.4M593.5 1185.5l-1.8 1.6M525.5 1143.9l1.9 1.1M578.4 1202.9l.6 2.6M665.5 1115l-.2 2.5M697.1 1305.7l4.1 1.2M692.4 1320.9l-.5 5.6M581 1229.7l-5.2 .1M604.3 1209.5l-.4 3.2M617.6 1158.9l-3.7 1M545.9 1151.9l-2.9 1.4M562.7 1284.2l-5.3 2.2M677.7 1137.9l-3.2 2M549.4 1232.6l-5.4 1.1M570.4 1120.5l1.2 1.8M617.7 1156.4l-2.4 4.7M634.4 1283.8l-1.5 3M572 1160l-1.9 1.5M695.9 1100.5l4.8 .9M585.9 1164.4l1.2 5.5M607 1175.2l2.2 2.1M505.7 1095.6l-2.9 3.1M642.2 1153.1l5.8 1.5M591.1 1170.9l-2.7 .3M656.6 1123.5l-2.2 1.5M575.2 1162.3l1.7 2.7M624 1165.5l4.3 .9M615.3 1228.3l-3 1.3M703.2 1245.1l3.2 1.8M634.8 1159.4l-.3 2.6M533.6 1241.8l5 .2M637.4 1136.9l-2.2 2.6M712.2 1164.3l2.3 4.4M705.4 1133.4l4.5 1.2M621.6 1264l-4.2 3.8M618.1 1184.4l-2 4M633.8 1258.7l-4.9 1M632.6 1294.4l1.8 4.6M678.1 1177.4l-4.9 2M697.5 1302.2l0 4.8M555.4 1239.3l2.4 5M536.3 1267.4l4.5 3.4M523.8 1118.7l-3.6 2.1M546.3 1276.4l1.7 1.3M617.5 1267.7l-2.2 3.3M571 1181.2l4.1 0M534.3 1173.7l3.8 2.7M545.6 1321l1.3 4.4M671.6 1256.8l-1 5.2M631.5 1114.5l1.2 3.5M547 1176.5l4.2 3.6M514.8 1171.2l2.7 .2M701.3 1219.6l-.2 2.1M533 1205.5l-5.8 .4M580 1274.5l3.8 1M584.2 1279.5l-3.3 3.9M720.6 1180.6l-4 2.6M702.6 1293l2.6 4.8M576.6 1236.1l1.4 2M576.3 1140.2l-1.3 2.4M564.1 1106.6l-5.1 .9M540.7 1251.7l1.8 1.5M529.7 1241.3l-3.6 2.2M643.3 1266.1l-1.4 5.3M544.3 1130l-4.6 2.9M638.6 1311.8l1.6 5M535.5 1191.7l-5.3 1.9M493 1094.9l-3.6 1.1M692.4 1286.8l1.8 1.4M670.7 1195.6l-3.3 .4M495.6 1204.2l-3.3 4.5M697.7 1156.7l-4.2 .3M517.9 1192l5.2 2.9M670.5 1267.2l-3 .1M673.4 1123.3l-5.6 2.1M601.5 1098.1l-1.4 5M663.8 1111.1l-3.2 2.2M658.3 1132.3l.5 3.3M593.3 1323l5.7 0M633.2 1122.9l-.5 5.4M695.2 1302.9l4.9 2.9M506.1 1271.6l-3 2.5M591.3 1187.6l2 4.5M602.5 1185.4l4.6 1M599.2 1227.5l-4.5 1.4M574.9 1314.2l1.7 4.5M617.6 1177.5l4.6 .4M696.7 1176.8l2 .5M567.4 1152.2l2 5M703.7 1158l-3.3 .5M687.5 1310.4l2.4 .5M649.5 1171.5l2.3 .7M566.9 1165.6l-4.7 .2M531 1276.8l-4 1.8M720.4 1305l-1.7 1.8M669.8 1181.2l-1.6 1.5M636.9 1268l-3.4 3.7M498.5 1309.2l2.6 5.2M670.8 1309.5l1.8 3.2M630.3 1273l-2.1 3M708.3 1179.2l5.1 2.4M626.1 1285.4l2.3 2.8M553.6 1176.4l1 3.4M545.4 1230.6l2 2.1M596.3 1303.8l2.6 1.7M670.5 1229l-2.5 .2M537.5 1239.6l-2.5 1.5M577 1237.4l-3.1 4.2M561.9 1161.4l-.3 4.3M654.1 1109.7l2.3 0M675.9 1131.7l.7 5M708.3 1240.5l5.1 1.7M697.8 1181.7l-2 .9M543.7 1244.1l.4 2M595.9 1195.8l3.3 4.2M699 1128.6l3.7 4.6M649 1308.3l-4.2 2.1M510.6 1316.8l-1.1 1.8M681.5 1269l-1.6 4.6M720.7 1144.1l-4.6 3.2M532.5 1200.3l3.3 1.7M684.8 1291.7l5 .5M661.2 1308.2l-4.8 1M710.7 1254.6l2.9 4M667.8 1165l1.6 2.6M560.5 1101.7l1.7 2M542.1 1097.2l-4.2 2.6M564.1 1258.7l5.5 .5M623.8 1230l-2.6 .8M678 1216.9l-3.6 2.1M501.8 1295.1l2.4 3.3M551 1218.5l-2.1 1.2M586.8 1299.8l-4.6 3.5M517.2 1150l-4.4 .8M634.3 1174.7l.6 5.2M627.4 1196.5l-2 5.4M513.3 1241.9l3.1 1.8M602.4 1153.5l4.5 3.7M616.7 1093.6l-1.5 2.9M606.3 1245.2l-1.5 4M546.9 1307.6l4.6 .4M684 1131.2l-1.7 3.3M697.7 1131.8l-.2 3.2M650.1 1201.1l-4.8 .1M507.2 1185.9l-4.3 2.9M711.8 1170.5l-1.5 2.6M679.6 1277.9l3.8 1.6M650.8 1153.1l2.1 0M568.4 1178.3l.7 4.1M609.5 1239.7l-2.2 1.6M645.4 1279.7l-.5 4.2M685 1245.9l-2.8 1.3M533.9 1154.9l.8 5.3M522.9 1301.8l4.4 .3M570.7 1172.2l-2 2.4M543.4 1110.5l-1.3 5.3M602.3 1297.8l-4.2 2.1M567.2 1162.5l.3 3.3M625.6 1139.4l-4.2 .8M664.1 1093.1l-1.6 3.6M502.8 1320.9l-.9 5.1M610 1239.5l-.9 3.5M605.2 1173.7l3.8 .7M630 1148l2.7 1.4M663.6 1196.9l-.2 4.3M627 1176.3l-2.3 2M657.1 1128.2l1.2 2.3M673.5 1164.2l.6 2.8"/>
<path fill="none" stroke="rgb(0,0,72)" stroke-width="7.5" stroke-linecap="round" d="M650.8 1232.6l3.8 .1M649.3 1193.6l3.1 3.2M527.6 1132.9l-.9 3.3M679.1 1277.5l-.7 4.2M679.7 1258.4l2.5-.3M663.2 1122.7l1.8 1.3M662.2 1122l3 1.4M589.3 1136.1l1 1.7M580.1 1109.2l-2.4-1.2M718.2 1313.7l.2 2.7M574.2 1193.9l1.2 3.2M625.4 1113.7l-4.2 1.4M562.9 1154.3l1.4 2.2M666.7 1205.3l1.9 4.3M667.3 1203.8l.4 4.7M664.4 1222.6l.3 2.3M495.6 1097.5l4.2 .7M609.5 1110.1l1.6 1.4M607.6 1111.9l2.2 1.6M521.6 1108.6l-4.6 .9M613.1 1265l0 2M551 1091.1l-3.7 .2M506.9 1140.3l-1 2.3M615.1 1288.7l-3.9 .1M702 1285.6l-5 .1"/>
<path fill="none" stroke="rgb(0,0,72)" stroke-width="8.8" stroke-linecap="round" d="M560.1 1185.2l3.2-2.5M651.5 1233.9l2.4 .6M692.9 1100.5l0 2.7M575 1147.6l-.4 3.1M652.3 1314.2l-1.2 2M653.3 1193.1l-.1 2.4M588.1 1191.6l3.2 2.6M621.8 1202.5l-2.8 .2M637.3 1236l-1.6 3.5M682 1257.1l1.7 1.8M545.4 1194.5l1.6 2.8M510.1 1318.4l-4.1 1M578.6 1106.2l-3.6 .1M633.1 1221l3.1 3.3M572.1 1193.2l2.9 2.9M526 1287.3l-2.2 2.8M592.9 1217.4l-2.8 .9M676.6 1324.4l1.4 2.8M617.9 1248.2l-2.5-.7M487.3 1201.9l2.7 2.6M653.5 1213.4l-.5 3.4M552.9 1160l-3 .3M518.9 1265.9l-3.7 0M540.9 1219.7l2.1 1.6M614.7 1160l1.1 2.7M611.6 1262l.4 3.3M616.5 1290.1l-2.9 1.7M513.1 1327.4l2.8 .7"/>
<path fill="none" stroke="rgb(0,0,72)" stroke-width="10.0" stroke-linecap="round" d="M560.8 1185.2l3.7 1.2M692.6 1100l-4 2.7M654.4 1314.3l-.4 3.8M516.6 1182.7l2.3 .9M622.5 1200.8l-2.5 1.5M636.3 1238.5l-.9 4.1M693.7 1190.5l.7 2.8M668.6 1130.6l-1.4 3.9M621.4 1215.7l.4 2.8M594.6 1214.8l-3.8 2.6M676.8 1324.9l1.5 2M616.8 1244.8l-4.6 .3M653.5 1215.5l1.9 4.6M554 1202.7l2.1 2.5M575.2 1262.7l.3 2.8M485.8 1247.6l3.4 1M723.5 1189.7l-2.3 4.2M534.1 1238.8l-2.4 2.1"/>
<path fill="none" stroke="rgb(0,0,118)" stroke-width="7.5" stroke-linecap="round" d="M646.4 1092.2l2.4 4.3M626.7 1190.3l3.9 .5M627.8 1191.9l4.2 1.4M623.3 1315.5l1.3 3.5M536.1 1178.3l-2.2 1.9M705.5 1196.4l-2.8 1.8M707.4 1195.3l-2.4 1.1M536.8 1316.8l2.3 0M617.7 1254.8l-.5 4M501.8 1199l-4.4 1.8M719.4 1097.1l-2.7 2.8M627.6 1298.2l-3.7 .9M693.8 1289.3l-3.8 2.3M597.4 1154.8l-4.8-.2M677.3 1227.8l3.4-2.6M614.9 1188.1l-.7 4M686.2 1124.7l-3.5 2.3M489.1 1160.4l2.3-.9M720.1 1156.9l-3.7 .4M567.1 1111.3l3 .8M568.8 1112.4l2.4 .6M700.7 1206.8l2.3 3.5M521.8 1197.9l-2.6 3.8M585.1 1101.7l1.4 3.6M552.7 1138.8l3 1.6M552.2 1141.7l3.2 .2M717.3 1219.7l-3.7 1.9M570.9 1326.7l-2.2 3.1M661.7 1162.3l-1.7 3.6M661.4 1163l-.8 3.3M589.5 1325.3l2.9 3.4M542.3 1151.3l4.6 1.9"/>
<path fill="none" stroke="rgb(0,0,118)" stroke-width="8.8" stroke-linecap="round" d="M526.5 1151.3l-3.8 1.7M714.9 1322.1l-2.3 2.1M622.8 1317l-1.8 3.1M606 1293.4l1.1 3.1M668.8 1111l4.5 .4M645.5 1324.2l1.9 1.2M695.6 1179.8l-2 2.5M647 1260.4l-4.3 .7M620.3 1327.1l-2.8 .7M528.4 1163.6l-4-2.7M719.1 1097.8l-2.4 1.7M595 1103.1l.2 3.9M597.7 1154.5l-3 0M676.6 1226.1l4.7 .7M647.7 1274.2l-1.7 3.4M488.3 1158.6l4.5 1.3M644.4 1217.8l2.6 3.3M687.6 1241.5l-.9 4.2M683.2 1093.4l-0 4.2M660.9 1108.7l-4 2.6M629.6 1141.6l-2.3 2.2M667.1 1234.3l-3 1.3M592.1 1113.5l4.4 1.4M622.4 1230.7l3.7 1.7M602.9 1246.5l.7 4.8M651.5 1308.5l1.9-1.6M680 1177.5l2.2 2.6M488.6 1168.9l-3.6 1.6M512 1283.6l2.1 4.2M637 1327.3l2.1 .6"/>
<path fill="none" stroke="rgb(0,0,118)" stroke-width="10.0" stroke-linecap="round" d="M534.8 1105.3l-2.8 3.9M505.8 1233.2l.5 3.8M690.9 1204.6l4.1 2.1M616.4 1281.4l-4 0M567.9 1319.8l-4 .8M493.9 1240.5l1.7 3.5M631.3 1309.8l-.9 2.5M723.8 1135.9l-3.4 1.4M503 1245.9l.6 2.4M637.6 1195.7l.6 2.8M605 1094.9l-1.6 2.4M524.9 1160.9l-3 .3M509.2 1168.2l3.3 3.5M579.6 1177.5l.8 4.9M650.2 1175.3l-1.2 4.5M585.2 1264.8l.6 3.9M644.6 1216.1l1.4 2.6M708.8 1293.6l1.2 2.8M687.9 1217.7l-.1 3M651.5 1307l2.1 0M681.2 1179.3l2.9 1.6M488.2 1169.2l-1.1 2.2M488.3 1192.6l4.1 2M545.3 1185l-3.2 1.9"/>
<path fill="none" stroke="rgb(0,0,162)" stroke-width="7.5" stroke-linecap="round" d="M525.3 1323.3l-4.6 .9M585.7 1117.3l-3.6 .2M512.1 1194l-2.1 2.8M649.2 1118.8l-1.4 3.5M649.2 1120.3l1.5 4M506.7 1304.6l2.6 1.5M507.6 1302.3l.3 2.7M655.6 1268.8l-.9 2.2M652.5 1267.9l1.7 4.1M652.7 1287.8l-3.3 .3M651.9 1287.6l-2.5 1.2M582.1 1320.2l-.1 3.3M641.5 1149.1l.1 2.5M492.3 1177.6l1.9 3.9M608.1 1197.7l3.6 1.4M606.9 1197.9l2.1 4.3M698.7 1224.5l2.4 .2M571.3 1139.6l-1.8 3.5M575.4 1204.2l4.3 1.6M528.1 1297.6l1.2 1.9M545.1 1167.3l-3.4 2.3M594.5 1316.3l-.7 3.2M722.7 1200l2.5 4.1M544.9 1136.6l-.5 2.5M676.7 1214.4l4.1 1.8M702.9 1310.2l-4.1 2.1M702.3 1313.2l-2.2-.3M718.4 1107.1l.3 3.4M529.2 1093.8l2.2 4.2M711.4 1309.3l-3 3.8M612.6 1170.5l3.2 1.1M602.6 1280.1l1.7 3.8M723 1296.6l2.1 1.7M586.5 1159.4l-1.9 1.1M584.8 1157.6l-1 3.5M573.1 1285.5l4.3 .3M652.4 1100.6l.8 3M699.4 1256.6l2.6 .4M721.3 1122.7l-3.1 1.9M720.2 1126.1l-3.4-1.4M599.2 1326.6l2 .7M687.2 1318l-1.8 3.6M684.4 1319.2l-.4 2.9M491.6 1125l-3.8-1.9M673.1 1095.9l-3.9 3.1M690 1231.9l-2.8-.3M594.3 1146.2l-3 .4M546.8 1112.5l-1.2 2M706.9 1138.7l-2.7 1.8M616.5 1178.5l-.2 4.4M707.6 1238.1l2.1 3M726 1169.8l-3.2 2M665 1244.7l2.9 3.9M533.5 1327.2l4.4 .8M675.6 1183.9l-3.5 3.3M641.9 1229.9l2.6 3.9M615.3 1208.6l.7 3.7M628.5 1206.3l-.3 3.9M540.4 1201.5l-1 3.5M724.8 1323.3l-2.4 1.5M723.5 1323.9l-3.2-1.3M561.7 1103.4l-.3 2.2M531.7 1201.2l-3.4-1.7"/>
<path fill="none" stroke="rgb(0,0,162)" stroke-width="8.8" stroke-linecap="round" d="M540.5 1143.6l-4.5 1.2M537.8 1121.7l4.3 2.2M530.4 1212.6l-1.5 2.6M510.3 1203l-1.5 2.5M552 1254.6l1.6 1.8M554.3 1191.8l2.5 .1M707.5 1266.5l1.1 2M489.7 1180l4.3 1.8M526.1 1297.6l.6 5M530 1117.5l.1 3.2M615 1092.7l-2.4 .4M515 1250l1.8 1.5M723.8 1199.8l-1.6 3.9M517.3 1131.5l-3.4 .2M578 1172l-2-.8M577.1 1222.8l-.2 3.6M613.9 1233.8l-.4 2.4M486.3 1102.9l0 3.5M632.3 1155.2l2.8 1.7M658.8 1255l-2.5 .3M711.3 1309.1l-2.5 1.6M675.9 1246.9l2.7 3.9M501.6 1327.5l-1.2 2.4M586 1292.7l3.6 3.2M516.7 1121.9l4.7 .5M578.4 1299.3l-1.5 1.8M710.5 1156.8l-2 3.9M684.5 1268.4l.5 2.1M665 1314.1l1.9 2.1M493.2 1125.6l-4.5 .7M578.6 1090.1l-1 3.4M556.1 1261l-2.5 2.7M674.2 1098.5l-4 .3M528.8 1308l1.7 2.1M688.1 1228.8l-1.6 2M588.6 1092.6l-.3 2.7M640.3 1184.3l-2.2 .3M714.9 1300.8l.2 2.2M648.8 1129.3l-3.1 2.5M539.9 1200.5l-1.7 2.1M716.7 1258l-1.6 3.3M552.8 1299.5l-2.4 1.2M532.3 1291.9l2.2 .3M530.5 1202.5l-2.5 .7"/>
<path fill="none" stroke="rgb(0,0,162)" stroke-width="10.0" stroke-linecap="round" d="M536.9 1210.2l4.1 2.6M554.9 1289.4l2.5 2.2M549.7 1253.1l3.8 .6M521.9 1171.3l-1.8 3M533.2 1254.8l-2.7 1.6M490.1 1267.7l1.8 3.4M704.3 1125.1l1.5 4M514.9 1251.6l2.9 3.6M519.4 1132.6l-2.2 2M579.8 1168.4l-3.8 1M612.5 1234.2l2.3 3M566.4 1225.3l.3 2.6M590.7 1304.4l-3.7 1.5M488.9 1100.8l.2 2.1M646.6 1200.7l3.6 2.4M511.9 1150l-4.2 .6M637.2 1275.7l-2 2.9M530.2 1268.4l.2 4M537.6 1280.8l-1.5 3M497 1256l-3.5 2.9M497.2 1113.2l-4 .1M501.6 1325l.7 4.9M697.4 1112.7l-3.3 1.7M507.9 1223.1l-3.1 2.1M722.9 1182.4l-3.9 .9M584.8 1127.3l-.8 2.3M560.2 1279.1l2.9 2.5M503.7 1161l3.5 3.1M684.9 1270.2l-1.4 3.3M665 1312.7l2.5 2M680.7 1170.4l-2.5 1.1M554.5 1148l2.8 1M518.8 1235.3l.6 2.1M681 1301.1l4.5 .1"/>
<path fill="none" stroke="rgb(5,5,202)" stroke-width="7.5" stroke-linecap="round" d="M694.4 1275l-.1 3.2M694.1 1273.6l1.7 1.7M534.9 1192.7l-2.9 .3M689.7 1158l-2.1 0M630.6 1319.7l-.1 4M629.4 1321.3l-.4 2.9M593.3 1168.6l2.6 1.2M591.4 1168.8l2.9 .3M490.9 1090.5l-.8 2.5M554.8 1324.4l2.6 1.3M624.9 1170.9l1 2.6M695.4 1325.7l-3.2 1.5M671.4 1295.7l-2.4-.8M499.1 1168.7l.8 2.2M605.9 1148.1l-.6 3.5M692.7 1302.2l2.2 2.3M695.6 1303.5l-.6 3.2M702.2 1151.8l.3 3.3M669.8 1165.4l2.2 1.1M543.6 1098.6l-2.1 2.2M490.1 1279.4l2 3.6M679 1309.4l2.1 .9M680.5 1308.4l2.5 3.8M706.5 1180.6l.6 3.7M708.7 1181.8l-2.5 2.4M576.7 1309.5l3.5-.6M550.3 1100.8l-3.7 2M603.1 1305.4l2.7 3.8M624.3 1307.2l-4.1 2.5M680.8 1205.6l-1.6 1.4M621.9 1126.1l-.4 3.7M619.8 1127.3l.1 4M705.1 1117.5l1.8 1.2M704.8 1116.4l-.3 4M654.3 1279.5l2.8 1.2M545 1270.3l.8 3.1M661.6 1177.5l.2 3.1M661.7 1175.4l.5 4.1M523.7 1246.9l2 1.1M700.1 1295.8l.9 3.8M503.1 1190l-2.3 2.1M634.7 1111.2l2.4 1M539.6 1251.7l1.7 1.2M607.8 1228.3l-2.7 2.6M584.4 1235.1l3.2 3.6M536.7 1132.1l1.8 1.2M535.5 1132.1l1.8 3.3"/>
<path fill="none" stroke="rgb(5,5,202)" stroke-width="8.8" stroke-linecap="round" d="M608 1241.6l-3.7 .7M598.6 1263.3l-2.3 1.5M661.1 1094.3l.9 3.3M717 1253.8l-4.1-2.6M659.6 1154l2.5 1M567 1094l-.4 2.1M674.4 1296.7l-4.2 1.3M706.2 1275.7l-2.9 3.5M669.9 1176.3l3.1 .8M558.5 1169.2l-3.2 .5M519.7 1225l2.2 3.8M580.6 1246.8l3.3 .2M516.9 1211.5l-.9 2.6M677.8 1197.7l-.9 2M543.9 1097.8l-3.6 1.7M677.2 1131.3l1.3 3.1M709.3 1230l-2.3 1.2M540.4 1296.9l1.6 4.4M713.6 1143.9l2.7 .3M578.6 1308.4l2.9 1.8M550.5 1102l-1.2 3.9M643.9 1110.3l-1.9 4.2M492.8 1301.5l1.5 4.1M713.3 1207.8l-3.1 1.3M488.5 1137.4l.2 4.6M677.4 1121.5l2.4 1.9M555.8 1227.6l-2.1 4.5M509 1264.2l1.9 2.8M504.3 1211.6l1.5 3.5M551 1282.1l-.9 2.5M524.7 1244.6l2.1 2.9M633.1 1110.8l1.8 2.1M638.9 1119l2.6-1.1M602 1190.3l2.2 4.2M608.8 1324.1l1.1 1.9M682.5 1290.5l-2.3 1.6"/>
<path fill="none" stroke="rgb(5,5,202)" stroke-width="10.0" stroke-linecap="round" d="M607.9 1239.3l-4.4 1.5M709.2 1284.6l1.4 2.2M493.6 1148.2l-2.1 3.6M643.3 1140.8l4 .8M605.4 1316.9l-2.9 .6M707.9 1099.5l2.6 1.7M665.8 1092.2l-2.5 4M591.8 1278.5l3.6 3.2M718.8 1249.6l-2.7 .3M566.3 1093.3l-1.5 2.1M634.1 1127.9l3.1 2.9M705.3 1247.7l-1.4 2.3M689.5 1165.1l-3 3.4M676.2 1195.3l-3.3 3.4M649 1157l-3.5 3.2M678.2 1132.6l3.4 3.1M653.6 1165.2l-3.9 3.1M623.6 1095.6l-1.3 3.7M668.8 1215.2l.8 2.1M497.2 1209l-3.7 1.2M493.1 1228.5l4.2 .3M641.3 1166.8l2.1 1M657.1 1202.9l3.1 1.9M488.1 1139.4l-.2 2M673.7 1120.7l4.1 1.2M514.5 1098.8l4.1 1.5M504.7 1276l2.4 1.2M557.3 1231.3l-4 2.8M506.9 1263.9l2.4 3.4M701.2 1101l-3.3 1.4M711.9 1090.6l2.3 .9M636.2 1120.4l2.6 .5M682.9 1286.7l0 3.8M588.8 1256.1l-.2 2.7"/>
<path fill="none" stroke="rgb(14,14,238)" stroke-width="7.5" stroke-linecap="round" d="M719.7 1268.6l1.7 4.6M531.7 1229l1.2 2.7M505 1101.3l2.4 3.8M674 1237.4l3.6 2.4M575.3 1157.8l-1.9 2.5M519.1 1297l-2.7 2.7M715.4 1166.8l-.7 4.2M659.1 1145l-2 .2M660.5 1146.2l-2 1.7M584.9 1282.6l-.2 2.4M525.1 1184l2.4 4.2M491.9 1292.1l1.2 4.3M692.2 1122.2l3.7 1.6M545.7 1320.2l-1.6 4.2M540.2 1263.6l-2.8 3.2M659.2 1134.7l-.8 2.6M659 1132.4l-1.7 2.9M718.3 1235.8l-.4 2.9M662.6 1328.5l-4.5-1.2M671 1145.5l1.4 4M638.2 1173.9l-.6 2.9M642.1 1299.1l1 2.9M642 1298.3l2.1 3.7M489.4 1320.9l-3.8 2.6M599.6 1291.5l-3.8 .2M723.6 1283.5l-3.4 2.9M558.1 1249.3l3.3 1.5M561.1 1246.9l1.7 3.2M700.3 1169.5l2.4 1.7M701.9 1168.8l3 .6M563.1 1196l-.4 3.4M567.4 1128.8l2.4 2.7M572.9 1306.9l-2 1.4M508.7 1089.2l-2.3 3.2M511.1 1088.7l-4.3 2.4M699.6 1089.8l-2.6 2.3M486.2 1236.1l1.4 2.1M484.7 1233.9l-0 4M531.5 1168.9l.6 4.3M518.5 1090.9l3.6 1.1M555.7 1095.3l2.3 1.9M556.3 1094.4l2.3 4.4"/>
<path fill="none" stroke="rgb(14,14,238)" stroke-width="8.8" stroke-linecap="round" d="M548.2 1309.7l.9 2M496.5 1132.3l-2.7 3.8M495.4 1219.5l-3.8 .1M690.2 1250.6l3.1 2.5M508.2 1101.1l-.4 3.5M575.2 1157.9l-1.3 4.7M561.5 1270l2.2 .2M570.6 1121.4l.4 4.1M606.8 1160.7l-3.4 2.3M664.6 1276.6l4.6 1.6M502.2 1182l-2.3 2.4M719.5 1232.6l-.9 4.7M660.7 1326.4l-1.5 1.4M705.1 1325.8l-2.3 .4M609.8 1127.3l4.9 .4M552.8 1180.7l-.6 4M675.6 1286.4l-3.5 2.5M637.4 1174.4l-1.9 1.4M690.9 1146.5l-4.3 1.9M508 1125.7l-4.4 2.1M598.3 1292.6l-2.9 2.8M516.3 1308.8l-2.2 4.1M724.2 1283l-2.6 2.3M616.7 1142l-2.7 .7M566.3 1132.1l3.8 .2M683.6 1110.7l2.5 .8M570.8 1307.9l-.9 2.8M661.5 1291.7l3.4-.2M701.4 1091.4l-1.9 2M564.6 1302.5l1 2.7M524.3 1278.5l-1.4 1.5"/>
<path fill="none" stroke="rgb(14,14,238)" stroke-width="10.0" stroke-linecap="round" d="M677.8 1155.4l-3.4 1.2M493.1 1311.3l1.2 2.1M695 1135.9l0 3.4M564.6 1269.3l1.8 2.4M567.6 1121.2l1.7 1.3M636.1 1093.1l-4.4 2.4M504.8 1179.7l-3.1 3M661.9 1303.6l4.1 2.7M516.7 1272.9l-2 3.7M675.4 1287.9l-3 .9M502.6 1285.4l1.9 3.7M682.3 1110.3l2.9 3.6M663 1292.1l3.2 .1M562 1303.3l1.5 2M502.5 1152.6l-3.4 1.8"/>
<path fill="none" stroke="#f2e400" stroke-width="1.9" stroke-dasharray="30 4" d="M542.3 1264.1a4.9 4.4 7 1 0 -9.6 -1.2a4.9 4.4 7 1 0 9.6 1.2M580.6 1186.6a6.1 4.9 145 1 0 10.0 -6.9a6.1 4.9 145 1 0 -10.0 6.9"/>
<path fill="none" stroke="#fff200" stroke-width="2.2" stroke-linecap="round" d="M713.3 1217.2l1.3 0M519.8 1279.5l.2 1M649.6 1144.3l.8 .8M535.1 1311.2l-2.7 1.5M589.6 1303l2.7 .3M635.7 1288.4l2.6 2.1M558.6 1175.1l-1.5 1.6M624.6 1269.2l-1 .5"/>
<path fill="none" stroke="#c8b400" stroke-width="1.3" stroke-linecap="round" d="M666.4 1302.4l.4 0M551 1247.7l.4 0M679.3 1119l.4 0M566.3 1152l.4 0M717.1 1129.5l.4 0M576.8 1195.8l.4 0M515.7 1263.8l.4 0M643.2 1190.1l.4 0M608.5 1135l.4 0M596.1 1120.9l.4 0M513.2 1159.4l.4 0M670.4 1147.5l.4 0M706.3 1242.2l.4 0M556.1 1109.3l.4 0M536.6 1299.7l.4 0M627.5 1322.7l.4 0M690.5 1255.2l.4 0M651.8 1261.5l.4 0M570.7 1220l.4 0M664.8 1107.6l.4 0M508.6 1111.7l.4 0M495.8 1139.6l.4 0M606.5 1110.2l.4 0M608.6 1307.9l.4 0M674.7 1118.4l.4 0M518.1 1219.3l.4 0M705.5 1231l.4 0M564.3 1153.7l.4 0M499.9 1170.2l.4 0M579.5 1240.5l.4 0M617.4 1319l.4 0M698.2 1248.5l.4 0M535.1 1164.9l.4 0M692 1228.9l.4 0M608.7 1095.9l.4 0M506.3 1184.6l.4 0M557.3 1319l.4 0M561.6 1239l.4 0M533.4 1116.4l.4 0M499.6 1313l.4 0M515.8 1292.9l.4 0M545.6 1096.9l.4 0M565.7 1222l.4 0M491.5 1264.2l.4 0M612.4 1200.3l.4 0M633.5 1104.1l.4 0M545.2 1266.3l.4 0M599.3 1209.9l.4 0M639.3 1306.7l.4 0M516.3 1294l.4 0M554.3 1236.2l.4 0M686.9 1207.6l.4 0M651.5 1206.1l.4 0M678.5 1195.6l.4 0M630.6 1238.2l.4 0M533.9 1195l.4 0M653.4 1159.8l.4 0M612.1 1220.7l.4 0M611.2 1271.8l.4 0M586.2 1308.1l.4 0M608 1290l.4 0M606.7 1123.4l.4 0M678.4 1165.5l.4 0M642.7 1252.5l.4 0M695.9 1230l.4 0M685.4 1241.9l.4 0M614.4 1272.5l.4 0M563 1124l.4 0M510.9 1305.6l.4 0M614.9 1247.6l.4 0M655.5 1273.8l.4 0M621.9 1244.9l.4 0M695.7 1226.5l.4 0M693.8 1119.2l.4 0M691.4 1311.4l.4 0M543.1 1149.3l.4 0M549.9 1095.9l.4 0M572.1 1212.5l.4 0M500.4 1305l.4 0M639.1 1119.6l.4 0"/>
</g></g>
<rect x="666.0" y="1297.5" width="22.8" height="3.2" fill="#fff"/>
<text x="116.2" y="1351.0" font-size="23.50">W/O</text>
<text x="354.8" y="1351.0" font-size="23.23" font-style="italic">Ctrl</text>
<text x="582.7" y="1351.0"><tspan font-size="23.45" font-style="italic">Id1</tspan><tspan font-size="18.29" font-style="italic" dy="-10.55">OE</tspan></text>
<line x1="354.8" y1="1358.5" x2="624.3" y2="1358.5" stroke="#000" stroke-width="3"/>
<text x="423.5" y="1382.0" font-size="23.66">M1-like RAW</text>
<text x="428.0" y="1410.5" font-size="23.50">-derived CM</text>
<path d="M818.2 1043.8 V1324.4" stroke="#000" stroke-width="3" fill="none"/>
<line x1="806.6" y1="1324.4" x2="1003.0" y2="1324.4" stroke="#000" stroke-width="3"/>
<line x1="806.6" y1="1045.3" x2="818.2" y2="1045.3" stroke="#000" stroke-width="3"/>
<text x="780.8" y="1053.5" font-size="20.67">40</text>
<line x1="806.6" y1="1115.1" x2="818.2" y2="1115.1" stroke="#000" stroke-width="3"/>
<text x="780.8" y="1123.2" font-size="20.67">30</text>
<line x1="806.6" y1="1184.8" x2="818.2" y2="1184.8" stroke="#000" stroke-width="3"/>
<text x="780.8" y="1193.0" font-size="20.67">20</text>
<line x1="806.6" y1="1254.6" x2="818.2" y2="1254.6" stroke="#000" stroke-width="3"/>
<text x="780.8" y="1262.8" font-size="20.67">10</text>
<line x1="806.6" y1="1324.4" x2="818.2" y2="1324.4" stroke="#000" stroke-width="3"/>
<text x="792.2" y="1332.6" font-size="20.67">0</text>
<line x1="854.3" y1="1324.4" x2="854.3" y2="1335.4" stroke="#000" stroke-width="3"/>
<line x1="910.0" y1="1324.4" x2="910.0" y2="1335.4" stroke="#000" stroke-width="3"/>
<line x1="966.0" y1="1324.4" x2="966.0" y2="1335.4" stroke="#000" stroke-width="3"/>
<path d="M837.0 1324.4 V1258.0 H873.6 V1324.4" stroke="#ff2a00" stroke-width="3" fill="none"/>
<path d="M892.7 1324.4 V1122.8 H929.4 V1324.4" stroke="#0f8c8c" stroke-width="3" fill="none"/>
<path d="M948.2 1324.4 V1299.5 H985.1 V1324.4" stroke="#8f8f00" stroke-width="3" fill="none"/>
<line x1="854.3" y1="1258.0" x2="854.3" y2="1248.4" stroke="#ff2a00" stroke-width="3"/>
<line x1="843.5" y1="1248.4" x2="865.1" y2="1248.4" stroke="#ff2a00" stroke-width="3"/>
<line x1="854.3" y1="1258.0" x2="854.3" y2="1267.6" stroke="#ff2a00" stroke-width="3"/>
<line x1="843.5" y1="1267.6" x2="865.1" y2="1267.6" stroke="#ff2a00" stroke-width="3"/>
<line x1="910.0" y1="1122.8" x2="910.0" y2="1112.1" stroke="#0f8c8c" stroke-width="3"/>
<line x1="899.9" y1="1112.1" x2="920.1" y2="1112.1" stroke="#0f8c8c" stroke-width="3"/>
<line x1="910.0" y1="1122.8" x2="910.0" y2="1133.5" stroke="#0f8c8c" stroke-width="3"/>
<line x1="899.9" y1="1133.5" x2="920.1" y2="1133.5" stroke="#0f8c8c" stroke-width="3"/>
<line x1="966.0" y1="1299.5" x2="966.0" y2="1293.8" stroke="#8f8f00" stroke-width="3"/>
<line x1="955.6" y1="1293.8" x2="976.4" y2="1293.8" stroke="#8f8f00" stroke-width="3"/>
<line x1="966.0" y1="1299.5" x2="966.0" y2="1305.2" stroke="#8f8f00" stroke-width="3"/>
<line x1="955.6" y1="1305.2" x2="976.4" y2="1305.2" stroke="#8f8f00" stroke-width="3"/>
<circle cx="855.2" cy="1241.2" r="5.8" fill="#fff" stroke="#ff2a00" stroke-width="2.8"/>
<circle cx="842.1" cy="1267.2" r="5.8" fill="#fff" stroke="#ff2a00" stroke-width="2.8"/>
<circle cx="868.2" cy="1262.9" r="5.8" fill="#fff" stroke="#ff2a00" stroke-width="2.8"/>
<circle cx="910.6" cy="1102.0" r="5.8" fill="#fff" stroke="#0f8c8c" stroke-width="2.8"/>
<circle cx="898.5" cy="1135.8" r="5.8" fill="#fff" stroke="#0f8c8c" stroke-width="2.8"/>
<circle cx="923.6" cy="1129.4" r="5.8" fill="#fff" stroke="#0f8c8c" stroke-width="2.8"/>
<circle cx="966.0" cy="1288.8" r="5.8" fill="#fff" stroke="#8f8f00" stroke-width="2.8"/>
<circle cx="953.9" cy="1304.7" r="5.8" fill="#fff" stroke="#8f8f00" stroke-width="2.8"/>
<circle cx="978.5" cy="1304.7" r="5.8" fill="#fff" stroke="#8f8f00" stroke-width="2.8"/>
<text x="827.4" y="1083.8"><tspan font-size="22.72" font-style="italic">P</tspan><tspan font-size="22.72"> &lt; 0.0001</tspan></text>
<line x1="859.5" y1="1090.4" x2="902.8" y2="1090.4" stroke="#000" stroke-width="3"/>
<text x="881.7" y="1046.2"><tspan font-size="22.87" font-style="italic">P</tspan><tspan font-size="22.87"> &lt; 0.0001</tspan></text>
<line x1="916.4" y1="1049.7" x2="960.6" y2="1049.7" stroke="#000" stroke-width="3"/>
<text x="828.3" y="1358.2" font-size="22.65">W/O</text>
<text x="893.3" y="1358.2" font-size="23.23" font-style="italic">Ctrl</text>
<text x="949.6" y="1358.2"><tspan font-size="21.91" font-style="italic">Id1</tspan><tspan font-size="17.09" font-style="italic" dy="-9.86">OE</tspan></text>
<line x1="908.6" y1="1369.7" x2="977.0" y2="1369.7" stroke="#000" stroke-width="3"/>
<text x="877.4" y="1392.8" font-size="23.72">M1-like RAW</text>
<text x="880.0" y="1421.0" font-size="23.50">-derived CM</text>
<text transform="translate(746.0,1201.5) rotate(-90)" x="-60.0" y="0"><tspan font-size="22.01">CD8</tspan><tspan font-size="12.11" dy="-9.91">+</tspan><tspan font-size="22.01" dy="9.91"> T cells</tspan></text>
<text transform="translate(774.8,1201.5) rotate(-90)" x="-119.0" y="0"><tspan font-size="23.79">(% in all cells per field)</tspan></text>
<text x="1051.3" y="1056.1" font-size="54.76" font-weight="bold">j</text>
<text x="1061.6" y="1203.0" font-size="23.72">CT26 s.c. model</text>
<text x="1272.0" y="1204.7"><tspan font-size="25.13">100 </tspan><tspan font-size="25.13">μ</tspan><tspan font-size="25.13">g/3 days</tspan></text>
<g>
<path d="M1172 1274 C1190 1277 1215 1274 1232 1276 C1244 1278 1250 1286 1247 1294" stroke="#e0a19b" stroke-width="3.6" fill="none" stroke-linecap="round"/>
<path d="M1102 1279 C1098 1284 1093 1287 1087 1288 L1089 1291 C1096 1291 1103 1289 1108 1284 Z" fill="#e3a7a1"/>
<path d="M1148 1283 C1145 1287 1143 1290 1141 1291 L1150 1293 C1156 1292 1162 1290 1166 1286 Z" fill="#e3a7a1"/>
<path d="M1071.6 1259 C1075 1252 1084 1247 1093 1246.5 C1105 1246 1112 1248 1123 1248 C1135 1247.5 1146 1248 1154 1251 C1164 1255 1172 1262 1175.5 1271 C1176 1280 1168 1285 1155 1285 C1142 1286.5 1128 1286.5 1117 1286 C1109 1285 1103 1281 1099 1277 C1091 1274 1083 1270 1077 1265 C1073 1263 1071 1261 1071.6 1259 Z" fill="#e9e5e2" stroke="#d6cec7" stroke-width="0.8"/>
<path d="M1118 1285.5 C1132 1281 1150 1282 1162 1276 C1168 1272 1172 1266 1174 1264 C1176.5 1272 1175 1281 1163 1284.5 C1150 1287 1132 1287 1118 1285.5 Z" fill="#d3cbc3"/>
<ellipse cx="1100" cy="1244.5" rx="4.3" ry="3.6" fill="#dcd5cf"/>
<ellipse cx="1105.2" cy="1253.3" rx="4.8" ry="6" fill="#e6aaa7" stroke="#d8c8c2" stroke-width="0.6"/>
<circle cx="1087.1" cy="1256.5" r="1.9" fill="#a5151d"/>
<circle cx="1072.3" cy="1259.5" r="1.2" fill="#e8b0ae"/>
<path d="M1073 1256 l-6 -6 M1073 1258 l-7 -3 M1074 1261 l-6 3" stroke="#cfc6c0" stroke-width="0.5"/>
<path d="M1133 1255 C1138 1251 1146 1252 1150 1256 C1153 1261 1152 1268 1148 1271 C1142 1274 1134 1273 1131 1268 C1129 1263 1130 1258 1133 1255 Z" fill="#8fc6ec"/>
<circle cx="1135" cy="1258" r="1.8" fill="#5da5dc" opacity="0.8"/>
<circle cx="1141" cy="1260" r="1.8" fill="#5da5dc" opacity="0.8"/>
<circle cx="1147" cy="1262" r="1.8" fill="#5da5dc" opacity="0.8"/>
<circle cx="1137" cy="1266" r="1.8" fill="#5da5dc" opacity="0.8"/>
<circle cx="1144" cy="1268" r="1.8" fill="#5da5dc" opacity="0.8"/>
<circle cx="1149" cy="1267" r="1.8" fill="#5da5dc" opacity="0.8"/>
<circle cx="1133" cy="1263" r="1.8" fill="#5da5dc" opacity="0.8"/>
<circle cx="1138.5" cy="1256.5" r="1.5" fill="#f6b27e"/>
<circle cx="1144.5" cy="1256" r="1.5" fill="#f6b27e"/>
<circle cx="1133.5" cy="1266" r="1.5" fill="#f6b27e"/>
<circle cx="1140" cy="1266.5" r="1.5" fill="#f6b27e"/>
<circle cx="1145" cy="1265.5" r="1.5" fill="#f6b27e"/>
<line x1="1146" y1="1252.3" x2="1160" y2="1244.4" stroke="#6e747a" stroke-width="0.9"/>
<g transform="rotate(-33.5 1160 1244.4)">
<rect x="1159" y="1240.6" width="5.5" height="7.6" fill="#8a9299"/>
<rect x="1164.5" y="1240.8" width="32" height="7.2" fill="#e3e8ec" stroke="#a9b2b9" stroke-width="0.9"/>
<rect x="1165" y="1242" width="4" height="4.8" fill="#8fd0f0"/>
<rect x="1196.5" y="1238.5" width="1.6" height="11.8" fill="#c3cad0"/>
<rect x="1198" y="1242.9" width="10" height="3" fill="#c8d0d6"/>
<rect x="1207.5" y="1238.8" width="2" height="11.2" fill="#b9c1c8"/>
</g>
</g>
<line x1="1218.0" y1="1263.0" x2="1245.0" y2="1263.0" stroke="#000" stroke-width="2.5"/>
<path d="M1238 1255 L1256 1263 L1238 1271 L1242 1263 Z" fill="#000"/>
<text x="1098.0" y="1331.5" font-size="23.84">BALB/c</text>
<text x="1267.0" y="1242.5"><tspan font-size="23.30" font-style="italic">Id1</tspan><tspan font-size="17.48" font-style="italic" dy="-10.49">f/f</tspan><tspan font-size="23.30" dy="10.49"> CM</tspan></text>
<text x="1267.0" y="1272.2"><tspan font-size="23.30" font-style="italic">Id1</tspan><tspan font-size="17.48" font-style="italic" dy="-10.49">Lyz-KO</tspan><tspan font-size="23.30" dy="10.49"> CM</tspan></text>
<text x="1267.0" y="1302.5"><tspan font-size="23.30" font-style="italic">Id1</tspan><tspan font-size="17.48" font-style="italic" dy="-10.49">f/f</tspan><tspan font-size="23.30" dy="10.49"> CM</tspan></text>
<text x="1267.0" y="1337.3"><tspan font-size="23.30" font-style="italic">Id1</tspan><tspan font-size="17.48" font-style="italic" dy="-10.49">Lyz-KO</tspan><tspan font-size="23.30" dy="10.49"> CM</tspan></text>
<path d="M1412 1228 H1423 V1270 H1412" stroke="#000" stroke-width="2.6" fill="none"/>
<path d="M1412 1292 H1423 V1334 H1412" stroke="#000" stroke-width="2.6" fill="none"/>
<text x="1427.9" y="1255.9" font-size="23.50">Isotype</text>
<text x="1425.8" y="1321.4" font-size="23.50">CD8β-Ab</text>
<text x="1543.3" y="1046.0" font-size="50.76" font-weight="bold">k</text>
<text x="1564.3" y="1065.6" font-size="23.28">TAMs-derived</text>
<text x="1616.9" y="1094.5" font-size="22.44">CM</text>
<line x1="1717.2" y1="1022.3" x2="1717.2" y2="1113.4" stroke="#000" stroke-width="2.6"/>
<line x1="1723.5" y1="1022.3" x2="1744.0" y2="1022.3" stroke="#ff2a00" stroke-width="3.2"/>
<circle cx="1733.7" cy="1022.3" r="5.2" fill="#ff2a00"/>
<text x="1752.5" y="1027.6"><tspan font-size="24.50" font-style="italic">Id1</tspan><tspan font-size="18.87" font-style="italic" dy="-11.03">f/f</tspan></text>
<line x1="1723.5" y1="1051.2" x2="1744.0" y2="1051.2" stroke="#0f8c8c" stroke-width="3.2"/>
<circle cx="1733.7" cy="1051.2" r="5.2" fill="#0f8c8c"/>
<text x="1752.5" y="1056.5"><tspan font-size="24.50" font-style="italic">Id1</tspan><tspan font-size="18.87" font-style="italic" dy="-11.03">Lyz-KO</tspan></text>
<line x1="1723.5" y1="1078.8" x2="1744.0" y2="1078.8" stroke="#8f8f00" stroke-width="3.2"/>
<circle cx="1733.7" cy="1078.8" r="5.2" fill="#8f8f00"/>
<text x="1752.5" y="1085.3"><tspan font-size="24.50" font-style="italic">Id1</tspan><tspan font-size="18.87" font-style="italic" dy="-11.03">f/f</tspan></text>
<line x1="1723.5" y1="1107.7" x2="1744.0" y2="1107.7" stroke="#cc77f5" stroke-width="3.2"/>
<circle cx="1733.7" cy="1107.7" r="5.2" fill="#cc77f5"/>
<text x="1752.5" y="1114.2"><tspan font-size="24.50" font-style="italic">Id1</tspan><tspan font-size="18.87" font-style="italic" dy="-11.03">Lyz-KO</tspan></text>
<path d="M1848 1014.4 H1858.5 V1045.2 H1848" stroke="#000" stroke-width="2.6" fill="none"/>
<path d="M1855.8 1077 H1865 V1106.4 H1855.8" stroke="#000" stroke-width="2.6" fill="none"/>
<text x="1866.3" y="1025.0" font-size="23.16">Isotype</text>
<text x="1866.3" y="1049.9"><tspan font-size="22.95" font-style="italic">P</tspan><tspan font-size="22.95"> &lt; 0.0001</tspan></text>
<text x="1874.2" y="1085.3" font-size="23.41">CD8β-Ab</text>
<text x="1874.2" y="1110.3"><tspan font-size="22.66" font-style="italic">P</tspan><tspan font-size="22.66"> &lt; 0.0001</tspan></text>
<path d="M1666.0 1112.7 V1323.5" stroke="#000" stroke-width="3" fill="none"/>
<line x1="1657.6" y1="1323.5" x2="1981.0" y2="1323.5" stroke="#000" stroke-width="3"/>
<line x1="1657.6" y1="1114.2" x2="1666.0" y2="1114.2" stroke="#000" stroke-width="3"/>
<text x="1597.0" y="1123.4" font-size="23.64">2500</text>
<line x1="1657.6" y1="1156.1" x2="1666.0" y2="1156.1" stroke="#000" stroke-width="3"/>
<text x="1597.0" y="1165.2" font-size="23.64">2000</text>
<line x1="1657.6" y1="1197.9" x2="1666.0" y2="1197.9" stroke="#000" stroke-width="3"/>
<text x="1597.0" y="1207.1" font-size="23.64">1500</text>
<line x1="1657.6" y1="1239.8" x2="1666.0" y2="1239.8" stroke="#000" stroke-width="3"/>
<text x="1597.0" y="1249.0" font-size="23.64">1000</text>
<line x1="1657.6" y1="1281.6" x2="1666.0" y2="1281.6" stroke="#000" stroke-width="3"/>
<text x="1610.1" y="1290.8" font-size="23.64">500</text>
<line x1="1657.6" y1="1323.5" x2="1666.0" y2="1323.5" stroke="#000" stroke-width="3"/>
<text x="1636.5" y="1332.7" font-size="23.64">0</text>
<line x1="1718.5" y1="1323.5" x2="1718.5" y2="1332.5" stroke="#000" stroke-width="3"/>
<line x1="1771.0" y1="1323.5" x2="1771.0" y2="1332.5" stroke="#000" stroke-width="3"/>
<line x1="1823.5" y1="1323.5" x2="1823.5" y2="1332.5" stroke="#000" stroke-width="3"/>
<line x1="1876.0" y1="1323.5" x2="1876.0" y2="1332.5" stroke="#000" stroke-width="3"/>
<line x1="1928.5" y1="1323.5" x2="1928.5" y2="1332.5" stroke="#000" stroke-width="3"/>
<line x1="1981.0" y1="1323.5" x2="1981.0" y2="1332.5" stroke="#000" stroke-width="3"/>
<line x1="1666.0" y1="1323.5" x2="1666.0" y2="1333.0" stroke="#000" stroke-width="3"/>
<text x="1659.8" y="1361.0" font-size="22.30">5</text>
<text x="1706.1" y="1361.0" font-size="22.30">14</text>
<text x="1758.6" y="1361.0" font-size="22.30">17</text>
<text x="1811.1" y="1361.0" font-size="22.30">20</text>
<text x="1863.6" y="1361.0" font-size="22.30">23</text>
<text x="1916.1" y="1361.0" font-size="22.30">26</text>
<text x="1968.6" y="1361.0" font-size="22.30">29</text>
<text x="1720.6" y="1379.0" font-size="23.70">Days after inoculation</text>
<text transform="translate(1590.5,1223.0) rotate(-90)" x="-115.5" y="0"><tspan font-size="24.01">Tumor volume  (mm</tspan><tspan font-size="16.33" dy="-10.08">3</tspan><tspan font-size="24.01" dy="10.08">)</tspan></text>
<line x1="1981.0" y1="1139.0" x2="1981.0" y2="1156.0" stroke="#8f8f00" stroke-width="2.5"/>
<line x1="1973.0" y1="1139.0" x2="1989.0" y2="1139.0" stroke="#8f8f00" stroke-width="2.5"/>
<line x1="1973.0" y1="1156.0" x2="1989.0" y2="1156.0" stroke="#8f8f00" stroke-width="2.5"/>
<path d="M1666.0 1308.6 L1718.5 1289.7 L1771.0 1254.7 L1823.5 1228.5 L1876.0 1185.1 L1928.5 1169.9 L1981.0 1147.8" stroke="#8f8f00" stroke-width="2.6" fill="none"/>
<path d="M1666.0 1312.5 L1718.5 1297.5 L1771.0 1287.5 L1823.5 1267.9 L1876.0 1241.0 L1928.5 1215.3 L1981.0 1198.3" stroke="#ff2a00" stroke-width="2.6" fill="none"/>
<path d="M1666.0 1312.5 L1718.5 1300.7 L1771.0 1292.8 L1823.5 1277.0 L1876.0 1252.1 L1928.5 1232.4 L1981.0 1213.5" stroke="#cc77f5" stroke-width="2.6" fill="none"/>
<path d="M1666.0 1314.3 L1718.5 1307.8 L1771.0 1299.9 L1823.5 1297.3 L1876.0 1296.0 L1928.5 1291.0 L1981.0 1285.7" stroke="#0f8c8c" stroke-width="2.6" fill="none"/>
<circle cx="1666.0" cy="1308.6" r="5.2" fill="#8f8f00"/>
<circle cx="1718.5" cy="1289.7" r="5.2" fill="#8f8f00"/>
<circle cx="1771.0" cy="1254.7" r="5.2" fill="#8f8f00"/>
<circle cx="1823.5" cy="1228.5" r="5.2" fill="#8f8f00"/>
<circle cx="1876.0" cy="1185.1" r="5.2" fill="#8f8f00"/>
<circle cx="1928.5" cy="1169.9" r="5.2" fill="#8f8f00"/>
<circle cx="1981.0" cy="1147.8" r="5.2" fill="#8f8f00"/>
<circle cx="1666.0" cy="1312.5" r="5.2" fill="#ff2a00"/>
<circle cx="1718.5" cy="1297.5" r="5.2" fill="#ff2a00"/>
<circle cx="1771.0" cy="1287.5" r="5.2" fill="#ff2a00"/>
<circle cx="1823.5" cy="1267.9" r="5.2" fill="#ff2a00"/>
<circle cx="1876.0" cy="1241.0" r="5.2" fill="#ff2a00"/>
<circle cx="1928.5" cy="1215.3" r="5.2" fill="#ff2a00"/>
<circle cx="1981.0" cy="1198.3" r="5.2" fill="#ff2a00"/>
<circle cx="1666.0" cy="1312.5" r="5.2" fill="#cc77f5"/>
<circle cx="1718.5" cy="1300.7" r="5.2" fill="#cc77f5"/>
<circle cx="1771.0" cy="1292.8" r="5.2" fill="#cc77f5"/>
<circle cx="1823.5" cy="1277.0" r="5.2" fill="#cc77f5"/>
<circle cx="1876.0" cy="1252.1" r="5.2" fill="#cc77f5"/>
<circle cx="1928.5" cy="1232.4" r="5.2" fill="#cc77f5"/>
<circle cx="1981.0" cy="1213.5" r="5.2" fill="#cc77f5"/>
<circle cx="1666.0" cy="1314.3" r="5.2" fill="#0f8c8c"/>
<circle cx="1718.5" cy="1307.8" r="5.2" fill="#0f8c8c"/>
<circle cx="1771.0" cy="1299.9" r="5.2" fill="#0f8c8c"/>
<circle cx="1823.5" cy="1297.3" r="5.2" fill="#0f8c8c"/>
<circle cx="1876.0" cy="1296.0" r="5.2" fill="#0f8c8c"/>
<circle cx="1928.5" cy="1291.0" r="5.2" fill="#0f8c8c"/>
<circle cx="1981.0" cy="1285.7" r="5.2" fill="#0f8c8c"/>
<text x="4.0" y="1548.9" font-size="56.41" font-weight="bold">l</text>
<path d="M129.0 1639.9 V1925.6" stroke="#000" stroke-width="3" fill="none"/>
<line x1="118.0" y1="1925.6" x2="413.2" y2="1925.6" stroke="#000" stroke-width="3"/>
<line x1="118.0" y1="1641.4" x2="129.0" y2="1641.4" stroke="#000" stroke-width="3"/>
<text x="101.2" y="1650.4" font-size="23.00">3</text>
<line x1="118.0" y1="1736.1" x2="129.0" y2="1736.1" stroke="#000" stroke-width="3"/>
<text x="101.2" y="1745.1" font-size="23.00">2</text>
<line x1="118.0" y1="1830.9" x2="129.0" y2="1830.9" stroke="#000" stroke-width="3"/>
<text x="101.2" y="1839.8" font-size="23.00">1</text>
<line x1="118.0" y1="1925.6" x2="129.0" y2="1925.6" stroke="#000" stroke-width="3"/>
<text x="101.2" y="1934.6" font-size="23.00">0</text>
<line x1="173.0" y1="1925.6" x2="173.0" y2="1936.6" stroke="#000" stroke-width="3"/>
<line x1="238.3" y1="1925.6" x2="238.3" y2="1936.6" stroke="#000" stroke-width="3"/>
<line x1="304.2" y1="1925.6" x2="304.2" y2="1936.6" stroke="#000" stroke-width="3"/>
<line x1="370.1" y1="1925.6" x2="370.1" y2="1936.6" stroke="#000" stroke-width="3"/>
<path d="M151.8 1925.6 V1787.5 H195.0 V1925.6" stroke="#ff2a00" stroke-width="3" fill="none"/>
<path d="M218.3 1925.6 V1894.8 H260.3 V1925.6" stroke="#0f8c8c" stroke-width="3" fill="none"/>
<path d="M283.6 1925.6 V1729.3 H326.2 V1925.6" stroke="#8f8f00" stroke-width="3" fill="none"/>
<path d="M348.7 1925.6 V1800.7 H391.3 V1925.6" stroke="#cc77f5" stroke-width="3" fill="none"/>
<line x1="173.0" y1="1787.5" x2="173.0" y2="1782.0" stroke="#ff2a00" stroke-width="3"/>
<line x1="161.0" y1="1782.0" x2="185.0" y2="1782.0" stroke="#ff2a00" stroke-width="3"/>
<line x1="173.0" y1="1787.5" x2="173.0" y2="1793.0" stroke="#ff2a00" stroke-width="3"/>
<line x1="161.0" y1="1793.0" x2="185.0" y2="1793.0" stroke="#ff2a00" stroke-width="3"/>
<line x1="304.2" y1="1729.3" x2="304.2" y2="1719.7" stroke="#8f8f00" stroke-width="3"/>
<line x1="292.7" y1="1719.7" x2="315.7" y2="1719.7" stroke="#8f8f00" stroke-width="3"/>
<line x1="304.2" y1="1729.3" x2="304.2" y2="1739.0" stroke="#8f8f00" stroke-width="3"/>
<line x1="292.7" y1="1739.0" x2="315.7" y2="1739.0" stroke="#8f8f00" stroke-width="3"/>
<line x1="238.3" y1="1894.8" x2="238.3" y2="1891.5" stroke="#0f8c8c" stroke-width="3"/>
<line x1="227.3" y1="1891.5" x2="249.3" y2="1891.5" stroke="#0f8c8c" stroke-width="3"/>
<line x1="238.3" y1="1894.8" x2="238.3" y2="1898.0" stroke="#0f8c8c" stroke-width="3"/>
<line x1="227.3" y1="1898.0" x2="249.3" y2="1898.0" stroke="#0f8c8c" stroke-width="3"/>
<line x1="370.1" y1="1800.7" x2="370.1" y2="1798.0" stroke="#cc77f5" stroke-width="3"/>
<line x1="359.1" y1="1798.0" x2="381.1" y2="1798.0" stroke="#cc77f5" stroke-width="3"/>
<line x1="370.1" y1="1800.7" x2="370.1" y2="1803.0" stroke="#cc77f5" stroke-width="3"/>
<line x1="359.1" y1="1803.0" x2="381.1" y2="1803.0" stroke="#cc77f5" stroke-width="3"/>
<circle cx="157.0" cy="1777.9" r="5.8" fill="#fff" stroke="#ff2a00" stroke-width="2.8"/>
<circle cx="164.2" cy="1785.6" r="5.8" fill="#fff" stroke="#ff2a00" stroke-width="2.8"/>
<circle cx="172.4" cy="1786.9" r="5.8" fill="#fff" stroke="#ff2a00" stroke-width="2.8"/>
<circle cx="181.2" cy="1782.3" r="5.8" fill="#fff" stroke="#ff2a00" stroke-width="2.8"/>
<circle cx="190.0" cy="1774.0" r="5.8" fill="#fff" stroke="#ff2a00" stroke-width="2.8"/>
<circle cx="157.0" cy="1803.4" r="5.8" fill="#fff" stroke="#ff2a00" stroke-width="2.8"/>
<circle cx="189.5" cy="1803.4" r="5.8" fill="#fff" stroke="#ff2a00" stroke-width="2.8"/>
<circle cx="223.8" cy="1889.9" r="5.8" fill="#fff" stroke="#0f8c8c" stroke-width="2.8"/>
<circle cx="232.0" cy="1897.6" r="5.8" fill="#fff" stroke="#0f8c8c" stroke-width="2.8"/>
<circle cx="238.9" cy="1898.1" r="5.8" fill="#fff" stroke="#0f8c8c" stroke-width="2.8"/>
<circle cx="245.7" cy="1895.4" r="5.8" fill="#fff" stroke="#0f8c8c" stroke-width="2.8"/>
<circle cx="254.8" cy="1884.4" r="5.8" fill="#fff" stroke="#0f8c8c" stroke-width="2.8"/>
<circle cx="288.3" cy="1693.6" r="5.8" fill="#fff" stroke="#8f8f00" stroke-width="2.8"/>
<circle cx="320.7" cy="1684.5" r="5.8" fill="#fff" stroke="#8f8f00" stroke-width="2.8"/>
<circle cx="288.3" cy="1723.0" r="5.8" fill="#fff" stroke="#8f8f00" stroke-width="2.8"/>
<circle cx="304.8" cy="1738.9" r="5.8" fill="#fff" stroke="#8f8f00" stroke-width="2.8"/>
<circle cx="320.7" cy="1734.8" r="5.8" fill="#fff" stroke="#8f8f00" stroke-width="2.8"/>
<circle cx="288.3" cy="1745.7" r="5.8" fill="#fff" stroke="#8f8f00" stroke-width="2.8"/>
<circle cx="304.8" cy="1757.5" r="5.8" fill="#fff" stroke="#8f8f00" stroke-width="2.8"/>
<circle cx="320.7" cy="1752.1" r="5.8" fill="#fff" stroke="#8f8f00" stroke-width="2.8"/>
<circle cx="354.2" cy="1795.2" r="5.8" fill="#fff" stroke="#cc77f5" stroke-width="2.8"/>
<circle cx="362.4" cy="1803.4" r="5.8" fill="#fff" stroke="#cc77f5" stroke-width="2.8"/>
<circle cx="370.7" cy="1804.2" r="5.8" fill="#fff" stroke="#cc77f5" stroke-width="2.8"/>
<circle cx="378.9" cy="1800.7" r="5.8" fill="#fff" stroke="#cc77f5" stroke-width="2.8"/>
<circle cx="387.1" cy="1794.3" r="5.8" fill="#fff" stroke="#cc77f5" stroke-width="2.8"/>
<text x="151.0" y="1752.0"><tspan font-size="22.85" font-style="italic">P</tspan><tspan font-size="22.85"> = 0.0027</tspan></text>
<line x1="185.3" y1="1758.6" x2="236.7" y2="1758.6" stroke="#000" stroke-width="3"/>
<text x="285.6" y="1660.6"><tspan font-size="22.85" font-style="italic">P</tspan><tspan font-size="22.85"> = 0.0027</tspan></text>
<line x1="315.2" y1="1670.8" x2="367.4" y2="1670.8" stroke="#000" stroke-width="3"/>
<text x="24.2" y="1958.0" font-size="23.30">TAMs-derived</text>
<text x="74.0" y="1986.0" font-size="22.51">CM:</text>
<text x="0.0" y="0.0" transform="translate(173.7,1976.1) rotate(-10)"><tspan font-size="23.50">Id1</tspan><tspan font-size="16.92" dy="-10.58">f/f</tspan></text>
<text x="0.0" y="0.0" transform="translate(219.8,1985.5) rotate(-10)"><tspan font-size="23.50">Id1</tspan><tspan font-size="16.92" dy="-10.58">Lyz-KO</tspan></text>
<text x="0.0" y="0.0" transform="translate(309.6,1976.1) rotate(-10)"><tspan font-size="23.50">Id1</tspan><tspan font-size="16.92" dy="-10.58">f/f</tspan></text>
<text x="0.0" y="0.0" transform="translate(354.5,1985.5) rotate(-10)"><tspan font-size="23.50">Id1</tspan><tspan font-size="16.92" dy="-10.58">Lyz-KO</tspan></text>
<path d="M180.7 1987.4 V1999.7 H236.1 V1987.4" stroke="#000" stroke-width="3" fill="none"/>
<path d="M324 1987.4 V1999.7 H379.7 V1987.4" stroke="#000" stroke-width="3" fill="none"/>
<text x="167.5" y="2020.3" font-size="22.98">Isotype</text>
<text x="306.1" y="2020.0" font-size="23.29">CD8β-Ab</text>
<text transform="translate(94.5,1790.4) rotate(-90)" x="-90.0" y="0"><tspan font-size="23.94">Tumor weight (g)</tspan></text>
<text x="451.3" y="1548.2" font-size="51.11" font-weight="bold">m</text>
<text x="504.3" y="1570.6" font-size="23.29">Isotype</text>
<text x="600.5" y="1573.8" font-size="23.29">CD8β-Ab</text>
<path d="M515.8 1592.3 V1580.4 H572.3 V1592.3" stroke="#000" stroke-width="3" fill="none"/>
<path d="M609.8 1594.5 V1583.2 H666.3 V1594.5" stroke="#000" stroke-width="3" fill="none"/>
<text x="0.0" y="0.0" transform="translate(469.1,1639) rotate(-18)"><tspan font-size="24.50">Id1</tspan><tspan font-size="17.64" dy="-11.03">f/f</tspan></text>
<text x="0.0" y="0.0" transform="translate(515.8,1639) rotate(-18)"><tspan font-size="24.50">Id1</tspan><tspan font-size="17.64" dy="-11.03">Lyz-KO</tspan></text>
<text x="0.0" y="0.0" transform="translate(566.4,1640.7) rotate(-18)"><tspan font-size="24.50">Id1</tspan><tspan font-size="17.64" dy="-11.03">f/f</tspan></text>
<text x="0.0" y="0.0" transform="translate(613.5,1636.8) rotate(-18)"><tspan font-size="24.50">Id1</tspan><tspan font-size="17.64" dy="-11.03">Lyz-KO</tspan></text>
<line x1="468.0" y1="1645.5" x2="639.0" y2="1645.5" stroke="#000" stroke-width="3"/>
<text x="460.4" y="1669.4" font-size="23.48">TAMs-derived CM</text>
<rect x="460.5" y="1675.0" width="186.1" height="249.7" fill="#a9a6a7"/>
<radialGradient id="tg101" cx="42%" cy="38%" r="70%"><stop offset="0" stop-color="#f8dccb"/><stop offset="0.55" stop-color="#eba99b"/><stop offset="1" stop-color="#b8605e"/></radialGradient>
<path d="M507.8 1714.0C507.5 1715.4 505.9 1716.4 505.4 1717.9C504.8 1719.3 505.6 1721.5 504.6 1722.7C503.5 1724.0 501.2 1724.9 499.3 1725.3C497.5 1725.6 495.2 1725.0 493.3 1724.9C491.4 1724.8 489.2 1725.2 487.6 1724.6C486.1 1724.0 485.1 1722.3 484.0 1721.2C482.9 1720.1 481.8 1719.1 481.1 1717.9C480.4 1716.7 480.1 1715.4 479.9 1714.0C479.6 1712.6 478.8 1710.8 479.5 1709.6C480.2 1708.4 482.7 1708.0 484.0 1706.8C485.3 1705.6 485.7 1703.0 487.2 1702.6C488.7 1702.2 491.4 1703.9 493.3 1704.2C495.2 1704.6 496.8 1704.2 498.3 1704.6C499.8 1705.1 500.8 1706.2 502.3 1707.1C503.8 1707.9 506.4 1708.3 507.3 1709.5C508.3 1710.7 508.1 1712.6 507.8 1714.0Z" fill="url(#tg101)" stroke="#7a4a48" stroke-width="0.8" transform="rotate(0 493.3 1714.0)"/>
<ellipse cx="490.2" cy="1716.7" rx="2.3" ry="0.9" fill="#d0505a" opacity="0.5" transform="rotate(37 490.2 1716.7)"/><ellipse cx="490.6" cy="1715.0" rx="2.6" ry="1.1" fill="#d0505a" opacity="0.5" transform="rotate(120 490.6 1715.0)"/><ellipse cx="496.2" cy="1712.0" rx="1.8" ry="0.9" fill="#d0505a" opacity="0.5" transform="rotate(120 496.2 1712.0)"/><ellipse cx="497.9" cy="1714.1" rx="1.5" ry="0.8" fill="#fbe6da" opacity="0.7"/><ellipse cx="493.3" cy="1713.9" rx="1.2" ry="0.8" fill="#fbe6da" opacity="0.7"/>
<radialGradient id="tg102" cx="42%" cy="38%" r="70%"><stop offset="0" stop-color="#f8dccb"/><stop offset="0.55" stop-color="#eba99b"/><stop offset="1" stop-color="#b8605e"/></radialGradient>
<path d="M536.6 1711.5C536.7 1712.1 537.1 1712.8 536.9 1713.3C536.6 1713.8 535.8 1714.0 535.3 1714.5C534.9 1714.9 534.7 1715.7 534.1 1716.0C533.6 1716.3 532.7 1716.3 532.1 1716.2C531.5 1716.2 530.9 1715.9 530.2 1715.6C529.6 1715.4 528.9 1715.2 528.5 1714.9C528.0 1714.5 527.5 1713.8 527.4 1713.3C527.3 1712.7 527.7 1712.1 527.7 1711.5C527.7 1710.9 527.3 1710.3 527.4 1709.7C527.6 1709.2 528.0 1708.6 528.5 1708.1C528.9 1707.7 529.6 1707.5 530.2 1707.2C530.8 1706.9 531.4 1706.5 532.1 1706.4C532.8 1706.4 533.6 1706.7 534.1 1707.0C534.7 1707.3 535.1 1707.9 535.5 1708.4C535.9 1708.8 536.2 1709.3 536.4 1709.9C536.6 1710.4 536.6 1710.9 536.6 1711.5Z" fill="url(#tg102)" stroke="#7a4a48" stroke-width="0.8" transform="rotate(0 532.1 1711.5)"/>
<ellipse cx="534.1" cy="1713.4" rx="1.9" ry="1.2" fill="#fbe6da" opacity="0.7"/><ellipse cx="531.3" cy="1711.5" rx="1.2" ry="1.3" fill="#fbe6da" opacity="0.7"/>
<radialGradient id="tg103" cx="42%" cy="38%" r="70%"><stop offset="0" stop-color="#f8dccb"/><stop offset="0.55" stop-color="#da8f8a"/><stop offset="1" stop-color="#b8605e"/></radialGradient>
<path d="M586.3 1702.2C586.6 1704.4 584.2 1707.0 583.2 1709.3C582.3 1711.7 582.1 1714.4 580.8 1716.3C579.6 1718.1 577.7 1720.1 575.9 1720.6C574.1 1721.2 571.8 1720.1 570.0 1719.6C568.2 1719.1 566.8 1718.3 565.1 1717.7C563.3 1717.0 560.7 1717.3 559.5 1715.8C558.3 1714.4 558.5 1711.0 557.9 1708.7C557.3 1706.4 556.4 1704.6 555.9 1702.2C555.5 1699.8 554.8 1696.7 555.2 1694.3C555.7 1691.8 557.1 1688.9 558.8 1687.6C560.4 1686.3 563.1 1686.9 565.0 1686.6C566.9 1686.2 568.3 1685.5 570.0 1685.4C571.7 1685.4 573.3 1685.7 575.1 1686.1C577.0 1686.5 580.0 1686.1 581.1 1687.8C582.2 1689.4 580.9 1693.5 581.7 1695.9C582.6 1698.3 586.1 1700.0 586.3 1702.2Z" fill="url(#tg103)" stroke="#7a4a48" stroke-width="0.8" transform="rotate(0 570.0 1702.2)"/>
<ellipse cx="570.2" cy="1703.6" rx="2.0" ry="0.7" fill="#d0505a" opacity="0.5" transform="rotate(74 570.2 1703.6)"/><ellipse cx="569.2" cy="1692.7" rx="2.6" ry="1.1" fill="#d0505a" opacity="0.5" transform="rotate(149 569.2 1692.7)"/><ellipse cx="570.0" cy="1707.1" rx="2.4" ry="1.3" fill="#fbe6da" opacity="0.7"/><ellipse cx="567.5" cy="1702.7" rx="1.4" ry="1.4" fill="#d0505a" opacity="0.5" transform="rotate(160 567.5 1702.7)"/><ellipse cx="574.2" cy="1697.9" rx="1.4" ry="1.2" fill="#fbe6da" opacity="0.7"/><ellipse cx="572.6" cy="1706.6" rx="1.2" ry="1.3" fill="#d0505a" opacity="0.5" transform="rotate(17 572.6 1706.6)"/><ellipse cx="572.7" cy="1693.7" rx="2.0" ry="1.4" fill="#d0505a" opacity="0.5" transform="rotate(178 572.7 1693.7)"/><ellipse cx="562.8" cy="1698.3" rx="1.4" ry="1.2" fill="#fbe6da" opacity="0.7"/>
<radialGradient id="tg104" cx="42%" cy="38%" r="70%"><stop offset="0" stop-color="#f8dccb"/><stop offset="0.55" stop-color="#eba99b"/><stop offset="1" stop-color="#b8605e"/></radialGradient>
<path d="M637.7 1714.0C637.8 1715.4 637.1 1717.1 636.3 1718.4C635.5 1719.7 634.3 1721.1 632.8 1721.9C631.4 1722.6 629.3 1722.7 627.7 1723.0C626.1 1723.4 624.7 1723.8 623.1 1724.0C621.5 1724.2 619.5 1724.6 617.8 1724.2C616.2 1723.9 614.0 1723.1 613.2 1722.0C612.3 1720.9 612.9 1718.8 612.6 1717.5C612.3 1716.2 611.7 1715.3 611.2 1714.0C610.8 1712.7 609.3 1710.7 609.9 1709.6C610.5 1708.5 613.5 1708.3 614.8 1707.3C616.2 1706.4 616.5 1704.5 617.9 1703.9C619.3 1703.3 621.4 1704.0 623.1 1704.0C624.8 1704.0 626.6 1703.6 628.3 1703.9C629.9 1704.3 632.0 1704.9 633.2 1705.9C634.3 1706.9 634.6 1708.5 635.4 1709.9C636.1 1711.3 637.5 1712.6 637.7 1714.0Z" fill="url(#tg104)" stroke="#7a4a48" stroke-width="0.8" transform="rotate(0 623.1 1714.0)"/>
<ellipse cx="620.8" cy="1715.5" rx="1.9" ry="1.1" fill="#fbe6da" opacity="0.7"/><ellipse cx="618.3" cy="1714.8" rx="1.4" ry="1.1" fill="#d0505a" opacity="0.5" transform="rotate(18 618.3 1714.8)"/><ellipse cx="617.1" cy="1710.6" rx="1.4" ry="1.1" fill="#fbe6da" opacity="0.7"/><ellipse cx="625.9" cy="1712.8" rx="1.3" ry="1.5" fill="#fbe6da" opacity="0.7"/><ellipse cx="629.0" cy="1715.2" rx="1.8" ry="1.3" fill="#fbe6da" opacity="0.7"/>
<radialGradient id="tg105" cx="42%" cy="38%" r="70%"><stop offset="0" stop-color="#f8dccb"/><stop offset="0.55" stop-color="#eba99b"/><stop offset="1" stop-color="#b8605e"/></radialGradient>
<path d="M510.1 1756.3C510.1 1757.8 507.7 1759.2 506.9 1760.7C506.0 1762.2 506.1 1764.1 504.9 1765.4C503.8 1766.8 501.8 1768.3 499.8 1768.7C497.9 1769.1 495.4 1767.8 493.3 1767.7C491.2 1767.6 488.8 1768.7 487.0 1768.2C485.3 1767.6 484.1 1765.7 482.9 1764.4C481.8 1763.1 481.1 1761.8 480.4 1760.5C479.7 1759.1 479.0 1757.8 478.6 1756.3C478.2 1754.8 477.4 1752.7 478.2 1751.4C479.1 1750.1 482.0 1749.7 483.5 1748.6C485.0 1747.5 485.6 1745.4 487.2 1744.8C488.8 1744.1 491.4 1744.5 493.3 1744.8C495.2 1745.0 496.9 1745.6 498.7 1746.2C500.4 1746.7 502.5 1747.0 503.9 1748.0C505.3 1748.9 506.0 1750.5 507.0 1751.8C508.0 1753.2 510.1 1754.8 510.1 1756.3Z" fill="url(#tg105)" stroke="#7a4a48" stroke-width="0.8" transform="rotate(0 493.3 1756.3)"/>
<ellipse cx="484.2" cy="1758.1" rx="1.3" ry="1.6" fill="#fbe6da" opacity="0.7"/><ellipse cx="485.5" cy="1751.1" rx="1.8" ry="1.0" fill="#fbe6da" opacity="0.7"/><ellipse cx="503.0" cy="1752.7" rx="1.2" ry="1.5" fill="#fbe6da" opacity="0.7"/><ellipse cx="494.2" cy="1748.9" rx="2.5" ry="1.4" fill="#fbe6da" opacity="0.7"/><ellipse cx="488.9" cy="1759.1" rx="2.1" ry="1.3" fill="#fbe6da" opacity="0.7"/><ellipse cx="495.8" cy="1752.5" rx="2.4" ry="1.4" fill="#fbe6da" opacity="0.7"/>
<radialGradient id="tg106" cx="42%" cy="38%" r="70%"><stop offset="0" stop-color="#f8dccb"/><stop offset="0.55" stop-color="#eba99b"/><stop offset="1" stop-color="#b8605e"/></radialGradient>
<path d="M539.7 1753.9C539.9 1754.6 540.0 1755.7 539.5 1756.3C538.9 1756.9 537.1 1756.8 536.4 1757.4C535.6 1758.0 535.7 1759.3 534.9 1759.8C534.1 1760.2 532.6 1760.3 531.6 1760.1C530.6 1759.9 530.0 1758.9 529.0 1758.6C528.0 1758.3 526.6 1758.6 525.7 1758.3C524.9 1757.9 524.1 1757.0 523.9 1756.3C523.7 1755.5 524.6 1754.7 524.5 1753.9C524.5 1753.1 523.3 1752.1 523.6 1751.5C523.9 1750.8 525.5 1750.5 526.3 1750.0C527.2 1749.6 527.8 1749.0 528.7 1748.7C529.6 1748.4 530.6 1748.0 531.6 1748.0C532.6 1747.9 533.7 1748.1 534.7 1748.4C535.7 1748.6 536.8 1749.0 537.4 1749.6C538.0 1750.2 537.9 1751.1 538.3 1751.8C538.7 1752.6 539.5 1753.2 539.7 1753.9Z" fill="url(#tg106)" stroke="#7a4a48" stroke-width="0.8" transform="rotate(0 531.6 1753.9)"/>
<ellipse cx="530.9" cy="1754.0" rx="2.0" ry="0.7" fill="#d0505a" opacity="0.5" transform="rotate(63 530.9 1754.0)"/><ellipse cx="532.0" cy="1753.2" rx="1.1" ry="1.2" fill="#d0505a" opacity="0.5" transform="rotate(18 532.0 1753.2)"/><ellipse cx="533.3" cy="1756.6" rx="2.1" ry="1.1" fill="#d0505a" opacity="0.5" transform="rotate(89 533.3 1756.6)"/>
<radialGradient id="tg107" cx="42%" cy="38%" r="70%"><stop offset="0" stop-color="#f8dccb"/><stop offset="0.55" stop-color="#da8f8a"/><stop offset="1" stop-color="#b8605e"/></radialGradient>
<path d="M581.4 1752.6C581.6 1754.8 581.9 1757.1 581.5 1759.4C581.2 1761.8 580.8 1764.8 579.5 1766.5C578.3 1768.2 576.0 1768.8 574.2 1769.4C572.5 1770.0 570.6 1770.3 568.9 1770.0C567.2 1769.8 565.5 1769.0 564.0 1768.0C562.6 1766.9 561.8 1765.1 560.3 1763.8C558.8 1762.5 555.9 1762.0 554.9 1760.2C554.0 1758.3 554.2 1754.9 554.6 1752.6C555.0 1750.3 556.6 1748.5 557.3 1746.3C558.1 1744.2 558.2 1741.7 559.2 1739.9C560.2 1738.1 561.9 1736.7 563.5 1735.6C565.1 1734.4 567.2 1732.9 568.9 1733.2C570.6 1733.5 572.2 1736.1 573.7 1737.4C575.2 1738.6 576.8 1739.3 577.9 1740.8C579.0 1742.3 579.7 1744.5 580.3 1746.4C580.9 1748.4 581.2 1750.4 581.4 1752.6Z" fill="url(#tg107)" stroke="#7a4a48" stroke-width="0.8" transform="rotate(0 568.9 1752.6)"/>
<ellipse cx="561.6" cy="1746.6" rx="1.2" ry="1.1" fill="#fbe6da" opacity="0.7"/><ellipse cx="570.2" cy="1753.5" rx="1.3" ry="0.8" fill="#d0505a" opacity="0.5" transform="rotate(44 570.2 1753.5)"/><ellipse cx="561.8" cy="1757.5" rx="2.2" ry="0.9" fill="#d0505a" opacity="0.5" transform="rotate(52 561.8 1757.5)"/><ellipse cx="566.7" cy="1761.7" rx="2.1" ry="1.5" fill="#fbe6da" opacity="0.7"/><ellipse cx="568.5" cy="1749.0" rx="2.1" ry="1.1" fill="#d0505a" opacity="0.5" transform="rotate(141 568.5 1749.0)"/><ellipse cx="575.1" cy="1747.2" rx="2.0" ry="1.3" fill="#fbe6da" opacity="0.7"/><ellipse cx="570.3" cy="1746.8" rx="2.3" ry="1.2" fill="#fbe6da" opacity="0.7"/>
<radialGradient id="tg108" cx="42%" cy="38%" r="70%"><stop offset="0" stop-color="#f8dccb"/><stop offset="0.55" stop-color="#eba99b"/><stop offset="1" stop-color="#b8605e"/></radialGradient>
<path d="M638.0 1759.1C638.3 1760.5 639.7 1762.2 639.4 1763.7C639.1 1765.1 637.7 1766.8 636.2 1767.6C634.6 1768.5 632.2 1768.7 630.3 1769.0C628.4 1769.3 626.6 1769.5 624.9 1769.5C623.2 1769.4 621.3 1769.0 619.8 1768.5C618.3 1767.9 617.0 1766.9 615.8 1766.0C614.5 1765.1 613.2 1764.2 612.5 1763.0C611.8 1761.8 611.9 1760.5 611.5 1759.1C611.2 1757.7 609.6 1755.7 610.3 1754.5C610.9 1753.3 613.9 1752.7 615.5 1751.9C617.1 1751.2 618.2 1750.6 619.8 1749.8C621.4 1748.9 623.0 1747.2 624.9 1746.9C626.8 1746.6 629.5 1747.0 631.1 1747.8C632.6 1748.7 633.0 1750.9 634.1 1752.1C635.2 1753.3 637.0 1753.9 637.7 1755.1C638.3 1756.2 637.7 1757.7 638.0 1759.1Z" fill="url(#tg108)" stroke="#7a4a48" stroke-width="0.8" transform="rotate(0 624.9 1759.1)"/>
<ellipse cx="628.9" cy="1758.9" rx="2.0" ry="1.3" fill="#fbe6da" opacity="0.7"/><ellipse cx="631.8" cy="1761.0" rx="1.7" ry="1.1" fill="#fbe6da" opacity="0.7"/><ellipse cx="623.2" cy="1751.6" rx="1.3" ry="1.4" fill="#fbe6da" opacity="0.7"/><ellipse cx="614.9" cy="1759.6" rx="1.7" ry="1.5" fill="#fbe6da" opacity="0.7"/><ellipse cx="625.7" cy="1758.5" rx="2.9" ry="0.8" fill="#d0505a" opacity="0.5" transform="rotate(79 625.7 1758.5)"/>
<radialGradient id="tg109" cx="42%" cy="38%" r="70%"><stop offset="0" stop-color="#f8dccb"/><stop offset="0.55" stop-color="#eba99b"/><stop offset="1" stop-color="#b8605e"/></radialGradient>
<path d="M506.3 1797.8C506.3 1799.3 506.5 1800.9 505.9 1802.3C505.3 1803.7 504.3 1805.4 502.8 1806.2C501.3 1807.1 498.9 1807.0 497.0 1807.6C495.2 1808.1 493.7 1809.2 491.7 1809.6C489.7 1810.0 486.9 1810.5 485.1 1810.0C483.2 1809.4 481.9 1807.6 480.6 1806.3C479.3 1805.0 478.2 1803.8 477.3 1802.3C476.4 1800.9 475.0 1799.3 475.0 1797.8C475.1 1796.3 476.5 1794.7 477.6 1793.3C478.6 1792.0 480.1 1791.2 481.4 1789.9C482.7 1788.7 483.5 1786.4 485.2 1785.9C487.0 1785.5 489.5 1787.0 491.7 1787.0C493.9 1787.0 496.2 1785.5 498.2 1785.8C500.2 1786.1 502.4 1787.4 503.8 1788.6C505.1 1789.9 505.8 1791.7 506.2 1793.2C506.6 1794.8 506.4 1796.3 506.3 1797.8Z" fill="url(#tg109)" stroke="#7a4a48" stroke-width="0.8" transform="rotate(0 491.7 1797.8)"/>
<ellipse cx="491.0" cy="1797.7" rx="2.5" ry="1.2" fill="#d0505a" opacity="0.5" transform="rotate(112 491.0 1797.7)"/><ellipse cx="496.8" cy="1802.3" rx="2.3" ry="1.3" fill="#fbe6da" opacity="0.7"/><ellipse cx="487.4" cy="1799.0" rx="1.1" ry="1.4" fill="#d0505a" opacity="0.5" transform="rotate(71 487.4 1799.0)"/><ellipse cx="487.7" cy="1800.4" rx="2.4" ry="1.4" fill="#fbe6da" opacity="0.7"/><ellipse cx="492.9" cy="1793.6" rx="2.2" ry="1.3" fill="#fbe6da" opacity="0.7"/><ellipse cx="496.5" cy="1799.0" rx="2.0" ry="1.5" fill="#fbe6da" opacity="0.7"/>
<radialGradient id="tg110" cx="42%" cy="38%" r="70%"><stop offset="0" stop-color="#f8dccb"/><stop offset="0.55" stop-color="#eba99b"/><stop offset="1" stop-color="#b8605e"/></radialGradient>
<path d="M539.3 1796.3C539.3 1797.1 538.2 1797.9 537.8 1798.7C537.4 1799.5 537.5 1800.7 536.8 1801.2C536.2 1801.7 534.8 1801.6 533.9 1801.8C533.0 1802.1 532.2 1802.7 531.4 1802.7C530.6 1802.7 529.7 1802.2 528.8 1801.9C528.0 1801.6 526.9 1801.4 526.3 1800.9C525.8 1800.3 525.9 1799.2 525.6 1798.5C525.3 1797.7 524.5 1797.1 524.5 1796.3C524.4 1795.5 524.7 1794.6 525.2 1794.0C525.6 1793.3 526.4 1793.0 527.0 1792.3C527.5 1791.6 527.7 1790.4 528.5 1789.9C529.2 1789.4 530.5 1789.0 531.4 1789.2C532.3 1789.4 533.0 1790.5 533.9 1790.9C534.7 1791.3 535.9 1791.1 536.6 1791.6C537.3 1792.1 537.6 1793.1 538.0 1793.8C538.5 1794.6 539.3 1795.5 539.3 1796.3Z" fill="url(#tg110)" stroke="#7a4a48" stroke-width="0.8" transform="rotate(0 531.4 1796.3)"/>
<ellipse cx="528.8" cy="1797.5" rx="1.4" ry="1.1" fill="#fbe6da" opacity="0.7"/><ellipse cx="526.5" cy="1796.1" rx="2.2" ry="1.2" fill="#fbe6da" opacity="0.7"/><ellipse cx="535.5" cy="1793.9" rx="1.3" ry="1.1" fill="#fbe6da" opacity="0.7"/>
<radialGradient id="tg111" cx="42%" cy="38%" r="70%"><stop offset="0" stop-color="#f8dccb"/><stop offset="0.55" stop-color="#da8f8a"/><stop offset="1" stop-color="#b8605e"/></radialGradient>
<path d="M587.4 1793.0C587.1 1795.1 584.6 1796.7 583.8 1798.9C583.0 1801.1 584.0 1804.5 582.8 1806.1C581.5 1807.7 578.4 1807.8 576.3 1808.3C574.3 1808.8 572.3 1809.1 570.3 1809.2C568.3 1809.2 565.8 1809.7 564.1 1808.8C562.4 1807.9 561.3 1805.4 560.1 1803.7C558.9 1802.1 557.7 1800.6 556.9 1798.8C556.0 1797.1 554.8 1795.0 554.8 1793.0C554.8 1791.0 556.1 1789.1 556.7 1787.1C557.4 1785.1 557.4 1782.3 558.6 1780.7C559.9 1779.2 562.4 1778.6 564.4 1778.0C566.3 1777.4 568.4 1776.8 570.3 1776.9C572.2 1777.0 574.3 1777.7 576.0 1778.5C577.7 1779.4 579.0 1780.8 580.7 1782.1C582.3 1783.4 584.6 1784.5 585.7 1786.3C586.8 1788.1 587.8 1790.9 587.4 1793.0Z" fill="url(#tg111)" stroke="#7a4a48" stroke-width="0.8" transform="rotate(0 570.3 1793.0)"/>
<ellipse cx="573.5" cy="1790.7" rx="1.5" ry="1.4" fill="#fbe6da" opacity="0.7"/><ellipse cx="570.7" cy="1799.6" rx="2.7" ry="1.2" fill="#d0505a" opacity="0.5" transform="rotate(19 570.7 1799.6)"/><ellipse cx="574.4" cy="1796.1" rx="1.5" ry="1.4" fill="#d0505a" opacity="0.5" transform="rotate(169 574.4 1796.1)"/><ellipse cx="570.5" cy="1793.0" rx="2.4" ry="1.5" fill="#fbe6da" opacity="0.7"/><ellipse cx="567.4" cy="1785.0" rx="2.0" ry="1.3" fill="#d0505a" opacity="0.5" transform="rotate(19 567.4 1785.0)"/><ellipse cx="567.0" cy="1785.4" rx="2.5" ry="0.7" fill="#d0505a" opacity="0.5" transform="rotate(174 567.0 1785.4)"/><ellipse cx="570.7" cy="1787.7" rx="2.5" ry="1.1" fill="#fbe6da" opacity="0.7"/><ellipse cx="572.5" cy="1800.7" rx="1.2" ry="1.4" fill="#fbe6da" opacity="0.7"/>
<radialGradient id="tg112" cx="42%" cy="38%" r="70%"><stop offset="0" stop-color="#f8dccb"/><stop offset="0.55" stop-color="#eba99b"/><stop offset="1" stop-color="#b8605e"/></radialGradient>
<path d="M636.3 1804.6C636.4 1806.0 636.5 1807.5 636.0 1808.8C635.5 1810.0 634.5 1811.2 633.5 1812.2C632.5 1813.2 631.4 1814.1 630.1 1814.7C628.8 1815.4 627.2 1816.1 625.8 1816.1C624.4 1816.1 622.6 1815.6 621.5 1814.8C620.3 1814.0 619.8 1812.4 619.0 1811.3C618.2 1810.2 617.3 1809.4 616.7 1808.3C616.1 1807.2 615.4 1805.9 615.3 1804.6C615.3 1803.3 615.9 1802.1 616.3 1800.7C616.6 1799.4 616.5 1797.4 617.4 1796.4C618.3 1795.3 620.1 1794.8 621.5 1794.4C622.9 1794.1 624.4 1794.1 625.8 1794.3C627.2 1794.4 628.5 1794.8 629.7 1795.4C630.9 1795.9 631.7 1796.9 632.8 1797.8C633.8 1798.6 635.3 1799.4 635.9 1800.5C636.5 1801.7 636.3 1803.2 636.3 1804.6Z" fill="url(#tg112)" stroke="#7a4a48" stroke-width="0.8" transform="rotate(0 625.8 1804.6)"/>
<ellipse cx="626.9" cy="1804.0" rx="1.7" ry="1.1" fill="#d0505a" opacity="0.5" transform="rotate(46 626.9 1804.0)"/><ellipse cx="630.4" cy="1806.6" rx="2.3" ry="1.3" fill="#d0505a" opacity="0.5" transform="rotate(105 630.4 1806.6)"/><ellipse cx="630.9" cy="1801.5" rx="1.5" ry="1.1" fill="#d0505a" opacity="0.5" transform="rotate(86 630.9 1801.5)"/><ellipse cx="631.9" cy="1804.8" rx="1.7" ry="1.2" fill="#fbe6da" opacity="0.7"/>
<radialGradient id="tg113" cx="42%" cy="38%" r="70%"><stop offset="0" stop-color="#f8dccb"/><stop offset="0.55" stop-color="#eba99b"/><stop offset="1" stop-color="#b8605e"/></radialGradient>
<path d="M510.7 1847.3C510.6 1848.4 513.5 1849.7 513.1 1850.7C512.7 1851.7 510.4 1852.8 508.4 1853.3C506.3 1853.8 503.2 1853.4 500.9 1853.8C498.7 1854.1 497.0 1855.3 494.9 1855.4C492.8 1855.5 490.8 1854.5 488.5 1854.2C486.1 1853.9 482.9 1854.1 480.9 1853.5C479.0 1852.9 477.3 1851.7 476.7 1850.6C476.2 1849.6 477.6 1848.4 477.8 1847.3C478.0 1846.2 477.1 1845.1 477.8 1844.2C478.6 1843.2 480.4 1842.3 482.2 1841.7C483.9 1841.0 486.3 1840.7 488.4 1840.3C490.5 1840.0 492.7 1839.5 494.9 1839.4C497.1 1839.4 499.5 1839.7 501.6 1840.1C503.7 1840.5 505.5 1841.1 507.5 1841.7C509.5 1842.3 513.0 1842.9 513.5 1843.9C514.0 1844.8 510.8 1846.2 510.7 1847.3Z" fill="url(#tg113)" stroke="#7a4a48" stroke-width="0.8" transform="rotate(-32 494.9 1847.3)"/>
<ellipse cx="494.8" cy="1847.1" rx="2.9" ry="1.2" fill="#d0505a" opacity="0.5" transform="rotate(109 494.8 1847.1)"/><ellipse cx="489.7" cy="1844.2" rx="1.8" ry="0.8" fill="#d0505a" opacity="0.5" transform="rotate(35 489.7 1844.2)"/><ellipse cx="494.7" cy="1847.1" rx="2.4" ry="1.3" fill="#d0505a" opacity="0.5" transform="rotate(55 494.7 1847.1)"/><ellipse cx="501.2" cy="1843.6" rx="2.8" ry="0.7" fill="#d0505a" opacity="0.5" transform="rotate(85 501.2 1843.6)"/><ellipse cx="495.9" cy="1847.6" rx="2.3" ry="0.9" fill="#fbe6da" opacity="0.7"/>
<radialGradient id="tg114" cx="42%" cy="38%" r="70%"><stop offset="0" stop-color="#f8dccb"/><stop offset="0.55" stop-color="#eba99b"/><stop offset="1" stop-color="#b8605e"/></radialGradient>
<path d="M537.2 1846.8C537.0 1847.5 536.7 1848.1 536.5 1848.8C536.3 1849.5 536.4 1850.6 535.9 1851.1C535.5 1851.6 534.3 1851.5 533.6 1851.8C532.8 1852.1 532.0 1852.8 531.3 1852.8C530.6 1852.8 529.9 1851.9 529.1 1851.7C528.3 1851.4 526.9 1851.8 526.3 1851.4C525.6 1851.0 525.4 1849.9 525.2 1849.1C525.1 1848.4 525.2 1847.5 525.3 1846.8C525.5 1846.1 526.0 1845.6 526.1 1844.8C526.3 1844.1 526.0 1843.0 526.5 1842.3C526.9 1841.7 527.8 1841.1 528.6 1840.9C529.4 1840.7 530.5 1841.1 531.3 1841.2C532.1 1841.4 532.6 1841.8 533.5 1842.0C534.3 1842.1 535.6 1841.8 536.3 1842.2C537.0 1842.6 537.6 1843.6 537.7 1844.4C537.9 1845.1 537.4 1846.1 537.2 1846.8Z" fill="url(#tg114)" stroke="#7a4a48" stroke-width="0.8" transform="rotate(0 531.3 1846.8)"/>
<ellipse cx="530.8" cy="1846.9" rx="2.5" ry="1.0" fill="#fbe6da" opacity="0.7"/><ellipse cx="528.7" cy="1849.4" rx="2.4" ry="1.3" fill="#fbe6da" opacity="0.7"/>
<radialGradient id="tg115" cx="42%" cy="38%" r="70%"><stop offset="0" stop-color="#f8dccb"/><stop offset="0.55" stop-color="#da8f8a"/><stop offset="1" stop-color="#b8605e"/></radialGradient>
<path d="M588.3 1840.1C587.9 1842.9 585.6 1845.4 584.3 1847.7C583.1 1850.0 582.3 1852.1 580.9 1853.8C579.6 1855.6 578.0 1856.5 576.3 1858.0C574.7 1859.6 572.9 1862.5 570.9 1863.1C568.9 1863.8 566.4 1862.9 564.3 1861.9C562.2 1860.9 559.7 1859.5 558.3 1857.3C556.9 1855.1 556.3 1851.6 555.6 1848.7C555.0 1845.9 554.5 1843.0 554.5 1840.1C554.5 1837.2 554.7 1834.0 555.6 1831.4C556.5 1828.9 558.2 1826.8 559.8 1824.9C561.3 1823.0 562.9 1820.6 564.8 1819.9C566.6 1819.2 569.0 1820.1 570.9 1820.5C572.8 1820.9 574.2 1822.0 576.2 1822.5C578.3 1823.0 581.4 1821.9 583.1 1823.4C584.9 1824.8 585.8 1828.4 586.6 1831.2C587.5 1834.0 588.7 1837.3 588.3 1840.1Z" fill="url(#tg115)" stroke="#7a4a48" stroke-width="0.8" transform="rotate(0 570.9 1840.1)"/>
<ellipse cx="578.9" cy="1837.6" rx="1.2" ry="1.5" fill="#fbe6da" opacity="0.7"/><ellipse cx="561.5" cy="1837.7" rx="2.2" ry="1.3" fill="#fbe6da" opacity="0.7"/><ellipse cx="572.3" cy="1833.9" rx="1.8" ry="1.3" fill="#fbe6da" opacity="0.7"/><ellipse cx="580.6" cy="1837.9" rx="1.9" ry="1.0" fill="#fbe6da" opacity="0.7"/><ellipse cx="573.3" cy="1834.9" rx="2.7" ry="1.0" fill="#d0505a" opacity="0.5" transform="rotate(126 573.3 1834.9)"/><ellipse cx="574.2" cy="1850.6" rx="1.9" ry="1.5" fill="#fbe6da" opacity="0.7"/><ellipse cx="563.8" cy="1835.3" rx="1.6" ry="1.3" fill="#d0505a" opacity="0.5" transform="rotate(117 563.8 1835.3)"/><ellipse cx="574.2" cy="1837.8" rx="2.1" ry="1.1" fill="#d0505a" opacity="0.5" transform="rotate(10 574.2 1837.8)"/><ellipse cx="576.7" cy="1844.5" rx="1.3" ry="1.4" fill="#d0505a" opacity="0.5" transform="rotate(172 576.7 1844.5)"/><ellipse cx="573.5" cy="1837.5" rx="1.6" ry="1.4" fill="#fbe6da" opacity="0.7"/>
<radialGradient id="tg116" cx="42%" cy="38%" r="70%"><stop offset="0" stop-color="#f8dccb"/><stop offset="0.55" stop-color="#eba99b"/><stop offset="1" stop-color="#b8605e"/></radialGradient>
<path d="M632.2 1850.3C632.1 1851.5 631.5 1852.7 631.1 1853.8C630.6 1854.9 630.3 1856.3 629.4 1856.9C628.6 1857.5 627.1 1857.0 626.0 1857.4C625.0 1857.8 624.3 1859.2 623.3 1859.4C622.3 1859.7 620.9 1859.4 620.0 1858.9C619.0 1858.4 618.2 1857.4 617.5 1856.5C616.8 1855.6 616.1 1854.7 615.8 1853.7C615.4 1852.6 615.6 1851.4 615.6 1850.3C615.7 1849.2 615.6 1848.1 615.9 1847.0C616.2 1846.0 616.7 1844.9 617.4 1843.9C618.0 1843.0 618.9 1841.8 619.9 1841.4C620.9 1841.0 622.2 1841.2 623.3 1841.3C624.4 1841.5 625.5 1841.8 626.4 1842.3C627.3 1842.8 628.0 1843.6 628.8 1844.4C629.7 1845.1 630.8 1845.7 631.4 1846.7C631.9 1847.7 632.2 1849.1 632.2 1850.3Z" fill="url(#tg116)" stroke="#7a4a48" stroke-width="0.8" transform="rotate(0 623.3 1850.3)"/>
<ellipse cx="623.2" cy="1850.6" rx="1.8" ry="1.5" fill="#fbe6da" opacity="0.7"/><ellipse cx="619.7" cy="1851.9" rx="2.0" ry="0.7" fill="#d0505a" opacity="0.5" transform="rotate(83 619.7 1851.9)"/><ellipse cx="623.9" cy="1852.7" rx="2.4" ry="0.9" fill="#d0505a" opacity="0.5" transform="rotate(73 623.9 1852.7)"/>
<radialGradient id="tg117" cx="42%" cy="38%" r="70%"><stop offset="0" stop-color="#f8dccb"/><stop offset="0.55" stop-color="#eba99b"/><stop offset="1" stop-color="#b8605e"/></radialGradient>
<path d="M506.6 1896.4C506.4 1898.2 505.8 1899.8 505.2 1901.5C504.6 1903.1 504.1 1905.2 502.8 1906.4C501.6 1907.6 499.4 1907.9 497.6 1908.6C495.9 1909.3 494.1 1910.6 492.3 1910.5C490.5 1910.5 488.8 1909.1 487.0 1908.5C485.2 1907.8 482.9 1907.8 481.4 1906.7C479.9 1905.7 478.6 1903.8 477.9 1902.0C477.3 1900.3 477.8 1898.3 477.6 1896.4C477.5 1894.5 476.2 1891.9 477.0 1890.4C477.9 1888.9 481.3 1888.9 482.8 1887.4C484.2 1885.9 484.1 1882.2 485.7 1881.3C487.3 1880.5 490.3 1881.7 492.3 1882.1C494.3 1882.6 495.9 1883.5 497.6 1884.2C499.4 1884.9 501.4 1885.3 502.8 1886.5C504.2 1887.6 505.5 1889.3 506.2 1891.0C506.8 1892.6 506.7 1894.6 506.6 1896.4Z" fill="url(#tg117)" stroke="#7a4a48" stroke-width="0.8" transform="rotate(0 492.3 1896.4)"/>
<ellipse cx="499.8" cy="1896.7" rx="1.9" ry="1.3" fill="#fbe6da" opacity="0.7"/><ellipse cx="496.6" cy="1893.7" rx="2.4" ry="1.5" fill="#fbe6da" opacity="0.7"/><ellipse cx="492.9" cy="1897.4" rx="1.9" ry="0.8" fill="#fbe6da" opacity="0.7"/><ellipse cx="493.2" cy="1899.7" rx="1.5" ry="0.8" fill="#d0505a" opacity="0.5" transform="rotate(100 493.2 1899.7)"/><ellipse cx="498.8" cy="1892.8" rx="1.0" ry="1.0" fill="#fbe6da" opacity="0.7"/><ellipse cx="497.2" cy="1892.7" rx="1.5" ry="1.3" fill="#d0505a" opacity="0.5" transform="rotate(179 497.2 1892.7)"/><ellipse cx="487.4" cy="1890.3" rx="2.1" ry="1.2" fill="#fbe6da" opacity="0.7"/>
<radialGradient id="tg118" cx="42%" cy="38%" r="70%"><stop offset="0" stop-color="#f8dccb"/><stop offset="0.55" stop-color="#eba99b"/><stop offset="1" stop-color="#b8605e"/></radialGradient>
<path d="M538.1 1897.0C538.2 1897.7 537.3 1898.5 536.9 1899.1C536.5 1899.7 536.1 1900.3 535.6 1900.8C535.1 1901.3 534.6 1901.9 534.0 1902.3C533.4 1902.8 532.5 1903.4 531.8 1903.4C531.1 1903.4 530.4 1902.6 529.6 1902.3C528.8 1902.0 527.7 1902.2 527.1 1901.7C526.5 1901.2 526.3 1900.1 526.1 1899.4C525.9 1898.6 525.8 1897.8 525.8 1897.0C525.8 1896.2 525.8 1895.4 526.1 1894.6C526.4 1893.9 526.9 1893.2 527.5 1892.7C528.0 1892.1 528.8 1891.8 529.5 1891.4C530.2 1891.1 531.0 1890.6 531.8 1890.5C532.6 1890.5 533.5 1890.8 534.2 1891.2C534.9 1891.6 535.7 1892.1 536.1 1892.7C536.5 1893.4 536.3 1894.3 536.6 1895.0C537.0 1895.7 538.1 1896.3 538.1 1897.0Z" fill="url(#tg118)" stroke="#7a4a48" stroke-width="0.8" transform="rotate(0 531.8 1897.0)"/>
<ellipse cx="531.9" cy="1897.5" rx="2.4" ry="1.1" fill="#fbe6da" opacity="0.7"/><ellipse cx="531.8" cy="1896.7" rx="1.1" ry="1.5" fill="#fbe6da" opacity="0.7"/>
<radialGradient id="tg119" cx="42%" cy="38%" r="70%"><stop offset="0" stop-color="#f8dccb"/><stop offset="0.55" stop-color="#da8f8a"/><stop offset="1" stop-color="#b8605e"/></radialGradient>
<path d="M586.8 1894.8C586.7 1897.0 583.8 1898.8 583.0 1901.1C582.1 1903.4 582.8 1906.7 581.7 1908.5C580.6 1910.2 578.1 1910.5 576.2 1911.6C574.4 1912.7 572.5 1915.0 570.6 1915.0C568.7 1915.0 566.6 1912.9 564.9 1911.7C563.2 1910.4 561.5 1909.1 560.5 1907.3C559.4 1905.5 559.3 1903.0 558.6 1900.9C557.9 1898.9 556.8 1897.1 556.3 1894.8C555.8 1892.5 555.0 1889.5 555.5 1887.1C555.9 1884.7 557.3 1881.8 559.0 1880.4C560.6 1879.1 563.4 1880.1 565.4 1879.2C567.3 1878.4 568.9 1875.3 570.6 1875.3C572.3 1875.4 574.0 1878.3 575.8 1879.4C577.5 1880.5 579.8 1880.4 581.1 1881.8C582.5 1883.2 582.8 1885.9 583.8 1888.1C584.7 1890.2 587.0 1892.6 586.8 1894.8Z" fill="url(#tg119)" stroke="#7a4a48" stroke-width="0.8" transform="rotate(0 570.6 1894.8)"/>
<ellipse cx="570.4" cy="1900.2" rx="2.0" ry="1.1" fill="#fbe6da" opacity="0.7"/><ellipse cx="570.7" cy="1894.9" rx="1.8" ry="1.2" fill="#fbe6da" opacity="0.7"/><ellipse cx="569.6" cy="1895.5" rx="2.9" ry="0.9" fill="#d0505a" opacity="0.5" transform="rotate(96 569.6 1895.5)"/><ellipse cx="576.3" cy="1892.0" rx="1.1" ry="0.7" fill="#d0505a" opacity="0.5" transform="rotate(20 576.3 1892.0)"/><ellipse cx="571.3" cy="1896.6" rx="1.9" ry="0.9" fill="#d0505a" opacity="0.5" transform="rotate(67 571.3 1896.6)"/><ellipse cx="568.3" cy="1894.5" rx="1.4" ry="1.3" fill="#fbe6da" opacity="0.7"/><ellipse cx="566.3" cy="1899.1" rx="3.0" ry="1.3" fill="#d0505a" opacity="0.5" transform="rotate(5 566.3 1899.1)"/><ellipse cx="569.5" cy="1906.3" rx="1.8" ry="1.5" fill="#fbe6da" opacity="0.7"/>
<radialGradient id="tg120" cx="42%" cy="38%" r="70%"><stop offset="0" stop-color="#f8dccb"/><stop offset="0.55" stop-color="#eba99b"/><stop offset="1" stop-color="#b8605e"/></radialGradient>
<path d="M633.1 1899.1C633.2 1900.6 632.1 1901.9 631.7 1903.5C631.4 1905.2 631.9 1907.8 631.2 1909.1C630.5 1910.3 628.9 1910.7 627.7 1911.2C626.5 1911.6 625.3 1911.8 624.1 1912.0C622.9 1912.1 621.2 1912.9 620.3 1912.1C619.3 1911.3 619.3 1908.4 618.4 1907.1C617.6 1905.8 615.6 1905.6 615.2 1904.3C614.7 1903.0 615.6 1900.7 615.7 1899.1C615.9 1897.5 615.9 1896.0 616.3 1894.6C616.7 1893.2 617.3 1891.9 618.0 1890.6C618.7 1889.3 619.4 1887.7 620.4 1886.7C621.5 1885.8 622.9 1885.0 624.1 1885.1C625.3 1885.1 626.7 1885.9 627.7 1886.8C628.7 1887.8 629.5 1889.3 630.2 1890.6C630.8 1891.9 631.1 1893.3 631.6 1894.7C632.1 1896.2 633.1 1897.6 633.1 1899.1Z" fill="url(#tg120)" stroke="#7a4a48" stroke-width="0.8" transform="rotate(0 624.1 1899.1)"/>
<ellipse cx="623.8" cy="1901.0" rx="1.8" ry="0.9" fill="#fbe6da" opacity="0.7"/><ellipse cx="625.5" cy="1906.6" rx="1.1" ry="1.5" fill="#fbe6da" opacity="0.7"/><ellipse cx="621.8" cy="1900.2" rx="2.0" ry="1.1" fill="#fbe6da" opacity="0.7"/><ellipse cx="621.5" cy="1902.3" rx="2.1" ry="0.9" fill="#fbe6da" opacity="0.7"/>
<radialGradient id="tg200" cx="42%" cy="38%" r="70%"><stop offset="0" stop-color="#f8dccb"/><stop offset="0.55" stop-color="#da8f8a"/><stop offset="1" stop-color="#b8605e"/></radialGradient>
<path d="M589.6 1912.0C589.5 1912.8 589.6 1913.5 589.4 1914.3C589.2 1915.1 589.2 1916.3 588.6 1916.8C588.0 1917.4 586.5 1917.1 585.6 1917.4C584.7 1917.8 583.9 1919.1 583.0 1919.1C582.1 1919.1 581.1 1918.2 580.3 1917.6C579.5 1917.1 579.1 1916.5 578.4 1916.0C577.7 1915.5 576.5 1915.1 576.2 1914.4C575.8 1913.8 576.0 1912.8 576.1 1912.0C576.3 1911.2 576.6 1910.5 576.9 1909.8C577.3 1909.1 577.5 1908.3 578.0 1907.7C578.5 1907.0 579.3 1906.3 580.2 1906.1C581.0 1905.8 582.0 1906.1 583.0 1906.0C584.0 1905.9 585.3 1905.2 586.1 1905.4C587.0 1905.7 587.3 1907.0 588.0 1907.6C588.7 1908.3 590.0 1908.7 590.3 1909.4C590.6 1910.1 589.8 1911.2 589.6 1912.0Z" fill="url(#tg200)" stroke="#7a4a48" stroke-width="0.8" transform="rotate(0 583.0 1912.0)"/>
<ellipse cx="582.7" cy="1912.4" rx="2.4" ry="1.0" fill="#d0505a" opacity="0.5" transform="rotate(116 582.7 1912.4)"/><ellipse cx="583.5" cy="1912.4" rx="2.0" ry="1.3" fill="#d0505a" opacity="0.5" transform="rotate(69 583.5 1912.4)"/><ellipse cx="583.2" cy="1911.5" rx="2.3" ry="1.2" fill="#d0505a" opacity="0.5" transform="rotate(143 583.2 1911.5)"/>
<radialGradient id="tg201" cx="42%" cy="38%" r="70%"><stop offset="0" stop-color="#f8dccb"/><stop offset="0.55" stop-color="#eba99b"/><stop offset="1" stop-color="#b8605e"/></radialGradient>
<path d="M633.4 1909.0C633.4 1909.6 633.6 1910.3 633.4 1910.8C633.1 1911.3 632.4 1911.7 631.9 1912.1C631.4 1912.5 631.1 1913.0 630.5 1913.4C629.9 1913.7 629.2 1914.2 628.5 1914.3C627.8 1914.4 626.9 1914.2 626.3 1913.9C625.6 1913.5 625.2 1913.0 624.6 1912.5C624.1 1912.0 623.3 1911.6 623.1 1911.0C622.8 1910.5 623.1 1909.7 623.1 1909.0C623.0 1908.3 622.7 1907.5 622.9 1906.9C623.2 1906.3 623.9 1905.7 624.5 1905.4C625.1 1905.0 625.9 1905.1 626.6 1904.8C627.3 1904.6 627.8 1904.0 628.5 1903.9C629.2 1903.8 629.9 1904.2 630.6 1904.4C631.2 1904.7 632.0 1905.0 632.4 1905.4C632.9 1905.9 633.0 1906.6 633.2 1907.2C633.4 1907.8 633.4 1908.4 633.4 1909.0Z" fill="url(#tg201)" stroke="#7a4a48" stroke-width="0.8" transform="rotate(0 628.5 1909.0)"/>
<ellipse cx="628.3" cy="1908.4" rx="1.5" ry="0.8" fill="#d0505a" opacity="0.5" transform="rotate(33 628.3 1908.4)"/><ellipse cx="628.6" cy="1906.7" rx="2.2" ry="0.7" fill="#d0505a" opacity="0.5" transform="rotate(116 628.6 1906.7)"/>
<rect x="603.0" y="1915.1" width="35.1" height="3.7" fill="#111"/>
<text x="738.9" y="1549.4" font-size="53.33" font-weight="bold">n</text>
<path d="M833.3 1641.8 V1930.5" stroke="#000" stroke-width="3" fill="none"/>
<line x1="822.6" y1="1930.5" x2="1025.5" y2="1930.5" stroke="#000" stroke-width="3"/>
<line x1="822.6" y1="1643.3" x2="833.3" y2="1643.3" stroke="#000" stroke-width="3"/>
<text x="778.5" y="1652.3" font-size="23.00">100</text>
<line x1="822.6" y1="1700.7" x2="833.3" y2="1700.7" stroke="#000" stroke-width="3"/>
<text x="791.4" y="1709.7" font-size="23.00">80</text>
<line x1="822.6" y1="1758.2" x2="833.3" y2="1758.2" stroke="#000" stroke-width="3"/>
<text x="791.4" y="1767.1" font-size="23.00">60</text>
<line x1="822.6" y1="1815.6" x2="833.3" y2="1815.6" stroke="#000" stroke-width="3"/>
<text x="791.4" y="1824.6" font-size="23.00">40</text>
<line x1="822.6" y1="1873.1" x2="833.3" y2="1873.1" stroke="#000" stroke-width="3"/>
<text x="791.4" y="1882.0" font-size="23.00">20</text>
<line x1="822.6" y1="1930.5" x2="833.3" y2="1930.5" stroke="#000" stroke-width="3"/>
<text x="804.1" y="1939.5" font-size="23.00">0</text>
<line x1="888.2" y1="1930.5" x2="888.2" y2="1941.5" stroke="#000" stroke-width="3"/>
<line x1="970.6" y1="1930.5" x2="970.6" y2="1941.5" stroke="#000" stroke-width="3"/>
<path d="M862.4 1930.5 V1679.3 H916.0 V1930.5" stroke="#ff2a00" stroke-width="3" fill="none"/>
<path d="M944.0 1930.5 V1828.1 H997.5 V1930.5" stroke="#0f8c8c" stroke-width="3" fill="none"/>
<line x1="888.2" y1="1679.3" x2="888.2" y2="1676.0" stroke="#ff2a00" stroke-width="3"/>
<line x1="874.2" y1="1676.0" x2="902.2" y2="1676.0" stroke="#ff2a00" stroke-width="3"/>
<line x1="888.2" y1="1679.3" x2="888.2" y2="1682.5" stroke="#ff2a00" stroke-width="3"/>
<line x1="874.2" y1="1682.5" x2="902.2" y2="1682.5" stroke="#ff2a00" stroke-width="3"/>
<line x1="970.6" y1="1828.1" x2="970.6" y2="1825.4" stroke="#0f8c8c" stroke-width="3"/>
<line x1="956.6" y1="1825.4" x2="984.6" y2="1825.4" stroke="#0f8c8c" stroke-width="3"/>
<line x1="970.6" y1="1828.1" x2="970.6" y2="1832.8" stroke="#0f8c8c" stroke-width="3"/>
<line x1="956.6" y1="1832.8" x2="984.6" y2="1832.8" stroke="#0f8c8c" stroke-width="3"/>
<circle cx="867.9" cy="1673.5" r="5.8" fill="#fff" stroke="#ff2a00" stroke-width="2.8"/>
<circle cx="874.5" cy="1673.5" r="5.8" fill="#fff" stroke="#ff2a00" stroke-width="2.8"/>
<circle cx="889.1" cy="1668.0" r="5.8" fill="#fff" stroke="#ff2a00" stroke-width="2.8"/>
<circle cx="911.0" cy="1673.0" r="5.8" fill="#fff" stroke="#ff2a00" stroke-width="2.8"/>
<circle cx="882.2" cy="1686.7" r="5.8" fill="#fff" stroke="#ff2a00" stroke-width="2.8"/>
<circle cx="890.4" cy="1689.5" r="5.8" fill="#fff" stroke="#ff2a00" stroke-width="2.8"/>
<circle cx="902.8" cy="1683.4" r="5.8" fill="#fff" stroke="#ff2a00" stroke-width="2.8"/>
<circle cx="898.7" cy="1678.5" r="5.8" fill="#fff" stroke="#ff2a00" stroke-width="2.8"/>
<circle cx="970.6" cy="1809.7" r="5.8" fill="#fff" stroke="#0f8c8c" stroke-width="2.8"/>
<circle cx="993.4" cy="1815.8" r="5.8" fill="#fff" stroke="#0f8c8c" stroke-width="2.8"/>
<circle cx="949.5" cy="1824.0" r="5.8" fill="#fff" stroke="#0f8c8c" stroke-width="2.8"/>
<circle cx="964.6" cy="1829.5" r="5.8" fill="#fff" stroke="#0f8c8c" stroke-width="2.8"/>
<circle cx="978.3" cy="1825.4" r="5.8" fill="#fff" stroke="#0f8c8c" stroke-width="2.8"/>
<circle cx="949.5" cy="1833.6" r="5.8" fill="#fff" stroke="#0f8c8c" stroke-width="2.8"/>
<circle cx="993.4" cy="1839.1" r="5.8" fill="#fff" stroke="#0f8c8c" stroke-width="2.8"/>
<circle cx="970.6" cy="1847.3" r="5.8" fill="#fff" stroke="#0f8c8c" stroke-width="2.8"/>
<text x="875.3" y="1633.2"><tspan font-size="22.85" font-style="italic">P</tspan><tspan font-size="22.85"> &lt; 0.0001</tspan></text>
<line x1="887.7" y1="1639.5" x2="973.4" y2="1639.5" stroke="#000" stroke-width="3"/>
<text x="834.2" y="1965.4" font-size="23.13">Isotype</text>
<text x="922.8" y="1965.4" font-size="23.08">CD8β-Ab</text>
<text transform="translate(740.5,1796.5) rotate(-90)" x="-108.5" y="0"><tspan font-size="23.90">Tumor inhibition rate</tspan></text>
<text transform="translate(777.6,1794.5) rotate(-90)" x="-109.0" y="0"><tspan font-size="24.70">(% of </tspan><tspan font-size="24.70" font-style="italic">Id1</tspan><tspan font-size="16.79" font-style="italic" dy="-9.88">Lyz-KO</tspan><tspan font-size="24.70" font-style="italic" dy="9.88">/Id1</tspan><tspan font-size="16.79" font-style="italic" dy="-9.88">f/f</tspan><tspan font-size="24.70" dy="9.88">)</tspan></text>
<text x="1052.4" y="1548.3" font-size="52.36" font-weight="bold">o</text>
<text x="1132.8" y="1453.7"><tspan font-size="23.89">Mouse CD8</tspan><tspan font-size="13.14" dy="-10.75">+</tspan><tspan font-size="23.89" dy="10.75"> T cells</tspan></text>
<path d="M1166.9 1497.2 V1531.6 A61.9 11.5 0 0 0 1290.7 1531.6 V1497.2 Z" fill="#fbe3c5" stroke="#000" stroke-width="3"/>
<ellipse cx="1228.8" cy="1531.6" rx="61.9" ry="11.5" fill="#fbefee" stroke="#000" stroke-width="3"/>
<path d="M1166.9 1497.2 A61.9 11.5 0 0 1 1290.7 1497.2" fill="#fff" stroke="#000" stroke-width="3"/>
<path d="M1166.9 1497.2 A61.9 11.5 0 0 0 1290.7 1497.2" fill="none" stroke="#000" stroke-width="3"/>
<ellipse cx="1229.4" cy="1507.7" rx="44.5" ry="12" fill="#d5e8f0" stroke="#2b3192" stroke-width="3.5"/>
<path d="M1168.9 1470.0 H1186.4 V1507.7 M1275.0 1507.7 V1470.0 H1292.2" fill="none" stroke="#2b3192" stroke-width="3.5"/>
<circle cx="1199.4" cy="1509.7" r="4.6" fill="#d6d6d6" stroke="#e3201c" stroke-width="2.9"/>
<circle cx="1207.4" cy="1508.7" r="4.6" fill="#d6d6d6" stroke="#e3201c" stroke-width="2.9"/>
<circle cx="1215.4" cy="1505.7" r="4.6" fill="#d6d6d6" stroke="#e3201c" stroke-width="2.9"/>
<circle cx="1219.4" cy="1499.7" r="4.6" fill="#d6d6d6" stroke="#e3201c" stroke-width="2.9"/>
<circle cx="1227.4" cy="1511.7" r="4.6" fill="#d6d6d6" stroke="#e3201c" stroke-width="2.9"/>
<circle cx="1231.4" cy="1498.7" r="4.6" fill="#d6d6d6" stroke="#e3201c" stroke-width="2.9"/>
<circle cx="1241.4" cy="1510.7" r="4.6" fill="#d6d6d6" stroke="#e3201c" stroke-width="2.9"/>
<circle cx="1245.4" cy="1500.7" r="4.6" fill="#d6d6d6" stroke="#e3201c" stroke-width="2.9"/>
<circle cx="1253.4" cy="1503.7" r="4.6" fill="#d6d6d6" stroke="#e3201c" stroke-width="2.9"/>
<circle cx="1260.4" cy="1506.7" r="4.6" fill="#d6d6d6" stroke="#e3201c" stroke-width="2.9"/>
<circle cx="1209.4" cy="1504.7" r="4.6" fill="#d6d6d6" stroke="#e3201c" stroke-width="2.9"/>
<path d="M1228.8 1509.7 V1528.6" stroke="#222" stroke-width="1.2"/>
<path d="M1225.8 1523.6 L1228.8 1530.6 L1231.8 1523.6 Z" fill="#222"/>
<path d="M1188.6 1526.8 L1194.4 1529.0 L1203.1 1525.3 L1199.4 1532.6 L1202.3 1539.8 L1195.1 1536.2 L1190.0 1539.8 L1192.2 1532.6Z" fill="#a23aa8" stroke="#a23aa8" stroke-width="1" stroke-linejoin="round"/>
<circle cx="1195.8" cy="1532.6" r="2.4" fill="#f2d6f2"/>
<path d="M1203.6 1524.8 L1209.4 1527.0 L1218.1 1523.3 L1214.4 1530.6 L1217.3 1537.8 L1210.1 1534.2 L1205.0 1537.8 L1207.2 1530.6Z" fill="#a23aa8" stroke="#a23aa8" stroke-width="1" stroke-linejoin="round"/>
<circle cx="1210.8" cy="1530.6" r="2.4" fill="#f2d6f2"/>
<path d="M1223.6 1526.8 L1229.4 1529.0 L1238.1 1525.3 L1234.4 1532.6 L1237.3 1539.8 L1230.1 1536.2 L1225.0 1539.8 L1227.2 1532.6Z" fill="#a23aa8" stroke="#a23aa8" stroke-width="1" stroke-linejoin="round"/>
<circle cx="1230.8" cy="1532.6" r="2.4" fill="#f2d6f2"/>
<path d="M1235.6 1524.8 L1241.4 1527.0 L1250.1 1523.3 L1246.4 1530.6 L1249.3 1537.8 L1242.1 1534.2 L1237.0 1537.8 L1239.2 1530.6Z" fill="#a23aa8" stroke="#a23aa8" stroke-width="1" stroke-linejoin="round"/>
<circle cx="1242.8" cy="1530.6" r="2.4" fill="#f2d6f2"/>
<path d="M1253.6 1526.8 L1259.4 1529.0 L1268.1 1525.3 L1264.4 1532.6 L1267.3 1539.8 L1260.1 1536.2 L1255.0 1539.8 L1257.2 1532.6Z" fill="#a23aa8" stroke="#a23aa8" stroke-width="1" stroke-linejoin="round"/>
<circle cx="1260.8" cy="1532.6" r="2.4" fill="#f2d6f2"/>
<text x="1159.6" y="1563.2" font-size="23.37">macrophages</text>
<text x="1095.5" y="1615.8" font-size="23.37">RAW 264.7</text>
<path d="M1229.4 1589 H1220.8 V1628.2 H1229.4" stroke="#000" stroke-width="2.6" fill="none"/>
<text x="1238.0" y="1596.7" font-size="22.41" font-style="italic">Ctrl</text>
<text x="1237.0" y="1634.5"><tspan font-size="23.13" font-style="italic">Id1</tspan><tspan font-size="18.04" font-style="italic" dy="-10.41">OE</tspan></text>
<path d="M1168.5 1640.7 V1929.6" stroke="#000" stroke-width="3" fill="none"/>
<line x1="1156.3" y1="1929.6" x2="1359.5" y2="1929.6" stroke="#000" stroke-width="3"/>
<line x1="1156.3" y1="1642.2" x2="1168.5" y2="1642.2" stroke="#000" stroke-width="3"/>
<text x="1127.4" y="1651.2" font-size="23.00">80</text>
<line x1="1156.3" y1="1714.0" x2="1168.5" y2="1714.0" stroke="#000" stroke-width="3"/>
<text x="1127.4" y="1723.0" font-size="23.00">60</text>
<line x1="1156.3" y1="1785.9" x2="1168.5" y2="1785.9" stroke="#000" stroke-width="3"/>
<text x="1127.4" y="1794.9" font-size="23.00">40</text>
<line x1="1156.3" y1="1857.8" x2="1168.5" y2="1857.8" stroke="#000" stroke-width="3"/>
<text x="1127.4" y="1866.7" font-size="23.00">20</text>
<line x1="1156.3" y1="1929.6" x2="1168.5" y2="1929.6" stroke="#000" stroke-width="3"/>
<text x="1140.1" y="1938.6" font-size="23.00">0</text>
<line x1="1222.0" y1="1929.6" x2="1222.0" y2="1940.6" stroke="#000" stroke-width="3"/>
<line x1="1304.5" y1="1929.6" x2="1304.5" y2="1940.6" stroke="#000" stroke-width="3"/>
<path d="M1196.1 1929.6 V1734.5 H1249.1 V1929.6" stroke="#ff2a00" stroke-width="3" fill="none"/>
<path d="M1278.7 1929.6 V1875.7 H1331.3 V1929.6" stroke="#8f8f00" stroke-width="3" fill="none"/>
<line x1="1222.0" y1="1734.5" x2="1222.0" y2="1726.8" stroke="#ff2a00" stroke-width="3"/>
<line x1="1207.2" y1="1726.8" x2="1236.8" y2="1726.8" stroke="#ff2a00" stroke-width="3"/>
<line x1="1222.0" y1="1734.5" x2="1222.0" y2="1742.0" stroke="#ff2a00" stroke-width="3"/>
<line x1="1207.2" y1="1742.0" x2="1236.8" y2="1742.0" stroke="#ff2a00" stroke-width="3"/>
<line x1="1304.5" y1="1875.7" x2="1304.5" y2="1864.8" stroke="#8f8f00" stroke-width="3"/>
<line x1="1290.0" y1="1864.8" x2="1319.0" y2="1864.8" stroke="#8f8f00" stroke-width="3"/>
<line x1="1304.5" y1="1875.7" x2="1304.5" y2="1885.1" stroke="#8f8f00" stroke-width="3"/>
<line x1="1290.0" y1="1885.1" x2="1319.0" y2="1885.1" stroke="#8f8f00" stroke-width="3"/>
<circle cx="1223.0" cy="1720.0" r="5.8" fill="#fff" stroke="#ff2a00" stroke-width="2.8"/>
<circle cx="1211.2" cy="1740.8" r="5.8" fill="#fff" stroke="#ff2a00" stroke-width="2.8"/>
<circle cx="1234.2" cy="1740.8" r="5.8" fill="#fff" stroke="#ff2a00" stroke-width="2.8"/>
<circle cx="1305.0" cy="1854.6" r="5.8" fill="#fff" stroke="#8f8f00" stroke-width="2.8"/>
<circle cx="1293.2" cy="1889.7" r="5.8" fill="#fff" stroke="#8f8f00" stroke-width="2.8"/>
<circle cx="1315.9" cy="1879.7" r="5.8" fill="#fff" stroke="#8f8f00" stroke-width="2.8"/>
<text x="1212.2" y="1679.0"><tspan font-size="23.01" font-style="italic">P</tspan><tspan font-size="23.01"> = 0.0004</tspan></text>
<line x1="1227.1" y1="1687.0" x2="1300.6" y2="1687.0" stroke="#000" stroke-width="3"/>
<text x="1198.0" y="1966.8" font-size="22.34" font-style="italic">Ctrl</text>
<text x="1277.8" y="1966.8"><tspan font-size="23.33" font-style="italic">Id1</tspan><tspan font-size="18.20" font-style="italic" dy="-10.50">OE</tspan></text>
<text transform="translate(1084.5,1798.5) rotate(-90)" x="-60.4" y="0"><tspan font-size="24.01">CD8</tspan><tspan font-size="16.32" dy="-10.08">+</tspan><tspan font-size="24.01" dy="10.08"> T cell</tspan></text>
<text transform="translate(1113.5,1795.3) rotate(-90)" x="-94.4" y="0"><tspan font-size="23.76">migration rate (%)</tspan></text>
<text x="1405.0" y="1548.3" font-size="52.40" font-weight="bold">p</text>
<text x="1452.0" y="1456.0"><tspan font-size="23.88">Mouse CD8</tspan><tspan font-size="13.13" dy="-10.75">+</tspan><tspan font-size="23.88" dy="10.75"> T cells</tspan></text>
<path d="M1486.4 1498.0 V1533.1 A62.0 11.5 0 0 0 1610.4 1533.1 V1498.0 Z" fill="#fbe3c5" stroke="#000" stroke-width="3"/>
<ellipse cx="1548.4" cy="1533.1" rx="62.0" ry="11.5" fill="#fbefee" stroke="#000" stroke-width="3"/>
<path d="M1486.4 1498.0 A62.0 11.5 0 0 1 1610.4 1498.0" fill="#fff" stroke="#000" stroke-width="3"/>
<path d="M1486.4 1498.0 A62.0 11.5 0 0 0 1610.4 1498.0" fill="none" stroke="#000" stroke-width="3"/>
<ellipse cx="1549.0" cy="1508.5" rx="44.5" ry="12" fill="#d5e8f0" stroke="#2b3192" stroke-width="3.5"/>
<path d="M1488.4 1471.9 H1505.9 V1508.5 M1594.7 1508.5 V1471.9 H1611.9" fill="none" stroke="#2b3192" stroke-width="3.5"/>
<circle cx="1519.0" cy="1510.5" r="4.6" fill="#d6d6d6" stroke="#e3201c" stroke-width="2.9"/>
<circle cx="1527.0" cy="1509.5" r="4.6" fill="#d6d6d6" stroke="#e3201c" stroke-width="2.9"/>
<circle cx="1535.0" cy="1506.5" r="4.6" fill="#d6d6d6" stroke="#e3201c" stroke-width="2.9"/>
<circle cx="1539.0" cy="1500.5" r="4.6" fill="#d6d6d6" stroke="#e3201c" stroke-width="2.9"/>
<circle cx="1547.0" cy="1512.5" r="4.6" fill="#d6d6d6" stroke="#e3201c" stroke-width="2.9"/>
<circle cx="1551.0" cy="1499.5" r="4.6" fill="#d6d6d6" stroke="#e3201c" stroke-width="2.9"/>
<circle cx="1561.0" cy="1511.5" r="4.6" fill="#d6d6d6" stroke="#e3201c" stroke-width="2.9"/>
<circle cx="1565.0" cy="1501.5" r="4.6" fill="#d6d6d6" stroke="#e3201c" stroke-width="2.9"/>
<circle cx="1573.0" cy="1504.5" r="4.6" fill="#d6d6d6" stroke="#e3201c" stroke-width="2.9"/>
<circle cx="1580.0" cy="1507.5" r="4.6" fill="#d6d6d6" stroke="#e3201c" stroke-width="2.9"/>
<circle cx="1529.0" cy="1505.5" r="4.6" fill="#d6d6d6" stroke="#e3201c" stroke-width="2.9"/>
<path d="M1548.4 1510.5 V1530.1" stroke="#222" stroke-width="1.2"/>
<path d="M1545.4 1525.1 L1548.4 1532.1 L1551.4 1525.1 Z" fill="#222"/>
<path d="M1508.2 1528.3 L1514.0 1530.5 L1522.7 1526.8 L1519.0 1534.1 L1521.9 1541.3 L1514.7 1537.7 L1509.6 1541.3 L1511.8 1534.1Z" fill="#a23aa8" stroke="#a23aa8" stroke-width="1" stroke-linejoin="round"/>
<circle cx="1515.4" cy="1534.1" r="2.4" fill="#f2d6f2"/>
<path d="M1523.2 1526.3 L1529.0 1528.5 L1537.7 1524.8 L1534.0 1532.1 L1536.9 1539.3 L1529.7 1535.7 L1524.6 1539.3 L1526.8 1532.1Z" fill="#a23aa8" stroke="#a23aa8" stroke-width="1" stroke-linejoin="round"/>
<circle cx="1530.4" cy="1532.1" r="2.4" fill="#f2d6f2"/>
<path d="M1543.2 1528.3 L1549.0 1530.5 L1557.7 1526.8 L1554.0 1534.1 L1556.9 1541.3 L1549.7 1537.7 L1544.6 1541.3 L1546.8 1534.1Z" fill="#a23aa8" stroke="#a23aa8" stroke-width="1" stroke-linejoin="round"/>
<circle cx="1550.4" cy="1534.1" r="2.4" fill="#f2d6f2"/>
<path d="M1555.2 1526.3 L1561.0 1528.5 L1569.7 1524.8 L1566.0 1532.1 L1568.9 1539.3 L1561.7 1535.7 L1556.6 1539.3 L1558.8 1532.1Z" fill="#a23aa8" stroke="#a23aa8" stroke-width="1" stroke-linejoin="round"/>
<circle cx="1562.4" cy="1532.1" r="2.4" fill="#f2d6f2"/>
<path d="M1573.2 1528.3 L1579.0 1530.5 L1587.7 1526.8 L1584.0 1534.1 L1586.9 1541.3 L1579.7 1537.7 L1574.6 1541.3 L1576.8 1534.1Z" fill="#a23aa8" stroke="#a23aa8" stroke-width="1" stroke-linejoin="round"/>
<circle cx="1580.4" cy="1534.1" r="2.4" fill="#f2d6f2"/>
<text x="1479.3" y="1564.5" font-size="23.38">macrophages</text>
<text x="1474.0" y="1624.4" font-size="23.51">TAMs</text>
<path d="M1547.6 1593.2 H1538 V1633 H1547.6" stroke="#000" stroke-width="2.6" fill="none"/>
<text x="1554.3" y="1602.0"><tspan font-size="22.73" font-style="italic">Id1</tspan><tspan font-size="17.73" font-style="italic" dy="-10.23">f/f</tspan></text>
<text x="1552.8" y="1644.5"><tspan font-size="23.49" font-style="italic">Id1</tspan><tspan font-size="18.32" font-style="italic" dy="-10.57">Lyz-KO</tspan></text>
<path d="M1481.6 1640.1 V1928.3" stroke="#000" stroke-width="3" fill="none"/>
<line x1="1469.7" y1="1928.3" x2="1672.5" y2="1928.3" stroke="#000" stroke-width="3"/>
<line x1="1469.7" y1="1641.6" x2="1481.6" y2="1641.6" stroke="#000" stroke-width="3"/>
<text x="1440.8" y="1650.6" font-size="23.00">55</text>
<line x1="1469.7" y1="1698.9" x2="1481.6" y2="1698.9" stroke="#000" stroke-width="3"/>
<text x="1440.8" y="1707.9" font-size="23.00">50</text>
<line x1="1469.7" y1="1756.3" x2="1481.6" y2="1756.3" stroke="#000" stroke-width="3"/>
<text x="1440.8" y="1765.2" font-size="23.00">45</text>
<line x1="1469.7" y1="1813.6" x2="1481.6" y2="1813.6" stroke="#000" stroke-width="3"/>
<text x="1440.8" y="1822.6" font-size="23.00">40</text>
<line x1="1469.7" y1="1871.0" x2="1481.6" y2="1871.0" stroke="#000" stroke-width="3"/>
<text x="1440.8" y="1879.9" font-size="23.00">35</text>
<line x1="1469.7" y1="1928.3" x2="1481.6" y2="1928.3" stroke="#000" stroke-width="3"/>
<text x="1440.8" y="1937.3" font-size="23.00">30</text>
<line x1="1535.1" y1="1928.3" x2="1535.1" y2="1939.3" stroke="#000" stroke-width="3"/>
<line x1="1617.2" y1="1928.3" x2="1617.2" y2="1939.3" stroke="#000" stroke-width="3"/>
<path d="M1508.5 1928.3 V1879.3 H1562.4 V1928.3" stroke="#ff2a00" stroke-width="3" fill="none"/>
<path d="M1591.0 1928.3 V1743.2 H1644.6 V1928.3" stroke="#1a8ea8" stroke-width="3" fill="none"/>
<line x1="1535.1" y1="1879.3" x2="1535.1" y2="1860.3" stroke="#ff2a00" stroke-width="3"/>
<line x1="1520.6" y1="1860.3" x2="1549.6" y2="1860.3" stroke="#ff2a00" stroke-width="3"/>
<line x1="1535.1" y1="1879.3" x2="1535.1" y2="1898.0" stroke="#ff2a00" stroke-width="3"/>
<line x1="1520.6" y1="1898.0" x2="1549.6" y2="1898.0" stroke="#ff2a00" stroke-width="3"/>
<line x1="1617.2" y1="1743.2" x2="1617.2" y2="1723.9" stroke="#1a8ea8" stroke-width="3"/>
<line x1="1603.9" y1="1723.9" x2="1630.5" y2="1723.9" stroke="#1a8ea8" stroke-width="3"/>
<line x1="1617.2" y1="1743.2" x2="1617.2" y2="1762.5" stroke="#1a8ea8" stroke-width="3"/>
<line x1="1603.9" y1="1762.5" x2="1630.5" y2="1762.5" stroke="#1a8ea8" stroke-width="3"/>
<circle cx="1535.7" cy="1841.2" r="5.8" fill="#fff" stroke="#ff2a00" stroke-width="2.8"/>
<circle cx="1523.9" cy="1897.8" r="5.8" fill="#fff" stroke="#ff2a00" stroke-width="2.8"/>
<circle cx="1546.9" cy="1897.8" r="5.8" fill="#fff" stroke="#ff2a00" stroke-width="2.8"/>
<circle cx="1617.7" cy="1704.5" r="5.8" fill="#fff" stroke="#1a8ea8" stroke-width="2.8"/>
<circle cx="1605.9" cy="1761.3" r="5.8" fill="#fff" stroke="#1a8ea8" stroke-width="2.8"/>
<circle cx="1628.6" cy="1761.3" r="5.8" fill="#fff" stroke="#1a8ea8" stroke-width="2.8"/>
<text x="1535.2" y="1679.0"><tspan font-size="22.99" font-style="italic">P</tspan><tspan font-size="22.99"> = 0.0070</tspan></text>
<line x1="1544.7" y1="1687.0" x2="1619.0" y2="1687.0" stroke="#000" stroke-width="3"/>
<text x="1503.4" y="1965.9"><tspan font-size="22.82" font-style="italic">Id1</tspan><tspan font-size="17.80" font-style="italic" dy="-10.27">f/f</tspan></text>
<text x="1580.5" y="1965.9"><tspan font-size="23.29" font-style="italic">Id1</tspan><tspan font-size="18.17" font-style="italic" dy="-10.48">Lyz-KO</tspan></text>
<text transform="translate(1402.6,1792.0) rotate(-90)" x="-59.5" y="0"><tspan font-size="23.67">CD8</tspan><tspan font-size="16.09" dy="-9.94">+</tspan><tspan font-size="23.67" dy="9.94"> T cell</tspan></text>
<text transform="translate(1430.8,1789.4) rotate(-90)" x="-94.0" y="0"><tspan font-size="23.66">migration rate (%)</tspan></text>
<text x="1705.0" y="1548.3" font-size="52.40" font-weight="bold">q</text>
<text x="1777.3" y="1457.0"><tspan font-size="23.76">Human CD8</tspan><tspan font-size="13.07" dy="-10.69">+</tspan><tspan font-size="23.76" dy="10.69"> T cells</tspan></text>
<path d="M1810.8 1498.6 V1534.4 A61.9 11.5 0 0 0 1934.6 1534.4 V1498.6 Z" fill="#fbe3c5" stroke="#000" stroke-width="3"/>
<ellipse cx="1872.7" cy="1534.4" rx="61.9" ry="11.5" fill="#fbefee" stroke="#000" stroke-width="3"/>
<path d="M1810.8 1498.6 A61.9 11.5 0 0 1 1934.6 1498.6" fill="#fff" stroke="#000" stroke-width="3"/>
<path d="M1810.8 1498.6 A61.9 11.5 0 0 0 1934.6 1498.6" fill="none" stroke="#000" stroke-width="3"/>
<ellipse cx="1873.3" cy="1509.1" rx="44.5" ry="12" fill="#d5e8f0" stroke="#2b3192" stroke-width="3.5"/>
<path d="M1812.8 1473.2 H1830.3 V1509.1 M1918.9 1509.1 V1473.2 H1936.1" fill="none" stroke="#2b3192" stroke-width="3.5"/>
<circle cx="1843.3" cy="1511.1" r="4.6" fill="#d6d6d6" stroke="#e3201c" stroke-width="2.9"/>
<circle cx="1851.3" cy="1510.1" r="4.6" fill="#d6d6d6" stroke="#e3201c" stroke-width="2.9"/>
<circle cx="1859.3" cy="1507.1" r="4.6" fill="#d6d6d6" stroke="#e3201c" stroke-width="2.9"/>
<circle cx="1863.3" cy="1501.1" r="4.6" fill="#d6d6d6" stroke="#e3201c" stroke-width="2.9"/>
<circle cx="1871.3" cy="1513.1" r="4.6" fill="#d6d6d6" stroke="#e3201c" stroke-width="2.9"/>
<circle cx="1875.3" cy="1500.1" r="4.6" fill="#d6d6d6" stroke="#e3201c" stroke-width="2.9"/>
<circle cx="1885.3" cy="1512.1" r="4.6" fill="#d6d6d6" stroke="#e3201c" stroke-width="2.9"/>
<circle cx="1889.3" cy="1502.1" r="4.6" fill="#d6d6d6" stroke="#e3201c" stroke-width="2.9"/>
<circle cx="1897.3" cy="1505.1" r="4.6" fill="#d6d6d6" stroke="#e3201c" stroke-width="2.9"/>
<circle cx="1904.3" cy="1508.1" r="4.6" fill="#d6d6d6" stroke="#e3201c" stroke-width="2.9"/>
<circle cx="1853.3" cy="1506.1" r="4.6" fill="#d6d6d6" stroke="#e3201c" stroke-width="2.9"/>
<path d="M1872.7 1511.1 V1531.4" stroke="#222" stroke-width="1.2"/>
<path d="M1869.7 1526.4 L1872.7 1533.4 L1875.7 1526.4 Z" fill="#222"/>
<path d="M1832.4 1529.6 L1838.2 1531.8 L1846.9 1528.2 L1843.3 1535.4 L1846.2 1542.7 L1839.0 1539.0 L1833.9 1542.7 L1836.1 1535.4Z" fill="#a23aa8" stroke="#a23aa8" stroke-width="1" stroke-linejoin="round"/>
<circle cx="1839.7" cy="1535.4" r="2.4" fill="#f2d6f2"/>
<path d="M1847.4 1527.6 L1853.2 1529.8 L1861.9 1526.2 L1858.3 1533.4 L1861.2 1540.7 L1854.0 1537.0 L1848.9 1540.7 L1851.1 1533.4Z" fill="#a23aa8" stroke="#a23aa8" stroke-width="1" stroke-linejoin="round"/>
<circle cx="1854.7" cy="1533.4" r="2.4" fill="#f2d6f2"/>
<path d="M1867.4 1529.6 L1873.2 1531.8 L1881.9 1528.2 L1878.3 1535.4 L1881.2 1542.7 L1874.0 1539.0 L1868.9 1542.7 L1871.1 1535.4Z" fill="#a23aa8" stroke="#a23aa8" stroke-width="1" stroke-linejoin="round"/>
<circle cx="1874.7" cy="1535.4" r="2.4" fill="#f2d6f2"/>
<path d="M1879.4 1527.6 L1885.2 1529.8 L1893.9 1526.2 L1890.3 1533.4 L1893.2 1540.7 L1886.0 1537.0 L1880.9 1540.7 L1883.1 1533.4Z" fill="#a23aa8" stroke="#a23aa8" stroke-width="1" stroke-linejoin="round"/>
<circle cx="1886.7" cy="1533.4" r="2.4" fill="#f2d6f2"/>
<path d="M1897.4 1529.6 L1903.2 1531.8 L1911.9 1528.2 L1908.3 1535.4 L1911.2 1542.7 L1904.0 1539.0 L1898.9 1542.7 L1901.1 1535.4Z" fill="#a23aa8" stroke="#a23aa8" stroke-width="1" stroke-linejoin="round"/>
<circle cx="1904.7" cy="1535.4" r="2.4" fill="#f2d6f2"/>
<text x="1800.3" y="1565.0" font-size="23.35">macrophages</text>
<text x="1799.7" y="1618.6" font-size="23.63">TAMs</text>
<path d="M1873.7 1587 H1864.2 V1627.2 H1873.7" stroke="#000" stroke-width="2.6" fill="none"/>
<text x="1880.0" y="1596.6" font-size="23.04" font-style="italic">Ctrl</text>
<text x="1878.7" y="1631.0"><tspan font-size="24.51" font-style="italic">ID1</tspan><tspan font-size="16.66" font-style="italic" dy="-9.80">KD</tspan></text>
<path d="M1818.7 1657.2 V1930.0" stroke="#000" stroke-width="3" fill="none"/>
<line x1="1806.8" y1="1930.0" x2="2000.0" y2="1930.0" stroke="#000" stroke-width="3"/>
<line x1="1806.8" y1="1658.8" x2="1818.7" y2="1658.8" stroke="#000" stroke-width="3"/>
<text x="1779.0" y="1667.8" font-size="23.00">40</text>
<line x1="1806.8" y1="1726.6" x2="1818.7" y2="1726.6" stroke="#000" stroke-width="3"/>
<text x="1779.0" y="1735.6" font-size="23.00">30</text>
<line x1="1806.8" y1="1794.4" x2="1818.7" y2="1794.4" stroke="#000" stroke-width="3"/>
<text x="1779.0" y="1803.4" font-size="23.00">20</text>
<line x1="1806.8" y1="1862.2" x2="1818.7" y2="1862.2" stroke="#000" stroke-width="3"/>
<text x="1779.0" y="1871.2" font-size="23.00">10</text>
<line x1="1806.8" y1="1930.0" x2="1818.7" y2="1930.0" stroke="#000" stroke-width="3"/>
<text x="1791.7" y="1939.0" font-size="23.00">0</text>
<line x1="1869.7" y1="1930.0" x2="1869.7" y2="1941.0" stroke="#000" stroke-width="3"/>
<line x1="1947.2" y1="1930.0" x2="1947.2" y2="1941.0" stroke="#000" stroke-width="3"/>
<circle cx="1869.7" cy="1857.7" r="5.8" fill="#fff" stroke="#ff2a00" stroke-width="2.8"/>
<circle cx="1869.7" cy="1860.6" r="5.8" fill="#fff" stroke="#ff2a00" stroke-width="2.8"/>
<circle cx="1869.7" cy="1862.5" r="5.8" fill="#fff" stroke="#ff2a00" stroke-width="2.8"/>
<circle cx="1869.7" cy="1872.9" r="5.8" fill="#fff" stroke="#ff2a00" stroke-width="2.8"/>
<circle cx="1947.2" cy="1726.9" r="5.8" fill="#fff" stroke="#0f8c8c" stroke-width="2.8"/>
<circle cx="1947.2" cy="1791.2" r="5.8" fill="#fff" stroke="#0f8c8c" stroke-width="2.8"/>
<circle cx="1947.2" cy="1808.6" r="5.8" fill="#fff" stroke="#0f8c8c" stroke-width="2.8"/>
<circle cx="1947.2" cy="1821.8" r="5.8" fill="#fff" stroke="#0f8c8c" stroke-width="2.8"/>
<line x1="1869.7" y1="1857.7" x2="1947.2" y2="1726.9" stroke="#000" stroke-width="3"/>
<line x1="1869.7" y1="1860.6" x2="1947.2" y2="1791.2" stroke="#000" stroke-width="3"/>
<line x1="1869.7" y1="1862.5" x2="1947.2" y2="1808.6" stroke="#000" stroke-width="3"/>
<line x1="1869.7" y1="1872.9" x2="1947.2" y2="1821.8" stroke="#000" stroke-width="3"/>
<text x="1848.1" y="1678.8"><tspan font-size="22.87" font-style="italic">P</tspan><tspan font-size="22.87"> = 0.0337</tspan></text>
<line x1="1855.8" y1="1686.9" x2="1929.8" y2="1686.9" stroke="#000" stroke-width="3"/>
<text x="1843.3" y="1967.4" font-size="22.09" font-style="italic">Ctrl</text>
<text x="1922.7" y="1967.4"><tspan font-size="24.19" font-style="italic">ID1</tspan><tspan font-size="16.45" font-style="italic" dy="-9.67">KD</tspan></text>
<text transform="translate(1734.5,1789.0) rotate(-90)" x="-60.0" y="0"><tspan font-size="23.87">CD8</tspan><tspan font-size="16.23" dy="-10.02">+</tspan><tspan font-size="23.87" dy="10.02"> T cell</tspan></text>
<text transform="translate(1763.8,1785.9) rotate(-90)" x="-94.5" y="0"><tspan font-size="23.79">migration rate (%)</tspan></text>
</svg>
</body></html>
